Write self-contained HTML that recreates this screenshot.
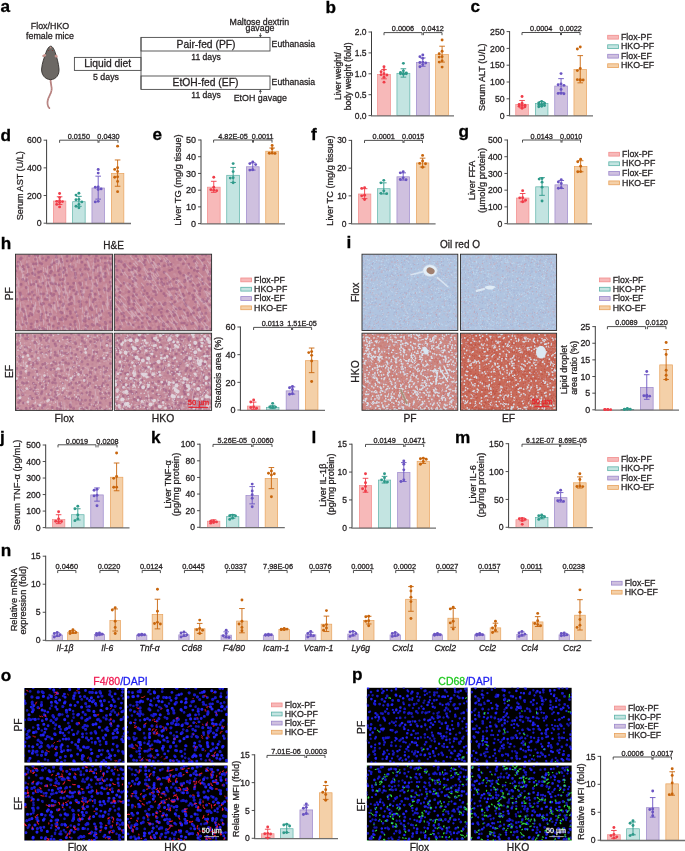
<!DOCTYPE html>
<html><head><meta charset="utf-8"><style>
html,body{margin:0;padding:0;background:#fff;}
svg{display:block;font-family:"Liberation Sans", sans-serif;will-change:transform;}
</style></head><body>
<svg width="685" height="851" viewBox="0 0 685 851" fill="#231f20">
<style>text{stroke:#231f20;stroke-width:0.28px} text.nos{stroke:none}</style>
<defs><filter id="blr" x="-2%" y="-2%" width="104%" height="104%"><feGaussianBlur stdDeviation="0.45"/></filter></defs>
<rect width="685" height="851" fill="#fff"/>
<text x="0.50" y="12.40" font-size="17.2" fill="#000" style="stroke:#000" font-weight="bold">a</text>
<text x="50.00" y="28.60" font-size="8.9" text-anchor="middle">Flox/HKO</text>
<text x="50.00" y="39.30" font-size="8.9" text-anchor="middle">female mice</text>
<g>
<path d="M50.6,79 C50.2,83 52,86 51.6,90 C51.2,94 48.2,97 47.6,101 C47.2,104 47.6,106.5 49.4,108.2" fill="none" stroke="#b27c7a" stroke-width="1.7" stroke-linecap="round"/>
<path d="M50.6,79 C50.2,83 52,86 51.6,90 C51.2,94 48.2,97 47.6,101 C47.2,104 47.6,106.5 49.4,108.2" fill="none" stroke="#d4a6a2" stroke-width="0.6" stroke-dasharray="1 1.2"/>
<path d="M50.6,46.2 C48.8,46.4 47,49.5 46,52.5 C44.5,57 42,63 41.6,69 C41.3,74.5 45,79.6 50.6,79.6 C56.2,79.6 59.4,74.5 59,69 C58.6,63 56.6,57 55.2,52.5 C54.2,49.5 52.4,46 50.6,46.2 Z" fill="#6c6864" stroke="#34302e" stroke-width="0.9"/>
<path d="M50.6,46.4 L49.4,48.2 L51.8,48.2 Z" fill="#c89890"/>
<ellipse cx="44.2" cy="55.6" rx="2.1" ry="1.3" fill="#c8948e" transform="rotate(-20 44.2 55.6)"/>
<ellipse cx="56.2" cy="56.2" rx="1.6" ry="1.3" fill="#c8948e" transform="rotate(20 56.2 56.2)"/>
<circle cx="48.6" cy="50.4" r="0.5" fill="#803030"/><circle cx="52.6" cy="50.4" r="0.5" fill="#803030"/>
</g>
<rect x="74.40" y="57.40" width="66.60" height="13.00" fill="none" stroke="#4a4a4a" stroke-width="0.9"/>
<text x="107.70" y="66.90" font-size="10.3" text-anchor="middle">Liquid diet</text>
<text x="106.00" y="79.80" font-size="8.8" text-anchor="middle">5 days</text>
<rect x="141.00" y="37.40" width="129.00" height="13.60" fill="none" stroke="#4a4a4a" stroke-width="0.9"/>
<rect x="141.00" y="76.00" width="129.00" height="13.40" fill="none" stroke="#4a4a4a" stroke-width="0.9"/>
<line x1="141.00" y1="37.40" x2="141.00" y2="89.40" stroke="#4a4a4a" stroke-width="0.9"/>
<text x="206.00" y="47.60" font-size="10.3" text-anchor="middle">Pair-fed (PF)</text>
<text x="205.50" y="86.40" font-size="10.3" text-anchor="middle">EtOH-fed (EF)</text>
<text x="206.00" y="59.60" font-size="8.6" text-anchor="middle">11 days</text>
<text x="206.00" y="98.20" font-size="8.6" text-anchor="middle">11 days</text>
<text x="271.60" y="46.80" font-size="8.7">Euthanasia</text>
<text x="271.60" y="85.40" font-size="8.7">Euthanasia</text>
<text x="259.40" y="24.60" font-size="8.8" text-anchor="middle">Maltose dextrin</text>
<text x="260.00" y="30.80" font-size="8.8" text-anchor="middle">gavage</text>
<line x1="260.40" y1="33.00" x2="260.40" y2="37.00" stroke="#4a4a4a" stroke-width="0.8"/>
<path d="M258.9,35 L260.4,37.4 L261.9,35 Z" fill="#4a4a4a"/>
<line x1="260.40" y1="89.80" x2="260.40" y2="94.00" stroke="#4a4a4a" stroke-width="0.8"/>
<path d="M258.9,92 L260.4,89.6 L261.9,92 Z" fill="#4a4a4a"/>
<text x="260.30" y="101.20" font-size="8.9" text-anchor="middle">EtOH gavage</text>
<text x="325.50" y="13.00" font-size="17.2" fill="#000" style="stroke:#000" font-weight="bold">b</text>
<rect x="377.55" y="74.57" width="12.90" height="41.03" fill="#f7b9b9" stroke="#f28c8c" stroke-width="0.7"/>
<rect x="396.95" y="73.31" width="12.90" height="42.29" fill="#c3e4e1" stroke="#5cb3a8" stroke-width="0.7"/>
<rect x="416.35" y="62.45" width="12.90" height="53.15" fill="#cfc0df" stroke="#9c88cc" stroke-width="0.7"/>
<rect x="435.65" y="54.50" width="12.90" height="61.10" fill="#f4d0a8" stroke="#e8a25c" stroke-width="0.7"/>
<line x1="371.50" y1="31.50" x2="371.50" y2="115.60" stroke="#3c3c3c" stroke-width="1.0"/>
<line x1="371.00" y1="115.90" x2="454.00" y2="115.90" stroke="#6e6e6e" stroke-width="1.3"/>
<line x1="368.50" y1="115.60" x2="371.50" y2="115.60" stroke="#3c3c3c" stroke-width="0.9"/>
<text x="366.50" y="118.66" font-size="8.5" text-anchor="end">0.0</text>
<line x1="368.50" y1="94.70" x2="371.50" y2="94.70" stroke="#3c3c3c" stroke-width="0.9"/>
<text x="366.50" y="97.76" font-size="8.5" text-anchor="end">0.5</text>
<line x1="368.50" y1="73.80" x2="371.50" y2="73.80" stroke="#3c3c3c" stroke-width="0.9"/>
<text x="366.50" y="76.86" font-size="8.5" text-anchor="end">1.0</text>
<line x1="368.50" y1="52.90" x2="371.50" y2="52.90" stroke="#3c3c3c" stroke-width="0.9"/>
<text x="366.50" y="55.96" font-size="8.5" text-anchor="end">1.5</text>
<line x1="368.50" y1="32.00" x2="371.50" y2="32.00" stroke="#3c3c3c" stroke-width="0.9"/>
<text x="366.50" y="35.06" font-size="8.5" text-anchor="end">2.0</text>
<line x1="384.00" y1="69.62" x2="384.00" y2="78.82" stroke="#f03c48" stroke-width="0.9"/>
<line x1="381.20" y1="69.62" x2="386.80" y2="69.62" stroke="#f03c48" stroke-width="0.9"/>
<line x1="381.20" y1="78.82" x2="386.80" y2="78.82" stroke="#f03c48" stroke-width="0.9"/>
<circle cx="384.00" cy="66.69" r="1.45" fill="#f03c48"/>
<circle cx="384.00" cy="69.62" r="1.45" fill="#f03c48"/>
<circle cx="381.10" cy="71.71" r="1.45" fill="#f03c48"/>
<circle cx="384.00" cy="73.80" r="1.45" fill="#f03c48"/>
<circle cx="381.10" cy="74.64" r="1.45" fill="#f03c48"/>
<circle cx="386.90" cy="75.05" r="1.45" fill="#f03c48"/>
<circle cx="384.00" cy="77.14" r="1.45" fill="#f03c48"/>
<circle cx="384.00" cy="82.16" r="1.45" fill="#f03c48"/>
<line x1="403.40" y1="68.78" x2="403.40" y2="77.14" stroke="#2e9a8a" stroke-width="0.9"/>
<line x1="400.60" y1="68.78" x2="406.20" y2="68.78" stroke="#2e9a8a" stroke-width="0.9"/>
<line x1="400.60" y1="77.14" x2="406.20" y2="77.14" stroke="#2e9a8a" stroke-width="0.9"/>
<circle cx="403.40" cy="63.35" r="1.45" fill="#2e9a8a"/>
<circle cx="403.40" cy="70.87" r="1.45" fill="#2e9a8a"/>
<circle cx="400.50" cy="72.55" r="1.45" fill="#2e9a8a"/>
<circle cx="406.30" cy="72.96" r="1.45" fill="#2e9a8a"/>
<circle cx="403.40" cy="73.38" r="1.45" fill="#2e9a8a"/>
<circle cx="400.50" cy="73.80" r="1.45" fill="#2e9a8a"/>
<circle cx="406.30" cy="73.80" r="1.45" fill="#2e9a8a"/>
<circle cx="403.40" cy="74.22" r="1.45" fill="#2e9a8a"/>
<line x1="422.80" y1="57.92" x2="422.80" y2="66.28" stroke="#6a54c2" stroke-width="0.9"/>
<line x1="420.00" y1="57.92" x2="425.60" y2="57.92" stroke="#6a54c2" stroke-width="0.9"/>
<line x1="420.00" y1="66.28" x2="425.60" y2="66.28" stroke="#6a54c2" stroke-width="0.9"/>
<circle cx="422.80" cy="54.99" r="1.45" fill="#6a54c2"/>
<circle cx="419.90" cy="56.66" r="1.45" fill="#6a54c2"/>
<circle cx="422.80" cy="58.33" r="1.45" fill="#6a54c2"/>
<circle cx="422.80" cy="62.10" r="1.45" fill="#6a54c2"/>
<circle cx="419.90" cy="62.51" r="1.45" fill="#6a54c2"/>
<circle cx="425.70" cy="62.93" r="1.45" fill="#6a54c2"/>
<circle cx="422.80" cy="64.60" r="1.45" fill="#6a54c2"/>
<circle cx="419.90" cy="66.69" r="1.45" fill="#6a54c2"/>
<line x1="442.10" y1="46.21" x2="442.10" y2="62.10" stroke="#c8650c" stroke-width="0.9"/>
<line x1="439.30" y1="46.21" x2="444.90" y2="46.21" stroke="#c8650c" stroke-width="0.9"/>
<line x1="439.30" y1="62.10" x2="444.90" y2="62.10" stroke="#c8650c" stroke-width="0.9"/>
<circle cx="442.10" cy="39.94" r="1.45" fill="#c8650c"/>
<circle cx="442.10" cy="51.23" r="1.45" fill="#c8650c"/>
<circle cx="439.20" cy="53.74" r="1.45" fill="#c8650c"/>
<circle cx="442.10" cy="56.66" r="1.45" fill="#c8650c"/>
<circle cx="439.20" cy="57.08" r="1.45" fill="#c8650c"/>
<circle cx="442.10" cy="60.84" r="1.45" fill="#c8650c"/>
<circle cx="439.20" cy="62.10" r="1.45" fill="#c8650c"/>
<circle cx="442.10" cy="67.11" r="1.45" fill="#c8650c"/>
<path d="M384.00,35.20V32.60H422.00V35.20" fill="none" stroke="#3c3c3c" stroke-width="0.9"/>
<text x="403.00" y="31.30" font-size="7.3" text-anchor="middle">0.0006</text>
<path d="M423.40,35.20V32.60H442.00V35.20" fill="none" stroke="#3c3c3c" stroke-width="0.9"/>
<text x="432.70" y="31.30" font-size="7.3" text-anchor="middle">0.0412</text>
<text transform="translate(341.20,76.10) rotate(-90)" font-size="8.5" text-anchor="middle" fill="#231f20">Liver weight/</text>
<text transform="translate(350.60,76.40) rotate(-90)" font-size="8.6" text-anchor="middle" fill="#231f20">body weight (fold)</text>
<text x="470.50" y="12.40" font-size="17.2" fill="#000" style="stroke:#000" font-weight="bold">c</text>
<rect x="515.75" y="104.53" width="12.60" height="11.07" fill="#f7b9b9" stroke="#f28c8c" stroke-width="0.7"/>
<rect x="535.35" y="103.52" width="12.60" height="12.08" fill="#c3e4e1" stroke="#5cb3a8" stroke-width="0.7"/>
<rect x="554.75" y="86.05" width="12.60" height="29.55" fill="#cfc0df" stroke="#9c88cc" stroke-width="0.7"/>
<rect x="573.95" y="69.58" width="12.60" height="46.02" fill="#f4d0a8" stroke="#e8a25c" stroke-width="0.7"/>
<line x1="509.60" y1="31.10" x2="509.60" y2="115.60" stroke="#3c3c3c" stroke-width="1.0"/>
<line x1="509.10" y1="115.90" x2="593.00" y2="115.90" stroke="#6e6e6e" stroke-width="1.3"/>
<line x1="506.60" y1="115.60" x2="509.60" y2="115.60" stroke="#3c3c3c" stroke-width="0.9"/>
<text x="504.60" y="118.73" font-size="8.7" text-anchor="end">0</text>
<line x1="506.60" y1="98.80" x2="509.60" y2="98.80" stroke="#3c3c3c" stroke-width="0.9"/>
<text x="504.60" y="101.93" font-size="8.7" text-anchor="end">50</text>
<line x1="506.60" y1="82.00" x2="509.60" y2="82.00" stroke="#3c3c3c" stroke-width="0.9"/>
<text x="504.60" y="85.13" font-size="8.7" text-anchor="end">100</text>
<line x1="506.60" y1="65.20" x2="509.60" y2="65.20" stroke="#3c3c3c" stroke-width="0.9"/>
<text x="504.60" y="68.33" font-size="8.7" text-anchor="end">150</text>
<line x1="506.60" y1="48.40" x2="509.60" y2="48.40" stroke="#3c3c3c" stroke-width="0.9"/>
<text x="504.60" y="51.53" font-size="8.7" text-anchor="end">200</text>
<line x1="506.60" y1="31.60" x2="509.60" y2="31.60" stroke="#3c3c3c" stroke-width="0.9"/>
<text x="504.60" y="34.73" font-size="8.7" text-anchor="end">250</text>
<line x1="522.05" y1="100.48" x2="522.05" y2="107.87" stroke="#f03c48" stroke-width="0.9"/>
<line x1="519.25" y1="100.48" x2="524.85" y2="100.48" stroke="#f03c48" stroke-width="0.9"/>
<line x1="519.25" y1="107.87" x2="524.85" y2="107.87" stroke="#f03c48" stroke-width="0.9"/>
<circle cx="522.05" cy="96.45" r="1.45" fill="#f03c48"/>
<circle cx="522.05" cy="103.17" r="1.45" fill="#f03c48"/>
<circle cx="519.15" cy="104.51" r="1.45" fill="#f03c48"/>
<circle cx="524.95" cy="105.18" r="1.45" fill="#f03c48"/>
<circle cx="522.05" cy="105.52" r="1.45" fill="#f03c48"/>
<circle cx="519.15" cy="106.19" r="1.45" fill="#f03c48"/>
<circle cx="524.95" cy="106.86" r="1.45" fill="#f03c48"/>
<circle cx="522.05" cy="108.21" r="1.45" fill="#f03c48"/>
<line x1="541.65" y1="101.49" x2="541.65" y2="104.85" stroke="#2e9a8a" stroke-width="0.9"/>
<line x1="538.85" y1="101.49" x2="544.45" y2="101.49" stroke="#2e9a8a" stroke-width="0.9"/>
<line x1="538.85" y1="104.85" x2="544.45" y2="104.85" stroke="#2e9a8a" stroke-width="0.9"/>
<circle cx="541.65" cy="101.49" r="1.45" fill="#2e9a8a"/>
<circle cx="538.75" cy="102.83" r="1.45" fill="#2e9a8a"/>
<circle cx="544.55" cy="103.17" r="1.45" fill="#2e9a8a"/>
<circle cx="541.65" cy="104.51" r="1.45" fill="#2e9a8a"/>
<circle cx="538.75" cy="104.85" r="1.45" fill="#2e9a8a"/>
<circle cx="544.55" cy="105.52" r="1.45" fill="#2e9a8a"/>
<circle cx="541.65" cy="106.19" r="1.45" fill="#2e9a8a"/>
<circle cx="538.75" cy="106.86" r="1.45" fill="#2e9a8a"/>
<line x1="561.05" y1="78.64" x2="561.05" y2="92.75" stroke="#6a54c2" stroke-width="0.9"/>
<line x1="558.25" y1="78.64" x2="563.85" y2="78.64" stroke="#6a54c2" stroke-width="0.9"/>
<line x1="558.25" y1="92.75" x2="563.85" y2="92.75" stroke="#6a54c2" stroke-width="0.9"/>
<circle cx="561.05" cy="73.60" r="1.45" fill="#6a54c2"/>
<circle cx="561.05" cy="84.02" r="1.45" fill="#6a54c2"/>
<circle cx="558.15" cy="84.69" r="1.45" fill="#6a54c2"/>
<circle cx="563.95" cy="85.36" r="1.45" fill="#6a54c2"/>
<circle cx="561.05" cy="89.39" r="1.45" fill="#6a54c2"/>
<circle cx="561.05" cy="93.42" r="1.45" fill="#6a54c2"/>
<circle cx="558.15" cy="93.42" r="1.45" fill="#6a54c2"/>
<circle cx="563.95" cy="93.76" r="1.45" fill="#6a54c2"/>
<line x1="580.25" y1="55.62" x2="580.25" y2="82.84" stroke="#c8650c" stroke-width="0.9"/>
<line x1="577.45" y1="55.62" x2="583.05" y2="55.62" stroke="#c8650c" stroke-width="0.9"/>
<line x1="577.45" y1="82.84" x2="583.05" y2="82.84" stroke="#c8650c" stroke-width="0.9"/>
<circle cx="580.25" cy="47.06" r="1.45" fill="#c8650c"/>
<circle cx="577.35" cy="49.07" r="1.45" fill="#c8650c"/>
<circle cx="580.25" cy="68.56" r="1.45" fill="#c8650c"/>
<circle cx="577.35" cy="70.58" r="1.45" fill="#c8650c"/>
<circle cx="580.25" cy="79.65" r="1.45" fill="#c8650c"/>
<circle cx="577.35" cy="79.65" r="1.45" fill="#c8650c"/>
<circle cx="583.15" cy="79.98" r="1.45" fill="#c8650c"/>
<circle cx="580.25" cy="80.32" r="1.45" fill="#c8650c"/>
<path d="M522.00,35.10V32.50H560.50V35.10" fill="none" stroke="#3c3c3c" stroke-width="0.9"/>
<text x="541.25" y="31.20" font-size="7.3" text-anchor="middle">0.0004</text>
<path d="M561.50,35.10V32.50H580.00V35.10" fill="none" stroke="#3c3c3c" stroke-width="0.9"/>
<text x="570.75" y="31.20" font-size="7.3" text-anchor="middle">0.0022</text>
<text transform="translate(484.50,77.20) rotate(-90)" font-size="9.1" text-anchor="middle" fill="#231f20">Serum ALT (U/L)</text>
<rect x="607.70" y="35.30" width="10.70" height="3.80" fill="#f7b9b9" stroke="#f28c8c" stroke-width="0.8"/>
<text x="621.00" y="39.90" font-size="8.8">Flox-PF</text>
<rect x="607.70" y="44.80" width="10.70" height="3.80" fill="#c3e4e1" stroke="#5cb3a8" stroke-width="0.8"/>
<text x="621.00" y="49.40" font-size="8.8">HKO-PF</text>
<rect x="607.70" y="54.30" width="10.70" height="3.80" fill="#cfc0df" stroke="#9c88cc" stroke-width="0.8"/>
<text x="621.00" y="58.90" font-size="8.8">Flox-EF</text>
<rect x="607.70" y="63.80" width="10.70" height="3.80" fill="#f4d0a8" stroke="#e8a25c" stroke-width="0.8"/>
<text x="621.00" y="68.40" font-size="8.8">HKO-EF</text>
<text x="0.50" y="141.00" font-size="17.2" fill="#000" style="stroke:#000" font-weight="bold">d</text>
<rect x="53.35" y="201.00" width="12.50" height="22.20" fill="#f7b9b9" stroke="#f28c8c" stroke-width="0.7"/>
<rect x="72.65" y="201.69" width="12.50" height="21.51" fill="#c3e4e1" stroke="#5cb3a8" stroke-width="0.7"/>
<rect x="91.95" y="188.00" width="12.50" height="35.20" fill="#cfc0df" stroke="#9c88cc" stroke-width="0.7"/>
<rect x="111.35" y="173.47" width="12.50" height="49.73" fill="#f4d0a8" stroke="#e8a25c" stroke-width="0.7"/>
<line x1="46.60" y1="139.70" x2="46.60" y2="223.20" stroke="#3c3c3c" stroke-width="1.0"/>
<line x1="46.10" y1="223.50" x2="131.00" y2="223.50" stroke="#6e6e6e" stroke-width="1.3"/>
<line x1="43.60" y1="223.20" x2="46.60" y2="223.20" stroke="#3c3c3c" stroke-width="0.9"/>
<text x="41.60" y="226.35" font-size="8.75" text-anchor="end">0</text>
<line x1="43.60" y1="195.53" x2="46.60" y2="195.53" stroke="#3c3c3c" stroke-width="0.9"/>
<text x="41.60" y="198.68" font-size="8.75" text-anchor="end">200</text>
<line x1="43.60" y1="167.87" x2="46.60" y2="167.87" stroke="#3c3c3c" stroke-width="0.9"/>
<text x="41.60" y="171.02" font-size="8.75" text-anchor="end">400</text>
<line x1="43.60" y1="140.20" x2="46.60" y2="140.20" stroke="#3c3c3c" stroke-width="0.9"/>
<text x="41.60" y="143.35" font-size="8.75" text-anchor="end">600</text>
<line x1="59.60" y1="196.78" x2="59.60" y2="204.52" stroke="#f03c48" stroke-width="0.9"/>
<line x1="56.80" y1="196.78" x2="62.40" y2="196.78" stroke="#f03c48" stroke-width="0.9"/>
<line x1="56.80" y1="204.52" x2="62.40" y2="204.52" stroke="#f03c48" stroke-width="0.9"/>
<circle cx="59.60" cy="193.46" r="1.45" fill="#f03c48"/>
<circle cx="59.60" cy="197.61" r="1.45" fill="#f03c48"/>
<circle cx="59.60" cy="200.65" r="1.45" fill="#f03c48"/>
<circle cx="56.70" cy="201.34" r="1.45" fill="#f03c48"/>
<circle cx="62.50" cy="201.62" r="1.45" fill="#f03c48"/>
<circle cx="59.60" cy="202.59" r="1.45" fill="#f03c48"/>
<circle cx="56.70" cy="204.39" r="1.45" fill="#f03c48"/>
<circle cx="59.60" cy="206.88" r="1.45" fill="#f03c48"/>
<line x1="78.90" y1="196.36" x2="78.90" y2="206.32" stroke="#2e9a8a" stroke-width="0.9"/>
<line x1="76.10" y1="196.36" x2="81.70" y2="196.36" stroke="#2e9a8a" stroke-width="0.9"/>
<line x1="76.10" y1="206.32" x2="81.70" y2="206.32" stroke="#2e9a8a" stroke-width="0.9"/>
<circle cx="78.90" cy="193.18" r="1.45" fill="#2e9a8a"/>
<circle cx="76.00" cy="195.12" r="1.45" fill="#2e9a8a"/>
<circle cx="78.90" cy="199.41" r="1.45" fill="#2e9a8a"/>
<circle cx="76.00" cy="199.68" r="1.45" fill="#2e9a8a"/>
<circle cx="81.80" cy="201.90" r="1.45" fill="#2e9a8a"/>
<circle cx="78.90" cy="204.39" r="1.45" fill="#2e9a8a"/>
<circle cx="76.00" cy="206.32" r="1.45" fill="#2e9a8a"/>
<circle cx="78.90" cy="207.84" r="1.45" fill="#2e9a8a"/>
<line x1="98.20" y1="176.17" x2="98.20" y2="199.13" stroke="#6a54c2" stroke-width="0.9"/>
<line x1="95.40" y1="176.17" x2="101.00" y2="176.17" stroke="#6a54c2" stroke-width="0.9"/>
<line x1="95.40" y1="199.13" x2="101.00" y2="199.13" stroke="#6a54c2" stroke-width="0.9"/>
<circle cx="98.20" cy="169.53" r="1.45" fill="#6a54c2"/>
<circle cx="98.20" cy="173.12" r="1.45" fill="#6a54c2"/>
<circle cx="98.20" cy="186.96" r="1.45" fill="#6a54c2"/>
<circle cx="95.30" cy="187.23" r="1.45" fill="#6a54c2"/>
<circle cx="101.10" cy="188.89" r="1.45" fill="#6a54c2"/>
<circle cx="98.20" cy="189.45" r="1.45" fill="#6a54c2"/>
<circle cx="98.20" cy="201.34" r="1.45" fill="#6a54c2"/>
<circle cx="95.30" cy="201.90" r="1.45" fill="#6a54c2"/>
<line x1="117.60" y1="159.98" x2="117.60" y2="186.26" stroke="#c8650c" stroke-width="0.9"/>
<line x1="114.80" y1="159.98" x2="120.40" y2="159.98" stroke="#c8650c" stroke-width="0.9"/>
<line x1="114.80" y1="186.26" x2="120.40" y2="186.26" stroke="#c8650c" stroke-width="0.9"/>
<circle cx="117.60" cy="146.15" r="1.45" fill="#c8650c"/>
<circle cx="117.60" cy="167.73" r="1.45" fill="#c8650c"/>
<circle cx="114.70" cy="169.39" r="1.45" fill="#c8650c"/>
<circle cx="117.60" cy="171.46" r="1.45" fill="#c8650c"/>
<circle cx="117.60" cy="176.86" r="1.45" fill="#c8650c"/>
<circle cx="114.70" cy="177.27" r="1.45" fill="#c8650c"/>
<circle cx="117.60" cy="181.42" r="1.45" fill="#c8650c"/>
<circle cx="117.60" cy="191.66" r="1.45" fill="#c8650c"/>
<path d="M59.60,142.80V140.20H98.00V142.80" fill="none" stroke="#3c3c3c" stroke-width="0.9"/>
<text x="78.80" y="138.90" font-size="7.3" text-anchor="middle">0.0150</text>
<path d="M99.00,142.80V140.20H118.00V142.80" fill="none" stroke="#3c3c3c" stroke-width="0.9"/>
<text x="108.50" y="138.90" font-size="7.3" text-anchor="middle">0.0430</text>
<text transform="translate(22.70,185.70) rotate(-90)" font-size="9.1" text-anchor="middle" fill="#231f20">Serum AST (U/L)</text>
<text x="152.50" y="140.00" font-size="17.2" fill="#000" style="stroke:#000" font-weight="bold">e</text>
<rect x="207.35" y="187.17" width="12.80" height="36.43" fill="#f7b9b9" stroke="#f28c8c" stroke-width="0.7"/>
<rect x="226.75" y="175.29" width="12.80" height="48.31" fill="#c3e4e1" stroke="#5cb3a8" stroke-width="0.7"/>
<rect x="246.35" y="166.77" width="12.80" height="56.83" fill="#cfc0df" stroke="#9c88cc" stroke-width="0.7"/>
<rect x="265.75" y="151.22" width="12.80" height="72.38" fill="#f4d0a8" stroke="#e8a25c" stroke-width="0.7"/>
<line x1="201.00" y1="139.50" x2="201.00" y2="223.60" stroke="#3c3c3c" stroke-width="1.0"/>
<line x1="200.50" y1="223.90" x2="285.00" y2="223.90" stroke="#6e6e6e" stroke-width="1.3"/>
<line x1="198.00" y1="223.60" x2="201.00" y2="223.60" stroke="#3c3c3c" stroke-width="0.9"/>
<text x="196.00" y="226.84" font-size="9.0" text-anchor="end">0</text>
<line x1="198.00" y1="206.88" x2="201.00" y2="206.88" stroke="#3c3c3c" stroke-width="0.9"/>
<text x="196.00" y="210.12" font-size="9.0" text-anchor="end">10</text>
<line x1="198.00" y1="190.16" x2="201.00" y2="190.16" stroke="#3c3c3c" stroke-width="0.9"/>
<text x="196.00" y="193.40" font-size="9.0" text-anchor="end">20</text>
<line x1="198.00" y1="173.44" x2="201.00" y2="173.44" stroke="#3c3c3c" stroke-width="0.9"/>
<text x="196.00" y="176.68" font-size="9.0" text-anchor="end">30</text>
<line x1="198.00" y1="156.72" x2="201.00" y2="156.72" stroke="#3c3c3c" stroke-width="0.9"/>
<text x="196.00" y="159.96" font-size="9.0" text-anchor="end">40</text>
<line x1="198.00" y1="140.00" x2="201.00" y2="140.00" stroke="#3c3c3c" stroke-width="0.9"/>
<text x="196.00" y="143.24" font-size="9.0" text-anchor="end">50</text>
<line x1="213.75" y1="181.30" x2="213.75" y2="192.33" stroke="#f03c48" stroke-width="0.9"/>
<line x1="210.95" y1="181.30" x2="216.55" y2="181.30" stroke="#f03c48" stroke-width="0.9"/>
<line x1="210.95" y1="192.33" x2="216.55" y2="192.33" stroke="#f03c48" stroke-width="0.9"/>
<circle cx="213.75" cy="177.29" r="1.45" fill="#f03c48"/>
<circle cx="213.75" cy="187.15" r="1.45" fill="#f03c48"/>
<circle cx="210.85" cy="189.66" r="1.45" fill="#f03c48"/>
<circle cx="213.75" cy="190.16" r="1.45" fill="#f03c48"/>
<circle cx="216.65" cy="190.66" r="1.45" fill="#f03c48"/>
<line x1="233.15" y1="167.42" x2="233.15" y2="182.47" stroke="#2e9a8a" stroke-width="0.9"/>
<line x1="230.35" y1="167.42" x2="235.95" y2="167.42" stroke="#2e9a8a" stroke-width="0.9"/>
<line x1="230.35" y1="182.47" x2="235.95" y2="182.47" stroke="#2e9a8a" stroke-width="0.9"/>
<circle cx="233.15" cy="163.58" r="1.45" fill="#2e9a8a"/>
<circle cx="233.15" cy="171.60" r="1.45" fill="#2e9a8a"/>
<circle cx="233.15" cy="177.79" r="1.45" fill="#2e9a8a"/>
<circle cx="230.25" cy="178.12" r="1.45" fill="#2e9a8a"/>
<circle cx="233.15" cy="182.80" r="1.45" fill="#2e9a8a"/>
<line x1="252.75" y1="162.74" x2="252.75" y2="170.10" stroke="#6a54c2" stroke-width="0.9"/>
<line x1="249.95" y1="162.74" x2="255.55" y2="162.74" stroke="#6a54c2" stroke-width="0.9"/>
<line x1="249.95" y1="170.10" x2="255.55" y2="170.10" stroke="#6a54c2" stroke-width="0.9"/>
<circle cx="252.75" cy="162.07" r="1.45" fill="#6a54c2"/>
<circle cx="249.85" cy="163.58" r="1.45" fill="#6a54c2"/>
<circle cx="255.65" cy="164.58" r="1.45" fill="#6a54c2"/>
<circle cx="252.75" cy="169.76" r="1.45" fill="#6a54c2"/>
<circle cx="249.85" cy="170.10" r="1.45" fill="#6a54c2"/>
<line x1="272.15" y1="148.03" x2="272.15" y2="153.71" stroke="#c8650c" stroke-width="0.9"/>
<line x1="269.35" y1="148.03" x2="274.95" y2="148.03" stroke="#c8650c" stroke-width="0.9"/>
<line x1="269.35" y1="153.71" x2="274.95" y2="153.71" stroke="#c8650c" stroke-width="0.9"/>
<circle cx="272.15" cy="145.52" r="1.45" fill="#c8650c"/>
<circle cx="272.15" cy="148.69" r="1.45" fill="#c8650c"/>
<circle cx="272.15" cy="153.04" r="1.45" fill="#c8650c"/>
<circle cx="269.25" cy="153.21" r="1.45" fill="#c8650c"/>
<circle cx="275.05" cy="153.38" r="1.45" fill="#c8650c"/>
<path d="M213.60,142.60V140.00H252.50V142.60" fill="none" stroke="#3c3c3c" stroke-width="0.9"/>
<text x="233.05" y="138.70" font-size="7.3" text-anchor="middle">4.82E-05</text>
<path d="M253.50,142.60V140.00H272.00V142.60" fill="none" stroke="#3c3c3c" stroke-width="0.9"/>
<text x="262.75" y="138.70" font-size="7.3" text-anchor="middle">0.0011</text>
<text transform="translate(180.90,180.00) rotate(-90)" font-size="9.25" text-anchor="middle" fill="#231f20">Liver TG (mg/g tissue)</text>
<text x="311.00" y="140.00" font-size="17.2" fill="#000" style="stroke:#000" font-weight="bold">f</text>
<rect x="358.35" y="194.00" width="12.50" height="29.60" fill="#f7b9b9" stroke="#f28c8c" stroke-width="0.7"/>
<rect x="377.55" y="188.73" width="12.50" height="34.87" fill="#c3e4e1" stroke="#5cb3a8" stroke-width="0.7"/>
<rect x="396.95" y="176.80" width="12.50" height="46.80" fill="#cfc0df" stroke="#9c88cc" stroke-width="0.7"/>
<rect x="416.35" y="162.94" width="12.50" height="60.66" fill="#f4d0a8" stroke="#e8a25c" stroke-width="0.7"/>
<line x1="351.60" y1="139.90" x2="351.60" y2="223.60" stroke="#3c3c3c" stroke-width="1.0"/>
<line x1="351.10" y1="223.90" x2="435.60" y2="223.90" stroke="#6e6e6e" stroke-width="1.3"/>
<line x1="348.60" y1="223.60" x2="351.60" y2="223.60" stroke="#3c3c3c" stroke-width="0.9"/>
<text x="346.60" y="226.66" font-size="8.5" text-anchor="end">0</text>
<line x1="348.60" y1="195.87" x2="351.60" y2="195.87" stroke="#3c3c3c" stroke-width="0.9"/>
<text x="346.60" y="198.93" font-size="8.5" text-anchor="end">10</text>
<line x1="348.60" y1="168.13" x2="351.60" y2="168.13" stroke="#3c3c3c" stroke-width="0.9"/>
<text x="346.60" y="171.19" font-size="8.5" text-anchor="end">20</text>
<line x1="348.60" y1="140.40" x2="351.60" y2="140.40" stroke="#3c3c3c" stroke-width="0.9"/>
<text x="346.60" y="143.46" font-size="8.5" text-anchor="end">30</text>
<line x1="364.60" y1="188.66" x2="364.60" y2="198.64" stroke="#f03c48" stroke-width="0.9"/>
<line x1="361.80" y1="188.66" x2="367.40" y2="188.66" stroke="#f03c48" stroke-width="0.9"/>
<line x1="361.80" y1="198.64" x2="367.40" y2="198.64" stroke="#f03c48" stroke-width="0.9"/>
<circle cx="364.60" cy="187.82" r="1.45" fill="#f03c48"/>
<circle cx="361.70" cy="188.38" r="1.45" fill="#f03c48"/>
<circle cx="364.60" cy="195.31" r="1.45" fill="#f03c48"/>
<circle cx="361.70" cy="195.87" r="1.45" fill="#f03c48"/>
<circle cx="364.60" cy="199.47" r="1.45" fill="#f03c48"/>
<line x1="383.80" y1="182.83" x2="383.80" y2="193.93" stroke="#2e9a8a" stroke-width="0.9"/>
<line x1="381.00" y1="182.83" x2="386.60" y2="182.83" stroke="#2e9a8a" stroke-width="0.9"/>
<line x1="381.00" y1="193.93" x2="386.60" y2="193.93" stroke="#2e9a8a" stroke-width="0.9"/>
<circle cx="383.80" cy="180.34" r="1.45" fill="#2e9a8a"/>
<circle cx="380.90" cy="182.83" r="1.45" fill="#2e9a8a"/>
<circle cx="383.80" cy="190.87" r="1.45" fill="#2e9a8a"/>
<circle cx="380.90" cy="193.37" r="1.45" fill="#2e9a8a"/>
<circle cx="386.70" cy="193.65" r="1.45" fill="#2e9a8a"/>
<line x1="403.20" y1="172.85" x2="403.20" y2="180.06" stroke="#6a54c2" stroke-width="0.9"/>
<line x1="400.40" y1="172.85" x2="406.00" y2="172.85" stroke="#6a54c2" stroke-width="0.9"/>
<line x1="400.40" y1="180.06" x2="406.00" y2="180.06" stroke="#6a54c2" stroke-width="0.9"/>
<circle cx="403.20" cy="171.74" r="1.45" fill="#6a54c2"/>
<circle cx="400.30" cy="172.85" r="1.45" fill="#6a54c2"/>
<circle cx="403.20" cy="177.84" r="1.45" fill="#6a54c2"/>
<circle cx="400.30" cy="179.50" r="1.45" fill="#6a54c2"/>
<circle cx="406.10" cy="179.78" r="1.45" fill="#6a54c2"/>
<line x1="422.60" y1="158.15" x2="422.60" y2="167.02" stroke="#c8650c" stroke-width="0.9"/>
<line x1="419.80" y1="158.15" x2="425.40" y2="158.15" stroke="#c8650c" stroke-width="0.9"/>
<line x1="419.80" y1="167.02" x2="425.40" y2="167.02" stroke="#c8650c" stroke-width="0.9"/>
<circle cx="422.60" cy="155.38" r="1.45" fill="#c8650c"/>
<circle cx="422.60" cy="160.92" r="1.45" fill="#c8650c"/>
<circle cx="419.70" cy="163.42" r="1.45" fill="#c8650c"/>
<circle cx="425.50" cy="163.70" r="1.45" fill="#c8650c"/>
<circle cx="422.60" cy="167.30" r="1.45" fill="#c8650c"/>
<path d="M364.50,143.00V140.40H403.00V143.00" fill="none" stroke="#3c3c3c" stroke-width="0.9"/>
<text x="383.75" y="139.10" font-size="7.3" text-anchor="middle">0.0001</text>
<path d="M404.00,143.00V140.40H422.50V143.00" fill="none" stroke="#3c3c3c" stroke-width="0.9"/>
<text x="413.25" y="139.10" font-size="7.3" text-anchor="middle">0.0015</text>
<text transform="translate(333.30,180.60) rotate(-90)" font-size="9.2" text-anchor="middle" fill="#231f20">Liver TC (mg/g tissue)</text>
<text x="458.50" y="136.60" font-size="17.2" fill="#000" style="stroke:#000" font-weight="bold">g</text>
<rect x="516.35" y="198.03" width="12.60" height="25.57" fill="#f7b9b9" stroke="#f28c8c" stroke-width="0.7"/>
<rect x="535.75" y="186.83" width="12.60" height="36.77" fill="#c3e4e1" stroke="#5cb3a8" stroke-width="0.7"/>
<rect x="554.95" y="184.83" width="12.60" height="38.77" fill="#cfc0df" stroke="#9c88cc" stroke-width="0.7"/>
<rect x="574.35" y="166.60" width="12.60" height="57.00" fill="#f4d0a8" stroke="#e8a25c" stroke-width="0.7"/>
<line x1="507.40" y1="139.50" x2="507.40" y2="223.60" stroke="#3c3c3c" stroke-width="1.0"/>
<line x1="506.90" y1="223.90" x2="592.00" y2="223.90" stroke="#6e6e6e" stroke-width="1.3"/>
<line x1="504.40" y1="223.60" x2="507.40" y2="223.60" stroke="#3c3c3c" stroke-width="0.9"/>
<text x="502.40" y="226.73" font-size="8.7" text-anchor="end">0</text>
<line x1="504.40" y1="206.88" x2="507.40" y2="206.88" stroke="#3c3c3c" stroke-width="0.9"/>
<text x="502.40" y="210.01" font-size="8.7" text-anchor="end">100</text>
<line x1="504.40" y1="190.16" x2="507.40" y2="190.16" stroke="#3c3c3c" stroke-width="0.9"/>
<text x="502.40" y="193.29" font-size="8.7" text-anchor="end">200</text>
<line x1="504.40" y1="173.44" x2="507.40" y2="173.44" stroke="#3c3c3c" stroke-width="0.9"/>
<text x="502.40" y="176.57" font-size="8.7" text-anchor="end">300</text>
<line x1="504.40" y1="156.72" x2="507.40" y2="156.72" stroke="#3c3c3c" stroke-width="0.9"/>
<text x="502.40" y="159.85" font-size="8.7" text-anchor="end">400</text>
<line x1="504.40" y1="140.00" x2="507.40" y2="140.00" stroke="#3c3c3c" stroke-width="0.9"/>
<text x="502.40" y="143.13" font-size="8.7" text-anchor="end">500</text>
<line x1="522.65" y1="193.50" x2="522.65" y2="201.86" stroke="#f03c48" stroke-width="0.9"/>
<line x1="519.85" y1="193.50" x2="525.45" y2="193.50" stroke="#f03c48" stroke-width="0.9"/>
<line x1="519.85" y1="201.86" x2="525.45" y2="201.86" stroke="#f03c48" stroke-width="0.9"/>
<circle cx="522.65" cy="190.66" r="1.45" fill="#f03c48"/>
<circle cx="522.65" cy="197.68" r="1.45" fill="#f03c48"/>
<circle cx="519.75" cy="197.85" r="1.45" fill="#f03c48"/>
<circle cx="525.55" cy="200.19" r="1.45" fill="#f03c48"/>
<circle cx="522.65" cy="201.70" r="1.45" fill="#f03c48"/>
<line x1="542.05" y1="177.62" x2="542.05" y2="195.34" stroke="#2e9a8a" stroke-width="0.9"/>
<line x1="539.25" y1="177.62" x2="544.85" y2="177.62" stroke="#2e9a8a" stroke-width="0.9"/>
<line x1="539.25" y1="195.34" x2="544.85" y2="195.34" stroke="#2e9a8a" stroke-width="0.9"/>
<circle cx="542.05" cy="178.46" r="1.45" fill="#2e9a8a"/>
<circle cx="539.15" cy="179.12" r="1.45" fill="#2e9a8a"/>
<circle cx="542.05" cy="182.13" r="1.45" fill="#2e9a8a"/>
<circle cx="542.05" cy="187.15" r="1.45" fill="#2e9a8a"/>
<circle cx="542.05" cy="201.03" r="1.45" fill="#2e9a8a"/>
<line x1="561.25" y1="180.46" x2="561.25" y2="188.49" stroke="#6a54c2" stroke-width="0.9"/>
<line x1="558.45" y1="180.46" x2="564.05" y2="180.46" stroke="#6a54c2" stroke-width="0.9"/>
<line x1="558.45" y1="188.49" x2="564.05" y2="188.49" stroke="#6a54c2" stroke-width="0.9"/>
<circle cx="561.25" cy="179.63" r="1.45" fill="#6a54c2"/>
<circle cx="558.35" cy="181.97" r="1.45" fill="#6a54c2"/>
<circle cx="561.25" cy="183.47" r="1.45" fill="#6a54c2"/>
<circle cx="561.25" cy="187.82" r="1.45" fill="#6a54c2"/>
<circle cx="558.35" cy="188.32" r="1.45" fill="#6a54c2"/>
<line x1="580.65" y1="160.73" x2="580.65" y2="171.77" stroke="#c8650c" stroke-width="0.9"/>
<line x1="577.85" y1="160.73" x2="583.45" y2="160.73" stroke="#c8650c" stroke-width="0.9"/>
<line x1="577.85" y1="171.77" x2="583.45" y2="171.77" stroke="#c8650c" stroke-width="0.9"/>
<circle cx="580.65" cy="159.23" r="1.45" fill="#c8650c"/>
<circle cx="577.75" cy="161.74" r="1.45" fill="#c8650c"/>
<circle cx="580.65" cy="166.25" r="1.45" fill="#c8650c"/>
<circle cx="580.65" cy="171.60" r="1.45" fill="#c8650c"/>
<circle cx="577.75" cy="171.77" r="1.45" fill="#c8650c"/>
<path d="M522.50,142.60V140.00H561.00V142.60" fill="none" stroke="#3c3c3c" stroke-width="0.9"/>
<text x="541.75" y="138.70" font-size="7.3" text-anchor="middle">0.0143</text>
<path d="M562.00,142.60V140.00H580.50V142.60" fill="none" stroke="#3c3c3c" stroke-width="0.9"/>
<text x="571.25" y="138.70" font-size="7.3" text-anchor="middle">0.0010</text>
<text transform="translate(475.20,180.40) rotate(-90)" font-size="9.2" text-anchor="middle" fill="#231f20">Liver FFA</text>
<text transform="translate(485.40,180.40) rotate(-90)" font-size="9.25" text-anchor="middle" fill="#231f20">(µmol/g protein)</text>
<rect x="608.80" y="152.30" width="10.70" height="3.80" fill="#f7b9b9" stroke="#f28c8c" stroke-width="0.8"/>
<text x="622.10" y="156.90" font-size="8.8">Flox-PF</text>
<rect x="608.80" y="161.85" width="10.70" height="3.80" fill="#c3e4e1" stroke="#5cb3a8" stroke-width="0.8"/>
<text x="622.10" y="166.45" font-size="8.8">HKO-PF</text>
<rect x="608.80" y="171.40" width="10.70" height="3.80" fill="#cfc0df" stroke="#9c88cc" stroke-width="0.8"/>
<text x="622.10" y="176.00" font-size="8.8">Flox-EF</text>
<rect x="608.80" y="180.95" width="10.70" height="3.80" fill="#f4d0a8" stroke="#e8a25c" stroke-width="0.8"/>
<text x="622.10" y="185.55" font-size="8.8">HKO-EF</text>
<text x="0.70" y="249.00" font-size="17.2" fill="#000" style="stroke:#000" font-weight="bold">h</text>
<text x="113.60" y="248.50" font-size="10" text-anchor="middle">H&amp;E</text>
<clipPath id="c11"><rect x="15.50" y="254.20" width="97.00" height="76.50"/></clipPath>
<g clip-path="url(#c11)"><g fill="none" filter="url(#blr)">
<rect x="15.50" y="254.20" width="97.00" height="76.50" fill="#c58696"/>
<path d="M59.4 297.0h0M105.1 289.8h0M64.8 299.1h0M33.4 293.4h0M76.6 314.9h0M24.6 277.4h0M24.3 316.1h0M82.8 257.4h0M110.8 328.0h0M78.9 301.3h0M30.8 255.3h0M66.8 258.8h0M34.0 272.7h0M18.4 289.7h0M58.2 318.6h0M65.9 303.2h0M64.0 304.9h0M59.9 275.5h0M112.3 330.4h0M97.0 308.3h0M46.1 271.8h0M43.5 259.6h0M89.8 284.8h0M97.6 283.8h0M108.4 319.0h0M15.6 270.2h0M103.8 290.2h0M110.6 284.6h0M22.6 302.4h0M91.0 274.8h0M24.0 279.6h0M109.0 312.2h0M26.9 273.0h0M25.3 258.8h0M92.8 267.8h0M69.8 288.4h0M34.0 310.2h0M28.2 303.4h0M26.8 286.4h0M36.1 274.8h0M109.7 315.7h0M45.0 321.9h0M35.9 284.4h0M98.4 303.3h0M25.2 329.9h0M36.2 274.0h0M90.5 279.4h0M44.2 259.8h0M24.2 298.8h0M39.1 300.2h0M51.6 288.9h0M108.5 291.2h0M71.2 320.5h0M33.2 266.0h0M103.6 316.8h0M39.7 268.7h0M87.2 326.1h0M34.6 326.9h0M101.1 300.4h0M56.4 262.1h0M19.3 327.8h0M38.6 308.1h0M40.4 317.2h0M73.4 276.6h0M32.5 309.3h0M22.2 271.7h0M69.8 319.4h0M75.1 275.6h0M104.5 269.8h0M17.1 274.8h0M58.7 258.8h0M32.6 282.4h0M71.0 264.3h0M50.6 322.4h0M110.6 304.5h0M82.5 298.9h0M29.1 256.9h0M17.2 323.8h0M83.5 327.9h0M17.6 302.9h0M62.3 310.1h0M46.4 330.7h0M22.8 296.0h0M87.0 323.1h0M87.0 308.0h0M92.4 324.2h0M49.6 306.6h0M102.9 320.8h0M56.0 314.7h0M99.3 298.0h0M76.1 283.4h0M72.0 300.8h0M23.3 303.1h0M111.9 321.5h0M86.1 283.9h0M86.8 298.6h0M58.2 318.3h0M23.6 311.6h0M18.4 300.2h0M62.2 271.8h0M83.2 292.2h0M75.1 324.6h0M40.3 255.1h0M44.7 306.1h0M35.1 267.2h0M103.4 304.7h0M58.4 322.4h0M47.2 305.1h0M34.8 287.2h0M93.7 324.1h0M100.9 283.6h0M72.1 278.4h0M28.7 292.2h0M96.7 319.1h0M84.5 326.9h0M42.3 267.1h0M59.2 275.2h0M36.3 285.9h0M76.2 292.0h0M46.1 318.4h0M110.8 288.8h0M22.7 256.6h0M100.2 257.4h0M84.2 297.8h0M45.5 314.8h0M17.4 264.6h0M59.6 256.1h0M96.0 272.4h0M29.2 257.8h0M76.5 288.4h0M76.6 304.3h0M93.8 327.5h0M81.9 269.4h0M61.6 267.9h0M16.5 290.3h0M84.8 267.9h0M41.9 280.6h0M83.1 294.0h0M75.1 312.0h0M53.7 314.8h0M103.4 260.9h0M106.0 309.5h0M28.1 288.9h0M76.2 323.8h0M52.0 297.7h0M100.8 315.2h0M107.1 289.7h0M78.7 269.9h0M85.5 316.8h0M77.7 309.1h0M36.2 323.0h0M110.6 329.0h0M67.6 314.7h0M46.6 323.8h0M98.5 280.9h0M23.5 287.9h0M68.9 313.0h0M62.8 256.4h0M94.0 259.1h0M93.1 267.4h0M48.0 314.5h0M29.1 265.6h0M65.6 309.6h0M97.0 306.9h0M107.2 291.9h0M107.6 260.8h0M37.0 294.5h0M43.6 310.0h0M77.5 294.2h0M97.3 297.0h0M45.7 283.4h0M97.5 323.1h0M35.7 319.3h0M109.4 294.3h0M71.1 269.6h0M67.5 292.7h0M74.2 256.3h0M109.5 293.7h0M54.4 315.5h0M70.1 291.8h0M82.5 259.2h0M67.8 285.9h0M108.3 324.8h0M41.6 290.4h0M27.8 287.4h0M94.6 323.1h0M61.7 278.5h0M34.1 301.5h0M105.3 264.1h0M91.1 255.9h0M34.3 271.6h0M82.1 278.8h0M50.0 301.6h0M25.7 310.1h0M27.4 293.3h0M39.8 269.3h0M66.9 287.6h0M51.9 285.8h0M66.8 266.4h0M35.3 302.5h0M77.4 294.7h0M98.1 301.0h0M98.6 272.0h0M87.4 316.2h0M103.1 278.4h0M46.1 324.8h0M36.7 330.6h0M101.6 264.4h0M38.7 309.8h0M40.7 261.6h0M96.2 286.5h0M92.1 263.8h0M54.6 306.6h0M17.2 269.6h0M81.7 323.9h0M109.4 263.0h0M64.6 312.2h0M64.3 306.7h0M33.8 259.6h0M25.8 257.1h0M69.0 293.6h0M70.7 265.4h0M33.4 269.8h0M97.0 330.0h0M105.4 261.5h0M21.5 327.0h0M60.3 312.7h0M47.2 289.9h0M65.5 287.1h0M73.8 255.2h0M83.5 318.8h0M33.1 288.9h0M87.2 285.2h0M34.4 266.8h0M65.2 255.4h0M102.1 315.5h0M83.9 320.0h0M76.6 285.1h0M73.7 292.8h0M110.8 315.8h0M40.6 323.9h0M87.7 313.7h0M94.5 285.2h0M102.5 321.5h0M82.9 312.9h0M89.7 285.2h0M85.6 259.6h0M48.6 290.1h0M16.5 281.4h0M77.5 301.9h0M38.0 326.5h0M80.1 280.0h0M79.5 297.8h0M67.2 284.0h0M112.5 303.3h0M83.5 312.5h0M110.6 255.9h0M75.2 310.7h0M40.4 284.9h0M20.4 269.2h0M51.9 261.7h0M39.8 323.5h0M68.9 293.0h0M109.3 297.7h0M112.0 303.0h0M94.0 260.0h0M73.5 312.3h0M19.9 325.4h0M31.0 290.3h0M31.9 292.1h0M74.8 258.7h0M107.2 286.4h0M66.6 299.9h0M51.0 276.1h0M79.0 297.1h0M43.0 309.0h0M44.2 255.3h0M39.3 257.5h0M30.7 311.9h0M53.3 322.9h0M88.1 258.0h0M111.4 326.5h0M22.6 323.5h0M57.2 290.7h0M109.9 272.8h0M66.3 325.9h0M85.6 290.0h0M110.4 316.7h0M74.1 263.0h0M76.1 289.1h0M35.3 258.2h0M66.7 263.7h0M58.5 305.3h0M59.7 274.3h0M72.0 286.3h0M91.0 294.8h0M112.3 327.1h0M86.7 272.4h0M26.5 322.5h0M91.6 302.0h0M50.3 275.0h0M81.9 297.4h0M72.9 302.6h0M88.6 268.7h0M39.6 329.1h0M104.3 321.4h0M19.3 258.9h0M41.8 286.7h0M76.0 262.0h0M68.0 259.7h0M23.9 305.9h0M68.9 302.5h0M51.7 290.8h0M35.9 280.5h0M87.7 318.3h0M22.7 263.4h0M94.0 301.9h0M90.1 270.5h0M56.7 273.9h0M94.1 282.4h0M78.9 329.9h0M47.1 296.2h0M87.9 324.6h0M57.0 282.4h0M24.9 321.2h0M23.1 260.6h0M70.2 291.3h0M82.0 277.1h0M90.7 260.0h0M36.2 304.9h0M23.4 277.4h0M85.8 307.3h0M42.9 265.1h0M50.2 309.7h0M51.0 263.2h0M84.3 297.7h0M104.6 326.1h0M104.1 287.7h0M93.4 277.5h0M46.3 284.8h0M106.2 322.6h0M39.6 281.9h0M51.0 282.0h0M53.9 283.8h0M34.4 297.3h0M92.8 295.6h0M96.6 297.3h0M32.6 312.3h0M100.9 275.7h0M17.7 293.6h0M68.3 297.6h0M109.2 304.0h0M93.5 259.1h0M68.5 314.5h0M23.7 260.4h0M87.0 323.0h0M23.7 302.7h0M29.5 311.3h0M78.5 273.0h0M36.9 312.7h0M66.1 312.7h0M53.8 280.0h0M109.4 305.6h0M63.4 295.3h0M85.4 308.4h0M104.3 285.6h0M95.6 305.2h0M98.3 315.9h0M96.4 322.2h0M108.4 303.2h0M66.3 308.5h0M93.3 286.5h0M56.3 265.4h0M87.4 330.0h0M51.9 267.0h0M35.3 286.7h0M43.8 328.4h0M21.2 277.8h0M26.6 303.8h0M90.8 267.9h0M21.5 289.3h0M72.2 323.8h0M19.0 262.5h0M33.4 270.8h0M38.3 309.1h0M73.2 271.3h0M33.4 275.7h0M32.2 312.1h0M45.7 296.1h0M94.8 290.9h0M40.8 322.1h0M104.2 280.4h0M68.6 327.4h0M62.3 271.1h0M20.3 326.7h0M93.2 283.7h0M66.7 293.7h0M42.1 330.0h0M79.3 272.4h0M16.6 290.4h0M51.5 315.2h0M84.7 300.6h0M30.8 266.2h0M46.7 274.0h0M99.8 293.7h0M77.3 330.2h0M41.4 295.1h0M30.1 313.1h0M15.6 317.0h0M97.6 317.1h0M23.5 274.8h0M85.0 261.6h0M62.1 290.1h0M108.2 299.1h0M98.7 277.4h0M92.1 286.1h0M104.4 261.2h0M95.7 270.1h0M68.2 294.4h0M30.8 317.8h0M45.7 278.0h0M22.9 277.6h0M60.8 308.9h0M50.4 306.8h0M25.8 284.4h0M60.3 328.2h0M96.0 304.2h0M16.7 283.1h0M84.4 272.4h0M70.2 289.2h0M16.5 330.1h0M93.0 270.0h0M75.3 276.4h0M52.0 295.5h0M44.4 280.0h0M53.5 305.2h0M40.4 269.5h0M86.5 279.4h0M107.2 297.3h0M85.7 279.6h0M95.7 261.3h0M29.2 261.4h0M81.2 308.4h0M32.9 285.0h0M96.7 299.5h0M24.2 271.5h0M30.7 263.7h0M55.0 259.8h0M104.8 286.9h0M65.1 303.7h0M89.9 317.0h0M52.9 279.6h0M55.5 255.4h0M54.4 307.7h0M110.7 314.6h0M79.5 300.8h0M17.3 279.5h0M48.7 304.0h0M25.8 283.1h0M64.9 314.5h0M95.5 301.0h0M30.9 312.8h0M103.1 296.1h0" stroke="#d0a0ae" stroke-width="2.60" stroke-linecap="round" stroke-opacity="0.45"/>
<path d="M49.7 292.5h0M29.3 308.8h0M111.2 293.7h0M84.9 318.1h0M34.6 326.5h0M76.3 269.3h0M23.6 272.9h0M71.4 307.5h0M47.4 325.3h0M50.5 289.6h0M27.5 328.7h0M28.7 323.4h0M68.2 297.1h0M69.9 274.4h0M103.7 330.1h0M94.8 300.2h0M27.4 317.3h0M43.5 322.8h0M38.9 298.1h0M96.1 268.4h0M68.6 260.0h0M18.6 268.0h0M111.2 326.1h0M79.4 277.7h0M80.6 310.6h0M52.5 299.5h0M93.5 255.5h0M34.9 290.0h0M29.4 283.8h0M70.7 267.5h0M65.9 274.4h0M70.6 279.6h0M77.7 257.1h0M80.6 265.3h0M108.6 300.1h0M61.1 285.7h0M76.0 306.9h0M89.0 311.7h0M62.6 330.3h0M96.8 319.6h0M55.2 287.4h0M70.4 323.5h0M66.5 294.4h0M57.4 323.4h0M46.6 258.4h0M85.9 323.1h0M86.5 299.9h0M88.4 277.5h0M73.1 259.5h0M27.6 288.4h0M64.3 284.5h0M20.5 307.4h0M66.5 272.5h0M45.2 284.5h0M38.4 259.4h0M103.9 328.1h0M80.1 320.5h0M56.4 315.8h0M37.0 311.3h0M70.5 323.3h0M25.1 314.8h0M27.5 295.3h0M107.7 254.2h0M39.2 277.1h0M47.0 259.0h0M102.3 316.6h0M54.0 281.5h0M72.3 257.7h0M18.5 322.9h0M45.4 292.3h0M106.1 329.0h0M61.3 270.0h0M44.1 324.8h0M102.5 269.2h0M96.8 281.3h0M61.3 267.3h0M100.8 330.3h0M35.1 302.6h0M34.1 321.5h0M20.4 262.3h0M85.9 278.1h0M102.8 320.7h0M84.7 264.5h0M83.0 325.9h0M58.7 260.2h0M37.2 277.7h0M84.4 269.2h0M33.1 272.2h0M80.0 314.7h0M51.6 304.8h0M101.3 299.3h0M37.7 277.2h0M105.4 305.2h0M42.4 303.2h0M24.2 329.4h0M58.2 294.6h0M67.0 257.7h0M73.7 276.0h0M39.8 315.6h0M24.0 276.0h0M88.8 273.0h0M42.6 296.1h0M33.6 322.8h0M111.3 256.8h0M60.3 311.6h0M52.8 325.3h0M64.0 268.0h0M69.4 303.5h0M50.4 304.6h0M91.5 293.7h0M64.5 318.9h0M81.9 294.0h0M107.8 267.5h0M91.1 266.8h0M74.5 272.2h0M58.2 313.3h0M91.8 314.7h0M38.4 291.6h0M37.0 298.6h0M63.9 256.9h0M73.4 308.9h0M71.0 321.0h0M33.0 265.8h0M17.2 292.2h0M57.7 288.0h0M41.0 315.3h0M22.5 323.6h0M70.7 295.8h0M92.3 272.4h0M29.7 278.0h0M19.6 278.2h0M75.8 294.4h0M41.2 299.2h0M24.1 317.0h0M32.1 273.7h0M31.0 307.0h0M96.1 314.4h0M21.4 285.6h0M50.8 270.8h0M109.6 257.4h0M63.0 312.4h0M111.2 265.3h0M59.7 311.2h0M19.3 272.6h0M101.8 265.0h0M53.6 277.0h0M56.7 260.1h0M18.8 330.4h0M89.5 310.4h0M37.8 273.6h0M69.0 272.7h0M60.3 325.5h0M50.8 280.0h0M110.7 300.9h0M19.3 285.0h0M78.5 258.7h0M48.8 307.3h0M99.3 299.4h0M101.5 289.6h0M53.6 318.7h0M52.5 314.0h0M36.4 280.8h0M33.3 296.2h0M31.4 269.8h0M36.3 290.0h0M45.4 288.4h0M111.9 306.2h0M99.2 269.9h0M52.6 259.8h0M82.6 282.0h0M42.1 255.6h0M33.2 274.3h0M53.6 324.9h0M84.9 274.7h0M50.5 265.9h0M106.4 281.7h0M89.8 309.5h0M103.5 255.8h0M46.7 283.6h0M23.6 321.7h0M47.0 313.2h0M65.9 258.4h0M53.7 272.4h0M19.5 265.7h0M73.3 256.6h0M45.8 286.6h0M68.3 264.6h0M84.0 274.1h0M85.9 305.2h0M29.8 269.9h0M42.7 308.7h0M54.8 283.8h0M99.5 271.5h0M43.8 280.6h0M36.4 257.3h0M17.9 302.4h0M70.4 316.1h0M110.1 277.0h0M80.5 324.5h0M36.5 306.9h0M80.2 327.3h0M99.7 272.1h0M76.9 261.1h0M57.0 284.2h0M21.3 283.5h0M47.3 292.2h0M42.6 266.3h0M54.5 290.6h0M31.7 305.1h0M38.8 261.3h0M48.7 286.5h0M30.1 298.8h0M83.5 296.5h0M83.4 256.0h0M53.5 282.1h0M21.6 285.1h0M20.8 292.1h0M72.3 290.1h0M47.1 273.6h0M17.8 280.8h0M102.0 297.5h0M40.9 305.3h0M33.5 290.1h0M75.2 327.2h0M50.7 298.3h0M106.9 313.2h0M76.4 301.7h0M55.4 286.0h0M42.3 317.7h0M100.8 283.4h0M103.7 257.1h0M28.7 293.0h0M45.4 281.8h0M110.3 265.7h0M34.2 271.7h0M81.5 272.1h0M15.6 295.8h0M53.7 272.5h0M63.4 303.9h0M68.7 302.0h0M69.9 317.8h0M109.5 279.7h0M49.1 322.0h0M45.9 309.0h0M83.0 306.7h0M109.0 317.3h0M31.0 301.8h0M63.1 297.3h0M51.3 276.1h0M88.1 295.0h0M38.5 273.3h0M47.0 267.8h0M65.3 263.8h0M21.6 259.5h0M25.4 308.1h0M26.4 288.7h0M90.4 291.0h0M31.3 320.5h0M99.9 258.3h0M40.1 293.0h0M92.8 284.2h0M84.9 273.5h0M84.9 279.2h0M47.9 312.3h0M97.2 317.6h0M70.5 286.4h0M84.1 301.9h0M96.1 315.5h0M27.6 283.0h0M80.4 271.9h0M33.4 255.2h0M72.3 326.2h0M109.6 264.4h0M82.2 286.3h0M76.8 284.5h0M106.0 329.8h0M20.2 308.8h0M27.0 257.4h0M43.2 310.1h0M111.9 263.4h0M47.5 256.2h0M68.1 291.2h0M51.7 277.9h0M93.1 318.4h0M43.0 284.2h0M75.4 312.8h0M110.7 284.0h0M82.8 296.0h0M93.1 265.4h0M32.5 262.4h0M106.1 273.4h0M62.9 263.4h0M46.9 255.7h0M70.4 265.2h0M76.2 275.2h0M37.6 291.1h0M51.0 274.1h0M20.5 259.1h0M102.1 277.9h0M23.1 268.2h0M62.4 330.5h0M35.1 320.5h0M62.5 285.9h0M93.8 284.5h0M21.1 296.3h0M79.2 301.9h0M42.4 326.0h0M99.4 330.3h0M58.5 318.0h0M85.8 267.7h0M18.1 267.1h0M27.0 259.9h0M50.3 311.8h0M45.6 293.5h0M16.5 270.3h0M108.5 255.0h0M66.6 316.2h0M92.4 310.5h0M54.2 315.6h0M95.8 312.9h0M111.1 261.9h0M107.7 285.0h0M83.9 273.4h0M103.7 256.0h0M71.5 271.6h0M53.2 282.5h0M79.2 316.2h0M50.9 303.0h0M49.8 275.6h0M103.3 278.8h0M24.6 279.8h0M87.4 270.4h0M87.6 296.0h0M81.5 267.8h0M25.8 265.1h0M49.5 287.2h0M16.4 292.6h0M54.6 278.8h0M67.6 327.1h0M35.4 321.6h0M46.6 311.9h0M26.0 329.7h0M57.2 327.8h0M36.8 285.4h0M84.0 267.8h0M42.0 306.0h0M107.4 278.9h0M33.3 281.5h0M111.5 265.5h0M77.1 283.1h0M78.0 270.4h0M75.3 322.1h0M98.6 302.3h0M64.5 297.6h0M26.6 318.3h0M82.4 288.9h0M80.0 286.3h0M52.8 271.8h0M73.8 298.0h0M65.5 256.7h0M76.4 288.4h0M73.1 299.7h0M105.9 265.8h0M61.0 330.2h0M87.1 278.1h0M87.0 329.9h0M54.5 320.6h0M27.8 329.9h0M63.1 272.1h0M97.0 303.9h0M106.5 317.6h0" stroke="#b87890" stroke-width="2.20" stroke-linecap="round" stroke-opacity="0.35"/>
<path d="M92.9 293.3l-0.2 3.3M99.9 308.6l1.7 6.8M59.5 295.2l-0.1 4.0M42.6 303.4l1.8 5.5M91.9 291.7l1.7 6.8M98.4 313.2l0.9 7.5M92.8 265.8l0.7 3.4M19.1 280.7l-0.1 7.2M26.9 268.1l1.3 7.1M75.4 323.2l2.5 7.5M35.6 302.3l-0.1 6.6M34.6 305.3l0.5 3.0M48.4 278.3l0.4 4.4M74.0 307.4l1.0 3.5M82.8 289.9l1.0 3.4M106.8 300.9l0.8 3.9M112.0 307.1l0.2 4.8M45.6 285.4l1.7 5.9M56.7 316.9l0.9 5.2M64.6 326.2l1.3 6.4M38.3 298.5l1.7 7.2M43.3 319.6l0.3 5.3M106.1 283.9l0.2 6.0M59.0 259.1l0.8 4.3M58.3 327.2l1.5 6.3M80.7 272.9l0.6 3.6M102.4 273.5l0.8 4.6M95.1 319.2l0.6 5.7M25.1 322.8l1.5 4.6M51.8 309.5l0.3 4.7M102.6 326.8l2.1 5.8M61.0 281.9l0.7 4.5M80.6 300.5l-0.5 7.9M111.8 284.4l0.0 6.2M83.5 330.5l1.7 5.0M54.4 304.4l2.0 7.7M35.8 282.5l1.4 4.8M87.5 260.6l1.7 6.0M75.9 311.0l1.7 6.8M86.4 313.6l1.6 5.1M17.0 320.0l-0.3 7.5M17.8 281.1l0.7 5.6M26.3 314.6l1.2 5.4M27.6 297.6l1.0 3.3M65.2 276.7l0.1 4.2M55.7 258.4l1.3 5.1M69.6 289.3l-0.0 3.5M98.0 266.0l-0.3 5.6M54.9 301.0l-0.1 7.8M55.6 255.0l2.0 6.8M86.7 308.7l1.6 5.4M18.3 262.6l1.7 7.6M77.9 319.0l1.6 4.8M23.1 274.2l2.3 7.2M47.4 291.6l0.6 7.4M107.3 297.6l1.0 7.4M53.8 277.1l0.2 4.3M51.2 287.0l0.7 4.7M57.3 288.7l2.3 6.8M21.5 294.6l0.6 5.0M37.1 261.8l0.9 4.5M62.4 271.8l0.2 5.4M16.4 285.3l-0.2 3.0M73.1 327.7l1.2 5.9M51.3 277.2l0.6 5.9M46.1 292.3l0.9 6.7M20.6 261.3l1.0 4.2M92.7 286.8l-0.1 5.0M43.2 306.2l2.4 7.5M96.2 279.3l1.5 6.9M92.0 303.3l2.2 6.5M20.2 302.0l0.9 7.6M77.5 255.9l-0.3 6.8M71.7 254.6l0.2 5.1M81.4 329.5l-0.1 3.4M91.3 287.9l0.2 4.9M58.9 287.6l1.4 4.4M86.8 259.7l2.1 6.8M80.1 296.1l1.1 3.4M45.6 327.2l0.9 7.6M36.0 285.9l0.9 7.1M27.5 321.0l0.5 3.1M57.4 283.1l0.5 7.6M63.4 307.0l1.3 6.8M25.7 311.0l1.6 5.7M35.1 280.7l1.3 4.6M72.9 294.0l1.1 5.8M97.2 281.6l0.6 5.4M110.6 279.3l0.2 4.2M40.8 310.1l0.5 4.3M21.7 317.3l1.2 6.5M57.5 301.4l0.9 7.8M103.7 289.1l0.6 4.1M88.6 262.0l1.6 7.1M18.9 307.6l0.6 5.7M47.8 265.8l-0.3 6.8M93.7 261.7l0.1 4.1M34.8 295.1l0.3 3.6M89.7 298.8l-0.2 7.6M82.4 282.0l-0.3 6.6M43.7 319.8l0.2 4.3M39.7 255.8l0.5 4.2M43.9 273.5l1.6 5.2M41.9 276.0l1.3 5.4M100.3 266.4l-0.1 7.3M74.6 295.8l0.2 5.7M79.5 324.5l0.1 4.3M20.8 325.9l1.4 6.8M38.1 288.8l1.3 6.5M107.0 292.9l0.5 4.7M38.0 326.9l2.3 7.4M79.2 259.7l-0.1 3.5M70.3 263.4l-0.3 4.5M100.1 258.9l0.2 3.3M18.4 297.9l-0.4 6.4M98.5 314.2l0.4 3.4M66.6 268.3l0.6 4.7M63.9 269.3l0.3 5.1M62.6 260.2l0.8 5.7M109.8 297.2l1.3 4.3M48.1 307.9l-0.3 7.9M107.6 325.0l-0.1 7.7M17.5 291.7l0.7 6.4M74.9 301.1l-0.1 3.4M65.9 327.6l1.2 3.4M99.8 327.4l1.1 3.0M96.0 306.9l0.8 5.8M89.0 316.0l1.1 3.1M92.5 328.8l-0.0 5.0M48.0 280.7l2.3 6.5M40.9 299.0l0.6 4.6M81.0 289.0l1.8 7.2M32.5 265.7l1.3 5.2M91.5 279.7l1.5 6.1M40.7 294.2l1.8 7.2M33.4 272.0l1.0 4.5M86.0 305.8l0.1 5.7M23.1 312.6l1.0 4.0M55.7 329.9l0.9 4.7M103.9 330.0l0.7 3.6M92.1 314.0l1.4 6.8M52.3 276.2l0.7 6.7M61.7 316.8l1.8 5.2M52.4 259.2l-0.1 3.7M35.4 321.4l-0.4 7.6M48.7 325.4l1.9 6.3M107.2 268.9l1.8 6.1M101.1 309.8l-0.3 5.3M51.6 263.4l1.8 7.5M22.5 268.3l0.7 3.2M45.3 268.2l1.7 5.4M67.9 297.6l0.2 5.6M107.4 260.4l0.9 3.3M45.5 312.4l-0.2 5.5M31.1 279.5l0.5 4.4M92.4 328.6l0.9 5.9M97.6 289.8l2.1 7.4M110.4 256.1l0.1 5.0M20.5 266.7l1.8 6.4M36.0 255.7l1.8 6.8M63.9 304.1l0.6 3.9M17.0 277.5l1.4 4.1M75.5 282.5l0.9 6.0M46.3 281.5l-0.1 5.9M55.9 295.5l0.7 4.6M104.1 272.1l-0.3 7.3M101.1 266.6l1.1 7.8M43.5 267.3l0.2 4.2M72.1 266.3l-0.2 4.4M24.9 306.8l1.2 5.7M63.7 324.8l0.7 4.9M15.7 292.2l1.4 5.7M76.8 289.6l1.7 5.2M62.2 303.3l-0.3 4.4M58.4 260.7l0.1 4.2M95.9 315.2l1.8 7.3M64.4 286.8l0.9 7.7M63.0 291.1l1.6 7.0M64.3 280.4l1.1 3.9M96.4 315.7l-0.5 7.6M82.0 315.2l0.4 7.0M93.2 267.7l0.0 4.5M39.2 324.5l1.9 5.2M48.8 314.8l0.7 7.5M106.0 303.5l2.0 6.0M26.1 329.3l-0.1 4.6M33.5 307.3l0.2 7.9M75.9 263.8l0.1 3.3M99.7 313.0l0.1 7.4M70.7 326.4l0.4 5.4M52.8 281.2l1.3 3.6M92.7 271.7l0.5 6.9M82.9 293.7l0.9 4.3M33.7 303.8l0.5 7.7M47.6 325.1l-0.1 4.5M107.8 301.6l-0.4 6.9M47.8 275.6l0.7 5.4M18.9 320.2l0.7 5.3M87.7 273.3l1.5 5.7M38.9 279.3l1.0 3.1M50.0 294.5l-0.3 6.2M55.7 285.3l1.3 5.2M108.5 263.5l1.1 6.3M89.5 296.7l0.6 7.7M103.0 273.4l1.0 7.9M66.7 268.7l0.1 3.3M30.1 296.4l1.5 6.4M86.0 278.6l0.2 6.2M84.0 289.1l0.6 3.5M61.6 327.2l-0.1 3.3M22.4 274.8l0.3 5.2M27.9 286.8l0.7 6.7M54.6 303.9l0.4 6.1M20.0 308.6l1.0 3.1M61.4 255.5l1.6 4.7M61.0 262.3l-0.4 7.3M62.7 299.2l1.7 7.7M27.1 277.5l1.9 7.1M64.9 285.6l1.3 7.3M40.5 314.7l0.3 5.2M51.0 287.6l0.7 4.5M76.0 285.7l1.5 6.7M59.6 290.4l-0.1 5.3M52.0 322.9l-0.4 6.9M54.4 305.5l0.2 4.5M85.7 326.9l0.5 6.3M57.7 304.2l1.7 6.6M67.8 329.2l1.3 6.4M17.1 286.0l0.1 4.3M75.0 271.1l1.4 7.8M34.6 324.0l1.9 5.6M95.2 318.3l1.1 5.8M84.6 312.5l0.2 5.9M39.9 308.1l0.7 5.7M111.2 264.6l0.1 4.6M86.0 326.9l1.4 5.7M66.7 292.1l1.7 5.9M102.2 304.9l1.6 6.8M56.2 265.3l0.5 5.3M66.9 330.0l0.9 7.7M49.7 312.3l1.4 4.3M82.6 307.0l0.0 4.9M42.0 281.6l0.4 3.1M51.8 304.5l1.3 4.4M100.1 325.6l0.9 3.8M26.9 260.8l0.1 6.7M41.1 291.6l0.2 3.1" stroke="#dcc6d2" stroke-width="1.10" stroke-linecap="round" stroke-opacity="0.5"/>
<path d="M19.9 258.9h0M21.3 257.9h0M29.2 255.7h0M35.3 255.0h0M37.8 255.6h0M42.7 258.6h0M48.4 257.4h0M55.9 255.0h0M56.3 257.4h0M60.9 259.5h0M67.0 256.3h0M72.6 258.7h0M80.5 257.8h0M81.0 255.8h0M89.2 255.0h0M95.3 258.9h0M96.4 255.9h0M101.4 258.0h0M105.3 257.9h0M110.4 258.7h0M18.3 262.2h0M20.6 259.0h0M27.1 264.6h0M33.6 263.9h0M35.4 259.3h0M40.1 262.9h0M46.1 260.3h0M54.0 262.9h0M56.9 261.5h0M61.7 262.1h0M67.1 260.9h0M71.5 260.5h0M76.6 258.8h0M81.9 262.3h0M86.6 259.4h0M95.1 261.5h0M98.1 260.6h0M105.3 263.2h0M108.7 262.7h0M114.2 261.7h0M17.5 266.0h0M23.0 266.5h0M28.2 266.9h0M34.7 269.1h0M36.3 263.8h0M41.8 263.9h0M49.8 267.4h0M51.7 264.8h0M60.2 268.7h0M64.1 267.9h0M69.5 266.4h0M72.4 267.0h0M80.3 269.6h0M85.5 268.7h0M85.4 265.2h0M95.8 267.0h0M98.1 265.6h0M105.2 266.8h0M110.9 264.2h0M116.0 263.8h0M15.9 271.0h0M23.8 269.4h0M28.4 274.3h0M32.6 273.3h0M38.6 272.2h0M41.0 271.5h0M50.4 272.7h0M51.3 271.4h0M58.3 270.7h0M63.5 272.5h0M65.1 270.0h0M73.9 270.0h0M75.4 273.3h0M82.0 274.4h0M88.4 269.3h0M93.8 270.3h0M99.9 273.0h0M104.6 269.0h0M105.2 273.5h0M110.8 269.9h0M15.2 274.7h0M22.8 279.4h0M26.9 275.3h0M35.0 274.8h0M38.8 277.4h0M45.6 274.0h0M48.4 276.0h0M54.9 275.2h0M59.3 274.8h0M63.0 279.5h0M66.4 275.4h0M75.5 277.7h0M75.4 274.8h0M81.4 275.4h0M90.1 277.9h0M95.9 277.7h0M98.8 276.0h0M104.3 276.7h0M105.4 276.7h0M112.3 276.9h0M15.3 278.9h0M25.9 280.9h0M27.0 279.6h0M33.6 284.2h0M36.1 281.7h0M43.0 283.3h0M48.4 280.1h0M51.1 283.0h0M55.5 283.9h0M60.2 279.8h0M67.8 283.8h0M73.7 283.2h0M79.6 283.0h0M80.3 283.7h0M85.9 279.7h0M90.2 278.9h0M100.3 281.0h0M100.5 279.0h0M110.1 282.3h0M115.5 278.9h0M15.7 285.4h0M21.1 284.4h0M26.2 287.5h0M31.0 284.7h0M38.2 286.0h0M40.9 287.1h0M48.0 286.0h0M52.8 283.9h0M58.7 284.9h0M62.0 283.8h0M70.3 287.2h0M72.4 287.0h0M80.6 284.5h0M82.3 287.9h0M87.2 287.9h0M95.4 283.9h0M96.7 285.5h0M104.5 288.4h0M109.2 289.2h0M111.1 286.1h0M20.1 293.3h0M20.7 294.6h0M29.4 293.9h0M32.2 292.3h0M40.8 294.1h0M43.5 294.0h0M51.0 293.7h0M53.9 294.5h0M55.9 291.1h0M63.4 289.5h0M69.7 289.1h0M73.8 290.4h0M76.9 292.3h0M81.1 291.4h0M90.1 294.6h0M91.6 290.9h0M99.2 289.8h0M105.1 289.9h0M108.3 290.7h0M110.0 288.7h0M15.0 295.7h0M21.7 299.6h0M28.8 294.1h0M34.3 295.1h0M37.9 298.0h0M45.1 299.3h0M47.5 295.6h0M52.4 295.6h0M59.4 296.5h0M64.1 294.6h0M69.7 299.5h0M71.2 297.4h0M76.0 293.9h0M82.5 294.8h0M89.4 297.1h0M94.0 299.5h0M95.3 294.3h0M100.2 296.5h0M109.9 297.8h0M113.3 298.8h0M17.2 299.4h0M23.8 298.9h0M26.4 298.9h0M31.0 299.1h0M38.2 299.5h0M43.6 303.6h0M47.1 299.4h0M54.0 303.1h0M60.3 302.0h0M63.5 303.9h0M69.1 304.5h0M71.7 303.3h0M78.8 301.5h0M80.1 301.6h0M86.6 302.3h0M93.1 301.8h0M95.4 299.5h0M103.6 302.8h0M110.9 303.5h0M111.7 301.4h0M18.0 308.5h0M22.4 309.2h0M27.9 306.1h0M32.9 305.8h0M41.0 304.0h0M42.4 304.2h0M49.1 304.6h0M50.9 306.2h0M58.6 308.3h0M62.7 305.5h0M67.2 309.0h0M71.3 303.8h0M80.3 306.6h0M80.8 304.5h0M90.3 308.2h0M90.4 307.8h0M96.3 306.4h0M103.6 304.0h0M110.6 305.7h0M110.9 308.4h0M15.7 308.9h0M23.9 311.5h0M30.4 313.4h0M31.2 309.0h0M38.6 311.5h0M41.8 314.2h0M46.3 312.6h0M50.4 314.2h0M60.7 312.4h0M61.9 313.0h0M70.4 313.5h0M70.2 311.7h0M75.8 312.0h0M85.7 313.9h0M86.5 312.0h0M91.9 309.7h0M99.5 313.3h0M102.0 311.2h0M109.2 313.1h0M112.8 309.4h0M15.6 314.7h0M25.0 316.7h0M28.9 315.9h0M32.2 314.8h0M40.8 317.3h0M40.8 317.9h0M48.6 317.4h0M54.6 317.4h0M60.3 319.5h0M62.4 317.6h0M67.2 316.2h0M72.2 317.6h0M77.1 315.8h0M85.1 318.5h0M89.1 318.8h0M92.3 317.6h0M96.5 315.6h0M100.6 318.5h0M110.5 315.5h0M112.3 314.4h0M15.9 322.5h0M25.4 319.2h0M26.5 323.3h0M31.4 324.0h0M37.1 321.5h0M41.2 320.4h0M47.5 320.4h0M54.4 318.9h0M58.8 323.5h0M62.0 319.8h0M65.7 319.2h0M74.8 322.3h0M75.1 321.4h0M83.6 320.6h0M85.2 321.2h0M92.1 324.5h0M97.2 324.2h0M105.2 322.1h0M105.8 323.5h0M110.5 322.0h0M15.6 324.3h0M22.5 324.6h0M31.0 327.2h0M35.4 329.4h0M39.5 327.6h0M42.8 328.4h0M49.0 324.6h0M53.2 326.2h0M58.1 328.0h0M64.1 327.1h0M69.7 328.7h0M70.6 324.6h0M75.3 324.7h0M85.8 325.6h0M87.6 326.5h0M93.4 325.4h0M99.7 325.7h0M105.1 328.5h0M105.0 327.0h0M110.6 329.0h0M15.4 330.3h0M24.6 332.2h0M29.0 331.2h0M33.1 329.9h0M37.8 330.2h0M44.1 329.3h0M45.8 329.9h0M53.2 332.2h0M55.0 334.6h0M65.0 331.0h0M66.0 333.7h0M75.9 329.8h0M79.5 333.6h0M85.6 330.0h0M85.7 329.7h0M91.4 334.1h0M100.5 331.5h0M100.8 330.8h0M106.4 332.6h0M114.3 333.4h0" stroke="#8e4c7c" stroke-width="2.90" stroke-linecap="round" stroke-opacity="0.45"/>
</g></g>
<rect x="15.50" y="254.20" width="97.00" height="76.50" fill="none" stroke="#2a2a2a" stroke-width="0.9"/>
<clipPath id="c12"><rect x="114.30" y="254.20" width="97.30" height="76.50"/></clipPath>
<g clip-path="url(#c12)"><g fill="none" filter="url(#blr)">
<rect x="114.30" y="254.20" width="97.30" height="76.50" fill="#c58696"/>
<path d="M160.5 304.5h0M179.1 265.1h0M115.4 282.9h0M141.0 316.2h0M181.5 300.2h0M168.6 304.8h0M128.4 287.9h0M130.1 323.5h0M120.0 316.8h0M121.6 306.8h0M147.1 285.2h0M196.3 255.6h0M120.2 324.2h0M163.8 261.2h0M210.3 326.6h0M125.2 286.6h0M127.4 278.1h0M174.8 266.7h0M182.1 258.1h0M131.0 316.6h0M153.3 286.2h0M172.3 290.7h0M151.7 256.5h0M185.0 328.2h0M209.3 305.0h0M149.0 282.0h0M181.4 305.7h0M125.4 272.2h0M149.7 293.3h0M193.1 292.5h0M117.0 317.1h0M156.2 293.9h0M135.9 286.9h0M152.1 313.3h0M124.3 296.3h0M131.6 307.4h0M117.9 275.4h0M147.8 302.9h0M119.4 289.3h0M134.6 275.8h0M160.6 327.5h0M161.1 327.3h0M130.6 324.9h0M149.7 268.7h0M187.1 324.0h0M114.9 274.7h0M189.3 280.3h0M137.8 254.9h0M118.2 301.6h0M210.0 330.6h0M163.3 256.0h0M145.7 314.4h0M195.2 303.1h0M136.6 294.5h0M160.7 302.2h0M139.9 326.6h0M201.3 266.6h0M142.6 321.0h0M141.4 326.4h0M164.4 307.4h0M182.9 270.6h0M142.0 273.7h0M180.8 307.3h0M127.1 322.0h0M155.2 272.7h0M156.7 329.1h0M168.8 302.0h0M203.8 327.8h0M188.3 286.2h0M171.6 323.1h0M191.1 298.6h0M148.1 282.4h0M185.9 297.3h0M116.0 308.5h0M202.2 315.2h0M201.6 323.9h0M166.3 314.6h0M151.2 261.7h0M148.7 278.1h0M205.2 306.9h0M167.0 301.8h0M126.4 295.1h0M182.5 284.4h0M138.2 285.3h0M145.8 306.6h0M128.1 261.1h0M144.7 307.4h0M188.2 304.6h0M205.2 282.2h0M117.2 291.5h0M157.5 267.9h0M179.2 280.3h0M137.5 279.2h0M206.1 254.8h0M149.4 275.6h0M133.9 287.3h0M135.7 324.5h0M163.1 307.6h0M130.1 289.7h0M173.3 318.7h0M138.6 289.4h0M197.5 317.8h0M136.4 295.4h0M188.4 284.4h0M179.8 304.9h0M208.9 296.6h0M180.5 281.0h0M185.5 278.9h0M162.9 281.8h0M144.2 264.6h0M136.3 295.8h0M138.8 257.7h0M192.5 276.1h0M205.4 300.0h0M152.2 321.0h0M201.6 278.8h0M126.5 303.2h0M196.3 300.8h0M190.6 285.8h0M174.4 274.3h0M153.9 283.2h0M151.7 284.8h0M192.8 267.2h0M134.3 273.7h0M208.8 294.2h0M119.4 318.1h0M199.3 317.0h0M149.2 310.4h0M144.0 264.7h0M198.5 317.9h0M134.9 321.5h0M116.7 277.8h0M115.6 267.3h0M130.2 309.0h0M143.2 268.7h0M132.2 278.1h0M198.2 300.6h0M124.3 306.6h0M166.5 288.5h0M165.6 304.0h0M192.2 292.9h0M176.1 289.9h0M176.0 283.9h0M154.7 293.7h0M183.9 275.5h0M204.3 291.8h0M197.5 307.0h0M207.4 306.4h0M155.8 285.2h0M173.4 311.9h0M195.9 264.1h0M120.4 262.5h0M122.5 258.5h0M115.1 273.3h0M125.3 306.6h0M174.2 328.1h0M207.8 311.3h0M206.7 256.3h0M136.5 325.1h0M160.6 270.0h0M187.9 286.6h0M167.1 278.4h0M137.8 260.9h0M173.3 327.1h0M210.3 312.7h0M205.1 281.9h0M143.3 324.8h0M172.7 305.4h0M115.5 271.7h0M161.2 310.1h0M194.7 312.1h0M147.4 283.4h0M198.2 329.9h0M161.5 269.1h0M175.1 295.2h0M149.5 271.8h0M151.8 301.0h0M126.6 295.6h0M207.0 311.2h0M138.8 286.2h0M124.3 310.6h0M175.8 267.4h0M167.6 299.8h0M170.5 283.1h0M144.4 281.3h0M211.4 279.5h0M163.2 289.4h0M131.1 284.8h0M134.2 278.9h0M150.0 281.0h0M205.6 276.9h0M146.6 304.5h0M153.0 293.7h0M177.3 259.8h0M179.6 261.9h0M138.6 316.1h0M210.6 305.7h0M131.0 287.7h0M141.8 318.5h0M137.0 269.2h0M176.4 302.9h0M171.7 290.8h0M207.6 289.3h0M205.5 284.2h0M159.6 281.7h0M183.9 311.7h0M137.6 294.4h0M185.0 292.6h0M178.8 301.3h0M183.8 281.4h0M144.1 256.1h0M200.9 314.6h0M152.3 328.2h0M202.1 265.8h0M195.7 286.4h0M144.9 274.0h0M154.6 258.2h0M119.2 263.1h0M144.2 266.3h0M126.2 317.8h0M151.2 291.7h0M172.8 325.6h0M128.5 271.6h0M198.0 323.8h0M205.0 294.6h0M150.0 268.6h0M202.9 312.7h0M168.0 314.7h0M139.7 295.0h0M202.5 262.5h0M174.4 268.4h0M195.8 318.4h0M177.0 287.6h0M116.4 292.0h0M149.2 284.8h0M121.9 324.6h0M165.1 297.2h0M196.3 322.8h0M167.8 295.8h0M196.7 282.7h0M201.9 256.1h0M191.8 294.6h0M174.9 330.0h0M135.7 285.4h0M192.1 311.3h0M165.3 313.6h0M180.2 320.7h0M177.6 282.0h0M142.2 260.5h0M126.3 257.5h0M209.2 265.0h0M173.0 264.5h0M208.3 295.0h0M131.5 317.4h0M198.0 329.0h0M136.0 285.0h0M178.6 275.8h0M169.7 307.8h0M187.4 317.2h0M187.4 276.0h0M187.8 287.4h0M130.8 255.8h0M174.8 281.6h0M123.4 291.7h0M154.7 279.1h0M169.4 295.4h0M165.8 329.7h0M202.3 277.0h0M199.1 278.3h0M205.5 258.6h0M145.2 325.5h0M178.7 308.2h0M134.2 263.5h0M207.7 259.2h0M131.4 287.2h0M194.0 306.2h0M211.4 313.8h0M156.8 323.9h0M145.1 258.1h0M207.6 321.6h0M178.5 290.9h0M134.1 271.0h0M120.9 261.4h0M160.9 322.8h0M205.0 293.5h0M179.8 290.0h0M189.8 308.2h0M210.1 318.9h0M180.3 299.4h0M130.7 290.3h0M157.9 266.0h0M133.9 285.7h0M131.4 301.9h0M146.2 329.8h0M180.9 293.7h0M156.5 284.2h0M133.8 327.9h0M203.2 303.9h0M177.6 265.2h0M167.0 267.0h0M145.9 299.1h0M130.9 272.0h0M185.4 291.3h0M200.9 266.4h0M122.9 326.0h0M173.5 307.3h0M168.4 265.6h0M209.4 292.1h0M202.8 265.4h0M141.1 296.2h0M138.4 320.0h0M139.7 260.2h0M130.2 275.0h0M206.5 321.4h0M179.5 286.8h0M118.3 317.8h0M126.6 269.5h0M156.6 320.2h0M132.1 259.0h0M202.6 254.8h0M185.7 265.0h0M143.4 270.1h0M157.0 324.7h0M196.0 295.2h0M122.8 267.6h0M143.0 314.9h0M203.4 256.1h0M146.8 327.6h0M129.0 260.3h0M140.2 322.2h0M139.9 309.4h0M125.9 304.5h0M130.8 299.7h0M186.5 321.4h0M156.7 329.5h0M153.8 326.8h0M203.2 330.6h0M124.6 275.1h0M182.0 321.9h0M139.3 313.0h0M160.7 254.5h0M122.6 254.8h0M136.5 325.6h0M180.4 320.2h0M203.5 284.2h0M182.0 304.3h0M181.6 261.3h0M200.7 266.2h0M157.6 306.8h0M186.8 317.4h0M144.7 277.0h0M185.1 257.8h0M199.3 278.3h0M152.5 278.1h0M183.7 267.5h0M127.5 259.3h0M127.0 301.9h0M210.5 254.7h0M159.3 281.4h0M144.5 280.5h0M124.8 286.6h0M140.2 258.8h0M127.4 325.2h0M184.2 329.4h0M193.5 310.7h0M136.4 262.5h0M210.1 306.6h0M184.6 265.2h0M191.3 295.2h0M122.9 270.3h0M208.5 301.8h0M123.1 260.4h0M187.3 281.1h0M160.8 264.7h0M131.6 292.2h0M155.9 268.4h0M129.0 288.2h0M125.3 258.9h0M160.4 258.1h0M185.7 312.9h0M182.9 327.0h0M130.4 286.5h0M154.7 259.7h0M198.0 257.3h0M210.0 305.9h0M210.1 258.8h0M201.2 327.9h0M190.0 298.6h0M177.4 291.1h0M197.3 298.4h0M167.6 285.2h0M175.4 299.1h0M205.8 313.3h0M146.4 309.3h0M137.0 291.0h0M165.5 309.8h0M121.4 265.4h0M132.1 301.6h0M130.9 297.0h0M200.1 286.9h0M136.0 299.9h0M154.3 287.6h0M131.6 306.4h0M147.9 329.6h0M162.6 306.4h0M204.3 329.5h0M116.4 325.2h0M124.4 326.8h0M191.1 273.8h0M183.9 297.3h0M158.3 302.2h0M158.7 304.5h0M181.9 254.6h0M176.5 308.1h0M198.6 295.2h0M167.0 265.3h0M133.4 322.7h0M120.4 323.1h0M126.3 283.6h0M174.9 256.5h0M157.8 315.3h0M151.7 267.7h0M120.1 326.7h0M124.5 305.4h0M176.3 275.6h0M168.6 306.7h0M134.5 272.9h0M204.2 270.1h0M161.8 289.0h0M190.0 319.8h0M188.6 302.1h0M166.9 261.2h0M170.2 287.3h0M187.8 283.0h0M126.2 283.5h0M195.2 292.2h0M179.3 258.5h0M135.9 274.5h0M161.4 263.3h0M206.3 279.5h0M114.4 272.5h0M163.1 301.3h0M193.6 260.8h0M208.7 319.7h0M164.4 303.7h0M144.1 265.6h0M115.3 327.7h0M200.9 288.3h0M172.9 290.7h0M181.3 261.8h0M187.7 267.6h0M171.8 301.8h0M196.8 301.2h0M131.6 316.6h0M150.7 297.3h0M192.2 329.0h0M124.4 289.0h0M144.9 319.0h0M153.0 323.8h0M191.5 286.3h0M188.6 306.2h0M125.7 276.9h0M127.5 317.9h0M152.8 277.2h0M184.1 329.7h0" stroke="#d0a0ae" stroke-width="2.60" stroke-linecap="round" stroke-opacity="0.45"/>
<path d="M128.0 307.1h0M136.5 314.7h0M186.9 313.0h0M171.0 263.6h0M197.2 262.7h0M170.7 327.6h0M140.4 291.0h0M180.1 303.6h0M145.8 286.1h0M201.5 309.0h0M131.2 306.2h0M197.2 300.2h0M201.3 274.5h0M142.5 320.4h0M139.3 263.9h0M128.7 321.7h0M194.4 269.4h0M186.5 269.3h0M174.8 255.0h0M170.4 311.6h0M163.4 302.2h0M125.8 289.2h0M190.5 282.7h0M186.7 300.0h0M192.9 310.7h0M144.0 316.9h0M193.8 286.9h0M184.2 285.9h0M170.4 279.0h0M159.2 277.8h0M201.3 301.1h0M174.0 294.2h0M159.5 267.5h0M177.2 288.3h0M147.8 293.4h0M127.0 303.8h0M190.5 282.2h0M130.0 328.3h0M174.6 278.6h0M123.1 298.1h0M135.6 322.9h0M184.0 275.4h0M153.9 260.8h0M136.1 296.9h0M200.2 286.8h0M208.0 273.8h0M124.4 318.4h0M151.0 275.6h0M157.5 301.0h0M135.7 262.3h0M172.4 304.5h0M168.8 266.4h0M198.0 287.1h0M167.0 321.9h0M127.3 292.1h0M155.5 303.0h0M136.2 272.6h0M136.4 296.9h0M143.5 325.1h0M199.0 309.8h0M153.9 317.3h0M170.2 314.1h0M207.2 263.5h0M188.4 323.3h0M153.7 280.3h0M117.4 322.7h0M134.4 254.9h0M123.0 293.6h0M180.7 323.5h0M178.9 262.0h0M204.8 320.9h0M192.8 323.1h0M195.6 306.5h0M188.9 255.9h0M210.6 254.5h0M155.7 297.8h0M164.0 280.1h0M163.7 278.4h0M178.7 256.5h0M147.8 304.0h0M158.7 255.7h0M159.0 325.2h0M165.1 310.1h0M151.6 329.2h0M165.4 316.2h0M175.2 316.4h0M152.5 325.2h0M210.4 322.9h0M202.6 282.1h0M147.2 322.5h0M194.6 299.4h0M168.8 255.1h0M168.7 258.7h0M165.5 271.3h0M173.4 266.3h0M146.2 313.1h0M170.7 264.4h0M210.1 255.9h0M154.5 308.8h0M170.8 304.1h0M202.2 261.5h0M163.8 273.5h0M172.6 289.7h0M175.5 315.4h0M163.1 286.6h0M168.4 267.1h0M203.1 284.0h0M162.8 318.5h0M195.4 330.5h0M183.2 294.9h0M156.1 313.7h0M174.7 255.0h0M169.1 305.4h0M149.2 317.7h0M186.4 322.0h0M142.7 304.8h0M168.9 280.3h0M143.3 260.9h0M195.7 275.3h0M148.0 273.7h0M168.5 292.0h0M198.6 260.3h0M147.7 318.1h0M191.5 259.1h0M157.7 330.2h0M209.6 278.5h0M186.7 279.5h0M120.6 322.8h0M126.5 330.1h0M158.2 319.4h0M160.7 323.1h0M186.9 267.4h0M116.6 267.2h0M173.3 262.6h0M121.5 283.4h0M119.5 277.7h0M175.6 271.6h0M191.2 274.1h0M149.8 285.1h0M196.9 257.9h0M193.2 261.4h0M208.8 296.7h0M187.3 293.6h0M179.5 306.7h0M128.5 269.0h0M202.8 271.0h0M137.9 258.2h0M183.7 314.5h0M117.9 320.1h0M125.5 292.1h0M164.3 273.5h0M145.8 291.8h0M190.5 273.7h0M136.9 328.9h0M140.1 262.1h0M204.9 325.0h0M135.2 294.7h0M199.3 278.8h0M147.5 254.5h0M126.9 300.6h0M162.6 320.2h0M157.6 275.0h0M152.6 264.9h0M161.0 307.1h0M132.2 298.9h0M211.4 307.5h0M145.2 303.5h0M125.0 262.5h0M193.0 308.3h0M175.1 297.1h0M148.4 318.2h0M164.4 317.3h0M185.8 279.8h0M193.6 281.0h0M174.2 318.7h0M207.0 301.8h0M133.7 266.5h0M195.1 277.7h0M128.5 298.4h0M154.9 310.8h0M131.8 293.3h0M207.3 267.4h0M152.1 284.3h0M127.0 265.2h0M144.9 296.2h0M127.6 302.7h0M150.7 277.2h0M197.1 311.0h0M157.6 274.1h0M163.9 303.8h0M188.3 304.9h0M114.4 266.3h0M211.2 296.0h0M164.3 263.0h0M190.8 317.4h0M144.5 274.9h0M121.4 277.6h0M164.2 288.4h0M115.1 261.7h0M137.2 317.8h0M208.2 320.1h0M162.3 281.9h0M201.4 312.0h0M177.2 307.8h0M205.5 294.4h0M139.2 310.3h0M204.8 271.5h0M151.7 312.5h0M192.2 258.2h0M192.8 272.8h0M126.6 257.9h0M159.2 288.9h0M132.4 308.7h0M132.4 325.2h0M211.5 279.7h0M116.5 259.6h0M166.3 281.3h0M190.1 285.5h0M139.3 266.5h0M210.8 312.7h0M180.5 271.1h0M157.4 312.0h0M177.2 275.5h0M148.4 316.3h0M119.6 303.7h0M183.0 293.7h0M168.1 324.9h0M145.9 311.7h0M184.6 310.7h0M120.8 307.2h0M150.8 264.1h0M202.6 274.5h0M159.6 277.7h0M125.2 276.5h0M173.9 303.1h0M187.0 265.8h0M140.9 317.8h0M165.3 310.7h0M159.2 286.3h0M117.5 318.6h0M202.3 308.9h0M135.3 302.4h0M180.5 275.8h0M150.9 322.2h0M139.9 300.9h0M118.9 255.9h0M118.5 277.5h0M204.7 298.4h0M161.4 265.5h0M168.5 264.1h0M120.8 279.7h0M139.4 314.1h0M169.2 303.2h0M141.4 284.2h0M125.4 276.2h0M210.9 305.4h0M147.1 302.3h0M202.9 316.3h0M165.4 266.1h0M119.4 259.6h0M194.1 313.9h0M182.4 309.5h0M127.9 298.6h0M115.2 256.6h0M174.6 254.8h0M154.5 281.2h0M198.9 281.1h0M134.3 306.2h0M129.3 329.1h0M204.0 330.0h0M174.5 268.0h0M133.9 308.9h0M157.0 308.1h0M134.7 297.7h0M197.5 276.1h0M195.5 265.2h0M179.1 257.4h0M138.0 259.7h0M133.5 294.7h0M193.3 316.4h0M203.2 273.1h0M205.5 286.8h0M179.1 309.5h0M140.8 275.7h0M156.7 280.3h0M185.2 320.5h0M178.6 257.9h0M191.9 313.0h0M210.0 268.6h0M205.1 284.5h0M168.3 269.7h0M138.8 286.5h0M169.1 273.8h0M168.1 286.8h0M135.6 303.7h0M145.4 257.0h0M137.8 286.4h0M174.4 259.4h0M200.8 260.2h0M206.4 256.4h0M144.3 279.9h0M179.9 261.0h0M134.5 317.2h0M203.7 258.5h0M123.9 280.2h0M149.5 306.1h0M206.0 302.8h0M146.6 271.1h0M120.5 259.4h0M198.2 320.4h0M150.3 271.1h0M198.3 271.8h0M153.7 322.1h0M116.7 281.2h0M133.7 288.4h0M205.3 327.5h0M187.6 319.0h0M150.9 310.7h0M185.3 323.4h0M149.8 319.1h0M132.8 298.9h0M206.5 311.1h0M188.0 268.0h0M150.5 297.1h0M192.6 272.4h0M166.8 311.2h0M181.3 273.8h0M123.9 281.7h0M133.1 297.1h0M165.5 257.8h0M205.4 324.2h0M133.2 275.1h0M207.5 256.6h0M129.9 282.2h0M196.4 258.6h0M165.7 312.2h0M175.3 288.0h0M177.6 308.6h0M161.4 274.8h0M175.8 315.8h0M123.8 303.4h0M155.1 266.6h0M146.2 259.5h0M194.4 297.0h0M156.7 320.6h0M194.9 284.5h0M117.5 299.1h0M136.9 300.6h0M124.0 315.3h0M197.2 268.1h0M194.0 261.4h0M128.3 297.3h0M137.5 284.3h0M150.3 312.4h0M189.7 321.9h0M137.5 274.1h0M195.2 285.0h0M125.5 292.8h0M137.5 302.7h0M153.7 266.6h0M187.4 322.4h0M129.1 270.5h0M162.9 266.7h0M207.9 287.6h0M121.5 269.5h0M135.5 273.4h0M173.5 321.5h0M152.8 296.3h0M207.4 292.0h0M151.3 320.9h0M180.3 286.0h0M193.6 273.1h0" stroke="#b87890" stroke-width="2.20" stroke-linecap="round" stroke-opacity="0.35"/>
<path d="M124.1 272.1l4.6 5.7M139.0 259.8l4.9 5.0M163.1 326.9l2.3 2.9M132.0 311.7l4.1 5.9M206.6 291.5l5.1 5.1M200.2 298.1l3.9 5.7M149.1 255.8l2.2 4.9M147.3 321.7l2.2 4.7M186.5 330.7l3.1 4.6M205.7 264.4l2.0 3.5M145.8 314.1l5.4 5.3M184.2 325.1l2.7 5.3M153.4 261.6l2.9 6.2M145.4 276.3l1.9 4.3M131.0 271.8l3.5 6.1M140.4 306.2l3.4 5.3M130.1 313.9l2.5 2.5M172.9 323.3l3.7 6.3M197.5 305.4l3.3 7.1M195.8 265.5l3.4 4.0M167.5 289.8l2.7 5.6M204.1 329.9l3.2 3.1M210.0 262.0l2.4 3.1M179.0 289.2l3.5 7.0M200.3 278.0l4.2 6.8M155.4 287.6l2.3 5.4M115.4 297.0l2.2 2.3M199.7 312.0l4.7 6.1M135.6 258.0l3.9 3.8M139.4 305.0l2.2 4.9M195.4 263.0l2.0 3.5M197.6 295.8l3.1 3.9M136.7 309.6l2.1 3.0M141.4 283.2l2.5 2.9M167.8 308.8l4.7 4.4M133.6 292.4l2.1 4.0M196.1 261.0l1.9 2.3M129.4 307.2l2.9 6.2M135.6 300.5l2.3 3.7M120.6 320.2l2.0 4.3M124.5 315.1l2.2 2.4M210.7 269.6l4.1 4.7M184.4 303.7l5.1 5.5M150.0 269.9l1.9 3.7M155.5 274.3l4.0 5.5M126.5 330.7l4.1 5.9M158.3 282.8l1.8 2.8M133.7 263.4l2.9 3.2M131.0 324.5l3.1 3.0M120.7 299.4l2.5 5.2M152.1 314.0l3.5 5.5M184.8 274.1l3.2 3.2M134.6 311.0l1.5 3.0M170.5 295.4l2.5 3.4M211.1 315.4l3.4 6.3M204.3 322.2l3.0 5.6M117.1 278.8l4.3 5.4M117.4 309.9l2.1 2.8M150.9 275.0l2.2 3.7M138.1 316.3l4.2 5.4M127.6 282.9l2.9 3.1M163.4 320.8l4.2 6.0M147.1 259.1l2.0 4.0M142.8 306.2l2.2 5.2M164.3 272.0l3.4 3.4M135.0 295.6l3.0 3.1M141.0 256.1l2.2 4.2M183.1 310.0l2.8 4.9M133.4 300.8l2.7 3.4M195.3 321.8l3.4 6.7M173.5 318.2l4.0 6.4M133.3 268.3l3.5 3.5M210.0 297.7l4.0 4.7M145.5 300.4l3.2 5.7M171.4 285.5l2.3 2.5M124.1 281.4l3.3 6.6M133.3 310.0l3.0 3.8M201.9 299.0l4.2 6.3M142.4 276.9l3.1 3.2M183.6 259.1l2.2 3.1M163.8 258.1l2.8 4.6M198.4 272.4l4.1 4.3M144.9 326.8l3.8 6.2M173.1 307.4l3.7 4.2M134.9 305.0l4.5 6.1M172.4 309.9l5.5 5.7M189.3 273.6l3.3 5.6M147.5 276.3l2.6 2.6M147.8 275.2l5.0 5.5M134.2 283.9l3.5 3.6M120.7 269.1l2.6 5.3M175.3 294.6l2.0 3.2M118.3 297.2l2.0 2.3M197.5 301.2l2.1 3.9M133.0 313.1l3.0 3.3M206.6 305.1l3.4 6.3M124.8 262.8l5.0 5.7M201.6 262.6l1.8 2.7M160.1 317.0l2.5 3.5M132.6 313.8l1.8 2.6M134.9 261.0l2.2 3.0M153.3 265.3l2.6 6.2M118.3 308.5l4.9 5.0M169.8 312.3l3.9 5.4M150.9 304.8l2.4 2.8M181.2 325.8l2.2 3.5M134.8 270.4l2.9 4.0M144.6 300.0l2.4 3.2M122.6 302.5l4.2 4.5M125.1 284.2l4.6 5.6M129.3 321.9l2.6 3.1M162.1 321.9l2.1 3.3M205.4 269.4l3.1 6.0M206.6 327.3l3.3 5.4M194.2 322.1l4.5 5.5M169.8 301.4l3.7 4.7M156.6 272.1l2.2 3.5M158.0 319.3l1.7 3.0M207.5 261.2l2.1 2.4M197.7 277.4l3.3 3.3M176.5 278.7l3.5 3.3M176.4 313.1l3.2 7.0M166.5 273.0l4.7 5.8M175.7 297.5l2.3 4.4M153.1 298.2l4.8 5.1M188.6 276.6l2.4 4.1M130.2 256.1l3.0 3.6M195.0 298.2l2.8 6.1M141.7 287.2l1.8 3.8M130.8 269.2l4.0 6.8M199.6 320.5l5.0 5.8M148.3 279.8l4.8 5.9M146.2 315.8l4.4 5.1M204.6 290.3l3.6 6.1M137.0 302.6l2.1 2.6M122.0 296.1l3.6 3.7M177.1 283.1l1.9 3.5M189.1 307.2l3.5 3.9M115.1 303.8l5.2 5.8M119.0 300.9l3.0 4.0M193.7 287.0l3.7 6.3M198.1 311.5l3.0 7.0M158.1 264.1l2.6 2.7M179.1 294.5l2.2 3.1M153.2 275.1l3.9 3.8M134.1 279.8l3.0 4.0M135.2 311.4l2.5 5.5M204.1 322.6l4.8 4.5M210.2 274.9l2.9 5.1M209.2 293.1l2.3 4.8M119.7 294.1l2.0 2.6M144.0 268.8l3.2 6.7M166.7 323.5l3.8 5.0M180.7 328.6l2.2 3.8M165.9 315.2l2.0 3.7M206.7 294.9l3.6 6.9M195.1 266.8l2.1 2.8M135.4 262.1l2.3 2.6M184.5 327.8l3.6 6.3M175.9 291.9l1.9 2.5M187.5 264.5l1.9 3.9M159.8 302.0l3.1 4.2M211.3 316.0l4.3 4.6M186.2 276.6l4.0 4.1M151.9 287.2l1.8 2.9M171.1 318.8l3.1 5.8M131.3 278.2l5.0 6.1M197.3 296.9l4.3 4.9M204.5 328.0l1.8 3.8M209.8 308.0l1.7 3.3M205.2 323.1l3.3 5.5M169.4 280.3l3.1 5.9M182.5 299.1l2.4 4.6M189.3 308.3l2.2 4.6M206.9 270.8l3.1 4.5M206.6 305.1l2.4 3.0M161.7 283.0l3.1 3.8M174.8 306.4l2.5 2.5M186.0 288.9l1.8 3.4M198.7 309.6l4.1 6.5M130.6 299.0l1.5 3.4M138.6 310.8l4.4 5.1M114.4 262.6l2.4 3.8M187.1 304.9l1.8 2.7M154.2 262.4l2.7 3.6M134.6 275.4l1.7 3.9M195.1 262.5l2.7 4.3M153.5 267.0l2.3 3.8M153.4 279.5l2.3 3.3M131.5 316.0l3.6 5.9M185.4 276.4l2.4 5.3M114.5 301.3l1.6 2.8M180.8 283.2l3.7 4.0M185.9 316.8l2.2 4.8M125.8 308.8l3.7 4.9M168.8 290.7l3.5 5.5M206.0 297.6l3.7 4.7M209.6 280.1l2.4 2.3M194.3 327.8l2.2 3.0M140.8 291.7l2.9 5.3M195.7 329.7l3.0 3.7M121.0 328.7l2.1 4.5M205.9 315.1l3.2 5.9M181.7 296.5l3.3 3.8M146.1 301.9l4.8 5.5M150.7 262.6l4.6 6.4M176.1 280.1l2.3 2.3M125.2 320.5l3.3 5.1M116.8 285.8l4.5 5.2M152.8 272.5l1.3 2.9M123.6 306.1l2.0 4.2M144.2 267.3l3.7 5.1M156.7 254.9l3.9 4.8M143.3 307.0l2.1 4.7M210.2 256.0l2.2 2.5M192.7 281.8l2.6 3.1M186.3 254.8l1.7 3.0M204.9 301.5l1.9 2.6M115.5 285.7l3.1 5.5M167.5 274.0l2.9 5.4M190.5 320.5l1.7 3.6M181.5 315.1l2.8 4.6M166.8 260.3l3.6 6.0M198.8 281.0l2.2 4.6M194.4 316.7l3.7 5.0M169.0 320.6l2.7 2.5M211.4 318.7l2.5 5.8M211.0 311.5l4.5 4.8M204.4 326.6l4.0 6.4M196.8 256.6l5.2 5.7M209.5 280.3l4.9 4.8M157.8 329.8l1.6 3.2M166.6 292.9l5.5 5.2M155.4 285.1l4.2 5.4M207.4 269.5l2.6 5.2M165.8 257.4l4.9 5.6M195.4 293.1l2.0 3.6M191.9 313.1l2.3 4.9M129.7 309.3l3.0 5.9M183.2 315.1l1.9 3.0M115.2 287.7l2.0 4.0M167.2 281.8l2.6 4.0M144.2 295.1l5.0 5.9M205.7 282.8l4.5 5.1M155.3 316.5l5.0 4.8M175.0 320.6l2.5 2.4M197.1 315.2l4.0 4.5M195.6 289.0l1.8 2.9" stroke="#dcc6d2" stroke-width="1.10" stroke-linecap="round" stroke-opacity="0.5"/>
<path d="M114.4 259.5h0M122.1 254.0h0M124.9 254.2h0M133.0 254.2h0M136.0 256.0h0M144.6 255.5h0M145.4 256.6h0M153.4 259.6h0M157.3 254.1h0M163.8 254.2h0M166.4 255.7h0M173.7 256.1h0M176.5 253.7h0M180.4 259.7h0M184.0 254.0h0M192.6 257.1h0M195.0 254.6h0M202.4 254.9h0M205.8 254.9h0M213.9 258.5h0M118.9 261.3h0M121.2 261.7h0M124.9 264.5h0M130.2 263.6h0M137.8 259.6h0M144.0 262.6h0M145.1 260.3h0M151.6 263.1h0M158.6 264.2h0M161.3 260.9h0M167.7 261.5h0M171.1 264.4h0M179.1 259.2h0M180.5 258.9h0M185.6 259.0h0M194.3 261.3h0M194.9 260.7h0M202.6 260.3h0M204.2 259.6h0M211.9 260.3h0M116.0 266.3h0M123.9 265.0h0M125.0 266.6h0M133.0 267.7h0M135.4 268.6h0M138.8 267.8h0M145.0 264.9h0M149.5 269.5h0M156.2 269.4h0M164.3 265.8h0M168.5 264.8h0M171.9 269.4h0M178.1 268.2h0M183.4 263.9h0M188.8 264.3h0M191.4 267.9h0M197.8 267.9h0M204.6 265.6h0M204.1 268.2h0M211.4 269.6h0M117.1 270.3h0M123.0 270.7h0M129.2 270.3h0M132.1 269.9h0M139.0 270.5h0M139.8 269.0h0M149.5 274.1h0M151.2 269.3h0M155.1 272.0h0M159.2 269.7h0M164.1 272.2h0M169.7 270.4h0M179.2 272.0h0M180.2 273.2h0M188.7 273.4h0M194.4 270.4h0M197.4 271.2h0M203.7 269.5h0M209.6 274.1h0M210.4 271.7h0M117.2 276.8h0M121.4 274.4h0M129.4 277.5h0M134.3 278.4h0M135.1 275.0h0M139.8 275.4h0M145.2 277.1h0M149.9 276.5h0M158.0 278.5h0M161.4 279.3h0M165.9 278.3h0M173.6 279.2h0M177.0 278.6h0M183.6 275.4h0M188.3 278.2h0M191.1 276.3h0M196.6 276.6h0M202.1 279.6h0M208.3 278.5h0M212.3 279.5h0M115.2 279.8h0M124.1 283.2h0M124.1 283.3h0M133.0 281.5h0M135.8 280.4h0M144.6 278.8h0M148.7 278.8h0M150.9 278.8h0M157.9 283.0h0M161.6 282.4h0M163.9 283.9h0M169.9 282.0h0M176.3 282.5h0M184.4 281.8h0M184.9 280.2h0M190.4 281.3h0M199.3 284.6h0M202.9 283.5h0M209.7 279.9h0M209.8 284.3h0M118.7 289.1h0M120.9 285.7h0M129.6 284.4h0M132.3 285.7h0M134.0 288.8h0M142.4 287.7h0M147.5 284.3h0M151.0 284.2h0M155.2 287.6h0M163.1 284.7h0M167.5 283.8h0M173.0 288.3h0M175.7 288.9h0M180.7 287.2h0M185.0 287.5h0M192.8 285.2h0M197.7 285.5h0M200.6 288.4h0M209.6 289.4h0M214.7 283.9h0M114.6 289.5h0M119.9 292.5h0M129.0 291.7h0M133.9 291.6h0M134.0 291.7h0M144.4 290.7h0M147.1 293.5h0M153.6 291.3h0M155.2 291.9h0M161.1 290.7h0M168.6 289.3h0M170.4 289.2h0M177.2 289.8h0M182.8 294.1h0M189.3 293.4h0M194.7 290.7h0M199.7 291.0h0M199.7 294.4h0M205.3 289.2h0M212.1 288.8h0M114.8 295.5h0M119.3 297.3h0M128.6 297.6h0M133.2 296.0h0M136.6 294.8h0M143.4 294.6h0M148.6 297.0h0M152.1 298.6h0M156.0 294.8h0M163.9 293.8h0M165.5 296.0h0M171.5 297.1h0M176.3 294.0h0M179.9 298.1h0M183.9 295.7h0M192.6 295.2h0M193.9 297.5h0M202.5 299.6h0M207.9 298.6h0M210.9 295.9h0M117.8 302.5h0M121.6 303.7h0M128.3 301.7h0M129.3 299.8h0M134.2 300.9h0M140.1 300.3h0M148.2 303.8h0M151.4 299.9h0M159.2 303.7h0M163.6 304.6h0M165.2 303.1h0M171.9 298.7h0M174.9 301.9h0M184.3 300.2h0M185.1 303.8h0M193.3 299.2h0M195.5 302.1h0M204.0 301.7h0M206.7 301.0h0M213.4 304.1h0M115.4 309.3h0M120.9 304.6h0M129.1 303.9h0M132.7 308.2h0M133.9 304.4h0M141.1 304.7h0M148.0 309.2h0M151.7 307.1h0M154.4 304.4h0M161.8 308.9h0M165.2 304.1h0M171.8 304.2h0M179.4 308.1h0M180.4 308.9h0M186.3 305.5h0M194.2 307.7h0M199.5 309.6h0M199.5 308.2h0M205.2 307.8h0M209.7 305.1h0M116.7 309.4h0M123.3 313.1h0M128.8 309.8h0M130.3 309.2h0M134.6 310.3h0M138.9 313.9h0M146.8 314.2h0M150.4 310.0h0M159.2 310.1h0M161.2 312.5h0M167.3 311.3h0M173.3 312.0h0M176.1 308.9h0M184.2 310.1h0M187.6 312.9h0M193.6 312.9h0M197.9 310.0h0M201.7 313.7h0M205.9 313.2h0M212.3 312.1h0M117.7 317.8h0M121.8 313.7h0M124.2 316.2h0M129.3 318.2h0M136.1 317.8h0M142.4 318.1h0M147.3 318.0h0M152.7 316.2h0M158.2 317.2h0M162.0 316.0h0M169.6 316.2h0M174.8 314.8h0M173.9 315.8h0M180.3 317.9h0M188.1 315.8h0M191.2 314.4h0M197.1 317.8h0M201.2 319.3h0M203.9 317.6h0M214.1 319.4h0M117.0 320.2h0M122.0 320.6h0M124.0 320.3h0M134.3 319.9h0M138.1 320.1h0M142.2 323.0h0M149.6 321.6h0M152.6 318.9h0M155.9 321.3h0M163.4 323.7h0M167.7 322.0h0M174.2 322.6h0M176.4 324.1h0M181.9 322.9h0M184.2 323.1h0M192.9 323.4h0M198.8 319.9h0M199.6 321.6h0M205.1 321.0h0M212.7 319.6h0M114.6 327.4h0M120.3 326.7h0M128.5 324.3h0M133.1 325.0h0M138.8 327.2h0M142.2 326.8h0M148.8 327.7h0M150.3 328.2h0M158.6 327.2h0M163.3 325.2h0M163.8 326.1h0M171.1 328.6h0M178.5 328.7h0M178.8 329.2h0M186.9 324.9h0M191.7 323.9h0M198.8 328.7h0M199.1 327.0h0M206.9 327.5h0M211.0 329.3h0M118.8 329.6h0M122.4 331.5h0M125.8 333.9h0M131.9 331.2h0M136.0 331.0h0M140.0 331.2h0M149.5 332.3h0M149.0 331.2h0M158.7 329.3h0M163.6 329.3h0M167.7 329.2h0M174.0 331.3h0M179.1 331.8h0M184.5 334.6h0M189.1 334.5h0M192.4 334.2h0M198.5 331.2h0M202.0 329.0h0M207.0 331.3h0M212.2 334.6h0" stroke="#8e4c7c" stroke-width="2.90" stroke-linecap="round" stroke-opacity="0.45"/>
</g></g>
<rect x="114.30" y="254.20" width="97.30" height="76.50" fill="none" stroke="#2a2a2a" stroke-width="0.9"/>
<clipPath id="c13"><rect x="15.50" y="333.20" width="97.00" height="77.20"/></clipPath>
<g clip-path="url(#c13)"><g fill="none" filter="url(#blr)">
<rect x="15.50" y="333.20" width="97.00" height="77.20" fill="#c8909e"/>
<path d="M40.6 386.1h0M81.9 398.8h0M33.5 351.0h0M29.8 350.6h0M86.7 343.3h0M67.0 349.7h0M44.1 366.5h0M96.8 380.2h0M16.9 354.5h0M29.7 400.5h0M94.0 395.4h0M95.7 390.7h0M107.6 394.5h0M40.4 398.8h0M62.7 391.5h0M70.2 366.4h0M50.8 366.4h0M45.9 342.3h0M95.0 394.8h0M111.1 386.5h0M69.3 391.0h0M28.6 385.5h0M58.5 346.8h0M35.2 373.6h0M40.1 368.7h0M74.2 363.8h0M28.2 371.1h0M38.3 351.4h0M34.4 361.5h0M22.6 383.5h0M108.0 363.3h0M85.2 405.2h0M19.7 344.1h0M93.7 397.9h0M77.5 345.5h0M55.6 400.2h0M101.5 395.2h0M35.2 399.1h0M51.9 388.5h0M28.8 408.2h0M74.0 389.0h0M36.0 380.9h0M71.8 378.8h0M50.4 389.4h0M48.6 356.0h0M31.5 386.0h0M26.4 350.6h0M22.2 382.9h0M69.4 375.1h0M19.3 367.1h0M48.8 340.4h0M15.8 410.2h0M27.3 356.5h0M41.6 379.3h0M23.0 369.5h0M51.1 397.6h0M16.1 359.0h0M63.7 408.1h0M65.6 369.8h0M80.4 356.1h0M18.6 371.9h0M103.8 390.2h0M40.6 386.0h0M97.9 353.2h0M72.5 360.6h0M39.2 355.4h0M35.3 360.3h0M19.2 363.9h0M23.9 391.7h0M73.7 333.5h0M90.6 347.9h0M62.1 376.0h0M47.8 355.5h0M57.7 343.8h0M99.3 341.8h0M95.4 350.1h0M44.9 363.2h0M18.7 343.1h0M50.5 367.3h0M100.5 409.6h0M19.7 374.5h0M28.0 395.2h0M46.8 402.1h0M68.4 342.9h0M16.0 352.4h0M99.7 344.8h0M62.0 361.9h0M49.0 395.1h0M36.2 388.7h0M80.2 405.4h0M65.9 404.3h0M58.2 377.5h0M75.7 398.0h0M102.6 342.1h0M28.8 374.4h0M94.3 374.4h0M44.6 407.5h0M44.4 339.9h0M20.6 335.5h0M86.0 341.5h0M85.0 400.1h0M112.5 395.7h0M56.7 381.2h0M96.3 388.5h0M43.7 392.0h0M26.1 357.0h0M112.1 369.6h0M41.5 393.8h0M59.2 333.5h0M18.3 353.2h0M47.7 405.6h0M39.5 398.8h0M98.3 365.3h0M111.8 392.0h0M62.5 353.4h0M60.2 402.8h0M67.6 348.2h0M51.9 370.0h0M34.0 377.4h0M18.8 396.6h0M32.8 341.1h0M72.6 356.9h0M101.4 371.6h0M66.1 397.6h0M36.3 390.7h0M78.5 366.3h0M108.6 334.9h0M99.1 344.3h0M97.0 345.1h0M20.7 371.9h0M105.3 353.1h0M62.7 380.1h0M39.1 374.1h0M16.4 367.9h0M89.2 359.4h0M36.9 337.1h0M83.5 366.2h0M104.2 390.4h0M25.2 403.8h0M105.9 396.3h0M96.1 385.8h0M85.4 384.7h0M72.8 353.1h0M28.5 389.3h0M73.4 337.6h0M77.7 380.3h0M65.1 393.0h0M100.5 362.6h0M94.5 371.7h0M71.0 365.2h0M106.0 367.5h0M107.9 359.3h0M80.7 403.7h0M81.8 362.2h0M23.0 370.1h0M55.7 396.0h0M91.6 409.3h0M58.9 364.9h0M70.2 391.1h0M23.3 349.8h0M29.6 358.3h0M44.6 407.9h0M35.7 405.3h0M44.1 348.9h0M110.0 340.1h0M26.4 343.1h0M22.0 363.0h0M36.1 345.5h0M17.0 387.1h0M20.3 351.1h0M70.3 401.4h0M79.5 387.9h0M83.5 394.7h0M98.2 345.2h0M20.7 381.1h0M65.8 373.4h0M91.3 346.7h0M84.0 366.1h0M56.4 352.1h0M42.8 377.9h0M69.2 403.2h0M42.7 388.4h0M24.9 383.5h0M31.1 399.4h0M109.1 352.8h0M93.9 350.2h0M45.1 341.2h0M58.3 341.3h0M83.8 377.6h0M56.2 388.0h0M38.1 358.8h0M50.8 333.4h0M101.5 340.0h0M25.3 394.8h0M94.9 367.7h0M56.4 343.9h0M15.6 373.4h0M39.1 344.9h0M103.3 334.7h0M50.6 391.2h0M87.9 341.5h0M87.5 376.7h0M76.6 406.0h0M93.0 379.5h0M90.2 371.2h0M69.0 396.3h0M75.6 362.3h0M17.5 394.2h0M48.5 366.3h0M43.4 376.1h0M54.4 397.6h0M73.1 376.3h0M91.5 367.2h0M67.5 391.1h0M85.6 390.6h0M101.9 376.3h0M69.4 347.7h0M38.9 366.7h0M63.9 402.6h0M19.6 360.2h0M87.3 368.6h0M97.8 345.5h0M90.3 366.5h0M70.6 337.6h0M54.6 395.2h0M86.8 376.7h0M56.5 336.2h0M83.3 367.7h0M85.7 380.4h0M54.5 400.7h0M28.3 407.2h0M23.8 408.0h0M72.4 367.8h0M106.3 372.7h0M64.8 337.8h0M92.9 382.5h0M38.7 342.0h0M56.2 405.4h0M99.9 369.1h0M19.0 397.2h0M35.1 389.6h0M63.9 407.6h0M29.8 394.5h0M85.4 334.5h0M70.3 356.0h0M82.9 407.4h0M80.1 371.3h0M74.1 352.4h0M60.9 342.2h0M85.4 338.3h0M66.6 347.1h0M70.1 337.6h0M18.2 381.4h0M85.3 401.8h0M81.2 410.1h0M29.3 381.7h0M77.2 346.7h0M29.1 351.8h0M66.3 394.0h0M84.5 377.3h0M23.0 388.9h0M65.2 346.3h0M75.5 352.2h0M45.5 368.0h0M88.4 341.4h0M58.4 351.4h0M80.6 396.2h0M41.1 388.8h0M60.5 350.0h0M42.2 374.7h0M93.8 379.7h0M15.6 393.5h0M71.8 365.8h0M38.9 367.2h0M82.6 354.1h0M28.9 401.0h0M58.4 338.7h0M101.9 341.6h0M50.9 381.0h0M79.9 402.6h0M32.6 377.2h0M100.8 369.3h0M84.8 369.2h0M85.0 407.2h0M48.5 390.1h0M49.0 401.7h0M89.6 399.4h0M100.3 379.2h0M107.7 345.2h0M71.2 338.9h0M72.1 386.2h0M43.2 395.9h0M56.0 348.4h0M34.3 377.8h0M52.8 336.8h0M45.2 408.4h0M61.3 385.9h0M56.9 338.7h0M74.9 349.4h0M27.3 380.8h0M81.0 334.0h0M107.3 334.8h0M31.6 358.6h0M92.8 390.5h0M87.6 366.4h0M104.0 343.5h0M108.7 337.1h0M30.4 391.2h0M90.2 385.2h0M39.6 400.1h0M65.5 349.1h0M24.9 409.5h0M20.9 350.2h0M50.1 402.2h0M96.1 398.2h0M76.7 334.1h0M87.1 347.9h0M107.4 408.1h0M21.9 389.7h0M38.9 341.3h0M100.4 367.4h0M44.1 376.4h0M21.8 365.9h0M78.5 399.9h0M27.4 402.2h0M25.7 349.1h0M47.9 346.2h0M24.3 383.8h0M54.2 347.8h0M65.4 342.8h0M81.6 407.6h0M60.8 365.8h0M54.2 361.5h0M55.6 347.0h0M44.2 386.5h0M62.0 338.4h0M29.6 398.1h0M49.8 397.3h0M75.4 381.5h0M50.0 378.0h0M55.7 373.1h0M107.1 341.5h0M36.2 402.9h0M105.4 395.9h0M99.0 341.2h0M85.2 342.8h0M97.7 363.8h0M63.0 373.3h0M35.5 376.9h0M99.1 367.9h0M58.1 361.5h0M34.0 355.2h0M96.8 407.7h0M51.8 355.4h0M48.2 399.9h0M41.0 347.3h0M46.1 339.9h0M29.8 351.1h0M78.7 404.9h0M40.6 355.8h0M72.4 335.5h0M24.1 377.5h0M60.6 360.3h0M55.8 334.7h0M40.7 346.9h0M38.7 338.6h0M94.6 334.5h0M55.7 346.5h0M35.2 391.8h0M108.7 407.7h0M47.6 375.0h0M57.4 339.4h0M56.5 380.4h0M54.2 393.8h0M58.8 355.9h0M102.3 377.2h0M40.3 403.0h0M62.0 379.8h0M60.9 399.5h0M86.5 367.4h0M50.9 392.8h0M96.7 379.7h0M100.2 373.9h0M55.8 357.7h0M41.6 345.0h0M105.0 375.9h0M23.6 349.3h0M56.6 395.4h0M98.5 391.8h0M43.9 366.2h0M107.4 363.1h0M78.5 337.1h0M62.0 372.3h0M103.7 407.4h0M88.5 358.8h0M100.1 403.9h0M22.9 366.0h0M69.0 356.7h0M38.8 393.8h0M35.8 375.9h0M17.4 368.9h0M109.0 333.5h0M25.9 402.7h0M104.2 372.3h0M44.1 356.2h0M86.7 378.0h0M58.8 386.6h0M25.1 363.2h0M100.7 403.6h0M62.6 393.6h0M101.3 373.5h0M29.4 341.2h0M80.6 359.6h0M66.6 336.5h0M107.4 354.6h0M77.0 381.3h0M50.0 349.4h0M70.0 358.4h0M23.0 346.8h0M19.3 402.5h0M35.2 404.2h0M75.5 407.1h0M61.1 352.9h0M23.7 381.2h0M82.9 385.6h0M103.8 340.8h0M78.1 387.5h0M106.8 352.5h0M105.8 335.2h0M72.6 358.5h0M65.8 346.6h0M52.8 360.1h0M60.5 364.5h0M36.7 346.2h0M60.9 409.7h0M97.8 344.8h0M77.0 344.5h0M47.1 410.1h0M48.4 341.1h0M70.0 378.5h0M65.0 406.3h0M65.2 361.3h0M35.7 378.1h0M87.7 372.1h0M53.4 352.6h0M97.5 409.8h0M72.3 388.1h0M47.0 345.4h0M21.0 380.8h0M104.5 386.5h0M80.8 399.5h0M55.5 366.3h0M40.8 397.4h0M82.5 373.6h0M91.1 403.6h0M20.0 350.2h0M60.9 388.3h0M39.0 367.4h0M79.9 355.9h0M80.4 337.9h0M55.5 382.5h0M99.3 372.7h0M80.0 384.4h0M78.3 368.0h0M46.2 343.1h0M101.5 393.1h0M78.7 391.3h0M46.0 346.8h0" stroke="#d0a0ae" stroke-width="2.60" stroke-linecap="round" stroke-opacity="0.45"/>
<path d="M67.1 369.3h0M78.4 400.6h0M53.6 362.0h0M83.9 401.4h0M70.4 379.1h0M102.0 404.3h0M19.9 408.4h0M24.7 375.8h0M64.0 408.8h0M38.2 336.6h0M108.5 368.5h0M60.0 366.2h0M42.4 335.5h0M69.5 349.9h0M63.9 410.1h0M110.9 357.0h0M47.9 342.6h0M74.4 347.0h0M27.8 403.9h0M69.7 401.9h0M36.3 346.8h0M71.6 386.6h0M32.8 372.0h0M70.0 371.8h0M46.0 367.7h0M26.2 340.8h0M21.2 397.6h0M39.7 385.3h0M26.7 401.4h0M18.3 395.4h0M67.1 403.3h0M101.8 334.2h0M20.4 352.4h0M19.8 400.0h0M29.5 385.4h0M107.2 387.4h0M112.0 383.2h0M53.2 408.4h0M36.5 376.0h0M55.7 375.3h0M44.4 407.3h0M111.6 387.1h0M63.7 406.6h0M107.4 336.9h0M101.3 341.6h0M24.6 352.7h0M51.5 370.6h0M108.0 344.7h0M78.2 372.1h0M27.7 410.1h0M104.3 359.9h0M99.9 368.0h0M80.8 404.8h0M77.5 361.1h0M20.6 369.2h0M71.6 354.3h0M71.4 334.4h0M40.0 370.4h0M62.3 387.7h0M38.0 354.9h0M86.6 355.1h0M30.1 381.2h0M49.5 378.7h0M109.5 408.1h0M92.2 408.3h0M92.4 361.0h0M106.0 342.9h0M35.8 372.2h0M27.5 379.8h0M68.4 349.3h0M87.6 339.6h0M62.9 354.4h0M106.5 344.4h0M52.4 388.3h0M44.9 397.1h0M26.5 339.0h0M16.8 376.1h0M62.0 374.5h0M61.3 400.9h0M36.5 344.5h0M39.6 397.5h0M94.2 341.9h0M15.6 409.6h0M109.5 354.5h0M67.1 336.8h0M64.9 346.5h0M81.7 345.2h0M70.3 358.6h0M62.3 406.5h0M66.3 408.4h0M85.4 350.7h0M40.0 396.3h0M90.8 344.3h0M94.0 356.2h0M70.5 402.1h0M104.6 346.7h0M29.3 353.8h0M74.2 407.7h0M78.9 392.1h0M95.2 369.9h0M52.0 394.8h0M75.7 401.5h0M112.2 369.1h0M48.9 343.1h0M72.2 357.5h0M46.1 372.3h0M86.2 385.8h0M60.1 383.5h0M76.4 403.7h0M81.8 398.7h0M38.9 398.9h0M16.1 396.0h0M16.9 380.2h0M42.1 345.8h0M87.6 343.8h0M81.5 339.6h0M35.7 363.8h0M70.9 384.1h0M50.4 400.1h0M18.3 348.1h0M53.6 380.4h0M79.0 401.7h0M49.5 382.7h0M82.5 345.6h0M51.2 367.4h0M73.7 374.0h0M28.9 348.9h0M47.3 339.9h0M90.3 402.4h0M86.7 350.2h0M72.5 335.7h0M36.0 352.8h0M73.5 378.2h0M68.0 345.6h0M64.2 390.9h0M100.2 361.7h0M59.1 400.4h0M19.9 379.8h0M25.4 395.3h0M81.0 338.7h0M19.7 405.8h0M45.3 378.1h0M71.8 362.7h0M25.1 389.1h0M48.0 366.2h0M93.2 405.6h0M43.3 358.9h0M90.7 367.9h0M102.1 362.0h0M20.8 355.2h0M102.7 377.9h0M110.0 396.6h0M81.5 347.0h0M55.8 334.8h0M47.9 350.1h0M106.4 345.2h0M49.0 335.0h0M30.4 386.9h0M54.6 372.2h0M95.1 386.9h0M36.1 390.8h0M81.8 378.6h0M64.1 403.9h0M73.7 337.9h0M96.9 384.1h0M41.4 392.9h0M105.9 389.8h0M61.8 397.1h0M23.4 337.3h0M54.7 373.2h0M77.8 384.0h0M65.8 362.0h0M86.6 376.3h0M35.7 377.7h0M60.0 394.5h0M83.6 409.2h0M89.6 372.7h0M80.5 355.8h0M69.2 409.7h0M27.2 366.0h0M57.3 388.4h0M33.9 386.0h0M26.4 407.6h0M23.3 383.0h0M88.1 375.9h0M41.6 361.1h0M102.1 368.6h0M70.0 406.9h0M62.5 396.0h0M73.6 397.2h0M76.0 343.6h0M37.5 354.5h0M36.9 378.9h0M56.1 361.4h0M17.5 409.4h0M62.6 349.3h0M79.8 340.2h0M29.7 406.0h0M80.2 360.9h0M28.4 389.3h0M38.9 358.5h0M42.7 381.8h0M39.1 337.4h0M97.8 374.1h0M27.8 338.1h0M103.9 372.6h0M68.8 402.7h0M17.8 341.4h0M35.6 387.2h0M26.5 376.6h0M92.5 364.2h0M80.1 336.5h0M62.3 362.1h0M81.0 363.5h0M79.6 402.6h0M105.9 395.9h0M84.0 407.5h0M57.2 334.8h0M93.6 361.0h0M48.0 406.4h0M54.3 343.5h0M103.3 333.4h0M20.5 387.2h0M32.2 388.9h0M15.8 355.7h0M53.9 381.6h0M87.7 385.5h0M34.3 399.1h0M20.7 367.1h0M20.4 392.6h0M61.3 367.1h0M106.3 351.9h0M78.9 387.0h0M22.4 392.7h0M48.6 389.6h0M88.6 359.1h0M53.8 364.9h0M25.2 377.0h0M85.9 407.3h0M58.6 375.5h0M77.6 392.1h0M79.9 407.1h0M97.1 407.7h0M58.4 375.5h0M31.8 372.8h0M65.2 360.7h0M106.0 401.0h0M95.1 356.3h0M71.8 399.3h0M53.4 378.4h0M34.1 405.8h0M71.0 367.9h0M98.8 354.1h0M67.0 364.8h0M102.5 371.8h0M107.2 396.6h0M26.3 378.5h0M63.1 345.0h0M100.5 396.3h0M109.7 370.9h0M29.5 383.7h0M96.8 354.1h0M89.2 370.4h0M53.0 409.1h0M83.3 408.1h0M90.7 397.2h0M36.1 390.7h0M25.1 392.5h0M82.3 364.1h0M72.0 407.5h0M81.8 356.1h0M109.0 393.5h0M44.8 365.4h0M48.9 367.4h0M96.8 362.6h0M107.0 356.9h0M49.9 355.9h0M91.9 341.7h0M30.8 395.7h0M87.7 345.1h0M56.5 337.8h0M97.5 400.9h0M19.3 393.8h0M39.5 409.1h0M30.3 406.2h0M44.1 376.0h0M68.8 394.6h0M49.7 393.6h0M93.1 384.0h0M20.5 368.0h0M36.9 410.0h0M56.3 401.3h0M56.0 353.2h0M34.0 388.5h0M25.3 369.9h0M66.9 406.9h0M96.4 338.6h0M50.2 366.3h0M90.7 341.3h0M82.8 355.7h0M74.3 361.2h0M32.1 399.1h0M96.9 360.9h0M51.6 349.5h0M49.4 365.2h0M27.3 404.1h0M58.7 353.0h0M40.8 345.6h0M61.5 365.2h0M92.5 358.2h0M36.4 346.2h0M84.2 345.5h0M30.3 339.7h0M68.2 358.8h0M87.8 361.2h0M97.4 352.0h0M52.3 392.8h0M99.8 395.6h0M81.5 371.1h0M56.8 404.8h0M47.9 365.0h0M82.1 375.3h0M103.5 358.8h0M95.7 390.8h0M28.8 403.8h0M83.4 405.0h0M66.4 401.1h0M67.5 402.6h0M93.2 348.4h0M101.3 345.8h0M64.9 359.7h0M58.2 355.2h0M45.1 390.3h0M54.2 373.1h0M30.0 345.5h0M82.5 364.6h0M70.5 403.4h0M24.1 353.2h0M97.4 386.2h0M93.5 345.0h0M57.2 399.0h0M109.5 388.2h0M109.5 359.6h0M80.2 405.2h0M31.3 380.4h0M46.0 373.7h0M100.8 367.0h0M27.2 372.7h0M72.4 354.5h0M93.5 356.2h0M61.8 376.3h0M18.1 402.6h0M76.2 354.9h0M104.2 392.4h0M73.3 371.7h0M82.5 350.5h0M59.8 335.0h0M20.8 379.5h0M66.8 398.5h0M77.4 390.4h0M80.5 363.7h0M86.2 346.8h0M109.6 380.8h0M58.0 385.5h0M58.4 356.4h0M76.7 407.8h0M72.6 401.8h0M53.4 407.2h0M105.5 391.8h0M23.8 403.3h0M70.3 368.7h0M94.7 378.0h0M96.1 376.9h0M32.4 405.6h0" stroke="#b87890" stroke-width="2.20" stroke-linecap="round" stroke-opacity="0.35"/>
<path d="M36.8 373.0l0.4 3.3M63.5 364.6l1.2 7.1M70.0 379.6l0.7 4.7M87.3 380.4l0.2 4.7M103.2 370.3l0.8 6.3M77.6 387.9l0.5 5.3M49.1 336.5l0.1 6.2M64.0 403.0l0.5 6.4M95.0 389.3l1.1 7.8M33.3 335.8l-0.2 4.5M48.1 344.9l-0.4 3.2M46.6 409.6l1.0 6.4M76.9 360.8l-0.2 3.8M96.1 398.5l-0.3 3.2M47.2 345.5l-0.6 3.0M90.0 406.2l-0.7 4.1M100.5 342.6l0.2 6.7M58.4 350.8l-0.2 4.9M97.4 396.6l1.2 7.0M36.1 349.7l-1.6 7.6M71.1 401.7l-0.2 4.3M65.2 384.2l0.8 4.6M89.4 383.2l0.7 3.6M110.1 343.0l-1.1 6.6M43.8 354.2l0.2 3.6M33.9 409.6l0.0 7.2M92.8 349.4l-0.7 7.0M23.5 360.6l0.3 5.8M69.8 368.5l-1.3 7.8M61.4 401.8l0.8 7.5M20.0 389.1l-0.2 6.4M44.3 383.5l0.1 4.1M57.7 384.6l-1.5 7.2M83.0 369.5l-0.3 4.2M51.1 396.5l0.2 3.3M20.6 335.7l-0.3 3.3M95.0 367.5l-0.0 4.9M88.1 389.5l-0.4 5.7M41.6 376.1l0.1 5.5M109.6 375.8l-0.7 5.3M57.1 400.5l0.7 6.8M85.8 351.6l1.0 7.3M103.3 368.3l0.5 4.0M70.2 351.1l1.2 6.1M101.6 339.0l-0.6 3.1M35.3 343.6l0.1 4.5M62.5 350.0l-0.0 6.6M51.0 349.4l-0.6 6.5M88.0 410.0l0.4 5.9" stroke="#dcc6d2" stroke-width="1.10" stroke-linecap="round" stroke-opacity="0.5"/>
<path d="M18.5 335.2h0M22.7 335.3h0M27.4 335.3h0M34.7 336.5h0M40.4 338.1h0M41.9 334.2h0M48.2 338.2h0M50.8 334.9h0M58.0 333.3h0M65.2 337.8h0M66.9 337.4h0M71.3 333.4h0M78.8 334.7h0M82.2 337.6h0M89.5 336.5h0M95.2 334.6h0M100.1 337.6h0M103.4 334.2h0M107.7 337.4h0M115.6 334.6h0M18.9 343.1h0M25.6 338.7h0M27.9 338.8h0M34.7 342.3h0M40.6 340.2h0M44.3 337.8h0M46.3 340.5h0M53.2 340.7h0M58.4 341.1h0M64.0 338.0h0M69.8 337.9h0M70.1 341.3h0M75.0 342.2h0M82.3 341.0h0M90.4 341.6h0M94.6 339.0h0M97.5 340.0h0M101.3 340.4h0M107.2 340.0h0M110.1 340.7h0M17.2 344.2h0M25.1 346.8h0M26.4 347.9h0M34.8 343.1h0M35.5 343.2h0M45.5 347.0h0M48.3 346.5h0M55.8 345.8h0M55.2 343.9h0M61.5 346.4h0M66.6 346.5h0M70.3 347.3h0M75.8 343.7h0M84.6 342.8h0M85.6 346.3h0M95.1 342.7h0M95.8 346.4h0M101.8 347.4h0M106.9 344.3h0M113.9 342.9h0M20.4 348.8h0M24.4 352.8h0M30.0 351.3h0M30.6 350.2h0M36.1 352.0h0M40.1 348.7h0M49.1 351.4h0M55.1 352.3h0M60.2 350.9h0M62.4 352.9h0M65.9 348.0h0M71.6 353.1h0M77.3 349.4h0M81.1 352.3h0M86.5 348.8h0M94.2 352.0h0M96.7 352.4h0M104.0 350.4h0M110.6 351.7h0M110.4 347.9h0M19.3 356.4h0M20.6 357.9h0M25.7 353.6h0M31.7 356.4h0M39.1 358.3h0M41.6 352.9h0M46.1 353.7h0M55.1 355.1h0M57.5 355.7h0M65.4 353.3h0M67.3 354.0h0M71.4 358.2h0M75.6 354.8h0M85.3 358.2h0M89.2 355.1h0M93.0 356.8h0M101.0 358.2h0M103.7 358.4h0M107.5 355.5h0M115.1 357.9h0M19.9 361.3h0M20.3 360.8h0M29.6 360.5h0M33.6 362.6h0M36.6 360.9h0M45.2 363.5h0M50.4 357.8h0M53.7 361.9h0M60.0 363.0h0M62.9 360.2h0M65.6 362.7h0M74.5 362.9h0M77.1 359.3h0M82.0 361.7h0M86.4 357.7h0M92.6 359.8h0M98.4 360.7h0M106.0 358.6h0M110.5 363.6h0M114.0 360.8h0M16.9 368.5h0M22.9 368.1h0M28.8 363.4h0M32.9 364.9h0M37.4 363.4h0M42.7 364.5h0M46.5 367.5h0M51.9 365.4h0M55.8 363.6h0M65.8 363.0h0M68.6 363.7h0M73.3 367.3h0M78.5 366.9h0M83.1 368.4h0M87.7 364.4h0M91.8 368.1h0M99.3 367.2h0M104.0 366.7h0M106.7 368.1h0M115.1 366.6h0M20.8 372.3h0M20.9 373.2h0M29.1 373.0h0M32.9 367.9h0M36.9 371.5h0M40.8 367.9h0M50.7 369.5h0M53.9 369.0h0M56.2 372.5h0M61.4 371.0h0M67.7 369.7h0M75.0 373.6h0M78.6 369.7h0M80.4 372.4h0M90.6 373.5h0M90.4 372.1h0M95.9 369.6h0M104.6 372.3h0M106.2 371.4h0M113.3 369.6h0M20.5 377.2h0M20.5 373.0h0M28.6 374.7h0M33.5 377.3h0M38.0 376.6h0M45.6 377.2h0M47.6 377.0h0M55.9 375.7h0M59.7 375.9h0M60.5 377.0h0M65.9 378.2h0M75.0 376.7h0M80.8 372.9h0M84.7 378.3h0M86.7 375.1h0M90.3 377.1h0M95.1 376.6h0M103.2 376.7h0M109.3 378.6h0M114.1 378.0h0M15.5 380.8h0M24.0 383.6h0M26.7 383.0h0M33.4 383.2h0M37.2 379.6h0M45.1 381.3h0M48.9 381.3h0M54.9 379.8h0M55.4 383.0h0M63.7 378.1h0M70.8 383.2h0M73.3 379.6h0M79.5 382.5h0M85.1 381.2h0M89.7 383.5h0M94.2 380.2h0M95.9 379.3h0M103.3 383.4h0M105.7 381.4h0M115.1 380.0h0M17.6 387.3h0M22.3 382.7h0M27.0 383.0h0M35.6 385.2h0M40.2 383.5h0M42.2 386.9h0M45.8 385.2h0M52.6 382.8h0M57.0 388.5h0M62.7 383.1h0M69.1 384.7h0M72.8 387.9h0M76.1 383.3h0M82.2 385.8h0M88.0 385.3h0M95.3 387.4h0M99.7 387.1h0M102.2 385.7h0M107.6 385.1h0M114.6 384.6h0M17.4 388.5h0M21.3 390.1h0M30.3 389.2h0M33.9 390.8h0M35.1 387.9h0M42.0 391.8h0M45.8 388.5h0M51.4 390.3h0M55.4 392.3h0M62.6 392.8h0M69.8 393.5h0M70.6 392.9h0M77.8 390.5h0M84.7 387.8h0M86.9 392.6h0M90.1 392.4h0M98.3 387.7h0M100.4 389.5h0M109.0 393.2h0M114.5 387.9h0M18.7 395.8h0M22.7 394.7h0M30.0 396.6h0M35.8 393.8h0M37.1 393.6h0M41.4 393.7h0M48.9 394.7h0M54.8 396.6h0M55.9 394.9h0M65.0 397.2h0M65.2 398.4h0M72.6 398.4h0M78.6 396.9h0M81.9 393.7h0M89.5 395.1h0M92.7 396.4h0M100.4 393.5h0M104.7 398.1h0M105.7 393.4h0M115.4 398.4h0M18.7 402.5h0M20.2 400.6h0M30.7 398.5h0M32.5 398.5h0M37.3 397.7h0M44.8 398.8h0M50.7 398.9h0M53.1 399.7h0M57.0 398.3h0M60.1 403.6h0M68.7 398.6h0M75.9 399.4h0M78.7 400.0h0M81.3 400.2h0M85.5 400.3h0M90.2 400.2h0M95.7 402.5h0M101.6 398.2h0M110.2 403.1h0M112.7 398.1h0M17.8 408.6h0M23.5 402.9h0M26.1 408.5h0M32.9 405.7h0M38.3 406.1h0M43.7 405.2h0M45.1 405.0h0M52.1 407.5h0M57.2 408.5h0M60.9 406.1h0M70.7 406.7h0M70.1 405.3h0M80.5 403.8h0M81.6 407.9h0M89.7 404.4h0M94.1 405.7h0M100.2 402.9h0M100.3 407.8h0M110.1 405.4h0M113.9 402.8h0M17.2 408.9h0M21.1 410.7h0M30.2 408.1h0M34.3 408.6h0M38.8 411.1h0M42.6 407.9h0M47.4 412.9h0M51.1 412.0h0M60.1 409.8h0M60.5 409.5h0M69.1 411.0h0M73.6 408.6h0M77.1 411.9h0M83.9 409.9h0M86.8 407.9h0M91.1 410.7h0M96.8 408.9h0M105.3 410.2h0M106.3 409.7h0M115.5 409.7h0" stroke="#8e4c7c" stroke-width="2.90" stroke-linecap="round" stroke-opacity="0.45"/>
<path d="M15.8 363.9h0M76.4 367.3h0M35.5 371.7h0M47.2 355.8h0M26.0 348.3h0M29.8 388.6h0M47.7 385.3h0M18.4 397.2h0M47.2 373.8h0M88.7 387.6h0M112.0 359.1h0M59.5 386.6h0M34.5 391.5h0M101.0 369.4h0M34.7 362.8h0M80.3 357.0h0M90.0 345.8h0M44.5 372.6h0M77.0 363.6h0M88.8 376.5h0M94.5 337.5h0M61.1 363.3h0M53.2 398.2h0M80.1 352.9h0M70.7 349.1h0M111.2 345.6h0M28.6 338.6h0M32.1 351.4h0M18.7 373.4h0M35.5 402.3h0M66.0 343.6h0M53.8 403.3h0M108.3 375.3h0M100.0 385.4h0M101.7 408.8h0M66.9 344.3h0M45.2 354.2h0M86.9 389.0h0M89.2 359.8h0M47.7 375.9h0M76.7 338.9h0M95.7 405.4h0M30.8 360.4h0M57.7 390.4h0M97.5 380.5h0M40.9 402.8h0M95.4 337.7h0M105.9 375.4h0M77.9 357.5h0M59.2 407.0h0M88.3 370.4h0M33.8 403.7h0M98.3 407.1h0M29.6 386.2h0M111.4 369.2h0M103.4 379.8h0M81.3 369.5h0M61.6 394.8h0M76.1 396.4h0M37.2 342.4h0M101.4 336.5h0M33.0 368.9h0M93.3 337.1h0M42.1 379.5h0M106.0 361.0h0M32.1 369.0h0M37.3 360.8h0M106.9 355.1h0M19.8 334.9h0M59.4 341.2h0M91.0 387.9h0M68.2 397.5h0M67.1 353.4h0M78.2 385.6h0M90.9 404.1h0M30.3 343.9h0M44.6 336.2h0M60.4 388.7h0M91.0 336.2h0M104.1 361.2h0M102.6 355.5h0M45.4 354.2h0M52.7 333.8h0M26.4 373.1h0M84.0 352.2h0M112.3 354.8h0M37.9 409.4h0M85.1 353.0h0M101.4 336.6h0M15.9 343.1h0M52.8 387.6h0M71.9 367.9h0M93.2 382.9h0M21.1 385.2h0M19.9 383.2h0M58.7 373.9h0M68.8 374.8h0M33.1 361.2h0M43.8 335.1h0M77.8 399.6h0M92.6 350.1h0M74.9 391.8h0M70.1 347.7h0M74.5 336.9h0M71.7 380.4h0M33.8 389.0h0M103.6 384.9h0M20.5 355.2h0M64.3 347.8h0M79.8 407.4h0M36.3 389.5h0M81.2 380.3h0M108.0 389.5h0M48.0 400.0h0M54.5 358.0h0M91.4 404.7h0M107.5 398.6h0M46.9 347.7h0M28.0 389.4h0M66.8 367.9h0M67.9 357.9h0M79.7 377.1h0M103.9 386.4h0M74.6 373.8h0M39.6 360.6h0M42.9 337.6h0M44.5 402.0h0M45.1 357.5h0M29.1 347.6h0M74.9 341.0h0M23.1 391.3h0M69.2 374.8h0M46.5 354.6h0M32.9 340.7h0M77.5 359.3h0M48.0 408.6h0M38.9 344.0h0M91.6 398.2h0M31.9 340.8h0M28.6 335.2h0M40.0 374.3h0M94.2 402.2h0M18.4 357.2h0M50.2 378.5h0M97.4 377.7h0M67.8 359.2h0M90.2 338.6h0M77.5 382.2h0M21.8 337.1h0M33.5 398.4h0M71.0 341.7h0M104.0 352.6h0M20.0 398.9h0M110.0 351.5h0M91.3 397.1h0M111.2 405.3h0M20.9 357.1h0M38.2 344.3h0M112.0 379.6h0M38.1 348.7h0M25.8 395.0h0M90.0 349.1h0M38.9 359.9h0M33.7 383.6h0M59.5 378.7h0M107.6 352.1h0M33.6 367.9h0M80.3 360.8h0M73.3 362.0h0M62.6 337.1h0M67.0 374.6h0M18.4 385.3h0M110.4 346.7h0M39.9 379.8h0M108.2 387.0h0M61.4 361.6h0M66.7 373.7h0M30.2 399.1h0M95.3 352.9h0M85.2 408.9h0M79.8 376.9h0M85.4 351.3h0M41.5 347.8h0M64.1 386.0h0M80.9 343.3h0M68.3 388.0h0M53.1 374.9h0M109.8 380.1h0M20.5 338.0h0M17.3 356.1h0M72.5 384.9h0M103.7 367.7h0M58.6 406.9h0M67.3 358.1h0M46.8 364.3h0M81.8 394.6h0M34.9 385.8h0M108.7 360.0h0M38.5 347.1h0M39.6 340.9h0M78.9 394.7h0M30.4 367.9h0M109.4 375.7h0M19.8 408.0h0M79.2 384.4h0M21.1 346.5h0M30.2 346.8h0M39.4 396.9h0M56.1 396.1h0M69.4 382.0h0M35.2 409.8h0M100.6 371.7h0M38.6 389.4h0M68.9 367.0h0M69.2 396.8h0M35.6 401.0h0M82.8 403.6h0M36.4 338.4h0M67.3 341.8h0M21.0 404.1h0M83.3 407.2h0M99.3 390.7h0M30.6 399.2h0M58.1 365.4h0M78.2 365.7h0M72.3 369.2h0M99.8 363.1h0M56.1 372.1h0M61.4 364.7h0M32.2 349.2h0M37.9 403.9h0M95.5 343.3h0M47.6 335.1h0M107.0 409.7h0M50.8 392.0h0M49.9 376.3h0M108.6 395.2h0M86.6 348.5h0M39.8 343.3h0M24.8 349.3h0M55.2 361.5h0M72.8 343.4h0M28.5 404.2h0M23.0 351.9h0M80.3 399.9h0M97.5 356.0h0M92.4 370.3h0M100.7 374.1h0M27.8 402.1h0M86.0 375.7h0M46.5 362.8h0M28.6 381.5h0M23.5 362.4h0M22.9 394.1h0M37.7 389.1h0M88.3 369.2h0M84.0 374.8h0M62.9 361.6h0M47.4 370.5h0M65.8 408.3h0M109.1 388.7h0M36.4 368.9h0M90.5 344.4h0M93.3 404.8h0M96.3 341.7h0M26.3 350.1h0M98.4 402.2h0M60.8 351.0h0M105.5 388.6h0M109.5 358.3h0M81.5 375.4h0M63.8 375.6h0M60.0 393.6h0M60.3 381.6h0M103.5 394.5h0M38.2 394.6h0M53.2 386.5h0M102.2 409.5h0M15.5 365.2h0M47.0 367.0h0M86.6 409.5h0M79.8 350.0h0M103.5 354.2h0M17.6 334.9h0M96.5 353.6h0M88.0 347.1h0M74.0 349.3h0M38.4 379.6h0M24.9 345.9h0M43.8 366.1h0M28.7 356.3h0M39.3 359.3h0M102.9 341.0h0M26.8 378.6h0M18.3 364.0h0M66.6 390.4h0M90.3 374.3h0M94.5 367.7h0M97.2 387.3h0M68.1 391.0h0M55.9 340.4h0M17.5 375.3h0M22.1 390.3h0M34.9 344.8h0M20.1 338.8h0M106.6 392.0h0M73.3 361.8h0M38.0 353.3h0M16.8 405.0h0M81.0 407.4h0M98.0 397.1h0M21.5 389.4h0M52.6 374.7h0M41.7 384.5h0M66.7 357.4h0M85.2 367.6h0M28.5 346.8h0M106.3 380.9h0M97.4 358.6h0M56.6 368.8h0M59.9 345.1h0M95.6 372.9h0M110.6 358.9h0M32.7 334.8h0M42.1 402.0h0M77.5 394.8h0M64.6 388.2h0M17.6 398.5h0M41.0 348.2h0M107.2 391.8h0M24.5 385.2h0M53.0 369.5h0M103.8 398.6h0M34.7 378.2h0M72.4 377.8h0M28.2 397.9h0M79.9 407.7h0M68.3 352.3h0M75.5 333.7h0M98.6 349.8h0M21.4 352.0h0M24.6 403.0h0M51.4 401.8h0M47.9 363.5h0M111.4 374.0h0M106.8 340.4h0M100.4 387.3h0M51.4 348.9h0M68.9 342.4h0M26.9 369.7h0M106.9 406.4h0M71.1 378.2h0M55.9 387.5h0M38.4 351.6h0M81.0 390.7h0M70.3 398.3h0M64.2 397.7h0M24.8 345.8h0M96.4 409.8h0M26.6 366.1h0M53.8 375.9h0M37.2 393.3h0M106.6 405.9h0M24.3 343.1h0M108.3 339.5h0M38.2 407.9h0M30.0 397.0h0M22.3 352.6h0M70.1 402.1h0M18.2 350.1h0M93.3 350.2h0M20.6 344.2h0M96.0 357.1h0M60.1 374.3h0M79.5 361.9h0M25.1 390.8h0M108.4 368.1h0M37.0 391.8h0M99.1 337.7h0M107.6 370.3h0M51.8 362.4h0M38.3 391.5h0M17.5 347.0h0M70.6 350.1h0M94.3 343.4h0M44.7 380.6h0M87.0 368.1h0M97.4 404.4h0M38.6 382.5h0M43.4 407.9h0M61.4 356.5h0M106.1 390.8h0M58.7 364.2h0M41.9 347.7h0M48.3 350.2h0M36.6 341.4h0M26.6 377.4h0M62.0 350.4h0M18.4 410.2h0M16.8 356.5h0" stroke="#dccad4" stroke-width="1.40" stroke-linecap="round" stroke-opacity="0.6"/>
<path d="M67.9 409.3h0M50.0 404.8h0M66.4 396.0h0M19.9 348.0h0M72.6 376.4h0M17.9 350.3h0M67.3 339.2h0M62.9 339.8h0M42.4 353.7h0M20.4 342.9h0M95.8 354.1h0M57.2 393.0h0M106.4 355.5h0M18.0 388.9h0M50.8 363.4h0M20.7 334.8h0M35.1 402.9h0M79.7 400.0h0M50.0 393.9h0M18.5 375.3h0M55.6 402.1h0M107.5 353.0h0M37.4 374.0h0M57.8 395.1h0M31.1 364.6h0M19.6 340.8h0M51.3 352.8h0M96.1 385.4h0M28.7 398.7h0M21.8 345.8h0M65.7 379.7h0M59.5 341.1h0M58.1 390.3h0M81.0 347.0h0M74.7 375.8h0M63.7 355.5h0M67.2 380.6h0M34.7 377.2h0M80.8 344.4h0M56.5 369.7h0M73.9 366.6h0M104.1 386.3h0M79.2 365.7h0M59.1 394.3h0M31.4 408.9h0M43.8 381.6h0M79.3 409.1h0M112.1 346.3h0M76.7 372.2h0M78.9 346.6h0M68.1 409.3h0M24.6 377.7h0M78.3 398.0h0M97.5 335.9h0M25.5 364.0h0M76.4 396.9h0M59.7 369.1h0M102.4 392.2h0M100.9 333.5h0M46.6 354.2h0M84.6 338.8h0M37.9 375.8h0M16.2 340.0h0M34.8 368.7h0M17.2 362.1h0M109.5 408.7h0M48.4 383.0h0M53.4 335.5h0M60.4 354.6h0M41.9 344.8h0M84.3 375.2h0M74.5 394.9h0M17.9 409.7h0M111.9 408.7h0M76.4 356.4h0M62.5 390.6h0M63.1 364.6h0M43.6 388.5h0M19.2 398.5h0M46.5 394.0h0M20.9 365.3h0M52.7 409.9h0M110.7 397.2h0M106.1 352.7h0M20.8 348.1h0M70.4 368.1h0M62.7 383.4h0M26.1 362.2h0M86.8 339.9h0M25.8 368.2h0" stroke="#e2dce2" stroke-width="1.60" stroke-linecap="round" stroke-opacity="0.7"/>
<path d="M84.2 380.5h0M20.2 397.6h0M106.9 345.4h0M29.5 359.4h0M88.2 336.1h0M85.3 349.2h0M104.1 358.2h0M58.1 368.6h0M48.7 400.1h0M58.2 333.6h0M16.7 378.6h0M85.8 352.6h0M26.9 366.2h0M38.4 358.1h0M44.5 375.6h0M78.5 374.5h0M47.6 401.1h0M63.3 388.4h0M70.9 378.3h0M39.8 405.2h0M25.9 371.3h0M26.7 388.6h0M23.0 356.8h0M27.9 402.0h0M27.8 355.4h0" stroke="#e2dce2" stroke-width="2.80" stroke-linecap="round" stroke-opacity="0.8"/>
</g></g>
<rect x="15.50" y="333.20" width="97.00" height="77.20" fill="none" stroke="#2a2a2a" stroke-width="0.9"/>
<clipPath id="c14"><rect x="114.30" y="333.20" width="97.30" height="77.20"/></clipPath>
<g clip-path="url(#c14)"><g fill="none" filter="url(#blr)">
<rect x="114.30" y="333.20" width="97.30" height="77.20" fill="#c48a9a"/>
<path d="M124.7 387.4h0M177.7 405.8h0M140.7 352.9h0M185.7 384.0h0M143.8 386.0h0M152.9 393.2h0M125.8 350.4h0M202.0 360.8h0M139.6 395.3h0M175.8 344.8h0M167.9 384.5h0M130.3 383.5h0M126.3 359.2h0M122.4 349.0h0M209.5 364.4h0M210.7 367.1h0M173.4 400.6h0M181.1 341.8h0M171.6 382.1h0M131.9 340.5h0M199.4 372.9h0M133.2 368.1h0M135.5 394.8h0M163.0 341.1h0M193.9 340.1h0M141.6 335.4h0M186.3 342.0h0M165.5 340.4h0M161.0 386.1h0M166.3 368.3h0M161.5 366.9h0M172.2 340.5h0M160.5 351.4h0M198.5 405.7h0M120.8 344.3h0M182.7 377.3h0M116.2 387.6h0M206.1 365.9h0M148.1 377.2h0M205.7 353.5h0M143.7 347.8h0M175.4 369.4h0M139.2 363.1h0M117.7 357.3h0M209.9 378.4h0M141.8 405.5h0M149.2 352.6h0M117.7 344.5h0M133.7 351.0h0M199.2 353.6h0M138.5 379.8h0M203.5 355.7h0M188.4 361.7h0M168.9 379.2h0M206.0 391.7h0M163.7 398.2h0M150.0 362.9h0M207.7 375.3h0M189.6 357.5h0M203.4 380.5h0M138.4 405.3h0M159.9 359.4h0M139.9 341.2h0M133.8 386.6h0M128.0 353.2h0M157.8 375.3h0M151.3 393.8h0M139.3 361.7h0M155.7 343.1h0M135.9 344.5h0M184.9 344.5h0M179.3 350.3h0M177.2 383.9h0M148.7 405.2h0M178.2 376.2h0M118.8 364.6h0M140.2 369.5h0M205.1 399.9h0M120.3 385.7h0M205.2 375.1h0M123.7 400.1h0M155.8 408.9h0M199.4 397.2h0M204.9 338.5h0M191.5 356.8h0M127.5 362.5h0M171.6 333.6h0M158.1 393.7h0M162.5 374.0h0M143.1 408.2h0M138.4 385.8h0M177.1 333.2h0M211.3 351.4h0M210.5 404.9h0M202.0 399.2h0M153.0 367.6h0M147.9 405.5h0M117.1 343.8h0M207.4 395.5h0M183.0 407.9h0M165.2 397.7h0M157.4 402.7h0M121.1 367.0h0M170.4 394.5h0M155.4 385.7h0M208.5 365.5h0M133.7 335.5h0M198.2 369.9h0M152.1 373.3h0M126.0 350.3h0M137.2 352.9h0M197.9 352.2h0M123.1 400.1h0M168.6 335.4h0M180.0 386.2h0M177.5 393.0h0M155.5 350.6h0M186.7 381.5h0M182.8 347.4h0M150.6 386.6h0M151.7 379.7h0M160.3 391.5h0M148.2 371.6h0M194.9 357.2h0M131.4 382.3h0M127.3 399.4h0M141.1 403.0h0M166.2 345.1h0M165.0 385.9h0M161.6 382.2h0M150.2 407.2h0M131.3 394.8h0M116.6 372.4h0M120.8 343.4h0M171.6 403.0h0M144.4 364.3h0M160.6 379.9h0M148.4 360.3h0M197.3 376.1h0M148.6 396.4h0M211.5 366.6h0M115.8 356.8h0M201.7 346.5h0M133.6 394.4h0M125.4 398.8h0M136.3 363.1h0M172.1 341.9h0M189.7 367.0h0M189.2 392.2h0M121.8 396.7h0M194.2 351.9h0M171.8 349.1h0M166.7 391.2h0M151.0 374.3h0M127.1 399.8h0M175.2 397.3h0M122.2 390.7h0M123.1 376.2h0M136.8 402.8h0M124.6 369.7h0M160.1 363.0h0M120.6 384.6h0M208.9 361.1h0M201.8 359.4h0M140.9 368.3h0M209.0 393.4h0M175.8 336.3h0M158.2 334.3h0M120.3 362.3h0M138.0 341.2h0M164.1 393.6h0M204.4 403.9h0M155.8 347.0h0M208.1 365.9h0M147.7 396.8h0M168.6 406.7h0M182.5 406.2h0M129.2 406.0h0M167.0 387.0h0M143.6 352.0h0M143.2 346.3h0M207.8 342.4h0M137.9 382.1h0M134.2 349.7h0M138.9 351.3h0M115.3 390.3h0M178.4 357.1h0M201.8 376.4h0M135.7 407.7h0M136.6 395.7h0M193.7 333.4h0M196.7 365.7h0M163.2 406.2h0M158.2 351.9h0M119.1 401.6h0M158.6 388.1h0M176.7 408.9h0M205.4 405.4h0M163.4 403.5h0M144.1 342.8h0M176.5 335.4h0M208.9 358.3h0M155.6 355.7h0M145.7 374.7h0M192.2 334.3h0M147.7 352.2h0M207.6 367.1h0M157.5 405.6h0M152.0 362.9h0M153.1 351.5h0M182.8 355.4h0M163.9 377.3h0M188.9 390.3h0M161.1 406.5h0M206.3 405.6h0M183.8 368.3h0M149.3 399.6h0M160.4 391.0h0M152.0 361.4h0M116.0 389.6h0M142.5 371.3h0M184.9 397.4h0M206.2 384.4h0M137.0 404.9h0M119.6 365.0h0M204.3 398.5h0M172.2 400.2h0M131.5 336.2h0M143.2 405.0h0M118.2 358.3h0M163.7 349.1h0M199.1 341.4h0M122.6 410.2h0M115.5 350.4h0M154.0 401.2h0M147.0 377.2h0M192.6 380.9h0M195.2 334.5h0M167.0 334.8h0M197.3 335.2h0M123.5 366.3h0M174.7 334.3h0M176.6 341.1h0M145.8 336.4h0M185.0 397.4h0M189.2 358.1h0M138.6 407.5h0M193.8 408.0h0M154.7 401.1h0M180.2 393.9h0M164.1 393.7h0M162.8 354.3h0M160.8 336.4h0M179.8 359.0h0M131.9 394.4h0M165.5 357.6h0M204.1 405.6h0M155.7 375.4h0M114.3 360.7h0M210.4 372.6h0M211.0 335.4h0M116.0 338.0h0M121.6 391.5h0M210.4 392.0h0M173.2 362.6h0M151.4 343.3h0M152.9 342.6h0M193.1 374.8h0M151.0 399.0h0M143.5 400.5h0M184.1 381.7h0M172.2 382.1h0M202.1 410.1h0M168.7 407.4h0M138.1 404.7h0M200.2 382.3h0M125.0 401.7h0M151.2 358.9h0M206.9 340.0h0M177.1 350.7h0M198.9 349.9h0M124.6 370.8h0M158.8 391.3h0M141.6 355.7h0M142.9 375.7h0M127.1 376.5h0M194.1 386.3h0M139.2 370.3h0M123.5 369.6h0M188.3 333.3h0M177.3 404.3h0M141.5 357.8h0M180.6 345.2h0M140.5 380.9h0M164.7 346.1h0M133.6 371.1h0M198.7 348.7h0M180.9 374.2h0M141.3 365.1h0M194.2 341.1h0M167.5 370.2h0M125.0 365.2h0M130.9 364.4h0M117.2 377.0h0M192.6 400.7h0M205.1 352.6h0M192.2 360.9h0M183.9 369.6h0M186.6 364.1h0M207.6 369.2h0M192.0 347.1h0M185.1 349.5h0M154.1 362.5h0M179.1 377.8h0M141.1 405.2h0M118.2 370.0h0M127.0 341.6h0M135.6 406.1h0M116.4 388.8h0M170.5 397.7h0M197.0 342.7h0M204.2 344.2h0M126.0 351.5h0M182.3 377.6h0M181.4 349.8h0M160.5 358.4h0M207.9 377.1h0M182.3 367.8h0M125.6 340.7h0M136.2 390.1h0M134.0 370.3h0M147.5 343.4h0M150.3 371.1h0M203.6 393.4h0M156.6 355.8h0M137.5 360.4h0M166.0 408.1h0M121.6 347.9h0M152.9 376.8h0M120.8 334.9h0M168.2 334.5h0M194.4 385.0h0M159.8 410.2h0M161.3 406.2h0M135.6 339.2h0M154.9 374.2h0M179.0 342.9h0M183.3 355.7h0M206.3 394.7h0M189.6 336.7h0M120.0 335.7h0M157.3 335.9h0M128.2 337.7h0M211.0 369.2h0M139.7 344.8h0M141.5 341.5h0M191.8 404.5h0M193.6 339.0h0M173.3 399.1h0M152.7 393.4h0M115.5 373.2h0M186.6 366.3h0M124.1 408.2h0M193.3 355.1h0M185.3 346.1h0M174.2 388.1h0M172.6 367.1h0M194.6 365.0h0M121.2 345.0h0M128.9 393.4h0M120.5 407.7h0M170.4 338.6h0M206.2 409.6h0M137.0 376.6h0M136.9 343.6h0M121.7 401.6h0M135.9 348.9h0M131.4 355.2h0M206.3 349.4h0M132.2 337.6h0M183.1 341.3h0M194.0 405.8h0M141.2 369.3h0M192.4 370.9h0M145.1 403.9h0M211.5 351.5h0M196.4 336.1h0M194.6 359.8h0M210.3 335.2h0M134.6 364.4h0M163.4 393.0h0M127.2 337.7h0M137.8 340.9h0M206.4 373.0h0M134.0 358.1h0M140.0 368.1h0M145.6 381.6h0M135.2 386.2h0M203.2 391.4h0M122.2 370.3h0M194.1 338.6h0M205.7 341.7h0M124.7 333.8h0M197.9 335.3h0M160.1 378.7h0M161.4 410.0h0M172.5 333.5h0M152.8 345.4h0M201.1 350.8h0M178.8 367.4h0M156.8 374.7h0M139.1 383.0h0M172.7 395.8h0M193.7 340.7h0M194.1 358.0h0M209.0 377.4h0M133.4 373.3h0M167.3 372.6h0M151.8 378.4h0M166.9 394.7h0M147.7 368.4h0M115.3 390.8h0M119.9 400.7h0M164.6 377.2h0M152.0 375.8h0M124.0 345.3h0M166.3 356.3h0M163.3 371.4h0M209.5 383.3h0M116.1 384.4h0M145.3 347.3h0M149.8 402.3h0M191.3 368.6h0M198.1 373.0h0M128.8 387.8h0M198.3 385.7h0M142.9 370.0h0M127.0 352.2h0M120.7 407.7h0M184.4 370.6h0M180.8 386.9h0M160.1 352.6h0M162.2 374.9h0M151.3 350.6h0M171.1 383.4h0M136.8 343.1h0M187.8 409.3h0M185.3 396.6h0M184.9 363.2h0M170.8 368.8h0M209.4 341.8h0M211.1 343.2h0M144.0 377.3h0M206.0 401.1h0M188.3 382.8h0M187.6 356.9h0M118.7 378.7h0M135.4 368.3h0M189.0 408.7h0M126.8 404.4h0M136.9 373.1h0M192.2 385.6h0M151.3 402.2h0M130.9 396.8h0M210.3 398.3h0M125.5 363.2h0M123.9 359.9h0M153.2 345.5h0M159.2 397.6h0" stroke="#d0a0ae" stroke-width="2.60" stroke-linecap="round" stroke-opacity="0.45"/>
<path d="M178.8 356.4h0M126.0 341.9h0M193.5 353.2h0M168.5 348.1h0M182.3 339.8h0M160.3 367.1h0M164.1 349.4h0M180.8 407.2h0M134.8 338.8h0M141.4 359.4h0M198.4 335.7h0M118.5 374.4h0M159.8 349.6h0M181.0 363.7h0M208.5 350.0h0M165.4 343.0h0M124.3 406.9h0M200.5 390.8h0M163.2 385.0h0M136.3 347.4h0M135.5 353.9h0M153.0 372.0h0M140.5 360.4h0M192.1 394.9h0M138.8 376.7h0M124.7 381.7h0M174.7 347.1h0M196.3 380.4h0M208.4 353.9h0M129.1 393.2h0M187.3 351.0h0M157.4 346.7h0M159.4 408.9h0M140.0 360.9h0M198.6 409.4h0M164.4 375.8h0M163.5 387.5h0M202.9 404.0h0M169.4 368.8h0M197.3 385.3h0M210.7 341.1h0M186.0 395.0h0M148.5 333.9h0M147.0 408.2h0M188.2 359.3h0M197.0 339.8h0M186.1 375.9h0M210.2 356.0h0M148.1 360.4h0M157.0 368.9h0M133.0 367.7h0M119.5 381.5h0M195.6 358.2h0M158.1 407.9h0M195.7 386.3h0M170.5 407.8h0M160.4 381.0h0M200.3 360.8h0M156.0 384.2h0M183.8 387.3h0M153.9 354.8h0M189.1 388.8h0M164.9 353.0h0M121.2 373.1h0M202.7 400.2h0M186.9 365.9h0M198.8 401.2h0M144.2 374.6h0M149.8 348.1h0M161.9 350.5h0M206.5 408.7h0M139.4 346.1h0M133.5 404.1h0M146.3 396.8h0M211.2 359.8h0M196.4 341.3h0M118.5 385.2h0M144.5 351.1h0M163.6 394.4h0M157.3 375.7h0M188.1 340.3h0M163.8 336.1h0M134.1 342.8h0M131.7 404.3h0M116.1 370.6h0M121.7 334.0h0M204.4 372.0h0M197.8 381.8h0M170.2 392.5h0M114.8 349.3h0M180.4 409.9h0M133.0 363.8h0M180.5 377.4h0M185.6 336.8h0M138.0 385.3h0M186.5 384.4h0M192.6 395.1h0M114.4 356.7h0M121.3 342.7h0M184.9 363.1h0M200.1 335.3h0M158.5 408.5h0M149.9 386.0h0M198.8 395.2h0M145.8 367.7h0M189.4 374.1h0M155.7 406.2h0M139.2 386.9h0M148.8 381.5h0M187.9 401.8h0M192.5 371.9h0M170.7 386.3h0M187.6 404.4h0M115.9 334.9h0M207.7 382.7h0M123.6 356.5h0M128.0 357.3h0M128.0 389.3h0M129.0 368.3h0M119.8 363.7h0M139.6 374.8h0M140.0 349.9h0M148.5 406.1h0M210.7 345.4h0M186.3 337.6h0M144.8 393.4h0M185.1 386.9h0M162.2 367.5h0M119.3 384.1h0M176.6 362.0h0M128.5 353.2h0M192.6 340.1h0M172.5 392.5h0M187.2 361.9h0M181.1 349.5h0M140.7 382.5h0M125.1 372.8h0M181.0 336.2h0M118.7 395.9h0M191.7 407.9h0M125.1 398.2h0M169.4 376.0h0M131.8 361.3h0M132.8 334.7h0M182.7 340.7h0M122.8 393.7h0M194.9 341.0h0M157.4 344.9h0M147.6 368.6h0M141.9 359.5h0M158.9 388.6h0M133.9 346.1h0M159.3 355.9h0M137.2 345.1h0M193.8 395.3h0M125.6 383.7h0M157.3 338.2h0M121.6 410.4h0M124.6 373.2h0M182.6 391.1h0M183.2 339.1h0M151.4 341.7h0M184.3 394.4h0M136.9 378.4h0M138.4 361.6h0M132.6 358.5h0M129.0 334.3h0M152.8 397.1h0M175.5 384.3h0M159.6 346.3h0M139.2 340.7h0M173.2 345.7h0M179.2 335.3h0M185.1 352.3h0M130.1 368.5h0M135.8 393.9h0M178.1 368.5h0M166.3 392.3h0M177.8 366.2h0M168.4 367.0h0M175.9 395.6h0M189.2 406.8h0M116.6 338.6h0M125.4 406.5h0M150.6 371.4h0M158.0 369.2h0M179.6 381.4h0M134.6 370.9h0M196.9 368.4h0M159.1 355.5h0M154.0 363.1h0M132.6 379.7h0M120.9 352.2h0M115.9 395.6h0M156.0 362.6h0M198.6 391.3h0M138.4 382.0h0M141.0 361.2h0M124.0 372.6h0M176.6 353.0h0M149.3 352.4h0M180.8 404.6h0M197.6 392.0h0M192.2 364.3h0M144.4 402.0h0M209.4 388.6h0M138.9 338.0h0M176.4 339.2h0M197.2 347.1h0M141.4 341.7h0M190.0 347.0h0M130.8 360.9h0M126.3 338.6h0M203.5 365.0h0M138.5 346.7h0M186.1 335.6h0M164.1 366.9h0M166.7 360.4h0M203.4 337.4h0M188.0 344.9h0M119.6 341.0h0M140.9 370.4h0M137.4 346.5h0M127.2 395.7h0M201.8 355.4h0M188.4 384.7h0M197.1 404.0h0M170.3 351.5h0M153.4 373.1h0M120.7 356.0h0M124.4 388.9h0M137.3 345.2h0M141.8 380.7h0M182.3 361.6h0M151.2 335.9h0M160.4 382.0h0M168.0 382.1h0M167.7 396.8h0M198.4 371.7h0M197.4 345.9h0M132.0 402.5h0M146.0 362.2h0M125.8 377.7h0M184.5 339.1h0M142.6 337.1h0M155.7 351.0h0M171.5 385.7h0M155.6 371.2h0M209.0 385.2h0M124.2 393.2h0M159.1 401.6h0M128.3 370.0h0M209.3 394.3h0M195.7 403.7h0M198.3 384.8h0M119.9 390.1h0M162.4 339.3h0M127.6 405.1h0M114.7 350.4h0M192.8 407.7h0M137.2 408.2h0M173.7 368.0h0M162.3 368.5h0M169.1 342.8h0M194.3 364.0h0M149.7 347.7h0M133.2 378.6h0M203.6 346.7h0M187.2 400.1h0M167.8 401.2h0M201.8 382.6h0M189.7 368.0h0M126.0 366.1h0M159.2 351.7h0M134.9 365.7h0M207.9 409.8h0M130.5 398.2h0M142.9 364.6h0M200.2 385.4h0M199.0 341.3h0M161.3 350.1h0M186.2 335.8h0M156.3 387.8h0M178.0 377.8h0M211.6 347.0h0M167.4 347.6h0M141.3 382.6h0M171.8 366.1h0M123.1 369.7h0M168.4 383.2h0M175.0 354.5h0M170.8 384.7h0M143.2 398.2h0M129.0 409.8h0M207.6 410.2h0M115.4 364.7h0M123.3 389.0h0M171.2 389.0h0M184.3 334.1h0M197.3 406.6h0M174.0 354.3h0M206.7 374.9h0M202.2 380.7h0M209.9 374.7h0M138.3 334.4h0M125.2 352.5h0M143.7 403.8h0M127.4 354.6h0M169.8 369.7h0M157.8 335.5h0M127.1 355.8h0M197.9 382.3h0M190.4 345.3h0M208.6 397.3h0M156.7 407.4h0M160.7 358.3h0M184.9 345.0h0M182.5 347.0h0M204.4 382.4h0M198.8 401.9h0M179.4 378.2h0M136.2 392.4h0M193.2 367.8h0M116.9 355.2h0M172.0 383.6h0M197.5 334.1h0M178.1 354.3h0M142.6 390.6h0M155.4 368.5h0M178.5 398.6h0M208.4 358.6h0M159.8 343.6h0M142.0 379.3h0M159.8 357.7h0M177.6 398.7h0M144.4 364.3h0M169.6 406.3h0M174.3 348.3h0M155.2 353.6h0M152.3 376.2h0M153.8 356.1h0M132.7 349.9h0M163.2 342.4h0M136.1 399.9h0M131.3 399.4h0M168.5 357.4h0M151.3 344.1h0M190.6 353.9h0M164.4 397.3h0M171.7 362.8h0M180.9 399.5h0M163.8 367.8h0M169.9 344.6h0M190.4 378.8h0M129.5 345.2h0M192.6 405.4h0M152.9 334.1h0M208.7 336.4h0M209.1 372.4h0M200.7 349.1h0M166.3 376.0h0M199.6 409.4h0M127.0 388.9h0M123.2 403.2h0M208.6 368.8h0M162.3 361.4h0M168.2 357.0h0M145.0 343.9h0M186.4 336.8h0M125.1 338.5h0M171.1 339.0h0M129.5 378.7h0M192.7 394.7h0M191.1 394.5h0M198.7 375.5h0" stroke="#b87890" stroke-width="2.20" stroke-linecap="round" stroke-opacity="0.35"/>
<path d="M175.1 344.9l1.4 7.0M160.8 386.2l-0.5 4.4M186.3 346.1l-1.3 6.7M125.3 343.7l-0.3 4.7M192.1 385.3l-0.7 4.0M121.2 401.3l-0.2 4.3M143.2 342.5l-0.2 5.0M141.6 375.3l-0.3 5.3M149.2 400.6l-0.3 6.8M184.1 337.6l-0.6 4.2M165.7 383.5l-1.4 6.6M172.9 348.4l0.5 6.0M174.6 399.6l-1.1 7.6M182.6 404.8l-0.6 4.9M173.2 383.7l-0.6 5.9M132.2 377.3l0.3 3.8M191.8 361.1l-1.3 7.3M183.2 344.8l0.4 3.1M209.1 382.9l0.5 6.0M192.8 393.9l-0.6 6.6M124.4 337.8l0.8 5.3M133.9 378.2l-0.4 4.1M157.8 398.3l0.8 5.0M189.9 336.8l0.0 3.3M169.0 336.9l0.1 3.2M172.0 393.0l0.4 4.4M162.8 365.0l0.5 3.6M150.1 407.3l0.4 5.2M129.8 383.3l-0.8 7.6M132.3 347.7l0.4 3.4M180.5 370.7l-0.7 3.7M146.0 345.9l0.1 3.4M150.1 369.1l0.9 4.8M135.9 339.9l0.3 4.3M200.5 375.8l-0.7 4.1M116.7 371.3l-0.1 4.4M129.9 333.9l-0.5 6.8M119.1 386.7l-0.7 4.5M208.5 405.8l-0.6 4.1M120.7 362.7l1.3 7.5M165.7 365.2l0.1 3.2M192.9 388.9l0.8 4.3M197.7 406.3l-1.1 6.3M154.7 407.9l0.2 5.2M123.5 400.7l0.3 7.4M195.4 357.9l-0.1 5.8M129.4 368.3l0.6 7.0M145.5 346.8l-1.3 7.7M196.5 346.8l0.3 3.4M145.4 401.5l-0.5 4.6" stroke="#dcc6d2" stroke-width="1.10" stroke-linecap="round" stroke-opacity="0.5"/>
<path d="M119.0 338.2h0M119.3 333.1h0M129.5 337.3h0M134.5 333.9h0M138.6 337.4h0M142.0 336.9h0M144.1 334.0h0M152.2 337.9h0M154.8 333.7h0M163.3 334.7h0M168.7 337.7h0M170.2 335.2h0M174.3 333.6h0M180.3 336.8h0M183.8 337.1h0M189.8 337.6h0M197.3 338.1h0M204.7 337.6h0M207.6 337.8h0M211.4 335.0h0M116.9 342.7h0M120.8 341.0h0M126.4 337.8h0M132.8 338.7h0M138.2 338.3h0M143.3 337.8h0M144.5 338.6h0M153.0 340.7h0M155.0 342.4h0M159.9 339.8h0M167.6 340.0h0M172.3 341.5h0M179.0 338.5h0M181.4 340.3h0M189.3 340.0h0M188.8 338.8h0M194.7 343.0h0M203.9 342.6h0M205.8 339.9h0M210.5 342.6h0M116.2 348.4h0M119.4 345.3h0M128.6 345.8h0M131.2 342.8h0M137.0 346.9h0M141.5 344.9h0M146.8 348.5h0M149.5 348.6h0M155.0 348.4h0M160.9 345.3h0M169.5 346.4h0M169.4 347.3h0M174.8 343.0h0M180.7 344.3h0M188.9 347.0h0M194.8 345.4h0M199.4 346.2h0M199.1 343.4h0M208.9 348.1h0M208.8 343.4h0M118.5 350.6h0M120.4 348.0h0M127.3 350.7h0M132.3 349.0h0M139.7 352.0h0M139.0 349.2h0M145.1 347.8h0M152.1 352.2h0M156.2 350.1h0M161.1 353.3h0M165.8 350.9h0M172.9 350.3h0M179.1 350.1h0M183.1 348.7h0M185.6 352.2h0M194.4 352.6h0M194.1 351.5h0M201.0 348.5h0M207.4 352.3h0M211.7 349.7h0M117.3 354.0h0M120.5 357.1h0M128.7 354.7h0M133.3 354.9h0M135.3 354.6h0M141.4 358.2h0M146.8 355.2h0M148.9 353.9h0M154.2 356.8h0M164.4 355.4h0M168.7 356.0h0M171.7 357.0h0M176.2 354.1h0M182.5 353.0h0M186.7 357.7h0M189.0 356.3h0M195.6 354.0h0M204.0 354.5h0M207.6 355.5h0M212.6 356.0h0M114.7 357.8h0M124.1 358.8h0M127.6 360.8h0M134.1 358.9h0M138.5 363.3h0M144.2 360.3h0M147.4 361.8h0M149.5 357.8h0M154.4 363.0h0M162.6 359.2h0M165.6 360.7h0M173.1 363.1h0M174.8 359.0h0M184.6 359.4h0M184.4 360.8h0M191.2 360.9h0M195.7 359.1h0M203.3 363.4h0M206.8 358.7h0M212.8 362.8h0M119.6 365.7h0M123.3 366.6h0M123.9 365.9h0M129.3 365.3h0M136.4 364.3h0M142.9 367.6h0M145.6 368.4h0M151.7 364.8h0M157.9 366.9h0M161.7 364.1h0M165.4 368.0h0M172.8 367.5h0M178.5 366.7h0M180.1 363.5h0M187.0 368.5h0M191.9 365.9h0M198.4 364.7h0M200.6 365.2h0M204.9 364.6h0M212.1 363.7h0M115.9 370.0h0M122.2 370.7h0M127.7 373.1h0M130.8 370.0h0M139.5 370.4h0M138.9 371.6h0M147.0 368.0h0M152.0 367.8h0M158.9 371.9h0M162.5 369.8h0M164.1 369.6h0M171.9 372.0h0M177.6 371.7h0M178.9 372.5h0M185.7 370.8h0M190.8 370.6h0M196.0 369.9h0M202.1 372.6h0M206.2 368.3h0M211.5 370.2h0M114.2 373.1h0M120.6 373.7h0M125.6 373.6h0M131.0 377.1h0M138.3 376.2h0M141.9 374.1h0M149.6 374.8h0M152.4 377.6h0M158.1 373.9h0M160.3 376.6h0M167.9 372.8h0M173.3 374.9h0M174.2 372.8h0M180.4 373.4h0M184.9 378.5h0M188.9 376.6h0M197.2 378.0h0M203.7 375.6h0M209.2 374.2h0M211.4 378.4h0M117.1 379.1h0M121.2 381.3h0M129.2 378.6h0M134.1 381.3h0M133.9 378.6h0M141.7 380.1h0M147.5 383.2h0M152.5 383.1h0M158.6 381.5h0M164.2 382.8h0M165.7 382.4h0M173.5 379.1h0M177.0 381.9h0M184.6 380.9h0M184.9 382.9h0M194.8 381.2h0M199.8 381.1h0M204.3 377.8h0M208.7 379.9h0M208.9 383.0h0M116.8 384.9h0M123.7 384.4h0M128.4 386.4h0M131.1 384.4h0M138.3 383.5h0M141.2 385.3h0M144.7 388.1h0M149.1 388.2h0M155.1 386.9h0M163.2 383.7h0M166.9 384.0h0M174.6 383.8h0M175.6 383.4h0M184.5 385.7h0M185.4 388.2h0M190.9 383.3h0M198.7 386.4h0M203.8 383.4h0M206.8 387.8h0M209.4 387.1h0M114.7 388.4h0M122.8 387.8h0M128.5 391.2h0M131.1 391.5h0M136.1 392.5h0M140.8 388.0h0M147.7 388.8h0M152.7 391.1h0M155.5 388.0h0M164.2 389.4h0M166.0 390.8h0M169.4 391.4h0M175.5 388.0h0M184.5 390.7h0M184.1 391.7h0M192.0 389.8h0M197.8 390.3h0M203.9 393.3h0M205.2 391.6h0M210.6 388.2h0M117.5 397.4h0M123.1 396.2h0M127.9 396.3h0M132.6 393.7h0M138.0 397.1h0M140.5 398.2h0M146.6 398.4h0M151.2 398.2h0M156.8 394.4h0M160.3 396.4h0M168.7 396.0h0M169.6 394.4h0M179.1 397.4h0M179.6 397.5h0M184.9 393.9h0M193.8 397.1h0M195.3 393.6h0M200.6 395.4h0M209.8 398.0h0M211.4 394.9h0M116.1 403.3h0M124.3 403.2h0M126.2 403.0h0M134.3 399.3h0M137.0 400.6h0M140.1 399.4h0M146.9 403.6h0M151.6 399.6h0M158.9 402.1h0M162.9 400.9h0M167.0 399.9h0M174.7 399.8h0M175.5 403.5h0M184.0 402.9h0M186.9 399.1h0M189.9 400.6h0M197.3 400.4h0M200.6 403.5h0M204.2 399.8h0M213.6 401.3h0M118.8 408.3h0M122.7 404.8h0M128.0 407.2h0M133.4 407.7h0M139.1 406.5h0M142.6 405.0h0M146.0 407.8h0M152.2 407.8h0M156.1 405.5h0M160.1 405.3h0M168.1 406.4h0M171.8 407.5h0M178.5 405.4h0M180.7 402.9h0M184.6 403.4h0M191.6 407.4h0M199.2 405.7h0M200.4 408.1h0M208.5 405.0h0M211.8 403.8h0M116.3 412.9h0M124.4 409.5h0M129.0 413.5h0M134.8 411.0h0M138.1 413.6h0M143.7 413.7h0M147.3 409.6h0M151.7 408.5h0M159.6 410.1h0M160.6 413.7h0M168.8 407.9h0M170.6 411.5h0M176.3 408.9h0M179.9 408.6h0M188.1 411.2h0M193.8 413.2h0M194.6 409.7h0M204.6 412.2h0M206.8 411.4h0M211.6 410.3h0" stroke="#8e4c7c" stroke-width="2.90" stroke-linecap="round" stroke-opacity="0.45"/>
<path d="M148.1 343.1h0M187.6 402.3h0M192.9 381.5h0M189.1 343.0h0M163.4 360.7h0M161.4 388.2h0M205.5 354.0h0M181.6 354.3h0M144.1 387.5h0M188.5 335.6h0M195.4 390.2h0M162.7 369.0h0M133.6 365.2h0M176.9 362.3h0M122.3 361.6h0M149.5 362.2h0M127.1 384.6h0M173.5 401.4h0M211.4 339.1h0M131.3 339.1h0M194.6 376.2h0M160.3 354.7h0M197.0 382.3h0M169.0 334.9h0M120.8 353.5h0M181.7 359.7h0M173.9 403.4h0M144.7 384.4h0M180.6 381.9h0M129.3 361.1h0M152.5 381.8h0M119.2 390.4h0M173.5 340.9h0M192.6 364.7h0M177.7 392.5h0M115.1 376.2h0M139.9 371.3h0M126.5 362.6h0M171.0 382.8h0M148.1 367.7h0M206.1 390.5h0M130.0 378.9h0M186.3 390.7h0M122.7 402.4h0M163.3 379.6h0M142.7 367.9h0M175.0 344.0h0M186.2 382.5h0M193.0 388.6h0M147.1 369.0h0M161.4 354.5h0M131.4 344.7h0M145.4 336.4h0M174.5 396.9h0M198.2 366.3h0M170.3 339.3h0M172.9 380.2h0M165.6 367.8h0M210.1 383.7h0M173.0 391.9h0M198.0 349.1h0M198.1 365.2h0M174.7 350.1h0M168.6 370.1h0M115.9 346.9h0M200.6 380.8h0M201.8 356.5h0M139.5 370.0h0M176.5 338.5h0M197.0 346.6h0M140.0 382.2h0M156.2 361.5h0M126.6 374.6h0M133.8 389.6h0M173.6 359.6h0M196.8 357.2h0M131.1 360.7h0M186.6 410.2h0M188.6 402.4h0M157.7 399.8h0M144.1 393.6h0M118.4 367.9h0M132.4 401.8h0M135.0 370.0h0M148.9 408.7h0M165.0 397.4h0M152.2 368.1h0M186.3 405.7h0M123.9 386.5h0M141.5 366.8h0M157.2 385.3h0M204.0 397.0h0M157.8 394.4h0M210.1 408.4h0M116.6 362.0h0M146.1 399.2h0M207.5 389.1h0M145.8 405.9h0M124.4 366.7h0M170.2 360.1h0M157.6 390.3h0M142.2 353.0h0M147.9 371.3h0M170.9 364.8h0M207.3 368.9h0M167.4 337.9h0M179.1 352.6h0M146.3 400.4h0M134.1 360.5h0M145.1 335.5h0M191.6 348.0h0M152.0 386.4h0M140.7 384.3h0M201.7 340.4h0M204.9 343.9h0M121.7 384.8h0M184.1 356.4h0M163.3 387.4h0M210.4 336.4h0M164.2 392.4h0M147.2 401.7h0M117.0 352.4h0M180.5 384.2h0M194.1 352.5h0M160.4 389.4h0M121.0 360.6h0M191.6 390.2h0M199.5 400.6h0M178.4 365.5h0M169.3 373.0h0M150.7 347.8h0M128.1 404.2h0M134.8 404.9h0M162.1 338.8h0M148.3 342.4h0M168.4 348.5h0M139.1 368.9h0M128.9 380.3h0M185.1 338.4h0M116.6 398.0h0M170.3 338.8h0M200.5 336.2h0M128.0 370.1h0M189.5 408.0h0M190.6 375.5h0M119.5 340.1h0M197.9 335.3h0M198.6 394.9h0M121.3 400.3h0M131.6 352.4h0M142.3 375.5h0M136.2 390.3h0M179.8 338.9h0M133.8 351.2h0M135.4 387.8h0M203.7 381.6h0M121.7 357.7h0M143.8 369.0h0M187.5 376.1h0M128.1 366.1h0M184.3 398.8h0M185.6 397.2h0M126.6 399.1h0M148.3 357.5h0M191.7 382.0h0M191.9 356.6h0M160.1 396.4h0M183.8 358.3h0M129.3 351.8h0M179.0 345.2h0M121.4 334.8h0M194.5 400.2h0M151.0 351.1h0M152.5 402.9h0M147.8 392.7h0M164.3 371.2h0M181.6 376.1h0M200.8 384.6h0M195.5 375.8h0M181.6 398.0h0M167.8 356.8h0M170.1 362.4h0M190.7 351.4h0M136.7 407.4h0M181.2 408.4h0M184.0 357.6h0M200.0 391.8h0M148.7 391.8h0M131.1 398.5h0M165.3 394.9h0M204.2 402.4h0M146.8 365.9h0M205.5 337.4h0M139.7 380.3h0M170.4 406.2h0M169.7 361.8h0M167.0 394.2h0M153.2 346.3h0M183.7 402.3h0M189.7 387.0h0M146.2 377.8h0M182.3 383.1h0M140.7 405.7h0M154.6 374.2h0M182.0 343.8h0M185.3 363.7h0M194.6 381.1h0M117.9 377.0h0M124.1 388.0h0M206.8 339.7h0M124.0 392.6h0M195.9 401.8h0M121.6 364.9h0M200.4 394.8h0M173.3 382.5h0M159.2 385.6h0M132.7 389.5h0M163.3 403.6h0M154.5 372.1h0M207.3 393.7h0M210.3 345.4h0M121.2 395.9h0M169.8 404.6h0M206.4 368.2h0M161.9 359.4h0M172.7 336.4h0M204.8 351.4h0M156.6 390.1h0M120.2 333.8h0M199.6 367.1h0M115.9 341.6h0M168.8 365.4h0M208.0 393.5h0M185.8 363.3h0M198.0 394.1h0M136.4 393.7h0M152.0 353.4h0M191.7 351.4h0M169.0 403.8h0M157.1 401.0h0M184.0 402.3h0M172.6 388.8h0M203.5 393.8h0M165.7 397.1h0M186.9 343.7h0M189.5 335.1h0M197.1 381.9h0M144.7 346.0h0M157.9 376.5h0M149.1 357.9h0M154.0 365.7h0M173.6 348.6h0M208.6 358.6h0M197.8 371.6h0M128.4 399.1h0M163.9 360.4h0M199.9 339.6h0M126.9 407.9h0M210.2 343.2h0M199.7 404.7h0M180.0 397.9h0M188.6 374.0h0M177.7 339.6h0M194.6 367.2h0M169.0 406.8h0M170.8 340.1h0M189.5 358.5h0M199.3 362.7h0M159.9 366.3h0M121.3 381.8h0M172.2 342.0h0M150.4 343.6h0M122.9 355.8h0M185.5 365.9h0M195.6 368.1h0M167.6 366.5h0M135.9 404.6h0M183.8 407.4h0M179.4 344.5h0M129.3 398.6h0M198.0 337.0h0M186.8 384.1h0M117.5 339.7h0M181.3 408.3h0M168.5 392.3h0M140.2 371.1h0M177.5 403.5h0M182.1 396.2h0M125.5 358.2h0M189.1 335.1h0M148.5 399.7h0M210.9 405.2h0M174.7 387.6h0M208.6 403.7h0M178.6 385.4h0M172.9 365.5h0M171.7 382.4h0M136.8 385.1h0M115.0 408.0h0M136.6 349.4h0M114.9 359.8h0M203.0 375.8h0M122.2 352.1h0M135.7 341.4h0M149.2 353.7h0M201.0 386.1h0M186.2 397.7h0M149.6 399.8h0M156.9 402.3h0M134.5 383.2h0M187.2 360.1h0M160.7 352.8h0M163.4 408.1h0M163.8 334.1h0M194.6 348.7h0M211.4 342.0h0M203.5 380.0h0M171.1 407.7h0M172.4 399.0h0M162.6 405.5h0M125.8 337.7h0M165.2 346.9h0M159.7 397.3h0M203.2 394.0h0M203.5 368.6h0M168.4 349.7h0M163.6 362.1h0M204.7 371.3h0M186.8 386.1h0M153.2 374.4h0M145.1 352.4h0M141.0 403.7h0M133.0 381.1h0M202.0 337.6h0M156.0 335.7h0M153.5 403.4h0M206.9 336.2h0M205.8 334.6h0M120.7 391.6h0M156.0 384.8h0M163.2 380.0h0M175.5 392.7h0M138.1 345.2h0M189.6 364.1h0M158.6 363.3h0M117.6 347.1h0M189.5 353.8h0M175.3 393.3h0M180.3 388.5h0M187.8 364.8h0M122.5 408.8h0M194.6 403.5h0M149.6 363.5h0M175.4 406.9h0M118.1 346.9h0M161.3 377.2h0M191.5 390.4h0M194.6 399.8h0M203.9 388.0h0M157.4 373.4h0M117.6 340.5h0M191.6 354.6h0M119.9 400.2h0M131.8 344.6h0M123.0 398.3h0M156.3 372.8h0M167.2 344.6h0M184.6 349.5h0M189.8 346.9h0M125.2 406.3h0M178.7 381.0h0M177.1 336.5h0M185.9 347.9h0M150.2 356.3h0M200.9 346.1h0M192.4 396.9h0M147.7 387.7h0M193.5 358.1h0M176.3 361.3h0M203.6 367.1h0M127.8 393.0h0M210.9 390.3h0M194.9 398.6h0M140.3 397.3h0M186.9 355.3h0M164.8 347.8h0M183.3 346.4h0M167.8 348.0h0M131.1 405.2h0M172.5 402.8h0M115.2 389.9h0M158.1 334.2h0M205.6 365.7h0M131.1 370.2h0M185.8 355.6h0M114.9 337.7h0M170.4 348.4h0M182.1 397.1h0M151.7 349.4h0M204.5 351.1h0M164.7 408.6h0M123.3 350.2h0M153.3 374.7h0M124.1 362.4h0M153.9 367.7h0M117.1 406.0h0M143.0 383.7h0M174.8 406.0h0M150.5 371.7h0M121.6 355.8h0M201.0 342.2h0M160.0 342.2h0M138.1 353.5h0M146.3 357.0h0M116.4 348.9h0M165.2 409.8h0M126.9 348.0h0M127.6 349.6h0M208.3 392.8h0M122.3 342.9h0M144.3 334.9h0M162.7 382.6h0M167.0 365.4h0M156.6 337.2h0M137.1 345.4h0M177.4 392.5h0M165.1 348.2h0M148.0 348.4h0M147.6 382.6h0M176.7 392.3h0M154.5 381.9h0M164.9 369.9h0M200.6 358.0h0M201.8 374.3h0M159.0 405.3h0M203.8 373.9h0M122.5 345.5h0M202.3 384.5h0M118.7 341.9h0M120.5 405.6h0M147.2 391.6h0M125.9 388.2h0M180.5 373.4h0M126.0 408.2h0M194.5 368.2h0M125.2 381.2h0M197.6 366.7h0M142.4 369.7h0M195.1 359.6h0M205.2 336.0h0M162.9 354.8h0M147.4 383.3h0M182.1 385.3h0M135.1 391.9h0M133.7 341.7h0M123.1 378.1h0M135.8 379.0h0M180.0 380.1h0M161.8 375.2h0M148.2 394.3h0M127.6 355.5h0M164.8 385.8h0M134.1 356.2h0M140.9 334.6h0M186.8 400.5h0M189.3 363.7h0M184.8 390.3h0M173.1 336.5h0M181.0 407.3h0M179.2 335.0h0M127.4 356.4h0M153.9 362.3h0M209.8 368.0h0M137.0 337.7h0M121.1 376.4h0M118.7 396.0h0M190.0 408.5h0M150.6 342.0h0M167.4 358.0h0M164.8 392.2h0M181.6 382.0h0M183.6 402.1h0M138.5 406.8h0M185.5 345.4h0M136.7 363.6h0M154.3 342.9h0M123.4 402.3h0M145.3 346.5h0M169.2 339.6h0M197.0 394.0h0M192.7 369.5h0M176.5 380.7h0M180.1 363.1h0M185.7 400.4h0M118.3 336.0h0M182.1 370.9h0M135.0 389.5h0M157.1 334.7h0M149.4 351.7h0M170.4 385.6h0" stroke="#d8c8d2" stroke-width="1.40" stroke-linecap="round" stroke-opacity="0.6"/>
<path d="M120.0 362.5h0M181.2 376.5h0M205.0 366.0h0M206.5 394.9h0M137.8 351.8h0M120.1 353.1h0M202.5 409.1h0M121.6 356.6h0M173.2 342.6h0M205.7 346.7h0M181.9 396.8h0M134.3 408.2h0M179.3 344.7h0M133.7 370.8h0M184.0 361.0h0M163.5 405.2h0M211.2 398.9h0M140.4 378.6h0M128.4 402.9h0M140.5 407.3h0M156.3 384.1h0M128.1 351.3h0M145.9 370.2h0M145.3 376.4h0M203.6 385.1h0M169.5 343.2h0M166.6 381.7h0M187.2 353.4h0M124.1 399.2h0M170.7 349.8h0M137.9 408.8h0M195.0 355.4h0M196.7 376.1h0M144.6 345.6h0M154.4 376.2h0M174.2 375.7h0M211.5 354.7h0M135.2 386.7h0M142.1 346.3h0M128.0 393.3h0M158.9 394.5h0M147.5 408.9h0M206.4 396.6h0M140.7 347.6h0M149.4 382.4h0M177.3 373.6h0M138.3 362.8h0M169.4 399.0h0M154.7 374.3h0M178.8 374.1h0M196.9 371.0h0M173.3 358.7h0M161.2 355.3h0M189.0 356.3h0M200.8 367.2h0M125.0 333.5h0M177.6 401.7h0M201.5 340.4h0M168.5 361.5h0M201.5 373.0h0M180.9 354.3h0M132.2 333.7h0M127.6 406.6h0M206.4 395.6h0M190.3 348.5h0M136.8 380.0h0M209.8 355.7h0M139.6 348.6h0M133.4 371.8h0M200.3 340.4h0M208.9 405.3h0M194.0 373.2h0M188.6 345.2h0M204.5 356.5h0M157.1 390.7h0M149.2 345.1h0M135.1 371.3h0M167.1 347.5h0M182.0 339.2h0M209.7 382.9h0M190.4 341.2h0M116.1 397.2h0M155.4 340.0h0M120.7 368.8h0M166.5 336.6h0M186.2 384.5h0M116.6 350.5h0M154.7 399.9h0M182.7 396.3h0M169.5 388.0h0M198.5 358.8h0M197.8 357.9h0M189.6 405.1h0M181.2 354.3h0M122.2 409.4h0M126.1 385.8h0M192.7 349.5h0M195.9 374.2h0M193.8 362.2h0M174.6 365.7h0M197.7 361.3h0M140.8 349.2h0M175.3 371.8h0M201.2 342.7h0M135.0 379.5h0M139.6 385.1h0M140.4 334.6h0M211.3 373.6h0M186.0 374.1h0M120.2 361.8h0M133.0 378.6h0M195.3 344.1h0M128.2 396.8h0M115.4 409.8h0M170.4 351.3h0M126.6 390.4h0M170.2 374.3h0M122.8 392.3h0M144.3 407.5h0M205.5 382.7h0M203.5 374.9h0M192.8 378.7h0M134.4 382.3h0M123.2 409.7h0M148.8 377.1h0M151.5 400.0h0M122.0 344.5h0M119.5 394.8h0M144.5 393.2h0M134.3 385.8h0M138.6 387.3h0M146.2 396.4h0M193.3 368.4h0M119.6 372.2h0M134.7 397.1h0M200.9 396.7h0M144.7 340.8h0M120.3 409.3h0M127.5 335.4h0M148.6 395.2h0M176.9 383.9h0M117.1 380.1h0M143.1 404.1h0M176.2 409.3h0M153.1 404.1h0M211.5 361.3h0M145.2 371.7h0M171.8 372.5h0M154.0 373.3h0M127.8 340.1h0M207.6 391.9h0M179.2 381.2h0M131.7 344.1h0M156.5 383.7h0M151.8 345.2h0M193.2 404.7h0M185.4 374.4h0M119.6 350.4h0M210.0 358.8h0M157.7 389.9h0M177.4 336.6h0M123.9 393.2h0M179.4 371.9h0M127.6 402.8h0M175.3 384.1h0M170.9 335.9h0M132.9 387.5h0M115.1 348.6h0M130.9 367.4h0M130.1 354.0h0M122.6 369.6h0M174.8 347.9h0M168.8 396.5h0M153.7 401.9h0M132.4 355.5h0M150.7 353.7h0M127.0 394.5h0M153.2 387.6h0M176.7 378.3h0M139.6 364.6h0M189.5 347.6h0M117.4 399.4h0M117.4 397.2h0M149.0 361.1h0M137.2 406.6h0M200.6 361.7h0M176.3 394.9h0M118.8 348.2h0M128.0 336.2h0M171.4 408.4h0M121.6 400.0h0M208.3 397.0h0M120.3 380.2h0M148.8 396.8h0M154.2 369.0h0M132.6 355.1h0M211.2 352.9h0M152.9 372.9h0M158.5 385.7h0M166.7 380.2h0M168.5 396.2h0M169.7 353.8h0M153.1 393.3h0M169.4 371.0h0M206.7 364.1h0M200.2 385.3h0M153.9 348.2h0M135.4 372.3h0M132.5 393.8h0M150.5 363.4h0M148.4 366.5h0M149.7 348.4h0M139.5 379.3h0M121.5 349.6h0M126.8 337.7h0M204.3 392.5h0M140.8 362.9h0M173.0 367.3h0M169.6 365.7h0M175.9 335.3h0M170.4 382.6h0M141.0 393.4h0M117.6 398.9h0M206.3 376.4h0M156.4 356.3h0M209.1 382.3h0M144.3 380.7h0M117.5 340.7h0M168.7 366.1h0M202.3 369.9h0M161.0 357.2h0M202.4 395.6h0M147.4 359.5h0M194.0 359.3h0M137.8 333.7h0M128.5 340.3h0M177.0 361.4h0M146.8 389.0h0M174.5 399.3h0M138.7 351.0h0M128.0 387.6h0M209.1 371.5h0M129.1 403.8h0M209.8 335.4h0M200.7 392.1h0M171.2 335.2h0M174.8 333.4h0M165.6 403.8h0M206.2 368.1h0M142.5 340.5h0M191.5 405.4h0M145.7 390.6h0M205.9 390.7h0M207.1 349.3h0M191.7 382.9h0M183.4 351.5h0M143.7 376.1h0M139.5 385.0h0M201.7 387.6h0M159.2 342.5h0M147.9 384.4h0M186.8 362.7h0M165.4 360.6h0M116.9 399.7h0M158.7 400.6h0M201.2 369.0h0M126.2 354.4h0M206.3 362.1h0M180.9 379.4h0M126.5 404.1h0M195.3 374.5h0M131.6 404.3h0M141.4 343.7h0M144.4 400.5h0M120.1 369.9h0M127.8 391.4h0M163.1 358.6h0M157.4 348.1h0M173.1 400.4h0M121.0 372.8h0M120.9 378.0h0M123.4 391.5h0M204.8 340.7h0M194.7 389.1h0M152.8 351.1h0M135.2 342.6h0M161.6 335.6h0M207.2 404.5h0M143.6 402.3h0M147.2 384.6h0M128.4 398.8h0M123.5 406.1h0M189.8 382.5h0M155.1 383.2h0M116.7 405.8h0M125.0 360.3h0M179.3 409.6h0M200.7 350.9h0M189.6 388.6h0M134.9 369.0h0" stroke="#e2dce2" stroke-width="1.60" stroke-linecap="round" stroke-opacity="0.75"/>
<path d="M134.6 366.2h0M155.6 345.4h0M126.1 384.6h0M189.3 388.7h0M165.5 407.9h0M159.4 372.1h0M204.7 356.1h0M141.8 373.8h0M207.4 356.1h0M157.7 340.4h0M147.8 333.4h0M156.1 338.0h0M161.7 382.1h0M178.4 396.9h0M114.9 404.0h0M193.9 408.4h0M177.1 369.3h0M187.5 365.4h0M202.3 399.0h0M154.1 345.7h0M119.4 407.4h0M129.4 406.5h0M167.2 356.4h0M197.9 363.4h0M167.9 348.8h0M187.3 379.6h0M168.9 382.5h0M176.4 346.3h0M183.5 382.6h0M154.7 400.5h0M133.5 373.2h0M152.1 354.0h0M130.8 378.5h0M206.1 383.4h0M119.0 405.5h0M154.3 338.4h0M121.6 344.4h0M115.3 381.2h0M174.4 387.9h0M160.4 347.2h0M132.4 362.6h0M153.3 400.6h0M197.7 360.5h0M161.3 358.2h0M125.4 340.7h0M193.5 336.8h0M126.2 378.3h0M174.9 358.0h0M168.5 340.4h0M169.6 337.9h0M134.3 375.7h0M209.5 346.2h0M208.4 397.1h0M160.2 335.5h0M119.9 361.9h0M177.7 342.2h0M127.5 403.3h0M123.0 342.6h0M202.1 339.5h0M160.0 375.2h0M146.9 377.0h0M179.2 374.5h0M120.5 352.3h0M146.3 374.1h0M211.2 409.6h0M148.3 386.7h0M188.3 394.5h0M209.3 366.0h0M198.6 349.5h0M132.9 347.0h0M133.7 385.4h0M173.9 341.8h0M194.2 384.4h0M139.2 335.1h0M189.8 345.2h0M133.6 348.6h0M127.8 405.1h0M151.1 368.8h0M138.9 359.4h0M210.4 397.5h0M204.6 336.4h0M118.2 373.8h0M173.6 382.7h0M146.4 343.0h0M177.5 335.3h0M202.5 343.1h0M163.2 333.7h0M117.8 396.9h0M117.2 391.5h0M117.4 389.7h0M140.6 382.6h0M148.7 385.1h0M147.1 362.9h0M201.8 346.2h0M177.9 347.2h0M168.9 339.3h0M197.3 399.0h0M127.7 374.3h0M123.4 387.4h0M175.1 345.4h0M152.8 374.6h0M146.3 350.7h0M135.1 374.2h0M195.5 399.0h0M199.1 350.2h0M148.7 367.1h0M198.2 388.8h0M188.0 390.3h0M195.3 374.0h0M168.7 384.4h0M164.8 358.2h0M181.8 396.8h0M204.9 361.7h0M144.8 340.4h0M163.2 402.3h0M201.7 333.5h0M170.6 339.4h0M141.9 401.5h0M168.8 364.6h0M138.1 400.2h0" stroke="#e2dce2" stroke-width="2.80" stroke-linecap="round" stroke-opacity="0.85"/>
<path d="M207.9 405.3h0M126.0 392.0h0M190.0 358.4h0M148.2 358.4h0M150.6 404.4h0M195.2 342.7h0M173.9 396.6h0M130.7 340.2h0M158.6 361.7h0M134.8 348.6h0M125.7 404.1h0M198.2 389.0h0M192.8 334.1h0M195.2 352.3h0M136.9 340.2h0M125.6 352.4h0M122.2 399.6h0M172.5 395.9h0M209.3 342.1h0M207.8 339.1h0M206.6 396.4h0M175.7 390.1h0M159.9 406.5h0M144.0 374.6h0M199.9 364.2h0M206.5 378.0h0M142.9 360.4h0M115.3 384.5h0M177.7 391.5h0M184.5 378.7h0M176.4 385.7h0M136.6 357.4h0M143.1 387.2h0M188.0 385.9h0M200.8 360.9h0" stroke="#e2dce2" stroke-width="4.00" stroke-linecap="round" stroke-opacity="0.9"/>
</g></g>
<rect x="114.30" y="333.20" width="97.30" height="77.20" fill="none" stroke="#2a2a2a" stroke-width="0.9"/>
<text x="198.50" y="405.00" font-size="7.6" text-anchor="middle" fill="#e8202a" style="stroke:#e8202a">50 µm</text>
<line x1="188.40" y1="407.40" x2="208.00" y2="407.40" stroke="#e8202a" stroke-width="1.0"/>
<text transform="translate(12.60,293.70) rotate(-90)" font-size="10.3" text-anchor="middle" fill="#231f20">PF</text>
<text transform="translate(12.60,371.50) rotate(-90)" font-size="10.3" text-anchor="middle" fill="#231f20">EF</text>
<text x="64.30" y="421.60" font-size="10.3" text-anchor="middle">Flox</text>
<text x="163.00" y="421.60" font-size="10.3" text-anchor="middle">HKO</text>
<rect x="240.80" y="278.00" width="10.70" height="3.80" fill="#f7b9b9" stroke="#f28c8c" stroke-width="0.8"/>
<text x="254.10" y="282.60" font-size="8.8">Flox-PF</text>
<rect x="240.80" y="287.30" width="10.70" height="3.80" fill="#c3e4e1" stroke="#5cb3a8" stroke-width="0.8"/>
<text x="254.10" y="291.90" font-size="8.8">HKO-PF</text>
<rect x="240.80" y="296.60" width="10.70" height="3.80" fill="#cfc0df" stroke="#9c88cc" stroke-width="0.8"/>
<text x="254.10" y="301.20" font-size="8.8">Flox-EF</text>
<rect x="240.80" y="305.90" width="10.70" height="3.80" fill="#f4d0a8" stroke="#e8a25c" stroke-width="0.8"/>
<text x="254.10" y="310.50" font-size="8.8">HKO-EF</text>
<rect x="247.35" y="406.06" width="12.60" height="3.94" fill="#f7b9b9" stroke="#f28c8c" stroke-width="0.7"/>
<rect x="266.35" y="407.31" width="12.60" height="2.69" fill="#c3e4e1" stroke="#5cb3a8" stroke-width="0.7"/>
<rect x="286.15" y="390.85" width="12.60" height="19.15" fill="#cfc0df" stroke="#9c88cc" stroke-width="0.7"/>
<rect x="305.35" y="360.69" width="12.60" height="49.31" fill="#f4d0a8" stroke="#e8a25c" stroke-width="0.7"/>
<line x1="240.40" y1="326.50" x2="240.40" y2="410.00" stroke="#3c3c3c" stroke-width="1.0"/>
<line x1="239.90" y1="410.30" x2="325.00" y2="410.30" stroke="#6e6e6e" stroke-width="1.3"/>
<line x1="237.40" y1="410.00" x2="240.40" y2="410.00" stroke="#3c3c3c" stroke-width="0.9"/>
<text x="235.40" y="413.24" font-size="9.0" text-anchor="end">0</text>
<line x1="237.40" y1="382.33" x2="240.40" y2="382.33" stroke="#3c3c3c" stroke-width="0.9"/>
<text x="235.40" y="385.57" font-size="9.0" text-anchor="end">20</text>
<line x1="237.40" y1="354.67" x2="240.40" y2="354.67" stroke="#3c3c3c" stroke-width="0.9"/>
<text x="235.40" y="357.91" font-size="9.0" text-anchor="end">40</text>
<line x1="237.40" y1="327.00" x2="240.40" y2="327.00" stroke="#3c3c3c" stroke-width="0.9"/>
<text x="235.40" y="330.24" font-size="9.0" text-anchor="end">60</text>
<line x1="253.65" y1="402.12" x2="253.65" y2="409.31" stroke="#f03c48" stroke-width="0.9"/>
<line x1="250.85" y1="402.12" x2="256.45" y2="402.12" stroke="#f03c48" stroke-width="0.9"/>
<line x1="250.85" y1="409.31" x2="256.45" y2="409.31" stroke="#f03c48" stroke-width="0.9"/>
<circle cx="253.65" cy="400.04" r="1.45" fill="#f03c48"/>
<circle cx="250.75" cy="401.98" r="1.45" fill="#f03c48"/>
<circle cx="253.65" cy="406.96" r="1.45" fill="#f03c48"/>
<circle cx="250.75" cy="407.51" r="1.45" fill="#f03c48"/>
<circle cx="256.55" cy="408.20" r="1.45" fill="#f03c48"/>
<line x1="272.65" y1="405.30" x2="272.65" y2="408.62" stroke="#2e9a8a" stroke-width="0.9"/>
<line x1="269.85" y1="405.30" x2="275.45" y2="405.30" stroke="#2e9a8a" stroke-width="0.9"/>
<line x1="269.85" y1="408.62" x2="275.45" y2="408.62" stroke="#2e9a8a" stroke-width="0.9"/>
<circle cx="272.65" cy="403.36" r="1.45" fill="#2e9a8a"/>
<circle cx="272.65" cy="406.96" r="1.45" fill="#2e9a8a"/>
<circle cx="269.75" cy="406.96" r="1.45" fill="#2e9a8a"/>
<circle cx="275.55" cy="407.10" r="1.45" fill="#2e9a8a"/>
<circle cx="272.65" cy="407.51" r="1.45" fill="#2e9a8a"/>
<line x1="292.45" y1="386.90" x2="292.45" y2="394.09" stroke="#6a54c2" stroke-width="0.9"/>
<line x1="289.65" y1="386.90" x2="295.25" y2="386.90" stroke="#6a54c2" stroke-width="0.9"/>
<line x1="289.65" y1="394.09" x2="295.25" y2="394.09" stroke="#6a54c2" stroke-width="0.9"/>
<circle cx="292.45" cy="386.48" r="1.45" fill="#6a54c2"/>
<circle cx="289.55" cy="387.73" r="1.45" fill="#6a54c2"/>
<circle cx="292.45" cy="389.53" r="1.45" fill="#6a54c2"/>
<circle cx="292.45" cy="393.81" r="1.45" fill="#6a54c2"/>
<circle cx="289.55" cy="394.23" r="1.45" fill="#6a54c2"/>
<line x1="311.65" y1="348.03" x2="311.65" y2="372.65" stroke="#c8650c" stroke-width="0.9"/>
<line x1="308.85" y1="348.03" x2="314.45" y2="348.03" stroke="#c8650c" stroke-width="0.9"/>
<line x1="308.85" y1="372.65" x2="314.45" y2="372.65" stroke="#c8650c" stroke-width="0.9"/>
<circle cx="311.65" cy="351.62" r="1.45" fill="#c8650c"/>
<circle cx="308.75" cy="352.59" r="1.45" fill="#c8650c"/>
<circle cx="311.65" cy="355.36" r="1.45" fill="#c8650c"/>
<circle cx="311.65" cy="361.03" r="1.45" fill="#c8650c"/>
<circle cx="311.65" cy="381.50" r="1.45" fill="#c8650c"/>
<path d="M253.60,330.00V327.40H291.60V330.00" fill="none" stroke="#3c3c3c" stroke-width="0.9"/>
<text x="272.60" y="326.10" font-size="7.3" text-anchor="middle">0.0113</text>
<path d="M292.60,330.00V327.40H311.60V330.00" fill="none" stroke="#3c3c3c" stroke-width="0.9"/>
<text x="302.10" y="326.10" font-size="7.3" text-anchor="middle">1.51E-05</text>
<text transform="translate(221.10,372.60) rotate(-90)" font-size="8.7" text-anchor="middle" fill="#231f20">Steatosis area (%)</text>
<text x="346.50" y="247.60" font-size="17.2" fill="#000" style="stroke:#000" font-weight="bold">i</text>
<text x="460.00" y="247.90" font-size="10" text-anchor="middle">Oil red O</text>
<clipPath id="c21"><rect x="362.00" y="254.20" width="95.80" height="76.30"/></clipPath>
<g clip-path="url(#c21)"><g fill="none" filter="url(#blr)">
<rect x="362.00" y="254.20" width="95.80" height="76.30" fill="#b0c4e0"/>
<path d="M377.8 306.8h0M422.8 290.8h0M382.7 314.7h0M439.4 293.3h0M410.4 272.2h0M362.3 282.5h0M418.1 259.5h0M438.0 271.9h0M384.3 257.4h0M457.6 310.6h0M445.8 301.2h0M365.3 279.3h0M409.7 263.0h0M453.2 282.3h0M376.8 316.6h0M374.0 325.0h0M405.4 296.3h0M394.9 291.2h0M379.9 257.0h0M445.0 272.1h0M436.7 270.1h0M454.8 322.4h0M434.3 312.4h0M417.6 309.9h0M373.7 290.5h0M441.2 269.5h0M450.4 321.9h0M401.2 282.1h0M405.2 283.6h0M457.3 283.7h0M364.6 261.3h0M430.8 330.0h0M409.5 291.7h0M414.7 311.3h0M383.3 300.7h0M415.3 301.7h0M379.3 267.2h0M395.4 324.9h0M395.2 299.8h0M391.4 262.1h0M368.3 316.3h0M436.4 282.8h0M427.5 305.8h0M448.1 327.3h0M401.0 329.7h0M454.1 299.3h0M446.6 291.7h0M398.0 273.1h0M445.9 266.6h0M368.6 315.6h0M436.1 291.1h0M442.2 258.2h0M386.7 276.3h0M402.2 267.2h0M368.7 280.0h0M448.1 329.2h0M433.5 290.7h0M386.2 327.4h0M412.4 309.8h0M364.7 270.4h0M442.3 314.9h0M446.4 300.1h0M402.8 298.5h0M443.4 277.7h0M413.2 275.3h0M435.6 255.0h0M427.7 327.0h0M364.3 299.5h0M423.7 319.2h0M418.0 273.8h0M400.9 327.3h0M448.8 264.4h0M371.1 261.4h0M364.4 288.3h0M375.5 320.4h0M424.8 263.9h0M413.6 278.9h0M409.3 271.0h0M377.9 268.2h0M398.2 308.4h0M414.7 257.7h0M430.1 320.9h0M436.2 314.5h0M362.7 289.6h0M368.1 312.5h0M378.8 308.5h0M386.2 307.4h0M392.0 257.4h0M399.3 277.8h0M448.3 276.7h0M410.2 296.1h0M452.8 261.7h0M419.6 293.0h0M432.4 328.0h0M391.7 307.6h0M412.4 297.0h0M368.1 316.4h0M455.6 281.3h0M392.5 330.0h0M372.3 260.0h0M369.0 316.3h0M434.8 288.4h0M421.5 255.7h0M423.8 288.0h0M411.6 283.9h0M400.5 271.4h0M366.7 287.3h0M385.7 307.9h0M440.3 309.4h0M405.7 272.2h0M398.9 291.3h0M422.5 327.7h0M370.2 290.8h0M409.1 308.9h0M447.3 313.7h0M422.0 312.1h0M426.0 319.7h0M429.0 306.3h0M385.5 324.1h0M399.0 301.1h0M441.0 327.7h0M456.8 254.7h0M391.9 278.0h0M399.5 265.3h0M415.0 260.3h0M391.0 326.2h0M433.1 289.5h0M372.4 327.1h0M429.4 269.9h0M394.1 303.2h0M427.3 274.1h0M453.1 278.8h0M386.4 318.7h0M376.7 306.2h0M381.1 299.8h0M388.6 283.1h0M452.1 289.8h0M403.9 301.3h0M388.9 267.5h0M398.8 275.0h0M380.1 327.5h0M365.3 316.0h0M451.5 308.0h0M363.8 292.4h0M365.8 300.6h0M429.1 272.5h0M362.7 295.7h0M371.1 277.8h0M405.5 322.4h0M397.5 264.5h0M437.8 316.9h0M412.7 258.0h0M380.0 284.9h0M414.9 271.4h0M438.9 318.6h0M450.6 321.6h0M363.7 298.6h0M369.7 322.8h0M433.6 312.1h0M380.0 258.8h0M440.1 300.5h0M421.4 290.1h0M438.7 280.0h0M387.8 281.1h0M390.5 302.0h0M447.3 259.6h0M368.5 293.2h0M427.0 268.7h0M387.9 258.7h0M365.6 292.0h0M427.2 304.0h0M377.2 262.1h0M451.2 295.3h0M401.1 306.9h0M431.7 294.2h0M369.5 317.3h0M382.5 257.3h0M395.7 294.8h0M422.2 267.5h0M430.0 291.9h0M377.5 319.1h0M439.3 323.4h0M427.1 270.8h0M436.5 323.1h0M413.1 323.5h0M454.9 284.0h0M452.2 325.7h0M438.1 255.1h0M395.7 301.0h0M420.2 311.9h0M424.0 266.5h0M451.2 295.1h0M446.5 270.0h0M457.6 296.5h0M436.3 310.7h0M446.6 281.8h0M369.9 285.1h0M379.1 295.4h0M440.1 281.8h0M374.6 256.3h0M402.5 298.5h0M364.5 305.0h0M382.2 262.4h0M450.9 294.1h0M447.7 293.4h0M373.8 272.5h0M402.6 303.1h0M435.9 311.5h0M424.3 273.5h0M403.2 283.0h0M408.9 274.5h0M413.5 289.2h0M365.4 317.0h0M418.2 315.5h0M432.6 310.0h0M457.2 283.0h0M399.7 254.5h0M425.6 298.6h0M417.2 330.3h0M380.9 271.5h0M432.3 316.2h0M408.3 258.4h0M397.5 317.3h0M409.9 289.4h0M399.3 302.2h0M419.3 307.1h0M444.9 311.5h0M397.9 273.3h0M436.9 314.7h0M450.9 269.4h0M443.2 322.2h0M369.4 277.7h0M422.7 265.4h0M441.6 274.4h0M427.4 276.8h0M382.9 270.0h0M409.7 308.6h0M382.9 306.6h0M394.1 303.7h0M397.3 268.9h0M375.5 258.6h0M428.7 285.8h0M373.8 321.4h0M424.7 255.8h0M431.4 299.6h0M404.5 292.4h0M454.2 282.7h0M422.9 302.7h0M397.0 280.6h0M434.3 302.7h0M405.8 293.4h0M383.4 314.4h0M363.9 303.3h0M405.6 271.1h0M418.2 298.7h0M370.3 291.6h0M377.8 315.2h0M393.3 279.3h0M382.6 257.9h0M379.9 265.8h0M421.8 318.9h0M383.2 262.7h0M413.2 263.0h0M400.8 312.3h0M381.5 307.6h0M413.6 260.7h0M385.2 299.9h0M371.2 269.7h0M417.3 316.6h0M411.9 304.8h0M362.9 277.3h0M392.5 323.9h0M396.3 314.1h0M365.3 292.2h0M447.4 313.1h0M417.5 268.1h0M450.7 260.3h0M454.4 313.4h0M430.9 294.7h0M377.7 280.2h0M425.6 304.3h0M399.3 315.3h0M367.1 276.1h0M370.7 279.0h0M438.0 311.7h0M376.3 277.7h0M372.7 304.7h0M404.4 271.9h0M397.8 320.2h0M402.7 306.9h0M422.1 290.3h0M415.3 282.0h0M381.0 291.9h0M391.2 279.4h0M379.9 323.9h0M402.8 269.5h0M365.0 270.5h0M445.2 279.9h0M425.9 271.8h0M424.3 288.6h0M432.5 294.5h0M398.0 275.6h0M418.9 317.7h0M428.3 290.8h0M393.5 322.2h0M443.1 265.3h0M427.1 313.1h0M426.7 327.8h0M446.2 273.0h0M457.5 279.2h0M398.4 328.7h0M378.0 284.4h0M422.0 275.0h0M387.6 314.8h0M420.7 311.0h0M437.7 320.7h0M447.6 317.0h0M455.7 292.3h0M429.2 293.4h0M454.9 304.2h0M403.2 304.9h0M390.2 264.1h0M399.0 264.6h0M362.4 261.3h0M405.5 312.4h0M366.6 302.8h0M372.7 293.1h0M390.3 288.2h0M430.2 285.7h0M399.5 309.8h0M373.1 280.8h0M429.2 317.9h0M455.8 273.8h0M421.9 278.1h0M429.2 318.8h0M374.9 280.5h0M451.7 281.1h0M422.6 316.7h0M388.7 314.0h0M362.3 280.2h0M378.0 280.6h0M382.4 256.1h0M438.9 267.4h0M416.9 296.5h0M443.4 318.8h0M421.6 267.1h0M434.9 261.6h0M451.0 277.7h0M386.2 270.7h0M399.9 314.6h0M443.9 311.1h0M431.9 272.8h0M392.8 277.4h0M403.5 320.9h0M457.4 260.6h0M454.4 324.3h0M406.2 307.1h0M437.2 268.5h0M421.0 329.1h0M446.3 323.8h0M370.1 308.7h0M408.6 323.6h0M378.0 296.1h0M373.6 315.6h0M431.2 256.6h0M391.7 265.0h0M422.9 302.3h0M368.0 326.8h0M454.5 287.8h0M417.0 281.9h0M420.1 284.6h0M404.2 311.4h0M379.9 277.0h0M435.2 271.4h0M368.6 323.8h0M377.3 285.6h0M392.0 274.2h0M395.8 295.2h0M373.1 294.9h0M366.9 260.2h0M381.4 272.5h0M394.7 276.4h0M442.2 304.4h0M407.3 313.1h0M427.7 278.3h0M421.0 311.1h0M413.2 311.6h0M422.6 325.0h0M387.3 305.4h0M455.6 294.5h0M448.7 261.4h0M431.3 274.4h0M433.9 286.5h0M413.3 273.2h0M386.6 320.2h0M423.6 302.2h0M373.1 276.6h0M454.7 269.7h0M413.5 307.3h0M410.9 296.5h0M454.9 313.8h0M384.7 287.0h0M402.2 306.4h0M426.7 274.1h0M428.3 287.1h0M363.5 276.5h0M398.1 269.2h0M426.3 329.9h0M451.2 302.2h0M444.1 291.7h0M418.2 322.4h0M367.7 281.8h0M397.8 280.2h0M403.0 258.6h0M427.1 327.2h0M384.4 268.4h0M394.1 315.0h0M383.7 313.0h0M378.5 299.6h0M431.1 305.6h0M370.1 327.2h0M443.2 290.9h0M444.3 300.1h0M378.1 284.5h0M440.6 289.6h0M366.0 266.8h0M379.8 298.9h0M423.7 288.4h0M400.7 327.7h0M394.8 305.5h0M381.6 293.4h0M379.2 262.8h0M394.3 263.0h0M398.5 304.0h0M414.6 314.9h0M407.7 260.6h0M431.7 284.9h0M434.0 328.6h0M412.2 273.3h0M396.3 292.2h0M392.6 261.9h0M400.2 304.3h0M440.2 312.3h0M446.7 315.3h0M401.4 303.4h0M367.2 314.8h0M429.8 274.4h0M407.2 274.9h0M438.2 286.8h0M436.8 324.7h0M436.5 283.2h0M394.8 326.4h0M448.7 268.7h0M396.7 314.3h0M434.5 275.8h0M404.8 327.6h0M370.6 275.1h0M425.6 323.4h0M452.7 290.0h0M437.7 328.4h0M393.6 271.6h0M386.9 313.9h0M375.4 295.9h0M451.1 269.5h0M422.2 294.6h0M454.6 293.4h0M409.0 323.1h0M434.1 265.3h0M439.0 284.7h0M454.8 327.7h0M409.3 285.9h0M383.7 275.3h0M381.7 267.0h0M432.0 258.1h0M419.4 299.8h0M432.5 297.5h0M450.8 275.7h0M370.9 298.6h0M387.8 329.6h0M450.3 306.7h0M441.9 272.8h0M408.5 283.4h0M395.1 282.7h0M407.8 304.1h0M364.4 295.3h0M374.3 328.1h0M414.9 299.2h0M392.2 308.0h0M430.0 323.6h0M417.6 274.8h0M422.2 258.0h0M433.3 277.6h0M430.9 264.3h0M419.2 267.1h0M365.5 274.3h0M443.3 283.9h0M412.1 314.5h0M455.7 274.0h0M428.5 313.9h0M438.1 280.7h0M407.4 314.0h0M386.0 291.3h0M422.7 319.2h0M385.4 305.0h0M382.8 266.2h0M407.7 303.6h0M423.3 326.5h0M377.7 294.7h0M408.0 274.0h0M449.9 265.2h0M387.0 257.3h0M423.7 304.4h0M383.4 324.5h0M422.8 269.6h0M452.2 319.3h0M392.1 320.2h0M374.5 280.7h0M402.1 327.1h0M390.6 283.6h0M381.9 316.7h0M379.6 318.9h0M394.7 296.2h0M446.0 274.5h0M412.6 302.7h0M417.3 285.3h0M423.9 278.2h0M376.9 254.9h0M420.0 298.0h0M438.6 266.2h0M426.5 288.8h0M412.3 317.6h0M411.7 287.4h0M423.9 265.5h0M445.6 293.7h0M366.1 290.9h0M452.6 328.9h0M402.8 274.5h0M451.7 275.9h0M363.7 273.1h0M407.1 305.6h0M368.4 279.7h0M431.7 280.5h0M378.8 308.5h0M403.8 307.2h0M408.4 316.2h0M411.1 328.6h0M439.9 309.3h0M409.0 300.7h0M398.1 260.0h0M446.7 315.8h0M435.5 319.8h0M414.8 330.1h0M407.3 329.0h0M369.7 283.1h0M416.7 316.6h0M411.9 314.5h0M397.8 305.9h0M438.3 300.0h0M364.0 304.3h0M362.0 277.3h0M373.0 312.5h0M378.1 309.1h0M368.9 270.0h0M428.6 324.7h0M368.9 301.1h0M400.1 301.7h0M369.4 255.5h0M369.5 322.2h0M409.0 300.9h0M374.8 306.5h0M448.3 269.3h0M436.8 318.9h0M457.1 297.4h0M423.8 280.5h0M436.8 277.9h0M421.7 302.0h0M456.8 314.3h0M371.2 267.7h0M396.2 284.4h0M430.7 274.0h0M415.5 288.7h0M391.2 303.2h0M403.6 328.9h0M374.4 322.8h0M423.0 289.2h0M369.5 303.6h0M439.0 280.9h0M430.3 294.8h0M370.6 319.8h0M391.9 290.8h0M434.9 321.0h0M443.8 282.2h0M443.2 265.9h0M414.9 287.2h0M445.0 309.3h0M425.1 316.1h0M395.3 288.1h0M371.9 281.0h0M381.1 310.0h0M374.4 324.0h0M419.5 288.2h0M373.4 288.3h0M416.0 265.2h0M455.6 281.7h0M403.6 276.0h0M397.7 275.3h0M443.8 259.7h0M396.9 299.8h0M407.9 279.0h0M408.4 259.0h0M391.4 287.4h0M435.4 287.0h0M401.8 304.1h0M388.5 296.2h0M380.7 301.3h0M413.6 304.1h0M445.8 314.9h0M456.7 272.0h0M453.4 288.1h0M397.1 288.9h0M450.3 327.0h0M439.1 277.2h0M373.4 269.7h0M426.4 307.8h0M368.3 254.5h0M457.3 280.0h0M366.0 289.7h0M371.4 316.4h0M412.7 300.9h0M450.8 263.7h0M382.6 314.2h0M420.2 287.7h0M396.1 301.5h0M452.5 326.6h0M449.9 328.9h0M374.6 256.3h0M441.4 273.1h0M412.0 289.9h0M455.3 288.0h0M374.9 269.8h0M448.6 316.5h0M375.4 327.7h0M397.6 309.7h0M416.1 319.7h0M408.9 256.5h0M415.4 319.2h0M401.4 317.3h0M404.8 281.6h0M396.4 271.6h0M410.0 327.4h0M418.6 312.8h0M379.2 282.4h0M417.6 283.5h0M362.8 320.4h0M374.4 304.5h0M455.9 276.3h0M387.8 279.5h0M413.9 329.0h0M375.9 272.9h0M447.9 275.3h0M425.9 309.3h0M362.0 256.3h0M434.7 324.3h0M428.6 289.8h0M371.7 294.4h0M372.5 278.9h0M365.4 293.5h0M406.8 275.9h0M383.2 259.2h0M364.7 263.9h0M456.1 256.7h0M430.6 289.0h0M418.3 277.5h0M456.0 315.8h0M400.8 287.1h0M449.9 266.1h0M445.7 301.4h0M416.3 294.9h0M418.6 261.1h0M385.9 281.2h0M383.2 260.7h0M430.3 286.3h0M433.0 284.1h0M452.2 272.8h0M411.1 286.5h0M437.8 264.2h0M414.3 288.8h0M421.8 272.0h0M414.0 329.4h0M371.9 328.3h0M454.6 288.4h0M369.8 292.1h0M454.3 254.3h0M434.1 313.7h0M373.1 300.2h0M376.2 261.8h0M411.9 276.9h0M425.1 294.4h0M384.0 324.4h0M362.6 315.4h0M389.0 322.8h0M420.2 289.2h0M382.7 319.6h0M444.2 327.5h0M418.5 324.8h0M447.7 305.1h0M394.5 300.3h0M394.9 316.3h0M415.0 320.3h0M447.4 311.8h0M381.5 279.8h0M370.2 279.8h0M377.1 277.1h0M438.1 263.3h0M449.9 324.5h0M435.9 272.4h0M389.8 289.1h0M421.3 324.8h0M363.9 260.8h0M440.8 255.9h0M447.6 268.4h0M455.5 290.1h0M420.1 317.1h0M440.9 285.8h0M406.1 314.4h0M386.6 277.4h0M445.4 321.5h0M441.3 280.4h0M394.8 262.2h0M441.8 257.9h0M379.6 256.0h0M405.8 330.2h0M368.8 273.4h0M387.7 307.7h0M396.2 267.5h0M428.3 322.9h0M377.8 259.0h0M401.0 325.5h0M367.7 264.7h0M423.8 312.3h0M405.3 257.6h0M414.8 261.8h0M369.1 258.5h0M451.8 262.0h0M407.5 316.8h0M381.2 284.0h0M438.0 297.3h0M380.6 295.2h0M457.3 316.7h0M454.2 256.0h0M367.6 292.6h0M363.2 327.6h0M390.0 296.1h0M446.0 286.7h0M435.3 266.0h0M404.6 309.6h0M406.8 268.3h0M444.3 281.5h0M449.4 278.2h0M441.3 263.7h0M426.7 326.8h0M422.1 285.8h0M456.0 327.9h0M440.8 271.2h0M370.5 301.0h0M374.8 258.8h0M415.2 326.3h0M387.9 316.8h0M454.0 326.0h0M369.8 264.4h0M453.5 327.8h0M378.4 268.0h0M430.2 261.6h0M372.0 266.4h0M417.4 282.5h0M442.7 265.9h0M447.9 314.3h0M397.9 300.3h0M426.8 263.5h0M451.3 287.8h0M411.3 319.2h0M364.0 274.6h0M365.0 310.4h0M382.9 309.0h0M430.8 330.2h0M379.3 285.8h0M437.5 288.1h0M378.8 305.7h0M438.1 288.3h0M398.6 264.3h0M400.9 318.3h0M396.0 327.0h0M396.3 290.5h0M436.6 323.8h0M442.9 286.4h0M405.2 264.1h0M413.6 316.7h0M380.3 278.3h0M368.3 288.8h0M408.1 329.7h0M426.2 324.2h0M381.2 287.6h0M429.3 259.9h0M416.7 301.9h0M364.6 269.7h0M437.1 266.6h0M423.1 286.4h0M399.3 321.0h0M400.0 321.3h0M440.6 296.5h0M371.7 279.7h0M453.5 274.3h0" stroke="#c8b0c0" stroke-width="1.20" stroke-linecap="round" stroke-opacity="0.55"/>
<path d="M418.6 269.5h0M432.2 306.7h0M447.3 299.5h0M372.6 314.9h0M417.2 326.2h0M411.8 278.9h0M404.5 297.0h0M428.9 302.4h0M444.6 295.1h0M381.6 319.7h0M430.1 266.3h0M406.1 319.1h0M417.3 263.5h0M444.9 310.0h0M380.9 307.2h0M444.7 298.1h0M452.8 295.2h0M363.2 304.5h0M441.5 324.1h0M434.4 326.1h0M438.9 290.3h0M367.8 267.0h0M366.7 324.8h0M439.4 323.4h0M436.4 288.8h0M416.0 256.1h0M377.3 284.7h0M367.1 278.5h0M411.7 266.5h0M379.0 260.7h0M405.8 318.1h0M404.9 307.9h0M430.6 315.5h0M438.3 292.4h0M366.4 267.1h0M388.7 279.9h0M419.4 292.2h0M389.6 267.0h0M432.7 330.2h0M429.2 264.9h0M428.6 315.2h0M413.5 302.6h0M444.6 290.7h0M429.7 267.1h0M442.1 297.8h0M380.3 301.9h0M441.0 288.2h0M391.9 308.4h0M457.3 327.5h0M391.7 291.3h0M398.1 265.1h0M414.3 276.1h0M407.8 317.4h0M415.2 329.7h0M381.4 268.3h0M368.2 308.1h0M389.4 270.9h0M423.0 329.6h0M434.2 327.2h0M451.3 294.4h0M383.0 312.6h0M382.9 259.5h0M397.8 310.6h0M422.6 285.5h0M374.0 267.3h0M419.5 291.9h0M414.0 310.9h0M416.9 320.4h0M450.1 293.8h0M396.5 292.7h0M385.9 267.6h0M431.0 287.9h0M364.1 284.2h0M392.8 258.8h0M364.2 301.0h0M439.1 318.2h0M419.2 271.4h0M423.1 274.7h0M384.1 279.3h0M374.9 262.7h0M456.5 260.6h0M455.0 307.0h0M433.1 262.7h0M427.2 269.5h0M410.7 288.8h0M448.4 261.9h0M362.7 298.8h0M412.3 303.7h0M370.3 282.5h0M430.3 299.4h0M392.3 254.8h0M366.2 322.3h0M388.2 259.6h0M389.9 270.3h0M414.1 257.9h0M413.7 303.5h0M413.4 299.7h0M385.1 284.1h0M433.7 276.0h0M441.1 268.7h0M407.8 322.7h0M425.6 275.2h0M397.0 275.7h0M434.0 282.0h0M442.2 307.3h0M441.6 294.7h0M389.0 306.7h0M403.7 258.1h0M405.1 268.4h0M369.0 274.5h0M453.5 305.3h0M403.6 298.6h0M399.1 297.2h0M387.0 319.4h0M438.1 288.1h0M415.3 282.6h0M435.8 317.9h0M450.7 262.4h0M449.0 270.9h0M372.6 285.7h0M424.0 263.0h0M423.7 328.0h0M436.6 317.3h0M377.2 279.9h0M385.7 282.4h0M446.7 330.2h0M387.3 297.1h0M420.3 328.3h0M405.1 263.2h0M371.5 265.3h0M407.6 261.2h0M428.3 269.0h0M366.1 309.1h0M406.3 311.9h0M417.3 283.3h0M368.8 319.3h0M427.1 274.1h0M369.9 302.3h0M451.1 310.9h0M450.4 330.0h0M374.1 268.3h0M406.7 262.7h0M408.4 316.5h0M387.0 316.6h0M386.4 316.5h0M369.3 263.3h0M366.4 298.4h0M364.2 307.2h0M402.0 323.2h0M398.9 317.8h0M434.1 282.8h0M436.6 300.0h0M418.8 286.8h0M376.8 294.1h0M411.7 287.2h0M456.2 267.3h0M449.3 296.8h0M371.4 297.1h0M380.0 292.0h0M407.9 313.1h0M449.1 259.7h0M446.0 325.7h0M376.5 260.4h0M406.5 256.6h0M374.0 293.2h0M382.0 300.0h0M381.9 305.0h0M421.8 260.0h0M427.6 324.6h0M457.2 257.4h0M427.9 278.6h0M401.9 289.3h0M366.7 302.2h0M374.5 319.5h0M371.7 301.7h0M415.0 256.7h0M372.9 292.0h0M399.4 266.0h0M371.7 271.9h0M440.0 264.6h0M434.5 262.9h0M440.2 313.0h0M446.5 284.0h0M455.4 285.8h0M422.4 317.4h0M376.5 257.7h0M428.5 271.5h0M383.0 291.9h0M378.5 274.8h0M381.4 261.2h0M440.1 318.6h0M432.1 287.7h0M450.4 295.6h0M415.1 255.8h0M396.1 270.7h0M425.0 327.7h0M422.1 278.6h0M441.7 260.3h0M439.2 257.5h0M454.4 311.8h0M456.4 291.0h0M425.0 284.7h0M433.9 295.2h0M405.7 315.5h0M452.0 275.4h0M386.7 330.0h0M394.3 282.3h0M414.4 276.3h0M405.7 275.2h0M404.3 315.1h0M435.1 325.1h0M451.4 274.6h0M436.6 307.0h0M421.9 291.4h0M450.2 297.2h0M451.9 262.3h0M396.3 264.4h0M431.0 289.2h0M392.7 279.9h0M408.4 277.6h0M409.3 301.7h0M363.9 271.0h0M412.3 304.7h0M418.8 310.1h0M403.5 323.8h0M435.6 292.7h0M416.7 315.6h0M388.9 275.8h0M409.8 292.8h0M367.0 292.6h0M450.0 320.2h0M413.7 307.6h0M397.6 259.7h0M440.8 295.3h0M420.5 301.0h0M455.4 277.2h0M416.6 310.2h0M427.8 323.7h0M365.9 315.0h0M365.6 278.4h0M395.8 315.3h0M447.2 296.5h0M415.2 304.9h0M364.5 282.6h0M405.3 257.9h0M391.6 275.6h0M374.3 268.6h0M397.5 304.7h0M443.6 278.5h0M437.3 308.6h0M371.9 269.5h0M446.1 264.9h0M422.0 298.8h0M439.3 313.4h0M440.3 264.6h0M431.3 322.6h0M425.8 327.3h0M369.9 289.7h0M454.7 277.3h0M395.1 276.7h0M397.9 287.1h0M410.4 273.8h0M409.9 325.1h0M395.4 273.2h0M449.8 308.3h0M437.9 324.1h0M456.2 277.4h0M362.1 310.5h0M425.3 283.8h0M448.7 315.5h0M416.7 301.0h0M402.1 268.2h0M390.2 309.7h0M409.4 294.0h0M424.7 325.7h0M373.4 261.3h0M435.7 270.8h0M416.5 292.9h0M426.2 303.0h0M400.2 300.3h0M451.5 318.3h0M405.7 310.0h0M389.8 324.7h0M362.3 297.5h0M435.4 323.8h0M413.9 293.3h0M420.2 312.0h0M397.7 302.8h0M386.4 260.2h0M369.4 267.8h0M400.9 264.3h0M436.8 306.5h0M398.8 267.9h0M401.8 320.8h0M442.1 306.9h0M398.9 317.9h0M410.7 280.2h0M448.2 305.4h0M367.4 259.4h0M407.4 313.4h0M403.9 294.7h0M375.1 300.3h0M401.2 281.8h0M382.3 299.3h0M441.4 294.8h0M420.1 296.7h0M430.0 307.4h0M363.0 327.9h0M409.1 258.0h0M431.3 312.2h0M397.1 300.0h0M365.8 310.5h0M426.5 315.7h0M407.4 324.4h0M401.7 254.6h0M370.5 278.9h0M383.5 271.8h0M370.7 303.7h0M447.1 325.1h0M395.9 292.3h0M412.4 300.1h0M431.8 287.2h0M363.9 278.3h0M363.1 306.3h0M454.8 297.9h0M428.2 297.6h0M455.2 267.0h0M416.7 279.6h0M405.9 270.8h0M436.9 279.6h0M387.7 319.5h0M363.7 268.4h0M450.9 305.1h0M381.3 264.3h0M426.5 317.7h0M457.6 326.1h0M434.0 260.6h0M437.5 287.6h0M412.9 256.0h0M363.3 293.7h0M423.8 274.9h0M454.6 259.4h0M445.8 325.3h0M370.5 317.4h0M420.9 287.4h0M403.9 296.0h0M450.8 312.0h0M407.3 289.2h0M378.8 295.9h0M444.4 302.6h0M419.3 288.7h0M456.3 319.2h0M411.6 304.7h0M439.2 273.8h0M422.3 276.0h0M435.2 277.5h0M454.2 307.0h0M412.6 297.6h0M417.9 274.6h0M364.3 288.7h0M390.2 290.1h0M382.2 270.0h0M455.8 283.0h0M433.7 264.9h0M370.4 306.9h0M403.8 315.3h0M364.0 292.0h0M419.2 271.1h0M430.6 269.2h0M372.4 266.1h0M366.4 285.0h0M437.1 267.5h0M389.2 279.8h0M383.2 320.6h0M441.9 263.3h0M425.2 323.4h0M363.2 284.9h0M364.6 278.4h0M373.8 289.1h0M381.6 310.2h0M398.6 260.5h0M415.0 289.3h0M432.9 311.0h0M385.7 283.5h0M431.0 328.1h0M414.9 300.8h0M394.0 287.4h0M392.4 292.0h0M389.4 278.8h0M364.7 260.9h0M445.0 280.6h0M454.3 272.9h0M396.9 322.4h0M404.6 305.9h0M436.3 283.8h0M381.3 254.9h0M444.7 298.0h0M436.9 329.1h0M445.5 299.4h0M372.6 298.2h0M408.4 261.9h0M363.8 280.6h0M397.7 321.0h0M457.2 324.5h0M392.8 319.3h0M398.5 282.0h0M417.4 257.4h0M426.6 258.9h0M418.4 311.2h0M367.8 303.6h0M410.8 280.8h0M436.9 278.3h0M380.4 285.7h0M397.0 316.8h0M381.8 284.5h0M436.7 289.5h0M394.4 265.4h0M395.7 294.7h0M436.7 330.3h0M413.1 292.2h0M434.7 289.7h0M386.4 307.4h0M441.7 271.1h0M444.4 258.8h0M380.2 283.0h0M448.7 290.9h0M395.1 272.8h0M406.8 296.9h0M419.3 322.3h0M373.8 308.8h0M454.2 300.5h0M430.0 315.7h0M446.9 278.5h0M405.4 318.4h0M377.3 288.4h0M454.5 284.6h0M403.5 286.6h0M408.0 312.8h0M372.5 289.3h0M402.9 327.5h0M443.9 276.6h0M392.5 329.8h0M363.2 307.5h0M363.6 276.5h0M423.9 305.8h0M423.0 271.3h0M400.5 319.4h0M388.6 295.2h0M415.5 319.6h0M439.1 314.5h0M394.3 310.4h0M447.6 259.9h0M431.5 289.5h0M398.9 303.2h0M439.5 323.2h0M438.4 325.3h0M444.6 293.2h0M428.3 323.9h0M418.5 259.6h0M400.3 306.3h0M364.0 262.7h0M442.8 306.4h0M363.7 313.8h0M420.5 283.3h0M423.9 261.3h0M375.4 306.6h0M427.3 301.3h0M403.8 269.2h0M374.4 325.6h0M389.8 286.0h0M410.9 254.4h0M392.8 269.3h0M372.0 325.1h0M378.7 276.6h0M387.9 314.2h0M445.1 302.8h0M422.5 300.0h0M364.8 304.9h0M453.4 321.4h0M449.4 263.9h0M430.4 329.9h0M385.4 276.3h0M455.7 272.7h0M376.7 306.0h0M393.0 301.7h0M386.3 271.7h0M418.4 287.4h0M426.0 296.6h0M385.2 269.9h0M369.6 260.1h0M430.1 279.4h0M362.3 256.5h0M444.0 302.0h0M382.5 314.4h0M447.6 258.4h0M379.6 305.7h0M436.3 274.5h0M408.1 279.7h0M398.7 318.0h0M417.3 302.5h0M448.9 324.1h0M426.2 256.8h0M397.4 328.2h0M407.5 256.6h0M426.3 296.5h0M431.6 296.6h0M389.1 282.8h0M374.7 286.1h0M410.7 264.3h0M366.9 302.5h0M423.1 313.2h0M406.6 260.8h0M411.9 276.8h0M448.8 270.7h0M439.5 303.3h0M390.3 299.7h0M368.4 274.9h0M429.7 257.3h0M415.5 323.2h0M454.3 313.0h0M441.2 278.3h0M396.4 274.1h0M368.1 260.6h0M367.3 270.9h0M393.8 283.0h0M408.2 317.9h0M397.0 289.9h0M439.0 288.4h0M431.3 328.2h0M447.9 275.4h0M442.5 324.8h0M384.4 265.3h0M431.8 304.8h0M381.7 329.1h0M406.6 329.0h0M409.9 309.2h0M375.1 316.0h0M404.4 271.0h0M402.8 304.5h0M447.0 312.3h0M449.8 312.2h0M397.8 267.4h0M449.0 287.4h0M453.7 305.6h0M437.7 298.9h0M381.2 291.3h0M425.6 262.6h0M397.6 315.1h0M382.7 255.2h0M383.3 287.4h0M389.0 294.1h0M387.9 287.2h0M450.0 317.6h0M434.7 287.8h0M415.0 315.3h0M381.8 281.4h0M375.1 288.9h0M391.7 305.5h0M396.8 303.9h0M417.2 299.2h0M403.2 286.1h0M374.0 303.5h0M392.9 275.9h0M448.0 286.1h0M372.3 301.7h0M400.3 283.6h0M419.9 292.6h0M447.9 277.0h0M439.9 318.6h0M386.6 255.4h0M376.9 294.7h0M445.1 289.8h0M384.9 299.1h0M437.7 324.8h0M415.2 268.9h0M415.2 292.4h0M382.2 261.8h0M445.8 275.7h0M445.5 297.5h0M362.2 323.1h0M456.0 268.1h0M428.4 257.4h0M447.7 264.9h0M421.1 311.3h0M418.4 321.6h0M379.1 328.4h0M424.4 262.7h0M365.7 270.3h0M373.4 283.5h0M373.8 276.7h0M443.8 307.7h0M389.1 263.3h0M370.7 278.0h0M368.2 264.9h0M457.1 279.1h0M441.6 258.5h0M376.9 258.1h0M413.1 320.9h0M443.6 282.1h0M438.3 284.0h0M412.0 276.0h0M393.7 303.1h0M399.1 269.3h0M394.3 257.2h0M398.1 324.3h0M415.6 274.7h0M407.3 294.8h0M375.9 295.7h0M388.0 262.5h0" stroke="#c6def4" stroke-width="1.20" stroke-linecap="round" stroke-opacity="0.7"/>
<path d="M383.7 280.2h0M430.7 257.9h0M408.3 298.4h0M443.2 265.0h0M436.8 280.0h0M374.1 305.5h0M430.3 330.0h0M386.6 307.9h0M452.1 294.7h0M428.4 263.6h0M389.8 284.4h0M379.9 263.2h0M397.2 303.2h0M410.4 293.8h0M411.4 311.4h0M432.6 279.4h0M372.1 264.7h0M396.2 286.2h0M428.9 261.8h0M382.5 310.9h0M443.5 274.4h0M415.2 296.3h0M386.5 292.1h0M367.4 325.8h0M385.4 323.3h0M447.4 285.5h0M378.0 276.2h0M450.9 258.5h0M387.3 274.5h0M396.3 329.2h0M404.1 324.2h0M424.5 254.8h0M396.2 279.6h0M380.0 272.1h0M383.0 321.8h0M415.8 288.2h0M390.2 302.1h0M395.5 256.1h0M377.6 315.9h0M427.9 307.2h0M403.4 301.4h0M364.1 302.5h0M442.1 301.4h0M412.1 307.1h0M437.0 285.6h0M372.8 302.7h0M423.9 325.9h0M364.5 298.2h0M449.0 257.6h0M427.1 303.4h0M441.1 295.5h0M427.2 314.3h0M382.7 255.2h0M430.1 266.7h0M373.3 262.6h0M447.6 321.6h0M407.5 309.9h0M389.7 263.1h0M420.8 275.2h0M366.9 309.4h0M362.3 304.5h0M379.8 276.0h0M396.6 310.9h0M423.5 260.3h0M392.3 295.4h0M453.8 287.5h0M439.7 316.7h0M434.5 273.1h0M375.8 314.6h0M383.3 291.8h0M402.3 300.7h0M452.6 271.1h0M368.9 313.2h0M383.7 297.0h0M387.7 320.0h0M422.6 316.5h0M396.0 269.5h0M426.1 268.4h0M368.2 329.6h0M443.2 261.4h0M401.7 260.4h0M367.9 299.7h0M438.1 327.4h0M448.5 284.2h0M365.1 304.8h0M408.7 263.7h0M384.8 266.7h0M451.3 278.7h0M455.6 297.7h0M431.0 313.4h0M383.6 318.8h0M451.0 261.2h0M392.1 274.3h0M419.7 314.0h0M445.4 290.8h0M457.0 303.4h0M431.3 288.1h0M421.4 299.0h0M438.7 293.4h0M393.4 275.4h0M396.1 274.9h0M415.2 329.5h0M457.1 274.3h0M401.3 297.6h0M394.6 259.6h0M382.1 320.4h0M405.4 258.0h0M419.1 272.7h0M447.8 310.0h0M364.5 278.2h0M370.8 276.7h0M438.7 317.6h0M446.9 289.9h0M417.0 297.9h0M387.8 327.0h0M378.5 325.6h0M382.1 313.7h0M408.3 257.9h0M437.5 297.5h0M372.4 330.5h0M444.3 302.2h0M370.3 321.3h0M366.0 327.1h0M436.1 314.6h0M449.5 303.6h0M398.3 287.1h0M400.4 293.4h0M427.6 303.0h0M408.7 312.2h0M364.2 323.3h0M385.8 277.6h0M431.9 291.8h0M396.1 261.2h0M430.4 290.1h0M391.9 285.1h0M417.0 328.2h0M422.4 278.8h0M373.9 275.9h0M379.5 268.9h0M433.7 283.3h0M392.6 266.6h0M432.4 322.5h0M429.0 273.9h0M405.6 263.0h0M389.5 263.9h0M409.6 305.7h0M412.1 311.9h0M444.1 313.8h0M402.8 302.9h0M419.9 307.2h0M435.8 318.1h0M406.0 314.6h0M405.3 318.8h0M404.7 319.2h0M374.5 326.5h0M367.3 329.7h0M433.8 261.6h0M390.4 274.8h0M403.5 271.8h0M378.3 294.0h0M431.6 280.4h0M367.9 258.0h0M363.4 328.7h0M428.9 272.1h0M447.7 255.2h0M452.9 256.1h0M381.0 259.5h0M435.9 270.9h0M400.0 282.9h0M418.0 316.5h0M418.4 264.4h0M368.0 306.1h0M404.5 292.3h0M373.0 273.1h0M449.6 327.7h0M393.9 286.4h0M447.6 314.7h0M393.2 308.2h0M389.9 264.3h0M449.3 282.8h0M454.2 320.8h0M413.8 324.1h0M401.9 292.5h0M377.1 254.9h0M402.9 264.7h0M397.7 291.3h0M395.4 311.9h0M437.4 290.8h0M413.6 329.4h0M409.9 288.9h0M431.0 256.9h0M387.7 269.4h0M410.9 255.9h0M435.6 312.6h0M406.3 324.0h0M408.4 283.1h0M371.7 285.2h0M395.9 308.9h0M441.4 262.4h0M411.6 294.7h0M399.6 288.5h0M454.6 284.3h0M401.1 297.1h0M448.1 301.1h0M456.0 281.8h0M437.3 317.1h0M449.8 330.1h0M413.2 275.1h0M413.1 303.7h0M371.7 308.0h0M432.0 274.3h0M390.9 307.3h0M362.5 323.5h0M432.2 293.6h0M414.6 278.8h0M439.8 272.4h0M427.9 254.6h0M365.5 324.6h0M362.5 260.4h0M434.0 295.0h0M375.3 320.3h0M372.4 288.6h0M425.7 316.0h0M427.6 292.4h0M373.8 272.5h0M415.3 293.0h0M390.4 329.2h0M434.5 324.9h0M383.2 326.1h0M453.1 294.7h0M451.7 328.3h0M451.0 272.4h0M382.0 258.1h0M447.2 264.8h0M410.5 255.5h0M436.5 320.5h0M449.6 274.4h0M380.5 307.7h0M413.1 263.5h0M420.8 283.9h0M430.1 309.4h0M397.5 269.0h0M365.6 324.7h0M362.3 301.1h0M426.8 326.0h0M424.7 329.4h0M454.7 302.9h0M409.8 260.3h0M394.6 259.5h0M415.5 283.3h0M450.0 321.5h0M413.5 264.8h0M412.5 314.6h0M445.4 273.4h0M363.9 308.4h0M390.9 257.7h0M389.3 290.4h0M379.5 311.1h0M426.9 294.9h0M401.3 282.1h0M409.2 278.2h0M430.7 274.0h0M405.0 293.1h0M404.1 261.5h0M438.8 275.2h0M388.9 315.3h0M444.0 301.7h0M443.5 258.2h0M369.9 323.6h0M430.5 275.6h0M454.9 311.9h0M443.9 283.6h0M439.2 258.4h0M400.2 327.7h0M456.9 262.8h0M387.7 276.1h0M444.7 291.1h0M455.6 316.1h0M376.2 287.7h0M380.4 267.3h0M388.4 297.4h0M456.4 316.8h0M396.3 284.6h0M401.9 275.2h0M428.8 284.9h0M400.5 274.7h0M383.7 328.3h0M364.2 329.1h0M428.3 299.9h0M427.8 309.8h0M385.2 258.9h0M455.0 298.3h0M435.6 322.0h0M384.5 258.4h0M446.2 306.9h0M406.6 261.9h0M437.7 255.6h0M437.3 326.0h0M397.6 279.1h0M439.1 261.5h0M385.6 319.3h0M389.4 302.8h0M418.7 307.0h0M383.0 278.0h0M397.9 326.6h0M375.5 306.0h0M436.9 328.7h0M375.4 263.3h0M416.6 315.6h0M423.3 308.2h0M404.5 321.2h0M409.9 303.3h0M365.7 303.0h0M373.3 268.0h0M451.9 272.6h0M448.3 322.6h0M375.8 302.2h0M365.3 260.7h0M427.0 254.7h0M426.3 323.4h0M385.0 326.9h0M424.6 256.3h0M387.5 275.2h0M383.0 288.0h0M374.2 303.1h0M433.1 284.4h0M370.3 302.1h0M394.5 275.9h0M432.1 308.2h0M370.3 310.7h0M449.7 301.4h0M391.4 273.2h0M399.5 288.6h0M415.5 323.9h0M373.1 298.3h0M422.2 298.8h0M426.1 324.0h0M406.1 255.0h0M412.8 287.0h0M369.3 317.0h0M401.2 254.4h0M419.2 294.1h0M389.7 304.7h0M393.2 323.6h0M384.0 286.9h0M411.3 284.5h0M417.6 301.8h0M439.4 281.5h0M437.1 283.2h0M403.7 256.7h0M402.2 309.9h0M440.1 293.4h0M449.6 299.7h0M408.4 290.2h0M423.9 279.5h0M382.4 315.5h0M376.0 317.6h0M426.2 322.1h0M432.8 273.9h0M422.6 295.7h0M426.1 309.0h0M406.4 294.4h0M388.9 275.9h0M365.8 286.6h0M433.0 317.6h0M425.3 279.9h0M367.7 316.6h0M452.6 304.1h0M440.9 256.5h0M443.5 300.0h0M398.7 308.7h0M364.7 325.9h0M364.5 315.1h0M369.2 327.9h0M452.8 291.9h0M435.0 285.5h0M382.1 307.5h0M408.0 305.4h0M408.5 324.7h0M399.7 272.5h0M438.4 308.0h0M412.3 257.2h0M384.1 270.7h0M454.4 326.0h0M381.8 283.7h0M388.1 264.2h0M446.1 271.1h0M434.9 289.9h0M409.4 318.5h0M402.1 267.9h0M394.2 322.3h0M379.2 269.4h0M383.1 262.9h0M430.1 266.1h0M396.9 273.7h0M397.6 273.5h0M455.2 278.1h0M453.2 286.6h0M437.4 307.8h0M362.9 271.5h0M369.8 323.2h0M410.9 318.0h0M387.1 319.0h0M370.5 292.6h0M428.1 312.4h0M398.0 278.0h0M433.5 326.8h0M393.2 255.7h0M381.0 296.4h0M395.2 284.8h0M378.4 273.9h0M420.1 288.3h0M384.6 255.2h0M402.1 298.9h0M387.8 308.9h0M424.7 264.4h0M401.6 280.3h0M418.1 328.5h0M393.7 257.2h0M414.5 323.7h0M370.1 255.7h0M400.9 320.7h0M427.9 279.6h0M449.6 284.8h0M365.5 280.9h0M368.0 258.0h0M393.4 287.4h0M403.0 326.9h0M411.1 310.1h0M363.6 322.9h0M391.4 308.6h0M373.7 296.2h0M377.0 317.6h0M401.3 327.6h0M441.0 272.9h0M387.4 312.7h0M392.0 272.7h0M364.5 318.8h0M427.3 273.5h0M456.9 270.5h0M386.9 282.3h0M378.6 255.4h0M384.1 321.5h0M380.0 289.2h0M439.5 258.7h0M415.0 314.7h0M371.5 318.3h0M424.7 282.2h0M450.4 302.0h0M448.4 317.7h0M388.8 265.9h0M366.0 263.8h0M370.4 312.9h0M381.7 303.9h0M363.8 265.4h0M371.3 267.1h0M408.3 291.3h0M382.1 326.2h0M441.6 264.6h0M422.1 282.7h0M430.0 269.9h0M390.0 267.0h0M417.2 286.0h0M399.9 318.8h0M447.9 261.7h0M370.6 299.2h0M393.0 265.6h0M421.4 311.6h0M393.9 314.2h0M375.2 319.7h0M420.0 297.6h0M430.5 297.5h0M397.1 270.8h0M418.7 300.4h0M440.6 276.9h0M408.6 268.4h0M412.2 309.1h0M388.0 267.7h0M440.5 279.1h0M395.0 299.5h0M441.0 318.5h0M423.7 320.3h0M370.4 277.6h0M437.9 281.8h0M391.1 329.6h0M396.1 276.5h0M366.8 290.2h0M379.8 328.9h0M446.9 291.4h0M407.2 272.1h0M451.3 254.5h0M363.4 262.4h0M385.7 271.2h0M442.6 270.5h0M426.7 302.5h0M431.4 255.2h0M450.0 290.3h0M370.7 312.4h0M425.8 280.8h0M432.1 288.2h0M412.5 289.0h0M437.5 317.0h0M396.1 323.6h0M440.9 307.4h0M429.0 287.3h0M417.9 314.2h0M432.7 287.8h0M364.1 295.6h0M392.6 279.5h0M396.0 289.4h0M411.3 315.6h0M433.0 284.3h0M447.1 275.3h0M423.0 307.8h0M402.0 309.0h0M450.1 308.9h0M403.0 262.9h0M430.0 300.2h0M413.2 257.4h0M365.1 263.0h0M368.1 329.9h0M403.1 322.1h0M401.5 318.4h0M365.3 268.7h0M432.8 297.0h0M390.4 260.8h0M445.2 296.6h0M414.1 294.3h0M441.4 265.6h0M389.3 279.9h0M411.5 268.9h0M391.9 260.9h0M434.2 254.8h0M372.5 263.7h0M443.5 265.4h0M398.2 298.6h0M427.9 288.2h0M407.4 262.0h0M367.5 329.4h0M411.5 311.3h0M375.2 302.6h0M435.2 295.7h0M452.1 329.1h0M376.4 273.2h0M404.5 264.9h0M410.8 274.4h0M372.5 267.6h0M365.5 275.3h0M401.5 301.6h0M368.0 318.8h0M437.9 309.6h0M404.9 262.0h0M378.8 278.9h0M423.2 330.4h0M383.0 319.8h0M449.0 315.1h0M389.5 305.7h0M436.2 316.3h0M439.3 329.5h0M436.9 287.2h0M387.0 262.9h0M397.9 315.7h0M373.8 324.8h0M438.3 264.0h0M439.5 303.3h0M385.8 290.9h0M417.4 281.6h0M408.9 259.8h0M394.3 312.3h0M428.1 325.0h0M403.8 296.7h0M394.2 324.1h0M434.4 302.5h0M388.8 305.9h0M445.9 290.4h0M368.1 280.9h0M394.0 255.7h0M375.3 277.7h0M428.3 329.5h0M454.8 295.3h0M449.2 299.2h0M385.3 300.9h0M400.8 324.3h0M392.9 255.9h0M372.1 303.2h0M417.5 290.1h0M441.3 310.5h0M430.6 276.0h0M424.8 309.6h0M369.5 257.1h0M405.3 304.0h0M385.4 275.6h0M386.0 298.7h0M449.0 258.1h0M405.0 277.6h0M407.2 259.1h0M434.3 307.4h0M416.6 257.9h0M371.5 275.9h0M367.7 273.6h0M420.4 325.6h0M368.6 265.5h0M403.5 310.9h0M375.9 287.1h0M372.0 329.4h0M405.9 292.4h0M377.0 271.7h0M414.7 268.6h0M378.7 256.5h0" stroke="#a0acd0" stroke-width="1.20" stroke-linecap="round" stroke-opacity="0.6"/>
<path d="M376.0 298.4h0M398.2 275.6h0M397.6 260.4h0M388.6 312.5h0M413.7 316.4h0M380.8 328.5h0M454.7 265.4h0M392.8 321.6h0M383.2 297.0h0M429.5 259.5h0M408.9 321.7h0M419.6 322.1h0M441.6 290.7h0M372.4 315.1h0M449.6 310.9h0M437.5 309.6h0M400.9 275.3h0M376.7 298.9h0M433.6 321.6h0M422.1 313.2h0M397.0 267.3h0M405.4 284.8h0M391.4 300.6h0M411.3 268.6h0M449.1 310.9h0M423.4 258.0h0M419.2 328.5h0M372.7 328.4h0M372.7 292.5h0M378.5 321.8h0M399.3 321.7h0M404.5 260.3h0M414.6 264.5h0M395.0 278.0h0M375.1 279.1h0M437.9 280.1h0M454.8 327.2h0M365.0 305.4h0M434.2 270.7h0M382.0 270.7h0M437.6 261.8h0M418.9 302.4h0M363.8 306.1h0M429.4 287.2h0M401.6 307.6h0M397.4 289.2h0M457.3 315.2h0M406.6 293.2h0M362.6 283.2h0M379.9 267.1h0M404.5 320.5h0M448.3 272.5h0M373.9 255.7h0M408.4 319.2h0M453.8 313.7h0M456.2 306.9h0M400.9 274.5h0M412.9 326.8h0M392.6 267.5h0M455.6 304.0h0M432.5 299.0h0M452.3 254.6h0M406.0 321.7h0M416.2 284.4h0M445.4 275.7h0M439.7 311.2h0M436.3 314.2h0M373.4 273.7h0M394.0 327.2h0M444.6 305.5h0M367.2 283.7h0M388.8 304.9h0M446.8 277.5h0M411.1 275.1h0M364.1 298.7h0M368.2 327.8h0M394.0 308.3h0M420.6 309.1h0M401.5 256.1h0M386.4 297.8h0M424.7 275.2h0M433.0 298.2h0M429.3 323.2h0M406.2 327.6h0M365.9 277.1h0M368.9 305.1h0M367.3 287.5h0M364.0 319.2h0M420.5 311.8h0M402.6 266.9h0M386.0 303.2h0M440.4 297.3h0M394.9 284.6h0M438.5 324.2h0M424.4 261.1h0M397.0 293.4h0M393.4 287.7h0M394.6 257.8h0M395.6 323.8h0M370.2 312.2h0M380.5 304.2h0M372.6 288.3h0M396.2 301.4h0M371.1 304.3h0M427.3 272.9h0M366.1 325.1h0M407.3 279.1h0M436.2 269.7h0M454.5 309.6h0M366.1 254.4h0M401.6 262.6h0M405.3 317.4h0M404.7 297.4h0M362.0 284.7h0M444.3 303.8h0M371.7 280.2h0M395.1 262.2h0M419.1 319.3h0M439.1 325.4h0M365.0 309.0h0M417.7 277.2h0M364.5 256.3h0M381.6 294.0h0M391.9 262.1h0M438.4 305.9h0M386.6 254.4h0M420.5 306.2h0M436.6 315.2h0M400.1 324.9h0M376.1 303.6h0M377.8 322.8h0M376.4 323.5h0M437.0 264.1h0M427.6 313.4h0M432.0 298.9h0M365.1 318.8h0M386.4 269.1h0M430.1 281.7h0M372.6 263.8h0M450.0 266.0h0M381.9 309.3h0M423.9 259.3h0M423.2 291.9h0M402.8 303.2h0M382.0 272.2h0M415.5 292.7h0M423.4 260.4h0M380.0 315.9h0M421.8 290.9h0M448.4 289.8h0M387.4 285.2h0M377.9 289.8h0M436.1 263.3h0M393.9 286.8h0M388.5 270.0h0M423.6 271.3h0M369.4 326.4h0M430.4 322.9h0M366.6 276.6h0M415.6 313.1h0M365.7 315.8h0M415.8 329.1h0M409.6 255.5h0M396.5 312.6h0M403.2 294.7h0M415.2 293.6h0M371.1 269.2h0M444.2 302.0h0M397.9 262.6h0M441.3 261.3h0M379.5 304.4h0M392.8 275.0h0M390.2 276.4h0M455.6 316.2h0M457.6 286.4h0M368.0 287.7h0M399.5 297.6h0M421.1 319.7h0M406.6 258.6h0M419.8 319.4h0M376.2 294.9h0M432.9 266.3h0" stroke="#c99aa6" stroke-width="1.20" stroke-linecap="round" stroke-opacity="0.6"/>
</g></g>
<rect x="362.00" y="254.20" width="95.80" height="76.30" fill="none" stroke="#2a2a2a" stroke-width="0.9"/>
<clipPath id="c22"><rect x="460.50" y="254.20" width="96.10" height="76.30"/></clipPath>
<g clip-path="url(#c22)"><g fill="none" filter="url(#blr)">
<rect x="460.50" y="254.20" width="96.10" height="76.30" fill="#b0c4e0"/>
<path d="M552.6 264.9h0M462.8 330.4h0M478.2 263.4h0M523.1 280.6h0M546.0 271.9h0M552.7 278.6h0M518.3 325.3h0M526.4 324.7h0M528.5 257.9h0M545.2 299.2h0M490.4 268.7h0M542.2 298.7h0M550.6 313.3h0M552.9 297.4h0M527.6 300.9h0M485.3 327.2h0M490.5 313.8h0M552.2 303.9h0M474.2 317.2h0M524.6 268.3h0M465.2 294.8h0M463.6 324.8h0M509.2 293.7h0M499.8 304.6h0M548.6 277.6h0M496.4 298.7h0M489.1 299.6h0M512.7 287.3h0M525.2 294.5h0M469.0 330.2h0M494.7 287.1h0M499.2 325.1h0M552.0 293.3h0M499.0 261.6h0M546.6 267.3h0M513.0 280.8h0M492.0 281.5h0M478.9 257.0h0M512.0 314.9h0M522.7 269.6h0M527.2 258.2h0M500.0 317.4h0M549.0 289.3h0M541.9 292.2h0M510.9 298.8h0M555.8 310.9h0M506.0 309.7h0M522.3 281.2h0M535.9 316.8h0M519.0 326.1h0M462.2 292.4h0M521.5 280.2h0M477.0 307.0h0M502.2 274.7h0M464.5 328.0h0M494.4 263.2h0M481.3 273.7h0M543.7 268.0h0M487.1 261.6h0M505.7 270.0h0M493.6 310.3h0M549.4 317.8h0M464.2 283.0h0M542.1 256.7h0M480.0 291.6h0M497.3 311.4h0M529.5 289.6h0M484.4 271.8h0M486.1 259.2h0M524.5 266.2h0M546.0 303.5h0M466.0 292.3h0M518.5 257.4h0M507.3 256.5h0M534.1 254.5h0M521.2 329.4h0M541.8 272.0h0M511.9 264.9h0M493.4 320.1h0M539.1 254.9h0M497.0 303.0h0M477.4 315.4h0M546.3 296.3h0M495.3 318.9h0M509.8 268.6h0M487.2 266.3h0M541.1 293.1h0M527.4 316.6h0M554.1 268.7h0M499.5 320.9h0M533.7 283.7h0M523.5 269.1h0M476.0 258.1h0M497.0 272.2h0M510.2 328.2h0M475.2 296.8h0M543.6 299.9h0M511.2 312.8h0M462.6 326.6h0M526.5 315.7h0M539.8 261.7h0M466.9 267.8h0M509.0 325.8h0M547.9 285.6h0M520.3 310.6h0M492.4 328.2h0M551.0 309.7h0M547.1 315.3h0M523.2 278.7h0M487.5 272.4h0M466.0 324.8h0M489.2 256.0h0M490.9 262.1h0M503.3 279.5h0M477.4 290.6h0M500.4 281.2h0M538.7 277.6h0M512.5 321.2h0M552.7 282.8h0M464.4 326.7h0M509.9 270.8h0M472.8 272.4h0M490.3 264.8h0M465.2 330.1h0M539.3 262.8h0M506.7 315.3h0M509.0 259.5h0M493.1 283.2h0M548.4 298.7h0M504.6 302.3h0M465.2 306.6h0M538.1 305.4h0M495.2 276.0h0M461.5 260.5h0M475.4 288.8h0M535.3 270.8h0M505.9 302.7h0M521.0 255.8h0M549.0 298.9h0M489.6 272.5h0M526.7 325.4h0M492.9 284.6h0M514.0 267.5h0M499.5 324.2h0M514.0 317.0h0M485.7 320.5h0M535.7 271.4h0M511.4 306.2h0M515.6 300.1h0M483.6 296.5h0M494.6 315.1h0M496.3 328.9h0M516.3 271.6h0M500.5 264.0h0M531.3 257.7h0M518.6 277.7h0M535.2 263.9h0M525.9 308.7h0M482.9 264.1h0M496.3 303.7h0M485.6 254.9h0M502.9 315.9h0M475.7 326.0h0M509.3 266.4h0M470.1 282.5h0M506.3 267.6h0M468.6 292.4h0M484.9 288.1h0M503.8 307.4h0M516.0 271.6h0M477.8 319.7h0M465.4 263.6h0M467.2 317.2h0M512.5 324.7h0M520.7 279.8h0M501.9 310.1h0M482.7 315.5h0M499.7 257.4h0M493.5 297.0h0M474.6 323.3h0M549.5 293.2h0M547.4 306.8h0M512.2 266.3h0M552.1 324.4h0M503.9 283.6h0M467.6 301.4h0M542.7 283.9h0M488.3 301.0h0M536.7 267.1h0M487.6 303.2h0M464.5 316.5h0M490.8 317.7h0M504.2 266.8h0M462.4 262.8h0M485.5 312.0h0M536.8 302.4h0M490.0 304.9h0M530.9 282.2h0M468.3 290.0h0M481.8 268.6h0M498.0 259.9h0M546.8 275.6h0M546.8 310.5h0M461.5 322.8h0M538.3 294.3h0M545.5 290.7h0M462.9 265.6h0M490.3 319.7h0M540.2 263.2h0M494.1 262.7h0M482.5 281.1h0M500.3 265.6h0M523.7 272.7h0M546.0 290.9h0M501.8 312.6h0M493.6 273.8h0M472.3 276.7h0M483.0 310.3h0M494.6 308.1h0M487.0 259.5h0M489.8 284.2h0M548.0 269.4h0M480.8 266.1h0M484.8 327.5h0M550.1 271.6h0M465.3 291.3h0M516.7 262.7h0M500.7 312.8h0M460.6 309.0h0M526.3 314.2h0M507.3 289.6h0M510.3 264.6h0M509.9 272.5h0M491.3 257.6h0M475.7 258.4h0M512.5 272.2h0M513.9 292.6h0M482.9 263.9h0M517.8 305.8h0M526.8 292.9h0M516.2 256.1h0M489.9 315.3h0M496.7 262.1h0M500.9 317.8h0M469.9 262.7h0M508.4 320.8h0M498.0 273.1h0M534.3 261.4h0M488.9 299.9h0M542.1 319.9h0M491.8 274.5h0M495.4 263.5h0M486.7 312.7h0M554.6 274.8h0M467.5 310.6h0M553.3 314.8h0M500.2 311.0h0M533.6 311.0h0M507.9 330.4h0M535.5 272.1h0M501.9 261.0h0M496.5 316.6h0M507.2 294.2h0M535.4 260.9h0M494.5 291.1h0M508.0 306.4h0M550.5 315.4h0M512.9 306.4h0M512.3 329.5h0M517.8 299.5h0M498.5 286.2h0M533.9 282.7h0M547.4 309.7h0M552.3 308.1h0M515.3 282.2h0M462.2 304.7h0M532.7 309.4h0M533.5 256.9h0M526.2 275.5h0M497.8 320.5h0M499.4 289.8h0M465.4 268.0h0M480.7 270.6h0M510.7 257.8h0M469.1 260.8h0M531.0 328.2h0M532.6 293.5h0M473.0 314.0h0M472.9 260.1h0M509.7 320.0h0M490.4 320.1h0M492.4 327.9h0M531.5 320.2h0M555.1 316.5h0M479.4 293.6h0M512.8 309.3h0M482.6 298.2h0M487.8 268.3h0M503.7 315.5h0M513.7 281.3h0M482.2 281.6h0M498.8 274.9h0M490.4 271.5h0M488.8 305.6h0M520.6 302.0h0M549.3 305.0h0M473.0 285.0h0M510.9 311.1h0M511.5 261.3h0M506.2 304.2h0M536.0 288.2h0M481.0 256.8h0M508.8 311.4h0M471.1 294.1h0M517.9 296.9h0M482.8 261.2h0M462.6 277.5h0M546.7 286.2h0M555.3 317.1h0M516.6 287.8h0M514.5 318.3h0M492.6 266.1h0M546.9 302.3h0M496.8 284.7h0M470.2 297.5h0M536.0 292.2h0M527.5 310.5h0M492.3 302.9h0M553.9 308.8h0M478.1 304.8h0M522.5 313.4h0M528.0 323.8h0M554.3 270.2h0M506.6 257.7h0M555.3 262.3h0M501.5 301.2h0M501.7 267.3h0M508.8 271.2h0M507.6 308.8h0M489.2 288.3h0M521.2 294.8h0M537.5 322.2h0M553.4 266.8h0M506.9 263.2h0M527.6 284.4h0M542.1 291.1h0M537.2 256.6h0M519.4 285.7h0M540.5 262.1h0M469.0 306.7h0M491.9 287.4h0M499.3 329.4h0M520.4 317.7h0M541.1 319.6h0M503.5 276.3h0M510.0 322.4h0M545.4 290.7h0M547.6 312.4h0M464.4 302.5h0M536.8 257.5h0M496.8 303.4h0M509.2 294.6h0M469.2 274.2h0M544.0 280.8h0M506.5 299.2h0M487.7 285.8h0M509.1 320.5h0M541.5 267.7h0M508.9 311.6h0M546.7 294.7h0M521.2 303.5h0M524.7 322.4h0M555.2 329.8h0M472.5 308.9h0M497.8 275.5h0M470.1 323.7h0M546.4 294.5h0M508.3 269.9h0M549.6 312.0h0M476.6 298.0h0M556.2 274.3h0M496.4 281.9h0M496.2 263.2h0M520.9 272.9h0M525.9 289.9h0M541.5 311.2h0M543.0 266.0h0M536.9 313.3h0M488.6 254.3h0M470.0 313.1h0M553.5 259.3h0M483.9 284.9h0M467.1 303.1h0M542.9 318.5h0M477.7 323.7h0M536.0 266.1h0M542.5 325.2h0M545.0 311.5h0M539.0 295.0h0M461.3 306.0h0M508.5 265.5h0M473.3 321.7h0M547.4 258.1h0M462.3 307.4h0M488.5 320.6h0M504.9 308.5h0M465.0 313.4h0M479.7 287.0h0M507.2 279.0h0M483.9 288.4h0M465.5 266.2h0M473.0 319.4h0M490.5 329.3h0M547.0 266.8h0M542.8 329.5h0M503.0 291.1h0M525.3 291.6h0M485.8 310.1h0M481.6 283.5h0M462.7 278.9h0M538.0 264.7h0M478.7 284.4h0M489.1 254.7h0M465.7 269.5h0M536.7 313.4h0M538.0 307.2h0M556.4 273.9h0M528.5 288.5h0M552.8 288.0h0M530.1 313.4h0M553.1 312.6h0M492.0 303.7h0M537.1 325.9h0M484.2 309.9h0M529.8 266.3h0M471.9 297.1h0M518.0 279.3h0M519.9 265.5h0M515.5 295.0h0M540.4 309.2h0M468.1 296.7h0M472.7 294.4h0M525.7 307.9h0M461.4 294.8h0M477.3 292.9h0M507.9 291.5h0M533.9 276.9h0M506.3 273.0h0M479.5 302.4h0M475.7 315.2h0M496.5 262.8h0M536.1 255.8h0M488.9 304.2h0M462.0 307.7h0M514.5 328.7h0M490.5 317.5h0M554.7 292.3h0M467.8 280.2h0M538.7 254.2h0M521.4 293.9h0M531.6 282.4h0M550.4 262.9h0M500.5 277.5h0M514.2 270.8h0M497.7 288.5h0M549.2 256.4h0M487.8 265.5h0M529.2 313.1h0M462.1 313.9h0M545.2 289.5h0M517.7 314.7h0M549.6 271.4h0M528.5 260.2h0M495.5 323.7h0M520.8 294.9h0M503.3 289.0h0M463.5 297.0h0M550.9 263.2h0M463.8 301.9h0M539.6 287.0h0M468.6 303.4h0M523.6 271.9h0M538.7 295.6h0M536.1 272.1h0M495.3 304.8h0M524.7 318.9h0M551.1 309.2h0M461.4 289.7h0M524.5 313.7h0M490.7 258.8h0M516.3 268.9h0M510.1 271.7h0M544.9 256.5h0M514.1 321.2h0M522.3 265.3h0M513.1 317.2h0M521.2 323.3h0M538.8 283.4h0M472.4 306.9h0M506.7 316.6h0M503.3 309.1h0M474.3 311.9h0M543.7 316.0h0M535.0 305.4h0M476.9 279.3h0M487.5 276.5h0M516.7 281.9h0M523.8 322.2h0M556.0 254.5h0M519.1 298.4h0M502.0 310.3h0M545.1 272.9h0M521.6 266.3h0M502.8 281.2h0M539.3 323.7h0M544.1 294.0h0M528.7 303.8h0M512.5 264.6h0M486.4 327.2h0M517.7 263.0h0M494.7 264.4h0M472.5 283.2h0M488.5 255.6h0M508.1 325.1h0M505.0 284.7h0M497.2 274.5h0M491.9 269.0h0M501.7 324.0h0M495.6 321.3h0M508.5 302.8h0M506.8 284.1h0M545.6 299.3h0M478.8 277.6h0M498.3 297.4h0M496.7 274.5h0M489.7 330.0h0M531.6 320.1h0M546.5 265.0h0M512.0 309.4h0M507.3 294.6h0M521.3 302.5h0M477.4 258.3h0M486.7 256.9h0M490.2 257.2h0M470.6 304.3h0M479.3 308.7h0M500.8 318.0h0M514.1 320.7h0M501.3 286.1h0M549.7 306.5h0M501.7 320.7h0M530.5 303.4h0M463.1 322.0h0M470.8 255.5h0M493.1 269.0h0M483.7 291.2h0M508.9 306.1h0M543.7 307.2h0M543.7 287.1h0M474.7 308.4h0M556.1 267.1h0M519.5 283.7h0M555.0 256.7h0M506.4 281.6h0M496.0 310.9h0M460.6 275.2h0M553.4 289.3h0M461.8 301.4h0M523.6 325.0h0M545.5 326.6h0M485.9 278.5h0M527.5 280.6h0M496.6 257.2h0M479.6 264.4h0M496.3 307.7h0M479.1 276.1h0M468.4 285.3h0M517.0 300.0h0M522.6 295.1h0M527.4 315.3h0M541.2 254.3h0M549.9 290.8h0M555.9 312.4h0M504.9 257.7h0M469.8 313.4h0M461.1 258.0h0M527.6 300.5h0M525.5 259.4h0M552.6 311.4h0M461.6 297.7h0M491.9 272.0h0M519.5 329.2h0M463.5 315.6h0M550.1 260.8h0M546.7 255.3h0M491.4 256.0h0M477.6 267.3h0M514.5 287.4h0M553.5 311.8h0M467.7 259.6h0M487.3 316.4h0M537.6 318.2h0M543.7 310.0h0M514.2 318.4h0M539.6 316.6h0M545.0 294.8h0M468.8 301.9h0M527.8 326.6h0M532.3 322.5h0M548.2 279.2h0M549.5 297.6h0M502.2 288.1h0M508.2 285.8h0M529.9 273.8h0M502.4 303.8h0M553.8 309.9h0M513.8 282.8h0M523.9 324.7h0M462.2 283.7h0M487.8 313.4h0M524.6 254.4h0M546.7 285.3h0M473.8 261.7h0M467.4 273.1h0M468.4 308.0h0M473.7 287.2h0M523.7 287.9h0M488.5 288.8h0M504.7 298.4h0M517.2 278.3h0M525.9 319.4h0M553.4 301.4h0M488.8 254.2h0M501.8 329.7h0M555.6 308.3h0M479.1 269.7h0M475.4 287.2h0M552.0 270.1h0M539.0 296.1h0M486.2 288.8h0M465.7 302.6h0M547.4 278.9h0M553.7 276.2h0M494.5 307.2h0M481.1 257.0h0M508.5 291.6h0M476.1 267.5h0M471.4 268.7h0M474.9 303.8h0M546.1 299.8h0M482.5 296.3h0M552.3 281.6h0M530.6 254.6h0M534.1 319.8h0M512.7 322.5h0M517.8 313.9h0M507.6 283.4h0M486.6 297.0h0M534.6 256.9h0M525.0 256.8h0M522.4 308.8h0M548.6 304.0h0M523.1 306.3h0M525.2 307.1h0M526.0 318.9h0M494.8 326.9h0M479.0 257.6h0M465.4 296.1h0M542.8 263.6h0M545.6 292.3h0M524.3 266.8h0M555.9 289.6h0M483.6 301.7h0M464.9 303.8h0M541.1 263.7h0M484.8 275.1h0M479.3 301.5h0M538.8 289.1h0M527.3 323.4h0M539.1 283.2h0M546.5 268.5h0M539.6 260.7h0M491.2 262.1h0M514.7 262.7h0M518.9 266.9h0M525.1 292.0h0M490.5 264.9h0M533.3 268.9h0M492.4 324.3h0M545.1 309.3h0M521.8 318.5h0M540.8 317.6h0M532.8 285.9h0M533.3 284.3h0M514.6 256.1h0M475.6 305.6h0M468.7 261.8h0M544.5 322.6h0M554.0 314.4h0M489.4 300.4h0M510.1 260.5h0M475.8 301.0h0M501.2 298.1h0M549.1 259.7h0M475.7 328.8h0M471.7 282.3h0M513.7 274.5h0M497.4 266.8h0M538.3 271.4h0M529.9 289.2h0M509.0 260.3h0M545.7 255.3h0M543.8 255.6h0M497.2 288.1h0M519.2 274.5h0M556.3 280.5h0M481.6 310.3h0M523.7 300.5h0M552.1 321.6h0M489.9 322.6h0M546.2 258.5h0M509.7 320.4h0M499.2 279.8h0M507.2 318.6h0M461.6 304.4h0M528.5 327.2h0M522.6 274.6h0M523.0 309.9h0M472.9 313.8h0M518.2 299.3h0M522.9 301.3h0M474.8 265.5h0M460.8 278.4h0M481.5 299.6h0M469.8 264.1h0M510.3 314.2h0M507.0 258.6h0M549.7 296.9h0M548.4 311.5h0M547.4 316.8h0M532.4 320.3h0M525.2 328.5h0M548.7 266.9h0M506.5 326.3h0M525.6 301.4h0M500.6 260.6h0M501.3 254.8h0M476.5 289.2h0M503.2 302.5h0M517.3 312.4h0M515.1 314.8h0M464.1 289.5h0M550.8 311.0h0M540.5 328.2h0M475.9 291.7h0M545.5 278.7h0M510.2 268.5h0M467.5 323.6h0M531.3 313.6h0M546.5 296.7h0M541.4 313.6h0M504.4 289.9h0M480.1 287.8h0M541.5 256.7h0M551.5 269.7h0M509.0 276.9h0M463.9 301.5h0M477.9 285.2h0M540.6 288.6h0M493.6 264.6h0M462.2 316.0h0M507.1 277.4h0M533.4 294.5h0M482.5 327.6h0M499.9 279.5h0M554.8 286.1h0M505.4 317.7h0M522.8 273.3h0M465.2 259.1h0M474.4 310.9h0M496.5 294.8h0M488.0 257.3h0M555.2 304.9h0M526.7 302.3h0M465.3 317.0h0M544.2 271.9h0M543.0 327.8h0M477.0 323.7h0M464.8 311.4h0M554.3 265.0h0M503.4 255.7h0M511.8 258.3h0M507.8 268.6h0M478.8 305.2h0M483.4 265.9h0M488.1 283.0h0M525.3 298.5h0M516.2 307.2h0M486.6 306.1h0M466.6 261.4h0M514.9 303.8h0M487.1 329.2h0M471.5 316.1h0M512.8 299.6h0M501.5 258.9h0M502.7 306.2h0M531.8 316.7h0M489.5 293.3h0M472.0 287.2h0M500.9 314.7h0M469.5 258.0h0M520.5 314.6h0M467.5 306.5h0M474.9 319.4h0" stroke="#c8b0c0" stroke-width="1.20" stroke-linecap="round" stroke-opacity="0.55"/>
<path d="M521.7 269.8h0M496.8 318.0h0M551.8 256.9h0M502.0 263.0h0M553.2 326.6h0M500.8 319.0h0M484.8 318.5h0M478.0 277.7h0M511.3 310.9h0M505.9 262.4h0M463.7 266.3h0M487.7 303.9h0M478.5 323.7h0M522.8 277.9h0M515.6 318.7h0M485.2 305.0h0M522.0 317.2h0M524.1 258.9h0M543.5 270.5h0M519.2 263.3h0M536.2 317.2h0M538.0 307.6h0M548.2 294.9h0M542.6 275.6h0M473.6 271.9h0M499.0 313.6h0M534.7 277.3h0M534.7 322.7h0M498.3 306.8h0M488.6 284.2h0M480.3 278.6h0M468.2 283.9h0M537.0 268.3h0M481.0 323.2h0M494.0 273.0h0M476.6 256.9h0M544.7 309.6h0M553.2 321.5h0M520.5 326.5h0M484.6 309.6h0M538.5 265.8h0M549.1 328.5h0M481.4 266.9h0M470.8 268.7h0M493.3 315.2h0M481.8 271.6h0M525.9 315.8h0M460.9 314.4h0M525.7 278.0h0M505.5 258.6h0M502.7 254.4h0M532.5 293.7h0M477.2 270.4h0M516.7 276.3h0M533.7 299.0h0M534.4 263.2h0M480.2 326.1h0M529.8 286.7h0M556.5 258.6h0M518.7 264.1h0M490.2 270.0h0M498.1 258.3h0M477.7 306.0h0M476.8 291.7h0M554.1 313.7h0M470.0 310.3h0M516.4 295.4h0M537.2 327.3h0M495.3 317.0h0M480.0 296.4h0M545.5 314.1h0M493.8 321.9h0M516.4 322.2h0M537.6 288.4h0M494.4 264.3h0M545.7 263.9h0M468.4 277.4h0M473.6 272.0h0M527.4 278.9h0M542.7 283.6h0M543.9 317.2h0M485.7 297.4h0M525.6 267.4h0M464.0 320.7h0M461.9 268.7h0M473.1 318.2h0M523.0 293.1h0M508.5 327.7h0M480.6 317.4h0M488.6 274.3h0M526.8 285.8h0M516.2 307.1h0M465.7 283.9h0M499.3 317.0h0M535.5 287.6h0M498.5 313.6h0M531.2 257.6h0M538.4 320.0h0M487.8 305.4h0M506.5 274.1h0M466.6 295.5h0M530.7 285.6h0M522.2 268.0h0M540.3 310.5h0M508.1 262.3h0M460.7 285.1h0M484.3 257.2h0M490.9 325.2h0M510.3 306.3h0M501.8 277.4h0M476.3 297.3h0M526.9 294.0h0M505.1 299.2h0M480.0 325.5h0M543.5 266.6h0M543.1 308.1h0M463.8 313.2h0M538.7 277.0h0M479.5 291.1h0M464.2 265.5h0M528.1 283.1h0M498.8 323.7h0M537.2 276.7h0M465.4 257.2h0M524.3 296.4h0M555.5 295.3h0M519.4 315.0h0M509.6 292.2h0M495.0 291.9h0M528.2 291.4h0M532.4 282.9h0M520.2 286.0h0M514.5 313.0h0M471.1 256.7h0M481.5 271.9h0M474.5 297.3h0M504.1 288.7h0M534.4 263.2h0M549.2 314.0h0M485.0 311.7h0M542.8 254.3h0M493.8 308.5h0M492.6 267.3h0M488.0 276.2h0M529.8 292.6h0M493.9 329.1h0M493.4 296.0h0M547.3 329.3h0M501.1 283.5h0M519.6 294.5h0M512.8 296.2h0M479.0 266.9h0M514.2 271.8h0M505.0 257.1h0M494.9 266.5h0M507.5 323.2h0M476.9 270.2h0M492.7 276.2h0M469.3 260.5h0M525.6 319.3h0M461.4 312.4h0M537.1 310.9h0M533.0 261.5h0M488.9 319.1h0M510.2 313.6h0M485.0 319.0h0M546.5 267.0h0M531.0 330.4h0M465.3 272.2h0M547.6 307.6h0M494.9 267.1h0M547.1 257.6h0M556.2 257.0h0M492.4 292.2h0M516.9 316.7h0M500.3 325.6h0M491.6 281.4h0M555.8 278.9h0M508.1 259.4h0M537.4 293.9h0M543.2 305.6h0M500.4 258.0h0M494.1 291.3h0M497.2 288.6h0M483.4 271.2h0M548.9 314.8h0M496.0 317.1h0M468.3 303.2h0M487.2 276.3h0M508.6 298.1h0M488.9 273.3h0M498.1 317.1h0M548.9 322.0h0M530.7 327.9h0M464.5 321.3h0M495.6 256.8h0M480.5 319.9h0M524.3 260.7h0M490.9 324.7h0M556.1 327.6h0M546.3 325.0h0M545.2 289.8h0M485.0 295.9h0M464.4 296.1h0M487.3 270.2h0M501.8 305.2h0M507.0 262.8h0M554.5 271.0h0M516.2 318.0h0M525.9 287.8h0M545.7 261.4h0M511.9 263.8h0M508.9 276.9h0M540.5 288.8h0M478.2 267.5h0M472.7 292.1h0M543.3 324.0h0M532.8 260.4h0M521.5 273.4h0M472.7 262.5h0M534.8 259.2h0M543.8 279.1h0M496.4 323.2h0M477.6 286.7h0M542.5 302.6h0M483.4 261.8h0M539.1 301.5h0M551.6 268.0h0M487.7 307.6h0M490.9 328.9h0M489.7 263.3h0M507.8 260.9h0M497.4 325.6h0M523.5 287.0h0M524.4 317.2h0M465.9 327.3h0M547.2 285.7h0M480.1 308.5h0M513.3 262.9h0M518.4 293.0h0M517.8 256.1h0M512.9 288.4h0M543.4 308.9h0M529.4 297.7h0M482.8 317.6h0M485.5 327.3h0M511.4 285.6h0M498.5 290.2h0M509.0 266.1h0M500.2 257.4h0M514.5 263.0h0M482.1 256.0h0M509.4 256.7h0M506.6 304.6h0M472.4 280.0h0M489.3 288.2h0M490.5 282.5h0M543.3 255.7h0M549.1 323.3h0M521.8 312.2h0M530.8 286.4h0M476.4 262.8h0M518.5 306.0h0M529.0 329.3h0M488.7 300.0h0M486.9 320.6h0M466.7 300.4h0M544.1 272.2h0M554.2 285.9h0M556.2 277.4h0M547.5 281.6h0M539.6 323.8h0M515.8 311.1h0M532.8 323.4h0M538.7 302.3h0M529.7 298.8h0M485.0 255.7h0M549.4 263.2h0M501.1 268.4h0M482.6 267.5h0M512.7 263.7h0M543.3 300.5h0M472.9 269.6h0M531.7 327.7h0M499.7 255.8h0M484.8 297.6h0M495.9 309.8h0M465.8 329.3h0M468.6 303.5h0M509.0 320.7h0M501.7 281.8h0M494.3 324.3h0M526.3 281.0h0M500.7 282.7h0M470.2 327.3h0M542.9 327.1h0M510.1 258.3h0M469.4 270.9h0M506.3 277.8h0M553.1 322.3h0M503.1 278.4h0M495.5 287.4h0M501.9 261.7h0M540.9 308.6h0M556.5 276.7h0M502.3 314.0h0M500.7 322.1h0M531.9 276.3h0M529.6 288.0h0M550.3 271.0h0M483.8 278.3h0M468.0 263.5h0M542.3 295.6h0M536.8 312.4h0M521.8 284.4h0M544.5 278.2h0M546.4 259.5h0M519.3 328.0h0M511.4 281.8h0M506.4 287.2h0M476.2 286.7h0M479.9 291.4h0M512.5 297.5h0M528.0 255.4h0M468.0 282.4h0M467.9 312.2h0M529.2 270.1h0M512.8 275.6h0M493.7 303.6h0M507.4 260.9h0M465.9 298.6h0M541.9 301.6h0M511.7 294.6h0M508.9 311.8h0M513.0 286.0h0M485.6 283.5h0M506.3 294.8h0M465.7 284.4h0M550.0 286.5h0M533.8 302.9h0M553.5 296.8h0M470.1 297.4h0M552.3 328.2h0M523.3 282.3h0M522.7 261.1h0M536.7 314.3h0M491.0 313.6h0M547.7 321.6h0M541.6 307.2h0M508.4 295.2h0M504.3 277.3h0M505.7 260.8h0M504.5 306.9h0M488.2 321.2h0M546.3 325.7h0M515.9 320.3h0M470.8 266.6h0M471.2 282.2h0M462.0 281.2h0M545.7 293.5h0M469.8 295.6h0M519.3 306.5h0M475.3 274.3h0M497.8 294.2h0M539.9 291.2h0M526.0 295.4h0M497.6 261.8h0M550.6 321.7h0M529.8 299.0h0M538.5 270.6h0M465.9 293.1h0M493.7 265.9h0M488.3 328.4h0M533.4 258.3h0M486.0 313.7h0M524.7 273.4h0M514.9 322.4h0M461.5 325.9h0M489.0 270.3h0M506.2 290.4h0M473.4 273.0h0M528.3 275.5h0M467.6 288.5h0M510.5 319.3h0M523.5 304.0h0M545.5 301.0h0M515.8 300.9h0M501.1 312.4h0M504.0 326.6h0M517.7 324.2h0M474.1 309.7h0M480.9 293.7h0M496.5 256.5h0M537.9 299.0h0M490.4 299.4h0M544.3 262.7h0M488.3 317.9h0M556.1 320.2h0M491.0 274.9h0M476.4 262.2h0M477.6 291.3h0M526.0 254.5h0M481.4 315.1h0M535.1 275.2h0M553.7 269.9h0M479.4 283.8h0M507.1 327.8h0M482.6 320.2h0M518.5 323.4h0M542.4 325.2h0M521.1 303.3h0M506.7 281.8h0M524.6 264.7h0M480.7 328.2h0M501.3 288.6h0M519.8 279.5h0M483.3 309.3h0M497.3 321.9h0M511.2 280.8h0M496.5 303.5h0M469.4 323.6h0M476.5 306.5h0M462.2 298.8h0M478.4 308.8h0M502.7 327.5h0M482.5 326.3h0M533.9 286.8h0M536.7 287.5h0M496.0 310.8h0M538.7 285.7h0M528.5 265.2h0M542.9 326.3h0M553.6 284.7h0M530.0 307.0h0M476.5 261.4h0M523.6 328.9h0M527.4 298.9h0M551.7 269.2h0M553.0 262.3h0M539.1 273.0h0M533.0 284.8h0M550.9 295.0h0M534.2 265.2h0M544.4 275.8h0M534.1 272.8h0M467.8 265.0h0M506.2 254.7h0M483.8 257.9h0M481.4 291.6h0M476.7 305.2h0M486.6 283.7h0M506.9 300.1h0M504.6 259.1h0M524.6 292.9h0M476.7 298.9h0M460.9 300.8h0M489.2 304.5h0M469.3 301.4h0M501.0 254.3h0M510.6 262.5h0M542.9 277.3h0M478.6 285.3h0M522.1 294.6h0M528.7 303.5h0M555.8 301.8h0M493.0 325.7h0M504.8 276.0h0M461.1 308.5h0M518.2 264.4h0M551.6 265.7h0M517.3 298.9h0M502.0 283.2h0M521.5 294.7h0M493.4 280.6h0M508.6 286.6h0M492.3 321.4h0M523.9 330.1h0M478.6 313.9h0M519.3 279.0h0M509.6 314.9h0M512.4 272.4h0M488.1 315.3h0M469.8 263.9h0M526.0 302.1h0M543.0 287.8h0M492.2 328.4h0M489.1 308.0h0M469.0 285.9h0M505.9 293.5h0M464.2 318.5h0M553.0 310.2h0M538.7 324.1h0M553.9 318.8h0M501.4 261.7h0M496.6 258.5h0M509.1 324.3h0M545.6 271.4h0M523.4 275.0h0M537.1 268.6h0M470.8 296.9h0M553.2 287.7h0M508.8 319.0h0M517.3 309.5h0M514.0 282.6h0M504.2 293.9h0M473.9 273.9h0M474.9 304.7h0M504.1 299.7h0M497.9 310.2h0M535.6 260.2h0M465.3 317.8h0M481.7 329.7h0M492.4 275.6h0M464.8 298.1h0M517.3 258.2h0M530.9 258.0h0M506.2 323.8h0M463.9 320.9h0M533.9 278.2h0M519.9 266.5h0M526.8 328.8h0M492.8 255.8h0M462.4 282.1h0M523.5 330.2h0M547.6 317.1h0M519.9 310.3h0M521.3 264.2h0M537.7 283.5h0M475.6 328.1h0M538.4 261.9h0M511.2 256.8h0M538.8 279.5h0M503.5 306.9h0M530.4 257.8h0M518.2 282.5h0M491.2 320.2h0M526.5 310.2h0M485.4 283.5h0M510.2 292.9h0M506.5 319.3h0M479.4 263.6h0M509.9 298.1h0M541.5 276.3h0M555.8 267.9h0M503.1 278.8h0M476.6 272.7h0M497.2 270.6h0M480.4 310.5h0M489.4 323.7h0M493.6 256.8h0M477.2 319.8h0M515.0 324.9h0M501.8 280.0h0M500.2 289.0h0M532.3 327.3h0M528.7 315.4h0M492.1 289.5h0M461.0 322.3h0M547.7 308.8h0M493.2 280.6h0M516.5 280.3h0M506.4 269.3h0M538.7 324.6h0M527.9 322.6h0M550.0 292.1h0M463.9 307.0h0M502.6 281.3h0M485.8 297.7h0M543.4 278.6h0M516.1 288.4h0M540.5 293.0h0M553.0 259.4h0M552.5 279.1h0M535.4 287.3h0M487.8 321.7h0M518.9 266.5h0M519.7 294.1h0M554.6 293.4h0M518.5 305.8h0M461.6 288.8h0M551.4 294.5h0M485.1 273.1h0M491.9 289.9h0M488.0 293.9h0M476.2 261.2h0M466.9 285.2h0M477.4 275.3h0M479.7 283.4h0M526.2 255.5h0M489.3 319.4h0M464.8 326.8h0M471.1 279.5h0M550.2 313.0h0M484.9 288.1h0M493.3 298.3h0M464.1 312.1h0M502.6 319.7h0M472.3 267.2h0M539.9 305.7h0M497.5 304.8h0M465.4 273.1h0M476.1 328.1h0M547.3 323.7h0M520.8 330.4h0M488.8 277.4h0M545.4 317.1h0M536.4 307.6h0M524.7 256.0h0M489.9 281.3h0M542.3 276.2h0M520.3 305.4h0" stroke="#c6def4" stroke-width="1.20" stroke-linecap="round" stroke-opacity="0.7"/>
<path d="M502.4 283.7h0M490.8 286.9h0M509.4 268.5h0M539.6 273.6h0M499.1 256.9h0M489.4 305.3h0M518.1 317.3h0M523.4 279.3h0M554.5 315.5h0M531.0 323.4h0M536.3 288.8h0M554.9 289.7h0M500.0 268.6h0M478.8 291.6h0M532.0 284.4h0M532.2 271.1h0M461.8 330.3h0M478.0 297.6h0M497.0 274.7h0M469.5 303.4h0M509.7 279.2h0M522.1 323.6h0M491.9 304.4h0M532.1 262.6h0M530.9 310.0h0M537.6 256.6h0M551.4 296.4h0M505.7 293.9h0M540.5 271.0h0M473.0 257.8h0M494.6 254.6h0M521.9 271.9h0M522.8 275.5h0M482.7 280.6h0M468.4 291.1h0M477.3 292.5h0M475.3 268.4h0M516.6 314.4h0M517.9 262.9h0M506.2 310.0h0M525.2 319.2h0M531.2 325.3h0M480.3 288.6h0M510.8 255.7h0M464.4 269.1h0M490.0 315.3h0M482.3 300.2h0M506.7 318.4h0M471.6 265.7h0M473.3 275.8h0M491.4 277.0h0M497.2 263.2h0M464.8 267.5h0M537.3 300.7h0M523.0 317.2h0M524.4 264.1h0M510.3 288.9h0M536.1 316.8h0M531.5 294.0h0M509.9 278.1h0M504.6 257.4h0M512.7 278.9h0M547.7 326.2h0M470.3 300.4h0M490.9 308.7h0M549.5 325.8h0M486.7 278.2h0M512.6 310.6h0M466.7 288.0h0M513.2 314.5h0M541.8 303.4h0M521.3 287.5h0M531.9 288.4h0M497.8 307.0h0M539.0 325.3h0M520.0 301.3h0M468.4 325.9h0M465.5 315.3h0M464.2 297.6h0M497.7 315.0h0M465.2 295.3h0M518.7 280.4h0M493.2 320.5h0M546.1 309.8h0M525.4 292.3h0M524.8 316.6h0M467.3 255.9h0M550.7 291.0h0M488.0 269.4h0M479.1 291.3h0M463.7 269.8h0M553.0 321.0h0M546.9 274.0h0M489.6 320.6h0M537.1 276.3h0M539.5 266.6h0M556.0 305.9h0M495.2 318.8h0M524.6 313.3h0M527.7 257.7h0M543.2 329.4h0M471.1 325.7h0M552.1 324.8h0M539.5 310.4h0M473.9 325.3h0M505.3 315.2h0M488.8 320.8h0M461.1 292.4h0M544.1 303.0h0M513.4 318.9h0M536.6 281.2h0M519.4 309.2h0M536.6 263.5h0M501.9 327.0h0M464.0 297.7h0M518.6 290.1h0M479.7 281.2h0M507.2 329.5h0M529.3 258.9h0M514.5 294.9h0M551.8 327.1h0M542.4 321.0h0M530.0 318.9h0M547.6 316.8h0M486.9 299.7h0M465.1 291.4h0M506.2 316.0h0M495.3 266.4h0M483.8 324.9h0M531.6 302.0h0M471.3 306.6h0M491.4 310.2h0M540.0 317.1h0M507.1 255.7h0M546.4 271.1h0M519.8 262.2h0M525.3 273.8h0M482.2 292.4h0M505.0 314.2h0M552.0 284.9h0M483.7 322.1h0M553.8 272.5h0M488.1 287.0h0M512.7 313.7h0M505.0 309.0h0M513.7 290.0h0M512.4 324.8h0M474.5 254.4h0M491.2 313.3h0M519.3 271.0h0M523.3 323.5h0M547.5 278.8h0M549.5 267.6h0M462.8 328.3h0M516.3 314.3h0M493.1 260.3h0M470.6 272.6h0M540.4 281.5h0M464.5 272.3h0M544.6 271.9h0M544.5 299.1h0M551.3 271.2h0M503.9 322.7h0M553.6 266.6h0M472.1 324.7h0M538.8 271.8h0M530.8 285.2h0M513.9 298.2h0M550.9 295.3h0M479.5 270.1h0M492.7 259.3h0M462.1 267.1h0M480.1 302.4h0M473.1 295.9h0M548.1 259.7h0M468.1 305.3h0M553.2 271.9h0M512.7 300.9h0M466.3 263.0h0M538.8 287.0h0M541.2 292.3h0M476.8 275.8h0M464.0 260.7h0M498.0 328.9h0M520.9 290.9h0M555.5 293.7h0M487.7 300.5h0M550.1 282.6h0M501.1 314.0h0M512.6 311.0h0M511.3 265.2h0M529.8 299.3h0M528.1 274.7h0M484.1 269.3h0M511.4 264.5h0M495.7 317.7h0M552.1 256.9h0M530.4 289.0h0M537.7 297.4h0M516.7 325.8h0M482.3 256.1h0M495.4 315.1h0M471.9 300.5h0M508.2 319.0h0M485.0 275.8h0M486.2 283.9h0M532.6 312.2h0M555.6 307.1h0M522.0 305.2h0M477.7 291.4h0M477.1 316.5h0M528.7 294.0h0M531.7 320.3h0M470.3 324.3h0M544.1 325.5h0M468.8 272.6h0M474.5 254.4h0M498.1 269.6h0M517.1 290.3h0M513.2 306.2h0M482.4 303.4h0M500.7 263.7h0M522.4 316.8h0M481.7 285.6h0M505.3 280.0h0M464.1 269.2h0M549.6 262.2h0M465.3 311.1h0M508.1 292.3h0M493.4 262.7h0M486.4 260.9h0M549.1 255.0h0M471.0 279.7h0M553.0 324.6h0M497.3 289.1h0M475.8 279.4h0M468.0 315.6h0M532.6 284.2h0M502.4 270.6h0M547.0 276.0h0M479.6 281.4h0M538.8 323.1h0M521.8 268.9h0M539.1 325.2h0M504.0 308.4h0M509.2 288.3h0M531.9 272.3h0M529.4 278.8h0M503.3 282.0h0M539.6 260.6h0M476.8 311.8h0M480.2 308.9h0M505.7 297.9h0M483.4 254.3h0M553.6 324.8h0M470.2 303.7h0M504.6 325.9h0M495.0 308.2h0M509.7 271.4h0M516.4 285.2h0M525.9 324.0h0M541.8 256.3h0M500.6 255.0h0M531.6 259.8h0M528.5 304.9h0M484.7 317.8h0M554.0 313.5h0M554.8 309.6h0M516.8 323.0h0M522.3 278.9h0M497.5 265.7h0M532.5 268.5h0M556.4 286.6h0M523.2 311.2h0M537.9 280.0h0M473.1 316.3h0M481.6 296.8h0M471.4 271.6h0M497.7 324.7h0M506.6 294.9h0M553.9 294.3h0M461.7 323.9h0M544.1 268.6h0M545.4 313.3h0M513.6 319.3h0M483.0 260.5h0M551.6 305.5h0M480.2 296.0h0M485.1 303.4h0M517.7 255.9h0M513.2 304.8h0M552.0 298.1h0M544.3 255.2h0M478.0 264.9h0M491.0 309.7h0M483.7 270.2h0M464.9 303.0h0M537.9 263.4h0M503.0 312.2h0M500.5 287.9h0M533.6 261.0h0M539.8 264.2h0M534.7 330.1h0M510.9 307.8h0M530.7 326.8h0M517.5 280.1h0M463.6 262.1h0M511.5 325.2h0M475.0 285.5h0M474.7 309.6h0M514.0 292.5h0M552.8 320.4h0M531.5 268.8h0M555.5 288.7h0M496.0 270.6h0M554.0 316.1h0M477.9 255.5h0M492.5 295.7h0M487.7 286.3h0M526.2 263.6h0M482.2 291.7h0M512.7 315.9h0M521.7 315.5h0M519.1 263.3h0M517.5 295.5h0M549.0 279.9h0M499.1 298.8h0M479.3 288.3h0M519.6 320.4h0M495.1 310.1h0M553.4 275.8h0M471.8 273.3h0M468.7 285.4h0M525.2 278.2h0M553.5 309.6h0M477.3 281.9h0M511.5 290.5h0M501.5 260.6h0M509.7 272.5h0M536.7 301.6h0M526.9 319.9h0M539.3 287.5h0M499.5 265.9h0M495.9 275.2h0M516.5 282.1h0M474.5 311.2h0M536.8 259.3h0M480.7 291.7h0M489.0 286.7h0M539.3 276.2h0M518.6 272.2h0M547.1 255.8h0M482.9 267.9h0M534.7 314.9h0M529.0 280.1h0M484.5 279.0h0M524.0 323.3h0M483.4 321.2h0M528.3 274.0h0M531.4 271.0h0M532.0 287.7h0M481.3 308.6h0M471.0 263.2h0M547.9 321.3h0M528.9 306.4h0M474.2 283.8h0M545.6 312.4h0M516.0 315.8h0M497.7 320.1h0M476.3 322.8h0M531.7 288.0h0M510.6 264.8h0M491.6 311.9h0M477.1 297.6h0M515.1 257.1h0M517.9 280.0h0M502.8 327.0h0M530.5 266.1h0M485.9 310.0h0M466.0 265.1h0M502.7 288.1h0M540.7 312.5h0M489.5 257.0h0M471.0 260.6h0M463.0 278.9h0M484.2 262.5h0M502.6 285.7h0M538.4 310.8h0M461.4 272.5h0M461.2 273.4h0M528.8 256.2h0M540.7 294.7h0M530.0 299.0h0M519.9 318.1h0M534.3 323.0h0M465.1 277.7h0M532.5 313.6h0M540.9 292.7h0M510.8 297.4h0M525.8 326.9h0M546.1 278.6h0M532.7 282.6h0M513.2 298.5h0M533.8 291.5h0M537.0 327.5h0M555.6 257.7h0M514.0 291.1h0M511.1 307.7h0M513.3 270.7h0M476.5 322.0h0M551.7 297.0h0M479.0 263.6h0M490.4 262.8h0M478.5 295.6h0M470.8 296.1h0M532.3 302.1h0M480.5 325.4h0M478.5 271.4h0M487.0 327.0h0M507.8 286.1h0M508.8 259.5h0M466.5 303.1h0M503.5 270.6h0M550.9 321.0h0M553.8 307.8h0M486.3 286.5h0M473.1 290.8h0M475.4 313.5h0M537.7 262.9h0M497.5 300.8h0M472.2 296.6h0M532.1 272.1h0M539.0 267.6h0M507.4 311.1h0M506.3 311.2h0M488.7 306.6h0M516.7 293.1h0M461.0 308.5h0M500.7 292.1h0M481.0 308.2h0M498.7 267.0h0M512.3 310.1h0M538.3 328.3h0M550.7 264.2h0M531.3 299.8h0M530.9 284.4h0M484.0 277.0h0M516.9 311.4h0M548.4 298.8h0M494.8 260.8h0M466.5 263.2h0M556.4 305.8h0M523.7 283.8h0M495.1 328.3h0M541.6 275.0h0M462.3 328.2h0M484.9 274.7h0M465.5 273.9h0M487.5 324.4h0M540.8 321.7h0M515.1 272.4h0M487.8 326.3h0M470.7 308.6h0M508.8 280.2h0M482.4 322.3h0M510.3 316.4h0M538.3 273.8h0M488.1 278.1h0M520.6 326.5h0M545.0 295.2h0M496.5 310.8h0M513.5 279.0h0M476.6 312.7h0M551.4 318.4h0M462.9 312.4h0M477.8 297.6h0M555.2 302.2h0M482.3 308.5h0M513.0 268.4h0M528.8 261.6h0M530.4 273.2h0M484.6 295.0h0M500.7 303.8h0M499.5 255.4h0M466.2 314.1h0M539.5 317.4h0M551.1 274.6h0M468.8 270.4h0M482.8 308.4h0M523.7 291.5h0M475.8 268.7h0M482.8 302.2h0M555.3 329.7h0M527.1 266.2h0M519.7 322.8h0M464.0 302.6h0M548.0 256.5h0M525.5 271.8h0M489.1 298.6h0M482.3 329.4h0M506.9 254.5h0M543.8 313.3h0M549.0 258.9h0M490.3 272.0h0M473.3 265.8h0M505.9 280.1h0M495.1 281.5h0M546.3 301.9h0M488.2 300.3h0M542.4 260.8h0M540.9 254.9h0M466.3 279.3h0M470.3 259.0h0M552.9 309.3h0M462.2 269.6h0M497.5 270.5h0M541.8 296.4h0M492.2 328.0h0M471.2 306.9h0M474.5 287.7h0M481.5 311.6h0M489.0 283.9h0M476.7 303.7h0M540.0 270.3h0M542.6 312.6h0M532.9 309.5h0M540.2 296.2h0M546.9 299.0h0M553.0 259.2h0M505.1 301.5h0M508.0 275.5h0M520.8 256.0h0M482.5 323.4h0M487.1 296.5h0M499.8 260.9h0M472.5 275.0h0M469.3 322.2h0M468.4 278.8h0M474.8 271.3h0M485.8 310.1h0M483.2 280.9h0M476.5 322.3h0M482.5 282.2h0M537.9 267.2h0M549.7 314.8h0M479.9 266.7h0M546.2 305.0h0M476.9 325.3h0M491.7 279.4h0M465.7 275.7h0M465.7 303.3h0M525.9 269.8h0M522.5 283.0h0M538.8 314.4h0M472.3 277.1h0M510.5 280.3h0M509.6 306.8h0M556.2 301.5h0M520.2 277.7h0M485.5 284.5h0M555.6 306.7h0M461.6 289.6h0M484.5 323.9h0M489.7 255.0h0M510.5 324.4h0M473.9 307.0h0M480.3 255.0h0M490.6 295.2h0M530.5 263.1h0M553.6 264.9h0M506.2 324.0h0M470.2 259.2h0M519.5 323.9h0M490.0 270.1h0M556.5 289.7h0M540.9 260.7h0M477.7 313.9h0M517.0 288.1h0M516.0 317.6h0M507.7 278.0h0M502.0 258.6h0M533.1 325.4h0M525.9 301.1h0M531.7 327.0h0M516.1 298.5h0M502.7 271.4h0M514.8 296.9h0M468.5 280.8h0M475.4 284.3h0M460.7 330.4h0M538.4 282.5h0M467.5 263.5h0M550.2 284.0h0M482.6 329.5h0M526.0 327.0h0M515.0 290.7h0M484.0 274.5h0M556.0 316.2h0M550.7 275.6h0M505.1 298.1h0M462.0 323.4h0M507.5 313.1h0M540.7 309.3h0M522.9 289.9h0M495.0 324.9h0M467.7 317.1h0M462.4 311.7h0M468.7 322.7h0M513.1 327.8h0M550.1 258.6h0M480.4 278.8h0" stroke="#a0acd0" stroke-width="1.20" stroke-linecap="round" stroke-opacity="0.6"/>
<path d="M489.7 258.1h0M513.3 270.4h0M468.5 327.5h0M506.5 266.4h0M499.5 254.7h0M476.0 255.5h0M548.6 254.5h0M544.4 329.1h0M533.0 325.5h0M519.7 326.4h0M556.1 325.7h0M498.4 287.8h0M516.0 267.8h0M480.9 270.0h0M553.9 311.9h0M483.2 268.6h0M486.5 280.4h0M529.3 271.0h0M544.2 285.3h0M482.5 289.2h0M470.2 258.0h0M551.4 262.7h0M483.9 316.3h0M546.1 276.6h0M469.4 265.0h0M507.4 271.0h0M533.2 317.9h0M477.1 306.2h0M534.5 312.6h0M535.2 322.9h0M548.5 311.8h0M537.1 255.1h0M536.1 272.1h0M477.6 313.8h0M546.5 282.0h0M554.6 282.1h0M510.8 311.8h0M506.7 269.4h0M476.2 295.3h0M532.5 259.7h0M546.8 273.6h0M510.3 263.2h0M551.1 276.7h0M513.4 329.8h0M533.4 317.5h0M517.4 278.5h0M488.2 307.9h0M507.8 289.4h0M518.2 254.2h0M510.5 317.1h0M498.3 300.0h0M523.9 271.0h0M492.1 276.1h0M507.4 296.7h0M547.9 296.1h0M474.6 311.9h0M542.5 276.1h0M543.7 265.3h0M539.9 324.6h0M465.0 308.9h0M555.2 301.4h0M472.2 302.4h0M479.9 273.4h0M495.2 304.7h0M527.2 289.9h0M551.5 262.1h0M497.4 314.6h0M465.6 279.8h0M495.2 308.3h0M519.1 256.2h0M491.3 264.0h0M537.4 264.5h0M498.4 285.2h0M536.0 297.9h0M476.5 317.9h0M470.7 268.3h0M460.5 293.3h0M526.2 257.1h0M538.2 326.1h0M532.3 291.4h0M472.5 272.2h0M555.5 275.5h0M491.1 255.7h0M520.5 284.6h0M532.5 279.3h0M478.3 257.3h0M517.5 320.7h0M482.1 287.2h0M487.1 312.9h0M503.9 326.5h0M546.2 306.5h0M507.8 319.9h0M479.8 268.2h0M474.3 312.4h0M468.4 322.9h0M468.4 297.1h0M473.3 280.2h0M462.9 325.1h0M479.7 309.4h0M470.2 275.2h0M524.1 330.2h0M540.4 283.1h0M526.8 329.6h0M504.9 263.4h0M556.0 268.4h0M532.6 316.2h0M547.3 328.6h0M534.0 304.1h0M472.9 295.2h0M547.8 261.8h0M530.3 275.4h0M491.0 302.6h0M467.8 269.8h0M477.3 320.9h0M521.1 296.7h0M496.3 296.7h0M550.6 296.6h0M477.1 266.2h0M554.2 324.3h0M489.7 283.3h0M466.9 327.6h0M463.4 329.1h0M513.2 311.1h0M476.1 318.2h0M465.6 283.5h0M496.5 268.0h0M536.5 291.6h0M482.4 263.4h0M463.4 322.8h0M505.0 278.7h0M500.3 290.3h0M525.2 322.2h0M510.4 263.1h0M494.5 264.3h0M551.5 259.1h0M554.6 279.9h0M473.4 320.8h0M547.6 303.8h0M548.6 323.4h0M544.5 285.4h0M527.7 293.7h0M544.2 259.0h0M473.1 305.9h0M517.8 299.4h0M525.2 310.2h0M530.6 287.6h0M496.3 316.3h0M543.2 312.6h0M465.6 313.1h0M527.1 315.6h0M482.7 320.5h0M471.5 323.7h0M461.3 301.7h0M506.2 286.5h0M542.4 274.2h0M474.8 261.4h0M540.7 259.7h0M549.7 330.3h0M493.5 311.5h0M516.4 266.1h0M469.5 319.3h0M497.9 278.8h0M482.0 324.4h0M464.5 301.5h0M525.6 263.8h0M508.8 267.7h0M547.6 270.6h0M531.4 262.4h0M502.4 276.4h0M540.0 270.6h0M521.7 271.5h0M461.6 298.2h0M512.3 297.2h0M494.7 273.1h0M507.6 307.3h0M493.8 290.5h0M535.7 286.5h0M478.2 278.0h0M524.5 264.6h0M539.8 326.5h0M549.0 300.9h0M537.3 312.9h0M555.1 305.1h0" stroke="#c99aa6" stroke-width="1.20" stroke-linecap="round" stroke-opacity="0.6"/>
</g></g>
<rect x="460.50" y="254.20" width="96.10" height="76.30" fill="none" stroke="#2a2a2a" stroke-width="0.9"/>
<clipPath id="c23"><rect x="362.00" y="333.20" width="95.80" height="77.10"/></clipPath>
<g clip-path="url(#c23)"><g fill="none" filter="url(#blr)">
<rect x="362.00" y="333.20" width="95.80" height="77.10" fill="#cc8680"/>
<path d="M450.6 406.3h0M447.5 339.6h0M418.7 365.9h0M412.8 343.2h0M380.4 367.5h0M383.2 368.3h0M364.4 339.8h0M430.0 365.7h0M411.1 389.8h0M396.4 337.6h0M437.0 378.6h0M425.0 381.1h0M455.0 361.2h0M434.8 361.6h0M416.8 384.1h0M392.1 339.8h0M407.4 388.6h0M418.6 367.7h0M423.5 347.2h0M379.1 358.1h0M440.2 348.3h0M373.0 340.8h0M365.7 354.4h0M416.9 396.5h0M393.7 361.7h0M389.6 356.7h0M436.5 375.5h0M386.8 341.5h0M437.1 387.7h0M441.4 351.6h0M414.3 404.0h0M418.8 406.1h0M378.0 408.4h0M367.4 365.3h0M364.2 395.6h0M427.8 408.3h0M439.1 406.4h0M413.6 409.4h0M433.8 359.9h0M455.3 362.3h0M380.5 339.1h0M406.6 348.4h0M451.4 406.5h0M382.7 341.2h0M412.7 346.3h0M414.1 395.9h0M386.2 365.7h0M448.3 367.5h0M394.8 402.0h0M440.0 402.2h0M427.9 365.0h0M428.4 397.2h0M423.3 351.6h0M390.3 364.8h0M435.9 376.2h0M414.7 396.9h0M372.4 381.9h0M393.9 376.3h0M442.0 352.3h0M453.2 339.3h0M415.8 375.0h0M384.5 376.4h0M407.1 367.9h0M430.8 333.5h0M398.1 393.8h0M375.6 400.1h0M381.5 385.7h0M378.6 367.8h0M402.5 339.5h0M429.0 370.2h0M428.0 374.8h0M415.3 373.8h0M390.5 402.5h0M370.3 400.8h0M444.7 371.6h0M436.4 385.1h0M420.0 355.7h0M392.6 360.1h0M390.9 407.2h0M394.7 363.1h0M402.2 396.2h0M407.8 375.9h0M386.5 354.6h0M370.5 350.0h0M387.3 398.9h0M410.1 341.7h0M406.3 342.5h0M416.2 367.3h0M444.2 353.2h0M443.5 352.3h0M456.1 382.1h0M366.1 395.4h0M388.4 361.1h0M376.0 397.8h0M370.7 390.1h0M399.9 385.6h0M390.1 339.2h0M449.7 383.7h0M378.3 408.5h0M449.4 347.3h0M363.8 380.3h0M375.3 389.6h0M406.9 387.9h0M416.6 392.6h0M440.7 379.7h0M418.7 358.4h0M374.8 340.3h0M444.1 349.1h0M402.9 357.6h0M421.4 374.3h0M444.3 366.8h0M396.7 383.4h0M433.4 404.6h0M391.9 401.5h0M456.0 408.9h0M374.4 362.5h0M436.1 397.3h0M365.8 363.7h0M431.4 391.7h0M413.3 349.4h0M401.0 337.7h0M392.2 366.2h0M440.8 378.6h0M401.7 352.2h0M392.2 384.9h0M404.7 346.5h0M440.7 377.6h0M454.7 374.6h0M421.7 366.2h0M420.3 404.0h0M456.0 384.2h0M403.2 338.0h0M442.5 363.4h0M398.6 337.6h0M365.3 363.3h0M455.4 390.3h0M429.9 384.7h0M388.1 346.2h0M419.7 338.1h0M418.3 372.9h0M414.0 342.6h0M368.5 369.7h0M375.9 382.7h0M391.7 381.1h0M433.9 380.0h0M412.9 348.4h0M395.3 408.6h0M387.7 355.1h0M409.3 375.3h0M437.8 356.0h0M454.2 334.9h0M437.7 377.1h0M448.3 345.0h0M428.0 406.2h0M425.9 341.9h0M450.2 408.0h0M372.6 397.0h0M369.6 339.5h0M438.2 388.7h0M453.7 381.9h0M411.0 354.2h0M416.9 409.7h0M424.0 400.7h0M380.9 389.9h0M432.1 338.7h0M440.6 346.8h0M382.8 337.9h0M425.5 344.2h0M455.5 333.2h0M439.5 391.7h0M416.5 377.3h0M438.4 382.3h0M375.4 394.6h0M395.9 378.2h0M411.1 402.9h0M401.7 399.0h0M369.8 358.3h0M426.2 380.4h0M441.7 349.2h0M439.0 394.5h0M375.7 344.0h0M417.9 408.4h0M420.8 366.2h0M410.6 395.6h0M412.0 374.6h0M418.8 405.1h0M438.7 397.9h0M387.5 379.5h0M440.9 388.6h0M453.2 403.8h0M374.2 372.4h0M396.3 349.0h0M410.0 409.0h0M435.6 340.8h0M385.7 361.7h0M446.8 368.6h0M377.3 375.6h0M385.7 336.2h0M418.8 409.6h0M436.3 390.0h0M376.6 376.5h0M423.0 391.7h0M404.8 337.3h0M450.9 353.7h0M432.7 369.0h0M436.6 359.2h0M370.9 366.2h0M408.0 394.3h0M400.7 384.6h0M398.1 389.7h0M378.7 401.1h0M452.5 335.0h0M444.2 393.2h0M428.4 341.4h0M432.2 392.7h0M422.0 407.5h0M452.7 382.1h0M450.6 344.3h0M390.6 374.1h0M412.1 406.7h0M422.9 381.1h0M421.5 406.1h0M400.4 390.2h0M419.5 364.2h0M394.5 345.0h0M363.0 359.1h0M390.8 339.5h0M408.5 360.3h0M450.7 393.4h0M425.7 398.5h0M388.3 342.2h0M420.4 350.7h0M456.4 366.0h0M446.9 352.1h0M371.0 381.5h0M428.4 352.9h0M450.8 408.2h0M427.8 408.9h0M456.2 344.6h0M432.0 390.7h0M432.1 359.4h0M414.0 378.5h0M443.4 337.2h0M397.9 357.5h0M437.8 342.2h0M367.9 342.1h0M373.1 366.8h0M444.9 360.6h0M371.7 384.9h0M393.9 377.2h0M433.6 368.3h0M432.2 381.0h0M443.6 392.0h0M448.3 390.7h0M389.0 372.1h0M436.0 393.7h0M432.0 398.2h0M441.0 374.9h0M423.4 336.6h0M407.7 389.2h0M449.5 398.6h0M404.1 350.9h0M446.8 383.9h0M380.4 336.1h0M446.1 377.7h0M372.5 409.5h0M418.3 391.7h0M439.3 352.9h0M412.0 346.5h0M420.7 366.7h0M437.7 342.1h0M381.7 363.0h0M362.2 364.5h0M454.2 399.9h0M379.2 397.3h0M383.6 351.7h0M423.1 355.9h0M381.3 339.8h0M378.9 348.0h0M449.4 336.4h0M413.7 349.6h0M431.0 333.4h0M397.6 390.1h0M364.5 364.9h0M393.2 370.5h0M422.2 339.4h0M445.0 354.0h0M436.0 343.4h0M371.0 348.1h0M370.0 352.3h0M375.4 339.9h0M443.6 373.9h0M409.6 372.4h0M439.6 336.7h0M366.3 384.6h0M362.7 372.2h0M421.9 398.7h0M362.1 364.2h0M392.0 377.9h0M365.2 391.3h0M453.7 375.5h0M425.8 397.6h0M442.8 396.4h0M408.7 340.0h0M438.1 398.2h0M429.1 357.5h0M455.4 381.2h0M391.9 393.8h0M383.5 351.8h0M448.7 337.5h0M445.3 363.8h0M416.8 386.5h0M448.5 350.2h0M370.9 372.7h0M383.5 365.9h0M372.6 340.1h0M416.4 337.2h0M387.5 363.1h0M371.1 395.3h0M448.4 335.7h0M439.3 346.8h0M431.9 337.9h0M433.4 405.1h0M386.8 345.9h0M394.6 399.5h0M436.7 345.3h0M448.4 390.2h0M453.7 408.2h0M377.2 389.3h0M364.3 348.0h0M413.4 351.2h0M382.9 360.8h0M406.0 404.0h0M417.7 376.1h0M430.9 347.7h0M439.0 392.0h0M440.0 367.9h0M413.9 339.0h0M405.9 382.8h0M453.0 402.3h0M394.5 391.5h0M444.0 407.3h0M427.2 358.6h0M445.7 334.5h0M416.4 368.5h0M446.6 381.1h0M381.2 346.0h0M365.5 391.2h0M437.0 362.0h0M383.4 376.2h0M380.7 373.8h0M394.9 357.8h0M428.2 352.4h0M393.8 376.7h0M452.2 344.8h0M391.4 354.2h0M392.2 370.8h0M440.6 347.2h0M430.9 366.5h0M416.8 372.0h0M419.8 347.0h0M421.0 364.2h0M437.1 379.1h0M401.1 409.3h0M379.2 334.3h0M373.8 386.4h0M370.8 389.9h0M370.5 356.1h0M421.6 334.8h0M403.5 410.2h0M431.7 363.2h0M449.0 377.1h0M439.7 359.7h0M398.6 387.2h0M434.9 386.6h0M376.4 365.7h0M392.5 351.0h0M373.1 390.9h0M375.6 360.5h0M363.8 387.5h0M421.9 339.2h0M453.0 409.9h0M433.9 395.3h0M429.4 334.9h0M388.2 351.5h0M364.1 382.4h0M418.6 361.1h0M433.7 351.3h0M388.9 342.1h0M384.5 398.8h0M408.9 390.0h0M445.1 384.6h0M396.6 407.8h0M369.7 365.1h0M446.8 385.8h0M395.9 397.0h0M434.6 389.0h0M387.5 385.6h0M424.8 398.0h0M411.1 404.8h0M431.0 349.4h0M417.4 348.3h0M421.2 358.3h0M457.6 359.6h0M437.7 397.6h0M397.8 378.6h0M384.3 362.1h0M404.1 388.1h0M410.7 345.6h0M424.2 373.0h0M412.3 367.6h0M445.0 383.6h0M425.4 371.9h0M400.5 366.1h0M427.0 367.0h0M368.7 350.2h0M367.1 337.0h0M396.4 362.3h0M405.7 348.7h0M384.3 367.7h0M389.8 353.3h0M409.1 392.1h0M367.8 334.2h0M404.9 402.1h0M422.5 361.3h0M455.2 385.5h0M441.1 398.1h0M365.7 348.2h0M437.8 363.4h0M448.2 338.7h0M451.9 381.0h0M401.4 397.2h0M413.3 368.6h0M379.7 393.6h0M376.0 356.3h0M370.4 334.4h0M390.5 336.6h0M407.0 359.9h0M363.7 369.0h0M389.4 351.1h0M413.8 358.8h0M367.2 405.0h0M455.1 351.5h0M425.2 378.3h0M385.8 374.7h0M387.4 354.4h0M405.4 336.7h0M384.0 409.0h0M435.8 358.8h0M457.5 358.6h0M443.5 358.1h0M447.7 368.1h0M445.5 343.8h0M399.8 359.8h0M436.9 399.9h0M375.0 364.8h0M378.5 338.3h0M374.5 338.9h0M390.9 366.4h0M448.7 383.5h0M434.9 358.7h0M392.8 365.0h0M384.3 334.7h0M388.4 404.8h0M366.9 372.1h0M384.2 392.0h0M365.7 372.5h0M431.5 368.8h0M375.7 401.7h0M363.8 404.6h0M440.4 401.4h0M444.9 361.7h0M422.0 369.4h0M418.0 362.5h0M443.9 356.9h0M415.8 338.5h0M367.6 401.4h0M396.2 362.1h0M456.4 388.9h0M376.9 375.1h0M408.3 379.8h0M388.1 354.5h0M452.5 379.2h0M414.8 386.5h0M434.1 347.0h0M437.0 370.4h0M376.4 357.6h0M456.9 398.4h0M448.5 371.8h0M423.0 363.8h0M432.4 374.5h0M396.3 408.6h0M410.0 336.3h0M440.0 340.6h0M388.8 368.1h0M382.3 367.8h0M404.1 374.1h0M424.5 386.0h0M366.8 351.5h0M373.2 358.9h0M405.8 398.9h0M363.4 395.7h0M376.9 390.3h0M443.3 409.2h0M417.1 337.5h0M389.5 366.8h0M426.6 407.9h0M446.0 338.1h0M374.3 383.4h0M381.8 378.2h0M410.8 375.2h0M395.4 403.4h0M390.1 361.0h0M377.5 355.5h0M374.7 382.5h0M364.0 351.9h0M439.4 398.9h0M394.5 389.8h0M439.6 383.3h0M421.5 391.3h0M392.6 358.7h0M386.6 351.0h0M411.2 374.8h0M380.3 339.8h0M364.4 349.6h0M377.0 381.1h0M439.8 374.4h0M423.7 365.7h0M369.1 390.8h0M435.4 344.6h0M391.7 385.8h0M429.6 345.8h0M399.1 362.9h0M414.3 396.4h0M376.0 362.2h0M450.4 346.9h0M378.9 393.8h0M421.8 369.9h0M405.9 338.0h0M423.4 353.6h0M404.3 404.8h0M409.5 363.6h0M395.8 355.2h0M421.2 388.4h0M373.0 333.5h0M399.8 346.0h0M419.4 345.6h0M410.3 369.8h0M455.2 357.9h0M387.1 359.2h0M425.2 351.7h0M385.2 388.0h0M412.7 338.7h0M443.1 343.0h0M390.4 375.3h0M405.7 392.2h0M376.2 383.7h0M379.2 342.2h0M429.0 393.0h0M372.3 335.8h0M381.2 377.5h0M365.0 406.5h0M363.7 390.4h0M439.1 362.8h0M440.1 346.7h0M436.2 377.5h0M443.6 394.4h0M437.4 399.8h0M386.4 335.6h0M378.4 390.8h0M411.6 371.3h0M407.3 335.1h0M450.7 377.1h0M418.1 371.3h0M446.8 369.6h0M413.6 394.8h0M376.2 396.9h0M421.8 358.8h0M376.2 372.9h0M390.1 333.3h0M441.0 390.9h0M448.2 392.0h0M400.9 403.7h0M385.0 353.1h0M406.9 385.5h0M371.5 337.6h0M451.2 334.3h0M433.1 369.4h0M454.0 399.4h0M406.5 375.4h0M428.8 353.4h0M363.9 409.6h0M414.1 394.9h0M413.6 339.1h0M371.8 351.3h0M454.5 396.1h0M390.0 367.6h0M454.8 372.2h0M392.3 374.0h0M378.2 377.1h0M368.9 373.3h0M372.6 336.2h0M434.3 372.1h0M377.3 363.9h0M447.0 361.0h0M388.2 370.2h0M447.8 380.7h0M407.4 381.6h0M395.8 405.3h0M388.1 350.1h0M408.7 394.9h0M436.0 384.1h0M362.2 394.8h0M449.3 342.9h0M380.8 350.0h0M374.5 344.4h0M410.1 386.8h0M406.5 374.9h0M427.8 396.8h0M455.2 387.6h0M409.6 337.5h0M390.2 348.1h0M453.9 389.3h0M374.3 359.3h0M402.4 381.6h0M455.3 358.9h0M428.9 365.0h0M448.6 371.8h0M435.4 378.2h0M430.9 391.4h0M399.4 367.6h0M421.4 388.3h0M418.8 360.9h0M408.8 372.5h0M398.5 358.0h0M368.2 338.3h0M376.9 339.9h0M397.7 407.9h0M400.4 403.5h0M428.0 405.0h0M424.4 407.0h0M439.1 339.3h0M362.2 407.3h0M394.7 383.6h0M453.3 409.3h0M412.3 358.5h0M418.6 386.9h0M371.0 395.1h0M362.4 363.1h0M442.8 401.6h0M444.6 399.9h0M405.6 366.0h0M407.8 373.1h0M382.8 361.8h0M407.9 334.6h0M416.8 338.2h0M415.6 337.8h0M379.7 368.5h0M434.8 409.4h0M435.4 396.3h0M403.7 373.1h0M414.4 407.9h0M443.3 334.2h0M428.1 388.7h0M447.3 404.9h0M400.0 365.2h0M384.6 348.0h0M446.1 390.4h0M441.5 358.1h0M435.2 334.4h0M409.7 357.3h0M390.8 409.5h0M362.3 406.8h0M426.0 409.8h0M400.9 402.6h0M414.8 377.6h0M422.1 353.4h0M420.0 346.7h0M365.1 388.8h0M364.5 404.2h0M383.7 403.5h0M391.5 388.4h0M394.4 386.8h0M379.3 350.8h0M387.6 408.9h0M448.4 363.0h0M453.8 405.3h0M375.6 380.9h0M382.3 359.8h0M391.2 350.5h0M418.2 350.0h0M393.8 344.1h0M387.6 392.9h0M389.5 407.9h0M372.6 335.3h0M385.9 372.9h0M391.7 364.1h0M433.7 384.3h0M385.1 401.0h0M396.6 377.2h0M396.5 391.6h0M417.4 371.6h0M378.5 339.1h0M387.0 398.7h0M450.7 364.5h0M369.0 348.5h0M451.6 343.1h0M401.9 338.8h0M409.5 359.8h0M456.2 409.0h0M410.2 397.6h0M426.6 368.9h0M435.8 335.8h0M378.1 396.8h0M411.6 385.9h0M420.0 398.1h0M386.1 346.8h0M389.7 400.1h0M410.3 392.1h0M436.0 359.6h0M432.6 393.9h0M410.9 373.7h0M407.1 368.3h0M382.2 377.4h0M444.1 352.8h0M402.0 362.0h0M390.4 404.6h0M431.7 339.9h0M411.5 360.1h0M397.0 341.7h0M419.7 360.9h0M426.9 342.5h0M411.6 367.4h0M423.2 338.0h0M437.5 373.7h0M386.1 346.1h0M440.0 334.2h0M418.2 356.9h0M394.9 407.7h0M375.2 347.4h0M363.1 361.4h0M369.3 336.6h0M427.5 406.0h0M378.1 379.5h0M454.3 346.8h0M376.8 372.2h0M367.0 377.9h0M441.9 401.0h0M372.9 376.1h0M410.3 368.0h0M379.6 379.9h0M376.6 385.8h0M370.5 333.3h0M443.9 359.2h0M401.2 372.8h0M407.9 334.6h0M440.4 408.6h0M391.1 355.3h0M388.6 384.1h0M412.5 376.3h0M420.6 353.2h0M411.8 374.3h0M422.0 382.5h0M456.0 343.4h0M410.9 378.9h0M377.4 361.8h0M385.5 375.1h0M429.3 353.6h0M406.3 349.1h0M401.2 409.6h0M447.0 361.1h0M394.6 347.2h0M446.5 404.6h0M366.4 367.7h0M400.3 351.6h0M425.7 397.0h0M397.3 408.9h0M420.3 351.9h0M427.5 343.5h0M401.6 377.9h0M379.7 341.4h0M398.3 399.3h0M381.5 369.6h0M420.5 347.5h0M397.9 400.0h0M437.8 376.3h0M422.0 333.7h0M384.6 360.6h0M367.5 367.9h0M420.8 384.5h0M420.3 372.6h0M442.3 351.8h0M390.5 351.5h0M390.3 400.2h0M405.8 403.5h0M408.5 363.1h0M421.0 335.9h0M407.9 360.3h0M408.3 364.6h0M425.6 383.3h0M362.1 373.5h0M401.8 361.9h0M379.8 395.6h0M379.1 353.2h0M393.3 403.6h0M407.9 345.2h0M382.4 356.9h0M440.7 333.5h0M385.2 388.9h0M370.2 378.3h0M442.4 368.7h0M428.7 376.5h0M446.5 407.9h0M418.7 389.0h0M429.5 397.0h0M401.0 383.2h0M401.7 399.3h0M440.4 358.8h0M414.0 409.3h0M432.3 350.4h0M408.0 339.4h0M387.8 395.2h0M379.1 380.7h0M434.7 406.8h0M402.8 337.6h0M402.4 383.4h0M434.9 399.2h0M368.3 366.7h0M431.9 354.2h0M439.7 408.9h0M393.5 380.1h0M366.5 384.9h0M453.2 393.1h0M393.2 404.6h0M362.3 376.6h0M367.8 364.9h0M387.9 342.8h0M446.0 395.8h0M413.2 345.8h0M410.9 350.6h0M414.6 385.1h0M452.5 352.2h0M387.5 347.6h0M452.4 395.1h0M395.6 366.4h0M440.7 378.1h0M418.3 364.7h0M418.8 333.2h0M378.7 397.9h0M450.4 376.5h0M425.1 366.7h0M396.5 378.2h0M436.9 403.2h0M386.4 368.3h0M404.2 390.9h0M445.5 408.2h0M426.1 379.7h0M372.8 337.8h0M364.1 381.0h0M417.3 336.2h0M446.6 386.4h0M428.0 352.4h0M391.1 375.9h0M394.0 375.0h0M424.6 379.5h0M393.1 409.8h0M386.4 376.3h0M398.6 336.0h0M395.8 383.6h0M445.3 363.8h0M377.2 382.1h0M366.7 373.0h0M373.1 387.0h0M434.8 393.2h0M394.8 394.0h0M411.3 351.2h0M429.8 349.9h0M453.0 396.3h0M363.1 386.4h0M405.3 337.2h0M407.3 379.2h0M364.4 345.4h0M435.5 353.2h0M444.9 363.6h0M425.2 361.9h0M363.7 385.0h0M389.8 376.2h0M429.2 375.7h0M380.1 345.8h0M441.3 402.5h0M394.2 380.9h0M454.2 344.8h0M410.4 393.8h0M424.6 377.4h0M437.8 361.8h0M383.5 357.3h0M392.2 367.3h0M373.5 398.1h0M423.8 387.4h0M425.1 392.5h0M404.8 353.4h0M383.0 342.0h0M454.6 385.5h0M422.8 379.9h0M403.4 373.4h0M365.9 386.3h0M402.9 339.8h0M452.3 372.9h0M363.5 351.9h0M392.7 371.5h0M362.1 364.6h0M425.3 384.4h0M394.6 388.9h0M376.0 336.5h0M364.0 346.4h0M440.8 357.5h0M448.9 389.5h0M438.8 407.9h0M424.3 385.2h0M439.8 384.4h0M403.0 385.9h0M370.0 393.8h0M368.0 406.1h0" stroke="#c46a64" stroke-width="1.20" stroke-linecap="round" stroke-opacity="0.8"/>
<path d="M426.5 405.8h0M423.2 364.2h0M410.1 367.9h0M371.0 397.5h0M378.2 350.1h0M393.5 386.7h0M401.3 357.0h0M418.0 357.3h0M379.4 394.7h0M405.4 386.4h0M364.7 409.0h0M379.4 375.5h0M378.7 358.3h0M436.6 373.2h0M456.1 342.0h0M445.8 403.2h0M393.0 404.0h0M388.4 387.7h0M393.6 373.7h0M422.3 398.9h0M393.0 339.5h0M388.8 390.3h0M394.5 368.3h0M424.7 364.7h0M446.6 364.4h0M408.3 400.5h0M367.2 362.8h0M426.3 384.1h0M404.2 366.9h0M449.0 402.5h0M387.0 366.9h0M362.9 341.5h0M395.4 361.6h0M429.2 344.0h0M405.3 398.2h0M373.6 349.9h0M395.9 377.9h0M452.2 349.1h0M405.6 379.7h0M440.7 404.1h0M448.2 346.0h0M394.0 336.7h0M365.2 363.9h0M403.8 380.5h0M452.3 342.3h0M454.5 387.8h0M374.9 386.1h0M373.6 338.8h0M425.1 344.0h0M425.6 366.1h0M425.8 357.5h0M420.7 340.6h0M444.5 394.6h0M396.8 383.2h0M371.0 381.5h0M384.9 407.3h0M373.4 335.5h0M447.3 386.0h0M421.4 340.0h0M404.2 389.5h0M368.8 394.6h0M418.7 342.8h0M411.9 365.3h0M438.4 376.7h0M442.0 391.8h0M409.8 348.5h0M456.9 357.7h0M422.3 397.6h0M379.8 337.1h0M437.5 389.6h0M377.5 356.6h0M421.3 376.8h0M443.5 370.3h0M380.1 392.2h0M401.8 353.8h0M375.5 352.5h0M373.9 345.1h0M411.6 341.8h0M379.1 387.1h0M379.2 391.4h0M363.9 356.9h0M376.2 374.8h0M408.5 390.9h0M403.7 398.9h0M367.6 379.2h0M367.7 359.4h0M448.9 351.4h0M367.8 408.9h0M363.2 379.7h0M376.3 380.1h0M441.0 342.5h0M450.1 385.5h0M373.6 347.8h0M399.4 393.8h0M444.9 347.5h0M445.3 380.6h0M365.4 374.4h0M389.0 377.1h0M436.3 342.2h0M369.4 337.7h0M413.5 390.0h0M387.9 388.9h0M445.4 370.7h0M371.2 334.2h0M372.2 390.9h0M440.2 333.8h0M422.9 403.8h0M390.5 407.2h0M437.2 347.9h0M379.9 398.0h0M389.9 335.6h0M363.6 385.6h0M427.2 346.6h0M449.0 360.3h0M385.9 351.8h0M424.4 392.0h0M444.1 338.7h0M422.6 358.2h0M370.2 383.6h0M378.3 339.8h0M455.1 337.2h0M408.5 363.4h0M378.8 409.2h0M368.2 337.9h0M392.8 378.5h0M415.7 387.8h0M417.1 369.3h0M456.0 341.6h0M406.9 358.1h0M455.7 371.3h0M409.9 393.9h0M456.7 384.8h0M365.7 345.2h0M374.3 337.1h0M365.4 406.6h0M401.2 390.8h0M387.0 349.4h0M456.3 339.8h0M445.0 337.8h0M407.8 367.3h0M416.2 380.1h0M374.1 400.1h0M381.5 352.8h0M366.9 350.3h0M418.1 369.7h0M453.4 396.5h0M396.0 357.1h0M410.2 354.5h0M396.4 383.5h0M383.5 406.2h0M446.7 384.9h0M431.0 410.0h0M407.9 365.4h0M424.2 393.1h0M404.2 350.2h0M457.5 388.4h0M426.8 339.9h0M401.2 381.0h0M445.5 356.8h0M370.4 388.8h0M444.3 375.5h0M430.3 358.6h0M392.4 342.3h0M371.9 394.3h0M440.3 377.2h0M414.3 373.0h0M438.6 339.8h0M382.7 344.8h0M456.1 371.2h0M429.7 356.8h0M439.7 393.3h0M399.9 410.1h0M456.4 391.7h0M394.7 406.2h0M454.6 376.9h0M396.6 381.5h0M392.4 342.2h0M391.1 362.9h0M408.2 374.7h0M450.8 383.1h0M405.2 370.6h0M438.0 382.1h0M402.1 362.3h0M433.0 383.5h0M395.2 344.5h0M378.1 335.4h0M430.8 398.1h0M416.7 335.5h0M395.9 350.5h0M371.3 380.4h0M443.9 398.0h0M439.7 352.7h0M432.3 355.7h0M395.2 392.5h0M363.9 380.8h0M392.4 369.6h0M383.9 348.7h0M454.4 369.0h0M382.3 383.2h0M446.4 371.3h0M418.0 396.5h0M446.7 369.2h0M416.1 344.9h0M376.9 407.5h0M385.2 374.9h0M382.9 341.6h0M387.5 365.9h0M385.5 404.1h0M390.3 403.5h0M425.0 403.0h0M406.4 334.7h0M376.4 339.2h0M374.3 337.2h0M385.3 371.1h0M425.8 348.3h0M401.4 390.1h0M372.1 387.1h0M370.2 334.2h0M436.3 374.5h0M419.7 355.7h0M376.5 377.0h0M391.4 409.4h0M438.2 402.2h0M379.1 362.0h0M398.3 342.5h0M408.0 379.7h0M390.4 346.8h0M364.6 351.0h0M408.8 409.5h0M430.3 352.5h0M387.5 348.9h0M445.9 333.7h0M449.3 392.7h0M390.6 376.3h0M372.7 387.4h0M372.0 407.9h0M401.6 382.1h0M454.4 402.6h0M440.7 380.7h0M397.8 374.1h0M434.3 357.6h0M452.1 380.7h0M450.8 344.7h0M409.5 372.5h0M390.5 376.2h0M409.8 361.2h0M387.0 373.0h0M399.4 352.5h0M366.8 368.2h0M426.7 343.4h0M448.0 343.8h0M372.1 336.9h0M439.7 347.7h0M367.9 386.6h0M385.0 360.4h0M416.9 355.2h0M446.7 365.7h0M422.6 384.4h0M414.6 390.9h0M390.6 346.2h0M405.5 397.3h0M407.6 369.8h0M447.8 398.2h0M453.0 388.3h0M426.8 365.1h0M384.5 399.5h0M424.9 408.2h0M385.0 404.4h0M381.9 390.6h0M403.8 397.4h0M420.8 355.9h0M439.1 347.9h0M432.2 381.9h0M433.3 399.9h0M375.2 400.6h0M434.3 394.9h0M454.5 378.8h0M436.7 371.2h0M452.4 371.5h0M413.2 334.5h0M401.3 342.6h0M362.8 373.5h0M368.9 341.0h0M454.5 349.7h0M394.2 389.4h0M365.4 399.6h0M407.5 338.7h0M371.3 357.7h0M425.3 372.9h0M391.4 338.5h0M431.1 352.4h0M405.4 365.5h0M416.7 405.7h0M438.5 401.6h0M388.1 382.5h0M426.7 391.6h0M401.9 404.3h0M408.1 401.0h0M407.4 388.5h0M383.2 350.9h0M413.6 381.7h0M410.4 398.3h0M444.4 366.4h0M369.1 361.8h0M377.3 396.8h0M387.8 385.1h0M431.5 368.7h0M446.4 361.8h0M406.6 406.0h0M380.5 386.4h0M365.1 351.9h0M408.9 404.6h0M445.4 393.9h0M375.1 377.8h0M389.1 340.4h0M432.8 396.3h0M404.0 378.0h0M395.2 359.4h0M369.7 390.6h0M431.2 355.8h0M390.1 409.4h0M382.8 372.5h0M368.9 404.5h0M434.6 374.2h0M397.8 345.2h0M377.8 383.5h0M406.3 360.9h0M413.7 349.6h0M441.3 380.4h0M374.5 360.8h0M373.2 371.5h0M405.0 349.2h0M456.2 387.5h0M397.9 380.8h0M423.5 340.1h0M411.4 379.0h0M390.7 362.5h0M424.3 382.8h0M448.0 348.3h0M396.7 400.6h0M370.3 339.6h0M368.2 354.4h0M377.2 361.8h0M409.0 352.2h0M417.5 387.2h0M392.6 344.2h0M456.3 366.5h0M369.6 341.8h0M431.5 366.8h0M451.8 390.8h0M369.9 391.5h0M454.4 410.2h0M443.4 381.5h0M450.3 394.5h0M402.1 355.3h0M363.3 339.9h0M400.3 339.7h0M374.6 368.1h0M386.6 407.6h0M379.8 376.1h0M411.8 364.5h0M437.7 406.7h0M441.9 338.2h0M395.9 365.4h0M449.4 386.4h0M397.7 388.4h0M455.3 339.8h0M455.2 341.0h0M362.9 336.9h0M444.6 357.1h0M445.3 380.7h0M366.9 407.7h0M377.5 406.2h0M447.3 375.2h0M369.6 339.8h0M384.3 348.5h0M433.8 349.3h0M403.9 340.3h0M442.8 359.4h0M364.4 389.5h0M427.9 371.7h0M434.5 358.4h0M439.4 395.4h0M407.2 391.6h0M390.4 375.4h0M421.7 337.6h0M419.4 395.6h0M456.0 410.3h0M401.5 379.0h0M371.7 408.7h0M366.6 382.7h0M405.2 395.6h0M450.9 404.9h0M455.3 403.4h0M363.9 341.4h0M408.1 384.6h0M443.8 396.5h0M433.9 369.7h0M381.4 350.2h0M434.0 358.1h0M368.9 385.1h0M417.6 385.8h0M407.6 351.6h0M455.1 372.0h0M416.7 383.9h0M363.0 346.8h0M394.7 406.2h0M366.1 406.2h0M419.9 366.0h0M432.9 400.8h0M436.8 334.4h0M444.6 360.8h0M442.6 371.5h0M444.5 338.5h0M410.0 397.4h0M392.3 397.2h0M376.1 376.1h0M364.0 390.4h0M387.7 386.0h0M370.4 366.2h0M415.6 345.1h0M390.7 386.0h0M415.1 378.9h0M366.3 391.1h0M408.1 380.5h0M364.6 403.4h0M365.9 374.2h0M401.9 353.9h0M371.7 352.2h0M439.7 345.8h0M401.3 401.6h0M390.1 398.6h0M373.2 358.7h0M398.1 337.7h0M377.1 377.8h0M399.7 333.3h0M386.0 353.3h0M401.6 376.0h0M403.9 398.5h0M442.7 387.6h0M405.7 404.2h0M389.8 365.4h0M370.7 366.3h0M457.4 408.9h0M391.2 368.5h0M385.3 369.6h0M436.7 354.8h0M457.1 409.8h0M433.6 344.1h0M368.6 408.0h0M454.9 381.2h0M387.1 352.7h0M443.8 345.8h0M410.3 346.1h0M380.2 401.3h0M447.7 379.9h0M397.6 349.0h0M370.1 342.7h0M389.8 337.8h0M390.2 344.7h0M426.0 388.3h0M454.1 345.7h0M441.4 397.0h0M447.5 384.5h0M439.1 398.3h0M366.9 391.1h0M443.7 405.5h0M422.7 368.1h0M398.0 375.4h0M399.5 365.1h0M441.8 388.1h0M404.2 387.6h0M366.3 391.5h0M408.7 361.6h0M457.1 352.0h0M384.1 408.8h0M434.2 353.2h0M431.8 402.1h0M420.6 353.9h0M388.1 373.0h0M402.7 410.3h0M398.1 388.6h0M393.4 336.1h0M368.4 406.5h0M401.8 387.1h0M398.1 347.4h0M396.1 382.1h0M413.2 368.0h0M409.7 366.3h0M444.1 343.8h0M390.8 337.6h0M445.7 357.7h0M435.0 335.3h0M433.8 341.8h0M394.0 361.8h0M414.2 396.1h0M450.4 390.2h0M424.4 403.7h0M398.4 360.5h0M368.4 372.3h0M438.5 338.7h0M412.5 384.8h0M404.9 352.9h0M451.1 392.8h0M366.4 354.4h0M409.1 364.6h0M425.7 358.5h0M385.7 349.9h0M401.5 399.3h0M412.4 350.0h0M407.0 345.6h0M381.6 375.9h0M446.9 397.3h0M451.8 403.5h0M389.1 335.5h0M447.7 402.5h0M371.3 348.9h0M388.3 394.7h0M387.0 344.0h0M453.8 345.3h0M439.5 406.1h0M401.2 361.2h0M371.6 362.9h0M434.7 351.6h0M373.7 386.6h0M437.1 349.9h0M429.4 365.7h0M401.5 361.3h0M383.9 408.9h0M420.7 383.3h0M449.1 384.6h0M367.8 350.7h0M371.0 336.1h0M372.1 385.4h0M423.3 359.7h0M451.7 336.8h0M409.9 407.7h0M449.1 398.6h0M426.5 385.8h0M443.3 340.5h0M405.6 365.0h0M449.0 407.5h0M450.6 391.6h0M382.5 350.1h0M415.0 335.3h0M365.0 406.8h0M389.3 372.4h0M453.0 347.3h0M431.2 376.3h0M429.6 392.6h0M439.7 388.6h0M385.5 410.1h0M378.0 367.0h0M451.0 400.4h0M394.5 346.6h0M377.6 399.4h0M444.3 405.7h0M396.5 392.0h0M407.8 374.6h0M373.1 384.0h0M384.6 403.2h0M388.2 392.0h0M363.7 393.7h0M450.4 381.5h0M448.1 369.3h0M408.6 406.1h0M379.4 341.0h0M438.4 347.6h0M446.2 382.7h0M443.4 391.5h0M415.4 382.6h0M430.5 385.5h0M371.0 348.7h0M399.9 389.9h0M396.2 359.5h0M412.5 351.4h0M363.3 334.1h0M388.2 376.7h0M410.8 356.5h0M368.6 377.5h0M432.5 379.6h0M436.8 337.3h0M365.1 348.0h0M427.0 376.4h0M416.2 334.6h0M369.8 350.9h0M392.4 339.1h0M450.8 400.0h0M367.0 400.1h0M425.4 381.5h0M402.1 342.4h0M438.9 352.3h0M389.6 343.3h0M381.6 340.8h0M418.4 336.8h0M444.3 407.7h0M402.6 342.3h0M422.1 406.5h0M423.6 362.5h0M422.3 367.6h0M452.2 334.8h0M449.4 358.1h0M443.0 352.7h0M424.2 342.2h0M402.0 368.8h0M395.1 365.9h0M366.5 398.4h0M435.9 378.5h0M429.9 365.1h0M418.1 402.0h0M417.3 335.1h0M376.8 342.3h0M438.7 363.3h0M405.3 361.3h0M371.8 360.6h0M423.3 402.7h0M401.4 402.5h0M401.6 353.4h0M457.0 349.9h0M441.6 340.4h0M429.5 370.8h0M448.3 338.0h0M364.1 378.9h0M368.0 341.2h0M380.3 397.1h0M372.9 386.4h0M425.3 387.5h0M410.2 358.4h0M421.0 356.2h0M454.8 338.5h0M448.6 360.5h0M439.2 397.1h0M455.6 333.5h0M372.3 390.9h0M393.4 394.1h0M429.1 391.0h0M453.1 334.4h0M369.4 407.4h0M432.6 387.5h0M366.0 395.5h0M429.5 368.8h0M451.6 335.1h0M395.7 391.8h0M403.1 406.7h0M383.8 401.1h0M423.5 383.4h0M456.4 403.9h0M379.2 403.7h0M370.1 381.3h0M369.6 361.2h0M448.6 387.8h0M430.1 345.2h0M450.1 390.3h0M430.4 370.1h0M386.4 384.7h0M414.3 368.1h0M442.1 364.0h0M419.4 409.5h0M377.9 363.4h0M364.6 404.2h0M367.9 396.6h0M369.6 334.3h0M432.4 384.7h0M413.8 370.0h0M377.8 338.5h0M414.5 385.8h0M399.5 361.7h0M394.6 346.0h0M420.7 372.4h0M452.6 383.0h0M421.9 348.5h0M376.4 369.4h0M372.6 334.2h0M401.2 335.0h0M437.9 393.4h0M420.6 347.8h0M431.8 371.0h0M399.1 370.3h0M427.3 381.8h0M374.8 357.2h0M450.4 384.4h0M398.6 403.1h0M450.9 344.6h0M411.8 402.4h0M426.9 341.9h0M446.8 353.1h0M446.9 362.3h0M430.2 351.2h0M392.2 380.3h0M403.4 381.3h0M445.7 343.3h0M398.8 353.5h0M412.3 352.4h0M443.4 343.0h0M412.8 392.7h0M421.7 362.2h0M430.1 408.3h0M397.3 366.5h0M415.2 393.5h0M422.1 397.3h0M442.0 373.0h0M408.3 348.4h0M450.7 360.3h0M367.2 361.7h0M395.9 406.6h0M437.7 358.7h0M452.5 378.6h0M401.7 403.8h0M424.2 347.0h0M364.3 340.9h0M387.1 401.0h0M454.0 405.6h0M415.7 399.7h0M447.0 408.3h0M380.4 366.3h0M383.1 393.1h0M364.4 393.6h0M366.2 372.0h0M371.6 386.5h0M408.2 373.3h0M367.7 338.0h0M375.4 355.2h0M388.2 357.0h0M414.8 409.0h0M414.3 373.3h0M406.1 391.8h0M429.7 396.7h0M399.2 394.8h0M364.3 352.4h0M421.9 359.8h0M367.8 392.0h0M448.6 367.5h0M437.1 383.7h0M399.9 401.2h0M394.0 387.2h0M456.0 401.8h0M437.9 354.1h0M394.2 397.6h0" stroke="#d8a09a" stroke-width="1.20" stroke-linecap="round" stroke-opacity="0.7"/>
<path d="M405.4 340.9h0M400.4 381.3h0M376.9 353.0h0M422.2 380.5h0M436.4 344.8h0M413.3 347.3h0M367.9 406.2h0M454.1 395.3h0M408.1 335.6h0M364.3 400.0h0M422.0 385.4h0M425.6 380.5h0M427.0 381.4h0M384.3 340.8h0M405.5 370.7h0M365.0 398.5h0M446.0 355.4h0M371.5 376.7h0M365.0 387.8h0M413.4 370.5h0M367.3 356.5h0M388.0 391.8h0M376.6 338.4h0M427.2 389.0h0M369.3 393.9h0M455.4 358.2h0M402.2 385.3h0M368.8 359.2h0M393.5 372.4h0M426.5 403.9h0M439.9 375.6h0M371.4 364.4h0M405.8 339.9h0M372.3 369.2h0M425.7 352.0h0M457.7 368.2h0M456.1 395.7h0M369.6 393.4h0M408.3 339.2h0M401.7 387.8h0M400.3 401.3h0M432.0 356.5h0M403.7 406.6h0M420.6 344.3h0M400.9 347.3h0M386.1 376.4h0M388.7 408.4h0M415.0 374.2h0M423.1 343.3h0M427.7 375.0h0M418.8 339.8h0M410.9 390.5h0M392.7 364.8h0M447.5 339.0h0M404.1 380.8h0M373.3 367.3h0M454.1 374.6h0M395.8 353.6h0M394.3 367.7h0M395.2 372.5h0M421.5 389.2h0M440.1 350.4h0M364.9 370.9h0M403.9 345.5h0M409.1 366.5h0M419.3 359.0h0M398.8 336.7h0M375.1 372.1h0M376.2 407.3h0M374.9 409.5h0M439.5 368.6h0M405.5 369.5h0M394.8 352.6h0M396.9 360.9h0M439.0 383.3h0M447.9 409.1h0M389.1 374.8h0M397.3 343.2h0M440.1 337.6h0M389.8 400.0h0M454.9 365.7h0M451.1 384.2h0M447.0 372.7h0M435.8 391.8h0M420.4 409.6h0M382.4 368.8h0M375.1 334.5h0M408.0 390.4h0M449.4 379.4h0M419.9 394.8h0M436.5 341.5h0M369.8 404.9h0M377.6 358.6h0M431.5 364.3h0M425.2 341.0h0M402.9 347.8h0M429.3 349.4h0M456.0 378.5h0M444.6 358.0h0M454.1 400.4h0M452.6 385.7h0M441.0 364.0h0M424.9 347.6h0M381.1 350.2h0M451.6 399.3h0M374.2 399.1h0M413.9 363.1h0M397.6 340.4h0M434.7 401.0h0M369.3 407.1h0M405.6 354.6h0M380.3 341.0h0M435.9 392.4h0M427.2 337.9h0M443.4 378.4h0M439.3 391.9h0M382.0 376.9h0M411.5 392.4h0M422.0 360.7h0M452.7 345.7h0M457.3 383.6h0M375.0 345.6h0M434.0 345.5h0M388.2 350.8h0M444.5 391.4h0M388.9 352.0h0M451.3 394.8h0M375.2 334.6h0M430.9 343.4h0M425.0 372.8h0M455.0 370.8h0M444.3 400.2h0M377.2 347.9h0M418.8 407.8h0M450.0 375.5h0M420.0 346.5h0M384.7 362.4h0M432.8 339.7h0M417.4 383.1h0M387.1 363.2h0M366.9 407.6h0M452.3 401.5h0M383.1 359.5h0M404.5 382.6h0M442.0 344.9h0M426.5 364.6h0M381.4 383.1h0M365.0 344.5h0M377.5 371.4h0M454.2 367.2h0M390.0 349.0h0M455.2 352.6h0M418.1 368.7h0M406.4 386.5h0M436.3 349.9h0M402.0 403.1h0M450.7 397.7h0M414.7 357.2h0M375.9 375.6h0M432.4 404.9h0M381.6 378.5h0M377.3 359.8h0M390.7 387.3h0M377.1 403.2h0M403.7 363.1h0M407.7 373.5h0M389.9 344.1h0M413.9 397.1h0M368.6 384.4h0M442.0 363.1h0M398.5 372.4h0M389.3 363.7h0M366.5 354.1h0M391.0 396.5h0M384.3 390.9h0M397.8 344.0h0M389.1 350.8h0M447.0 369.3h0M378.1 351.9h0M444.5 345.4h0M445.8 362.2h0M457.4 333.2h0M418.6 345.3h0M453.9 346.8h0M431.2 361.9h0M425.6 389.7h0M404.7 335.7h0M437.3 403.0h0M449.8 361.3h0M452.9 362.3h0M393.7 397.6h0M411.3 407.2h0M406.3 381.0h0M414.5 362.0h0M390.4 345.3h0M401.8 409.1h0M443.1 361.0h0M366.0 338.7h0M435.1 335.5h0M394.8 404.7h0M385.9 405.4h0M427.5 346.7h0M382.5 397.9h0M448.0 351.9h0M383.2 409.1h0M398.6 368.8h0M370.6 342.8h0M370.9 375.1h0M446.9 340.6h0M451.9 372.3h0M402.1 401.8h0M444.1 395.5h0M413.3 404.8h0M419.0 339.7h0M394.7 355.2h0M422.0 378.0h0M405.5 373.4h0M404.4 366.9h0M402.5 351.6h0M449.5 383.4h0M450.0 336.7h0M404.4 370.9h0M421.8 404.1h0M421.4 363.3h0M370.3 370.3h0M418.3 347.0h0M381.4 336.9h0M389.4 363.0h0M388.6 359.0h0M437.6 377.5h0M398.2 396.9h0M428.8 383.9h0M446.5 386.9h0M455.2 383.0h0M448.9 344.5h0M422.2 406.5h0M394.4 408.8h0M434.5 387.3h0M450.0 385.6h0M402.9 410.0h0M452.6 366.0h0M365.4 380.4h0M427.9 364.8h0M365.0 339.5h0M431.5 358.4h0M399.1 396.4h0M400.1 406.4h0M395.2 344.3h0M401.5 405.9h0M363.2 340.2h0M373.5 359.7h0M391.0 396.7h0M412.6 405.2h0M402.4 390.9h0M430.8 383.0h0M407.4 362.1h0M377.3 393.3h0M447.7 346.2h0M434.3 397.0h0M426.4 368.5h0M452.8 358.0h0M399.6 364.1h0M394.8 357.4h0M371.1 385.2h0M426.7 391.8h0M420.9 393.0h0M446.6 352.1h0M386.3 382.2h0M394.6 384.2h0M434.1 356.0h0M423.7 373.8h0M434.1 343.3h0M384.3 349.4h0M368.6 385.9h0M400.8 396.0h0M451.8 339.3h0M410.0 366.9h0M415.5 366.9h0M388.0 389.8h0M366.3 410.2h0M449.1 372.7h0M442.1 388.5h0M386.9 345.7h0M424.1 387.4h0M441.6 378.2h0M416.5 394.4h0M427.1 373.3h0M402.9 370.2h0M413.3 364.9h0M450.7 355.1h0M395.1 339.7h0M365.4 350.7h0M432.1 401.8h0M424.5 396.8h0M383.1 338.1h0M454.7 347.6h0M396.5 384.4h0M382.8 334.8h0M433.7 408.8h0M451.3 350.2h0M385.9 346.4h0M424.0 404.4h0M422.7 360.8h0M443.9 397.3h0M408.9 338.2h0M438.1 358.5h0M369.1 358.2h0M416.3 339.6h0M368.8 391.3h0M392.4 362.6h0M431.0 403.4h0M440.7 333.2h0M449.0 374.9h0M417.2 343.8h0M440.9 356.5h0M383.1 365.4h0M454.7 353.6h0M412.5 385.7h0M452.5 340.9h0M418.5 401.6h0M367.0 373.1h0M387.1 368.2h0M443.3 362.1h0M450.6 392.2h0M381.9 390.7h0M399.9 359.6h0M405.0 410.1h0M437.5 376.2h0M368.6 360.9h0M363.6 360.5h0M424.9 347.0h0M411.0 337.3h0M422.7 347.4h0M384.0 381.9h0M400.8 369.0h0M414.7 335.8h0M369.0 364.1h0M407.2 344.4h0M417.7 373.0h0M388.5 339.3h0M445.3 393.9h0M382.7 353.2h0M448.3 345.4h0M429.4 347.8h0M420.1 394.9h0M435.7 387.1h0M409.4 379.4h0M412.4 397.3h0M417.7 391.8h0M389.8 409.7h0M403.7 357.1h0M397.0 380.9h0M374.3 374.1h0M441.9 356.8h0M375.0 400.0h0M427.0 344.3h0M373.0 402.4h0M399.2 352.1h0M409.8 351.6h0M454.7 338.8h0M398.2 405.4h0M379.3 382.3h0M445.0 349.0h0M411.7 397.3h0M387.7 358.1h0M418.1 367.3h0M425.2 406.7h0M422.3 404.2h0M395.0 342.9h0" stroke="#bcaccc" stroke-width="1.20" stroke-linecap="round" stroke-opacity="0.7"/>
<path d="M437.5 346.8h0M445.4 398.9h0M457.0 384.9h0M406.1 401.8h0M403.8 395.9h0M379.6 383.0h0M431.3 341.5h0M402.7 364.0h0M363.3 358.6h0M455.7 406.7h0M388.7 353.5h0M414.3 383.0h0M413.1 373.4h0M432.7 405.3h0M430.0 395.8h0M424.9 366.5h0M447.2 405.0h0M446.7 373.5h0M419.3 370.7h0M375.0 367.9h0M441.4 348.1h0M405.5 345.5h0M443.3 377.1h0M388.4 375.8h0M367.9 356.8h0M399.8 348.6h0M400.5 337.1h0M379.4 382.4h0M423.4 353.3h0M428.1 354.9h0M410.0 350.0h0M383.7 384.4h0M427.9 336.6h0M439.2 348.5h0M369.6 345.9h0M426.2 365.4h0M396.1 337.7h0M431.9 399.2h0M422.1 409.6h0M368.0 382.1h0M376.5 380.3h0M446.6 388.0h0M401.8 388.7h0M367.9 381.1h0M386.2 357.4h0M431.6 408.2h0M374.5 357.3h0M401.6 333.7h0M426.3 339.2h0M436.6 373.4h0M414.6 352.2h0M409.7 384.6h0M451.7 346.9h0M380.4 356.4h0M456.8 369.2h0M418.9 364.4h0M407.3 400.5h0M396.5 362.3h0M403.2 368.9h0M388.7 367.9h0M413.9 334.2h0M416.7 334.4h0M408.2 360.6h0M390.3 381.2h0M412.2 381.5h0M368.8 348.8h0M387.5 374.6h0M411.4 375.0h0M452.9 362.0h0M387.0 409.1h0M372.7 402.1h0M416.5 394.7h0M394.6 379.1h0M394.7 386.8h0M419.8 356.0h0M440.5 343.3h0M419.9 344.2h0M384.2 378.4h0M377.7 386.5h0M445.5 400.5h0M377.6 372.8h0M451.8 371.3h0M404.1 373.1h0M400.9 350.6h0M387.6 396.5h0M446.2 359.0h0M411.3 336.7h0M380.6 371.7h0M437.9 370.7h0M415.4 333.3h0M445.5 361.7h0M400.6 372.6h0M401.0 346.8h0M415.5 347.8h0M398.9 395.7h0M438.4 404.9h0M417.0 369.9h0M365.4 401.5h0M437.0 407.7h0M402.2 366.0h0M448.5 357.6h0M372.5 356.9h0M386.2 389.3h0M451.6 340.1h0M446.3 334.8h0M451.6 401.4h0M387.5 362.6h0M417.2 395.4h0M443.8 359.7h0M399.8 392.6h0M410.9 334.8h0M425.6 341.8h0M411.5 360.8h0M401.5 340.5h0M365.9 337.7h0M453.3 378.3h0M429.6 360.4h0M440.0 402.8h0M375.2 403.0h0M381.8 366.6h0M449.9 398.2h0M380.3 371.4h0M372.6 369.0h0M392.4 388.6h0M450.9 377.3h0M437.5 409.2h0M377.0 340.8h0M391.6 359.7h0M450.1 401.9h0M363.4 400.3h0M406.8 400.7h0M435.3 369.9h0M381.9 356.7h0M405.0 391.4h0M424.9 380.8h0M402.4 343.9h0M396.5 366.7h0M384.0 379.6h0M422.6 380.2h0M369.4 338.1h0M442.8 370.7h0M455.8 382.3h0M432.7 338.2h0M375.5 385.5h0M381.4 388.7h0M378.1 336.5h0M387.7 363.9h0M396.6 342.1h0M368.3 394.3h0M380.9 394.9h0M407.1 403.3h0M435.7 379.1h0M379.5 365.8h0M418.3 340.6h0M365.3 345.2h0M413.5 354.9h0M369.8 383.0h0M438.6 383.6h0M421.2 385.2h0M433.8 395.0h0M374.3 351.8h0M373.0 374.7h0M409.0 386.2h0M391.9 384.6h0M449.1 361.2h0M395.0 337.0h0M366.7 341.0h0M435.0 335.9h0M371.1 357.4h0M425.8 361.2h0M378.6 348.0h0M386.0 389.8h0M422.0 353.8h0M422.1 382.8h0M426.5 377.9h0M376.7 402.9h0M408.4 392.6h0M407.4 363.5h0M372.6 396.0h0M414.6 360.8h0M377.2 365.4h0M427.0 343.6h0M362.1 394.8h0M451.5 402.7h0M365.6 380.6h0M367.6 346.3h0M439.5 376.5h0M415.3 368.6h0M401.0 341.7h0M376.5 395.8h0M432.1 347.3h0M430.6 360.6h0M435.0 366.1h0M387.1 408.6h0M416.9 375.7h0M450.1 341.9h0M436.1 389.7h0M406.0 401.0h0M451.7 405.7h0M417.9 364.4h0M378.3 357.2h0M394.1 393.9h0M410.8 379.2h0M450.9 359.7h0M378.9 402.3h0M411.6 386.7h0M389.4 371.9h0M439.9 367.2h0M421.7 357.4h0M430.4 376.3h0M392.7 350.2h0M369.8 343.7h0M413.5 404.0h0M415.8 410.1h0M431.7 348.6h0M448.0 362.2h0M370.6 406.6h0M406.3 404.7h0M378.9 399.0h0M386.9 361.4h0M400.7 384.6h0M457.3 359.1h0M429.1 385.5h0M403.5 407.0h0M396.0 337.4h0M412.7 362.2h0M440.1 362.7h0M398.1 357.3h0M377.0 401.7h0M437.4 372.7h0M371.9 386.4h0M384.5 351.7h0M387.9 372.9h0M396.4 358.3h0M429.3 409.6h0M395.2 342.0h0M381.1 337.4h0M362.6 369.0h0M426.9 406.2h0M389.5 379.0h0M449.9 389.5h0M421.2 404.7h0M412.6 347.8h0M421.3 397.2h0M424.5 393.2h0M423.2 365.7h0M373.3 377.7h0M426.8 385.3h0M436.4 392.3h0M418.5 397.1h0M413.2 375.0h0M435.3 393.0h0M455.8 388.3h0M421.2 404.8h0M375.2 383.3h0M380.8 357.1h0M408.5 382.6h0M399.4 381.0h0M404.7 350.1h0M372.5 348.6h0M397.7 378.7h0M391.9 365.5h0M439.8 361.2h0M377.8 367.1h0M439.6 339.4h0M382.8 405.2h0M406.1 386.2h0M377.3 367.7h0M390.4 400.6h0M440.2 378.5h0M391.7 398.5h0M402.9 395.7h0M410.8 345.4h0M440.6 355.1h0M375.4 341.2h0M406.5 354.7h0M366.6 347.5h0M364.9 374.0h0M391.9 402.3h0M445.8 358.1h0M365.4 398.9h0M364.7 362.4h0M369.4 372.7h0M403.4 371.9h0M438.7 396.3h0M400.7 359.6h0M409.5 405.2h0M386.4 361.8h0M390.7 337.0h0M410.6 380.8h0M450.9 401.9h0M422.2 404.4h0M405.2 343.3h0M439.6 354.5h0M403.6 352.0h0M434.7 353.9h0M445.6 409.4h0M367.3 367.3h0M451.3 337.3h0M453.6 371.2h0M362.4 337.3h0M416.9 409.9h0M410.8 395.9h0M430.2 341.2h0M426.5 383.5h0M403.1 371.8h0M449.6 404.2h0M382.7 391.2h0M397.4 398.8h0M376.8 392.1h0M425.6 347.9h0M367.1 344.8h0M392.6 341.6h0M417.0 409.6h0M421.1 385.5h0M401.0 354.6h0M422.4 401.6h0M433.5 381.7h0M368.2 403.6h0M381.6 378.6h0M422.2 333.8h0M426.2 394.9h0M393.4 350.2h0M401.7 369.0h0M444.3 356.3h0M435.8 409.2h0M441.5 342.6h0M443.8 407.0h0M370.4 353.7h0M376.0 363.5h0M410.3 371.7h0M409.5 359.6h0M419.8 399.7h0M376.6 378.2h0M367.8 402.9h0M408.6 359.9h0M379.8 366.5h0M378.8 351.6h0M375.2 353.1h0M390.7 368.4h0M423.4 349.0h0M449.2 352.1h0M406.1 342.7h0M396.6 374.1h0M395.8 388.1h0M416.3 391.8h0M365.1 376.2h0M380.7 387.4h0M396.0 400.6h0M393.8 403.2h0M385.0 392.1h0M365.2 378.7h0M398.7 408.1h0M433.8 348.9h0M427.9 392.4h0M407.4 333.4h0M398.6 401.9h0M385.6 367.9h0M374.9 372.8h0M419.7 389.3h0M452.0 352.5h0M367.8 337.2h0M392.5 375.5h0M428.5 396.0h0M397.5 410.0h0M422.5 388.1h0M443.5 350.7h0M365.2 400.6h0M429.4 386.0h0M382.0 358.7h0M387.7 406.0h0M369.7 341.9h0M448.8 351.6h0M381.9 402.9h0M372.9 334.1h0M366.9 370.2h0M433.6 345.8h0M366.0 360.6h0M450.8 397.5h0M369.6 366.3h0M456.8 381.5h0M448.7 333.9h0M403.0 348.5h0M454.9 339.3h0M372.3 359.1h0M437.3 392.5h0M374.6 378.2h0M444.8 345.7h0M403.3 397.9h0M384.2 407.8h0M428.0 369.7h0M417.8 351.2h0M423.1 403.1h0M454.7 348.3h0M379.2 408.5h0M423.4 392.5h0M365.0 364.0h0M401.4 363.7h0M362.5 333.6h0M403.3 408.2h0M454.6 409.1h0M425.4 338.6h0M414.0 375.8h0M423.2 375.5h0M455.1 390.7h0M417.8 371.5h0M409.7 403.5h0M396.3 401.2h0M394.7 409.9h0M435.0 392.4h0M421.1 374.3h0M418.1 368.6h0M382.7 406.5h0M372.0 350.3h0M420.0 392.5h0M393.6 406.5h0M404.3 374.7h0M385.2 395.8h0M389.1 346.3h0M432.0 340.6h0M387.0 338.0h0M447.9 393.6h0M400.2 390.6h0M423.0 347.8h0M364.2 354.2h0M374.1 392.0h0M369.1 354.0h0M371.9 342.5h0M430.6 382.8h0M424.4 386.8h0M420.9 352.2h0M405.6 403.8h0M402.8 384.0h0M376.8 341.6h0M401.3 347.4h0M414.2 402.5h0M380.9 387.8h0M402.4 366.4h0M457.5 373.9h0M420.0 357.1h0M408.0 363.6h0M402.0 400.5h0M385.5 396.3h0M435.9 380.9h0M365.4 360.6h0M427.5 392.3h0M417.2 335.3h0M389.4 388.3h0M416.6 365.6h0M453.0 396.2h0M375.4 351.4h0M377.5 405.8h0M411.3 361.1h0M381.4 394.6h0M406.9 343.1h0M375.4 356.8h0M433.9 339.9h0M452.6 395.5h0M392.3 392.0h0M390.8 410.3h0M401.3 361.4h0M378.2 369.5h0M411.1 367.3h0M427.3 379.8h0M404.0 351.0h0M385.0 340.3h0M408.6 361.4h0M424.9 370.3h0M374.4 345.1h0M409.1 349.5h0M453.2 361.1h0M447.8 377.7h0M395.3 382.9h0M427.5 364.6h0M363.0 336.8h0M375.9 392.6h0M400.8 344.5h0M391.5 382.0h0M438.9 393.1h0M422.9 364.4h0M371.6 358.5h0M391.8 352.3h0M373.6 356.1h0M454.5 356.8h0M384.6 401.0h0M405.3 367.7h0M396.6 358.8h0M367.2 377.8h0M399.8 349.0h0M419.5 347.1h0M362.3 385.3h0M424.2 382.4h0M424.5 401.2h0M432.1 409.6h0M442.3 356.0h0M413.6 402.5h0M438.7 345.8h0M432.8 370.9h0M388.9 404.5h0M443.6 382.4h0M442.3 378.3h0M445.7 360.2h0M395.4 387.2h0M364.2 340.6h0M452.0 381.6h0M371.9 391.7h0M395.2 334.5h0M381.9 351.8h0M396.4 409.5h0M375.0 398.9h0M403.0 343.8h0M444.5 404.3h0M409.5 381.1h0M446.6 334.1h0M436.3 347.4h0M392.0 339.9h0M403.8 349.9h0M371.2 340.5h0M413.7 384.3h0M448.3 375.7h0M390.3 339.4h0M366.4 351.3h0M417.7 399.0h0M450.7 337.5h0M427.6 388.6h0M431.7 375.9h0M443.2 352.4h0M453.0 390.7h0M380.8 388.4h0M441.7 409.6h0M380.3 409.1h0M380.3 387.2h0M388.2 369.8h0M391.1 396.1h0M418.0 378.8h0M366.2 337.2h0M402.1 406.9h0M455.5 390.2h0M380.3 392.4h0M433.8 372.0h0M450.0 407.2h0M446.1 391.2h0M431.9 345.8h0M388.7 404.5h0M455.7 388.1h0M373.2 377.1h0M412.3 346.7h0M456.7 358.6h0M425.4 352.9h0M408.0 344.1h0M444.2 346.8h0M434.5 369.0h0M404.4 352.7h0M368.7 410.1h0M398.0 334.4h0M408.9 335.9h0M379.6 357.7h0M391.4 393.9h0M375.7 384.7h0M392.6 396.6h0M379.8 360.7h0M433.6 370.5h0M418.2 394.0h0M384.8 377.8h0M421.0 373.2h0M428.0 376.9h0M378.3 395.4h0M430.2 351.6h0M368.4 355.4h0M431.3 356.7h0M400.0 408.3h0M447.7 395.1h0M440.5 371.7h0M406.4 360.8h0M383.8 337.3h0M413.6 383.8h0M424.1 409.0h0M437.3 403.1h0M433.5 404.2h0M391.1 367.8h0M425.1 408.1h0M426.2 390.3h0M385.4 410.2h0M394.4 398.1h0M388.0 373.4h0M418.0 353.2h0M385.8 398.7h0M446.0 408.5h0M367.1 402.8h0M416.5 353.3h0M448.6 394.8h0M364.3 363.6h0M432.2 358.2h0M425.1 353.7h0M421.3 389.2h0M449.2 364.6h0M444.4 349.5h0M403.0 389.2h0M363.6 386.3h0M390.0 400.0h0M427.3 338.1h0M405.7 388.1h0M372.5 359.4h0M406.6 399.7h0M415.0 344.0h0M455.2 363.1h0M381.1 390.6h0M436.2 342.3h0M440.5 341.7h0M374.3 391.6h0M373.4 403.3h0M425.1 382.7h0M391.9 333.3h0M377.4 379.1h0M423.1 385.6h0M388.7 348.4h0M418.8 344.3h0M452.4 344.9h0M449.0 389.3h0M401.2 385.6h0M442.8 395.5h0M451.4 400.8h0M415.2 392.3h0M410.6 342.2h0M376.5 342.4h0M453.0 399.8h0M455.9 354.3h0M383.6 374.7h0M395.4 385.6h0M445.5 356.4h0M377.4 370.3h0M419.0 333.3h0M367.3 403.2h0M409.5 366.1h0M455.4 345.2h0M409.4 387.2h0M368.1 349.8h0M419.6 335.0h0M445.1 373.3h0M400.5 371.9h0M431.7 357.9h0M415.7 386.9h0M433.4 342.0h0M396.0 360.8h0M436.9 380.4h0M383.1 406.9h0M444.9 350.6h0M422.9 387.9h0M409.0 335.2h0M378.7 358.9h0M379.4 366.5h0M379.5 365.8h0M453.2 407.2h0M379.1 397.8h0M362.3 371.9h0M454.7 337.7h0M366.8 410.0h0M430.9 370.5h0M457.0 360.9h0M371.2 355.3h0M449.3 370.3h0M445.9 405.1h0M372.6 369.5h0M416.1 376.7h0M447.8 345.6h0M378.8 406.2h0M386.3 406.3h0M418.8 335.7h0M374.3 391.8h0M416.3 377.6h0M450.7 389.3h0M379.5 357.3h0M386.8 366.4h0M411.3 334.4h0M442.4 337.7h0M387.6 341.8h0M449.7 370.6h0M368.5 374.5h0M420.4 359.0h0M424.2 347.4h0M416.1 394.1h0M413.7 408.9h0M448.6 395.8h0M450.7 350.3h0M369.0 356.8h0M445.4 400.4h0M457.2 353.2h0M385.8 384.5h0M418.2 346.1h0M403.6 393.9h0M436.7 354.8h0M400.7 386.3h0M441.9 397.1h0M385.6 401.3h0M442.5 335.1h0M375.7 390.5h0M421.6 350.4h0M391.1 361.4h0M437.7 395.3h0M434.9 376.4h0M393.3 356.1h0M432.8 353.6h0M421.9 371.3h0M449.4 392.8h0M373.8 387.8h0M375.6 408.1h0M425.1 376.5h0M378.7 375.1h0M378.9 396.0h0M454.0 382.0h0M412.9 349.2h0M367.2 394.4h0M398.4 404.6h0M434.0 395.7h0M422.8 369.9h0M362.8 358.3h0M371.3 399.0h0M383.6 386.8h0M455.5 333.5h0M366.6 398.4h0M447.6 387.1h0M434.1 403.1h0M447.9 366.3h0M435.5 388.5h0M362.7 402.4h0M411.4 357.4h0M430.5 404.0h0M409.2 406.0h0M451.6 364.3h0M390.9 368.0h0M454.2 333.8h0M366.4 391.7h0M436.0 336.2h0M413.5 333.2h0M434.8 370.8h0M444.4 408.2h0M367.9 404.6h0M414.8 356.1h0M400.5 352.5h0M428.1 398.3h0M449.7 398.6h0M379.3 349.4h0M448.0 347.3h0M441.4 398.6h0M413.3 393.9h0M406.9 378.8h0M395.5 358.8h0M445.5 405.6h0M402.1 391.4h0M365.9 399.6h0M429.5 379.8h0M431.8 399.6h0M414.9 337.8h0M426.5 365.0h0M443.0 338.9h0M415.1 343.7h0M418.3 336.1h0M453.9 365.2h0M377.1 397.8h0M449.1 393.5h0M431.6 384.0h0M436.4 370.9h0M367.7 354.0h0M394.0 344.9h0M387.2 388.6h0M446.2 390.6h0M374.0 337.9h0M439.5 400.4h0M388.3 399.6h0M388.0 386.3h0M444.3 336.3h0M456.6 404.1h0M456.9 382.1h0M378.2 359.8h0M435.1 376.5h0M390.1 409.8h0M415.1 360.1h0M415.5 358.2h0M411.0 355.6h0M451.9 348.2h0M407.6 404.8h0M440.6 409.0h0M391.0 366.7h0M367.2 341.8h0M438.2 347.9h0M365.7 394.4h0M382.5 337.5h0M416.1 338.3h0M393.1 369.9h0M366.6 339.5h0M374.9 373.7h0M389.3 357.8h0M457.4 373.5h0M407.0 375.8h0M448.4 385.9h0M430.2 339.2h0M445.6 384.9h0M433.7 337.0h0M366.0 334.3h0M379.2 360.2h0M410.6 377.0h0M378.1 382.1h0M418.1 381.6h0M414.0 401.2h0M445.5 399.0h0M401.6 336.8h0M362.4 390.1h0M450.1 370.0h0M447.3 364.5h0M429.1 401.3h0M422.9 385.8h0M428.5 407.8h0M422.5 355.2h0M389.0 333.2h0M445.0 356.8h0M415.0 390.8h0M413.6 343.4h0M364.8 386.9h0M427.7 334.7h0M436.0 372.3h0" stroke="#d8e6f2" stroke-width="1.70" stroke-linecap="round" stroke-opacity="0.9"/>
<path d="M415.9 361.9l-1.5 1.7M365.9 353.4l-1.7 0.2M456.0 390.6l-0.3 2.0M386.9 339.9l0.7 1.1M440.5 409.2l-1.9 1.3M453.0 335.0l-1.6 0.0M412.1 355.2l-0.8 2.2M414.2 390.2l-1.3 0.1M423.1 349.1l-0.9 1.7M369.5 341.1l-1.0 2.6M380.2 353.2l-0.9 2.2M439.6 383.6l1.5 0.4M381.1 371.3l-0.6 1.4M395.2 361.6l0.6 1.6M422.5 359.1l-1.0 2.8M367.9 380.8l-2.3 1.6M420.6 348.5l-2.4 0.2M400.2 344.2l0.9 1.6M418.2 339.8l0.8 1.1M383.9 365.3l-0.5 1.5M393.2 378.5l1.2 2.3M416.5 386.0l0.8 2.3M452.9 355.0l-1.8 0.1M439.5 405.7l0.2 1.3M391.6 333.6l2.3 0.9M439.9 343.7l-1.3 0.7M450.0 376.4l1.6 1.5M427.5 350.6l-0.2 2.7M374.1 410.2l1.3 0.4M403.4 359.0l2.4 1.8M379.5 348.6l-0.9 1.9M421.9 344.2l0.9 1.1M440.9 351.6l1.9 1.3M403.7 336.8l0.4 1.7M422.7 353.8l-0.9 1.4M397.5 340.4l2.7 0.1M412.3 358.5l1.3 1.3M457.2 367.7l-0.7 1.4M388.6 393.6l-0.7 2.5M379.8 341.6l-1.3 1.2M390.9 383.5l1.1 0.4M367.6 350.2l-1.9 0.3M442.9 398.2l-0.7 2.6M442.6 381.9l-0.9 1.9M370.8 360.7l1.1 1.6M457.8 366.0l-0.6 2.1M397.2 353.4l-1.2 0.2M403.1 401.6l-1.3 0.3M376.7 356.3l2.0 0.8M399.8 393.5l-1.2 1.1M399.6 402.2l0.3 1.8M432.6 383.6l-1.9 0.1M411.9 365.0l-1.7 0.1M403.7 354.9l-0.3 2.1M393.0 357.1l2.2 1.4M400.5 359.4l-1.5 1.4M363.1 363.3l-1.8 1.4M421.0 359.4l-1.7 0.1M399.1 388.4l1.6 0.5M435.8 369.0l-0.0 1.5M439.3 383.0l1.6 1.1M433.0 337.9l3.0 0.2M407.8 373.5l-2.4 0.8M423.6 339.3l-2.8 0.7M432.5 338.5l0.1 2.0M372.8 396.3l-1.0 0.7M391.8 397.1l-1.2 2.3M429.0 350.6l-1.2 0.0M420.2 405.6l-2.1 1.6M379.5 361.3l-0.4 0.9M449.6 369.2l-2.5 0.9M374.3 348.1l-2.3 1.2M454.9 371.2l-1.7 1.3M395.9 369.7l-1.0 1.9M366.3 405.5l1.5 0.0M367.9 348.5l-1.9 0.2M377.6 379.9l0.1 1.9M385.5 364.8l1.1 0.5M438.3 368.4l2.5 0.5M415.8 367.1l-2.7 0.1M388.8 370.6l0.3 1.6M402.6 409.3l2.4 0.6M425.4 384.3l0.6 2.2M418.1 391.2l-0.7 2.2M381.2 374.4l0.5 1.3M404.3 336.5l-0.3 2.9M426.2 342.9l-1.5 1.0M374.6 375.6l0.6 1.7M420.9 337.1l-2.4 0.8M447.6 378.2l-1.8 0.5M442.5 389.6l-0.7 1.4M453.4 356.7l1.7 1.6M369.1 351.5l0.2 2.1M444.8 397.3l-2.2 0.4M411.6 353.2l0.0 2.4M457.6 395.1l0.2 1.3M429.0 393.9l-0.4 2.1M372.5 368.5l0.3 1.0M367.6 388.9l2.5 1.5M365.6 393.8l0.9 0.9M425.4 376.5l1.4 1.8M415.1 391.2l-0.7 1.9M395.4 408.4l-1.9 0.8M430.0 391.5l-0.2 1.1M434.2 389.5l0.5 1.8M400.6 394.4l-1.0 2.8M426.6 362.8l1.8 2.3M449.0 343.7l1.7 0.5M371.2 402.9l1.9 2.0M390.8 334.5l-1.7 0.7M362.7 347.4l-2.7 1.1M454.3 380.6l-2.2 2.0M373.3 401.3l1.1 1.2M420.0 389.9l2.1 0.1M404.8 396.2l0.3 2.5M400.6 367.0l2.1 0.2M420.5 407.3l0.7 2.8M433.3 389.4l0.6 2.3M413.0 357.3l-1.4 2.5M416.8 388.3l1.0 1.6M427.8 344.0l-1.0 1.9M443.1 350.2l-1.5 0.0M402.5 402.4l1.6 1.7" stroke="#d8e6f2" stroke-width="1.00" stroke-linecap="round" stroke-opacity="0.9"/>
</g></g>
<rect x="362.00" y="333.20" width="95.80" height="77.10" fill="none" stroke="#2a2a2a" stroke-width="0.9"/>
<clipPath id="c24"><rect x="460.50" y="333.20" width="96.10" height="77.10"/></clipPath>
<g clip-path="url(#c24)"><g fill="none" filter="url(#blr)">
<rect x="460.50" y="333.20" width="96.10" height="77.10" fill="#c86a5a"/>
<path d="M529.0 397.9h0M478.0 410.2h0M479.2 384.9h0M469.3 391.6h0M475.0 387.7h0M530.1 392.3h0M502.9 400.0h0M555.4 342.1h0M510.2 407.1h0M531.5 367.4h0M489.8 406.7h0M468.7 391.8h0M541.5 345.4h0M491.9 356.7h0M512.6 361.5h0M546.4 404.5h0M490.9 402.2h0M467.2 340.7h0M524.4 394.8h0M539.2 409.7h0M543.1 353.7h0M531.9 404.5h0M469.5 371.3h0M475.3 344.2h0M506.6 384.9h0M554.1 343.3h0M509.1 410.1h0M534.0 374.2h0M483.8 381.8h0M485.6 382.8h0M522.8 363.4h0M536.9 364.3h0M505.6 397.3h0M484.6 347.5h0M515.7 366.7h0M544.5 352.4h0M496.2 337.7h0M503.8 357.3h0M503.6 392.1h0M464.1 409.5h0M528.9 395.8h0M512.3 377.6h0M499.9 363.7h0M481.7 356.6h0M488.7 359.1h0M547.7 394.8h0M522.1 334.5h0M485.7 375.1h0M527.0 365.5h0M521.3 403.0h0M486.2 362.7h0M533.6 357.8h0M529.8 363.8h0M462.4 368.9h0M467.0 393.7h0M541.7 374.0h0M546.9 349.6h0M503.3 346.7h0M465.2 396.8h0M465.5 405.2h0M514.0 387.2h0M465.3 403.2h0M536.8 341.2h0M478.1 344.1h0M508.9 339.3h0M537.2 371.5h0M528.2 352.8h0M523.4 368.2h0M522.8 364.9h0M555.6 398.4h0M540.5 359.5h0M478.9 345.0h0M473.1 407.8h0M487.6 400.3h0M482.8 381.0h0M484.4 356.9h0M532.3 380.1h0M551.4 351.5h0M486.5 338.0h0M481.1 408.8h0M514.7 369.9h0M493.3 391.8h0M526.7 345.2h0M465.0 346.6h0M539.0 389.7h0M482.3 351.3h0M490.0 385.6h0M532.4 351.6h0M492.1 351.5h0M551.4 375.7h0M550.8 351.9h0M521.3 377.1h0M550.1 361.3h0M482.5 396.2h0M552.1 372.4h0M492.5 339.8h0M503.2 404.5h0M494.8 367.8h0M514.7 351.5h0M470.9 373.2h0M553.5 400.4h0M489.5 393.7h0M540.4 378.2h0M495.0 348.3h0M528.1 386.1h0M481.0 344.1h0M471.5 397.1h0M545.6 373.0h0M519.2 387.7h0M475.6 373.3h0M503.6 400.2h0M476.3 398.5h0M474.2 380.3h0M546.2 339.1h0M507.0 333.5h0M509.4 370.6h0M552.7 370.7h0M547.9 389.4h0M541.4 360.2h0M469.7 382.3h0M471.3 381.5h0M477.7 379.8h0M534.1 407.3h0M479.8 346.7h0M501.0 408.3h0M485.0 369.8h0M497.1 338.0h0M512.3 356.9h0M505.7 390.2h0M524.6 352.1h0M522.7 374.6h0M534.0 333.5h0M487.5 385.1h0M514.1 372.1h0M511.4 380.8h0M531.2 397.6h0M535.3 403.1h0M515.8 346.4h0M496.0 399.7h0M534.7 381.0h0M472.8 345.6h0M523.5 365.8h0M478.5 408.0h0M482.7 404.6h0M520.2 406.8h0M535.0 348.7h0M482.4 399.7h0M502.2 372.0h0M532.3 379.7h0M529.6 373.4h0M487.0 388.8h0M472.6 389.0h0M537.0 344.2h0M460.7 403.7h0M478.4 374.3h0M488.4 343.8h0M485.3 338.9h0M541.8 392.5h0M535.8 344.5h0M491.6 340.7h0M542.1 408.4h0M551.6 398.2h0M519.4 371.6h0M471.5 335.7h0M520.0 407.4h0M554.8 365.4h0M510.6 401.1h0M487.7 389.8h0M518.2 366.7h0M497.9 345.4h0M474.6 356.1h0M555.5 396.3h0M461.3 391.5h0M474.1 377.6h0M549.0 403.0h0M545.7 409.7h0M521.2 335.6h0M484.9 384.8h0M517.8 403.5h0M476.9 401.5h0M516.0 378.9h0M472.1 360.6h0M509.9 391.4h0M525.9 382.6h0M528.8 360.4h0M492.7 408.6h0M524.9 376.4h0M553.3 399.9h0M529.8 408.6h0M497.4 404.6h0M515.9 366.0h0M499.1 337.0h0M545.7 408.3h0M496.8 406.2h0M473.0 368.8h0M555.9 382.0h0M475.6 382.1h0M463.0 388.8h0M517.0 382.9h0M525.4 340.7h0M545.3 392.1h0M546.3 351.0h0M482.4 388.9h0M549.1 377.1h0M483.9 367.2h0M483.6 370.4h0M552.7 385.5h0M480.0 403.8h0M544.8 364.3h0M460.6 384.6h0M491.7 343.0h0M547.8 364.1h0M476.3 355.1h0M556.2 360.3h0M505.8 352.6h0M468.3 343.4h0M466.2 368.3h0M501.9 387.5h0M540.6 400.6h0M474.0 376.2h0M474.2 356.0h0M497.7 363.5h0M541.6 366.0h0M475.9 379.5h0M485.5 403.0h0M470.9 345.2h0M466.8 356.1h0M535.7 339.4h0M519.0 402.4h0M482.7 390.6h0M530.0 407.5h0M542.4 381.7h0M501.4 361.6h0M472.2 337.3h0M522.4 355.0h0M475.6 370.1h0M474.5 382.2h0M552.0 361.9h0M463.7 346.1h0M490.5 401.7h0M551.3 379.9h0M498.6 340.6h0M541.1 335.1h0M485.5 389.7h0M527.1 347.5h0M555.6 383.6h0M526.7 351.2h0M537.0 335.2h0M518.3 334.8h0M536.1 378.7h0M515.1 361.8h0M535.7 335.8h0M475.2 334.1h0M520.8 338.2h0M461.2 399.0h0M490.7 361.3h0M540.3 361.7h0M541.3 409.5h0M470.8 351.4h0M461.6 353.5h0M517.5 408.8h0M536.9 388.7h0M474.6 404.7h0M502.1 393.1h0M479.2 408.4h0M497.6 355.8h0M543.4 384.6h0M499.0 367.9h0M531.5 362.5h0M511.2 371.5h0M498.8 360.2h0M485.3 394.3h0M523.7 346.6h0M476.5 363.5h0M517.6 372.1h0M522.7 387.3h0M488.8 338.3h0M523.8 374.8h0M492.8 401.5h0M474.4 342.2h0M520.9 362.8h0M523.2 340.2h0M507.1 380.6h0M502.2 344.3h0M468.1 357.3h0M488.5 401.2h0M467.0 390.9h0M552.2 373.2h0M476.6 380.4h0M549.6 364.9h0M530.4 349.3h0M485.4 360.4h0M519.0 405.6h0M476.0 336.5h0M485.0 383.0h0M526.1 374.6h0M529.9 370.3h0M475.6 407.1h0M493.0 333.8h0M476.9 353.1h0M529.4 356.3h0M477.2 386.2h0M523.8 383.9h0M486.2 403.1h0M522.3 369.4h0M548.5 351.5h0M489.2 377.8h0M516.1 376.1h0M469.6 391.4h0M554.4 361.0h0M540.2 342.9h0M471.1 378.8h0M550.3 376.8h0M482.8 344.7h0M548.5 387.5h0M555.7 353.6h0M533.5 346.3h0M472.6 363.9h0M494.0 392.1h0M501.5 357.8h0M545.5 399.7h0M503.6 393.0h0M468.1 357.2h0M544.8 371.7h0M471.3 350.2h0M546.0 363.0h0M556.0 408.5h0M516.6 399.3h0M494.6 394.2h0M466.0 370.8h0M462.2 353.9h0M550.5 381.7h0M465.0 397.8h0M544.6 406.8h0M503.0 344.3h0M534.6 378.6h0M465.1 371.3h0M519.7 392.8h0M520.3 357.4h0M468.9 336.9h0M471.7 364.7h0M497.9 403.9h0M508.8 396.9h0M525.7 387.4h0M541.5 399.4h0M527.2 371.3h0M542.2 352.5h0M485.4 342.8h0M478.9 342.0h0M478.3 357.6h0M528.1 409.2h0M522.1 387.9h0M512.1 344.6h0M530.3 378.4h0M504.5 398.2h0M551.7 346.2h0M462.2 362.1h0M515.8 371.8h0M488.8 353.0h0M503.1 340.1h0M507.7 402.2h0M545.0 393.1h0M478.0 363.5h0M471.9 348.5h0M464.1 338.2h0M530.0 354.0h0M525.2 371.1h0M485.2 384.2h0M507.6 348.1h0M486.6 371.8h0M483.4 370.4h0M495.8 405.9h0M475.1 394.0h0M476.5 336.5h0M540.7 391.9h0M499.1 402.4h0M488.6 362.3h0M542.4 395.2h0M551.7 359.2h0M531.0 404.0h0M528.8 359.6h0M549.9 395.6h0M464.8 370.6h0M553.7 395.0h0M527.6 338.9h0M541.9 353.6h0M481.4 390.1h0M506.3 410.1h0M541.0 339.6h0M464.7 347.0h0M467.4 354.5h0M496.1 334.6h0M530.1 395.6h0M496.8 371.4h0M517.0 409.3h0M533.7 348.2h0M513.8 356.6h0M547.3 400.4h0M505.1 406.4h0M536.0 396.6h0M494.8 397.0h0M476.1 397.4h0M497.1 403.4h0M505.2 354.4h0M486.1 359.8h0M544.8 369.3h0M492.3 407.7h0M536.1 337.4h0M509.0 405.7h0M498.6 333.5h0M515.1 390.2h0M533.2 383.2h0M500.2 366.5h0M471.4 404.9h0M555.6 342.3h0M473.6 335.3h0M495.8 391.3h0M496.2 353.0h0M504.4 381.3h0M515.2 372.0h0M500.3 367.7h0M522.7 356.9h0M555.2 383.9h0M541.5 383.3h0M556.4 334.1h0M488.6 375.7h0M550.2 367.2h0M479.8 379.8h0M555.6 334.1h0M468.1 381.1h0M476.7 404.7h0M463.2 388.3h0M489.6 379.2h0M524.5 371.8h0M494.1 407.1h0M503.2 349.3h0M461.3 381.3h0M481.5 374.8h0M484.0 341.8h0M506.8 382.9h0M500.0 407.6h0M545.3 383.9h0M527.3 401.6h0M501.9 405.3h0M484.2 405.8h0M544.2 341.0h0M461.0 379.8h0M497.3 367.4h0M465.7 367.0h0M519.5 391.7h0M516.3 387.2h0M502.4 405.8h0M482.9 371.2h0M495.3 399.3h0M497.1 342.2h0M530.7 384.6h0M488.5 404.5h0M461.0 353.6h0M545.4 398.6h0M512.8 356.1h0M465.6 389.8h0M472.0 407.8h0M477.7 350.8h0M465.0 362.5h0M505.4 394.0h0M476.9 339.9h0M490.3 404.9h0M488.5 361.5h0M552.4 397.6h0M502.0 390.6h0M498.2 379.7h0M529.0 354.5h0M465.8 388.2h0M528.5 400.6h0M468.4 372.8h0M510.0 351.6h0M501.7 379.0h0M549.0 341.4h0M476.6 407.6h0M509.3 366.9h0M540.7 407.3h0M494.8 408.9h0M515.5 366.5h0M527.6 374.5h0M527.0 340.2h0M537.8 350.9h0M488.8 380.4h0M518.8 376.1h0M479.2 356.3h0M521.1 366.4h0M469.1 355.0h0M508.9 377.4h0M554.7 378.7h0M545.3 400.7h0M473.5 335.6h0M545.5 365.7h0M522.3 409.4h0M461.7 367.5h0M531.5 361.5h0M529.6 353.9h0M542.5 382.6h0M469.6 379.9h0M490.4 348.3h0M549.8 344.4h0M514.4 361.7h0M514.4 368.7h0M499.1 386.5h0M478.1 377.5h0M517.0 357.2h0M468.7 390.7h0M517.7 403.4h0M543.8 345.6h0M554.2 360.0h0M508.5 357.2h0M517.5 387.4h0M487.5 352.5h0M518.6 372.2h0M515.5 342.0h0M550.4 402.0h0M472.6 355.5h0M464.4 338.6h0M462.5 347.9h0M517.6 405.3h0M509.9 344.5h0M541.6 343.6h0M520.9 365.7h0M503.7 343.1h0M471.8 383.5h0M525.5 368.2h0M493.6 390.7h0M502.6 399.7h0M521.2 336.9h0M473.7 358.8h0M461.5 385.0h0M544.5 397.2h0M513.3 377.6h0M547.5 359.9h0M549.6 340.1h0M465.0 389.9h0M539.1 345.4h0M494.1 398.4h0M550.7 403.7h0M510.9 379.4h0M549.5 406.4h0M478.7 401.2h0M550.0 378.0h0M484.2 366.3h0M532.4 394.6h0M503.2 337.8h0M472.5 350.6h0M490.1 360.6h0M501.7 364.8h0M490.8 370.8h0M461.6 358.9h0M534.5 397.6h0M466.1 373.6h0M523.4 340.0h0M500.7 378.4h0M482.7 352.5h0M462.9 370.9h0M512.0 350.8h0M515.3 365.1h0M468.7 379.7h0M544.9 383.7h0M549.3 382.9h0M473.8 404.7h0M484.5 351.2h0M479.7 376.9h0M500.1 353.5h0M471.2 343.7h0M494.2 347.2h0M464.0 366.0h0M515.2 378.6h0M546.8 346.7h0M525.9 367.9h0M494.1 342.0h0M467.5 337.9h0M480.2 400.0h0M520.9 344.7h0M523.2 389.5h0M515.3 357.3h0M546.2 376.9h0M497.0 407.0h0M535.7 390.4h0M509.0 409.2h0M497.2 354.5h0M467.2 394.7h0M540.4 363.0h0M550.3 366.8h0M462.0 402.0h0M468.1 406.8h0M513.5 376.4h0M506.4 373.1h0M556.4 390.6h0M526.5 353.3h0M485.5 402.0h0M503.0 340.0h0M503.0 406.3h0M462.8 403.5h0M485.4 368.2h0M516.1 372.4h0M510.9 375.4h0M479.3 344.5h0M554.1 340.0h0M544.9 351.4h0M488.3 386.7h0M515.2 401.5h0M492.6 384.0h0M465.0 371.7h0M500.1 384.3h0M541.6 394.4h0M465.0 357.9h0M529.3 355.0h0M484.1 402.4h0M542.4 374.3h0M509.3 396.8h0M507.6 372.5h0M494.8 348.3h0M542.0 378.4h0M528.4 388.2h0M477.4 375.6h0M461.4 350.6h0M517.9 400.5h0M537.4 395.9h0M468.5 369.8h0M515.8 363.3h0M547.6 361.0h0M540.4 391.3h0M517.4 370.2h0M508.1 406.8h0M489.8 338.0h0M492.0 360.5h0M494.7 352.5h0M518.8 348.2h0M525.0 351.1h0M473.8 395.9h0M547.7 399.4h0M528.7 370.4h0M512.5 398.2h0M479.0 357.3h0M556.3 358.3h0M501.7 349.1h0M503.4 370.0h0M503.5 358.8h0M543.6 407.8h0M525.9 346.4h0M553.1 389.6h0M527.9 364.0h0M484.7 405.5h0M492.9 362.0h0M475.4 403.6h0M539.7 339.0h0M482.0 359.4h0M475.8 345.3h0M465.5 369.7h0M521.6 372.5h0M494.6 368.7h0M515.3 374.2h0M531.7 378.4h0M535.9 363.6h0M509.9 377.2h0M554.1 410.1h0M470.9 371.3h0M499.7 394.0h0M543.1 384.3h0M472.6 407.4h0M503.4 342.8h0M497.0 391.4h0M552.0 379.6h0M536.8 334.3h0M490.3 390.2h0M476.1 337.5h0M504.8 336.5h0M463.9 338.8h0M513.7 382.8h0M534.2 355.5h0M519.6 408.6h0M554.2 380.9h0M523.2 353.6h0M480.7 394.9h0M504.8 402.4h0M548.0 406.2h0M485.1 390.3h0M545.8 408.6h0M519.6 351.0h0M496.2 365.9h0M516.6 389.3h0M497.7 345.9h0M505.2 396.5h0M551.8 363.5h0M488.0 387.2h0M542.6 357.5h0M488.8 409.3h0M470.5 387.0h0M516.9 392.3h0M515.7 388.5h0M469.8 333.8h0M528.6 376.0h0M461.7 380.2h0M462.6 397.7h0M533.5 373.8h0M495.5 393.1h0M467.2 363.8h0M542.2 406.9h0M521.9 335.5h0M502.2 340.7h0M501.8 393.2h0M512.6 343.8h0M508.4 367.1h0M487.4 368.7h0M510.5 383.9h0M503.4 344.9h0M544.0 355.3h0M552.7 337.2h0M542.4 408.2h0M470.8 364.1h0M497.5 361.8h0M499.7 369.6h0M493.3 387.6h0M512.9 362.3h0M537.0 350.6h0M528.9 346.3h0M512.7 394.4h0M494.2 410.0h0M462.8 410.0h0M546.8 350.0h0M540.7 386.4h0M501.1 402.6h0M545.0 354.6h0M536.9 395.3h0M526.9 400.5h0M490.8 335.5h0M511.6 368.6h0M499.2 371.3h0M548.2 398.1h0M517.2 381.5h0M500.9 401.0h0M494.5 345.7h0M517.3 334.7h0M507.4 351.6h0M529.8 377.6h0M494.5 350.8h0M496.3 342.7h0M516.8 386.0h0M524.5 375.0h0M529.3 409.3h0M480.0 360.5h0M522.2 358.5h0M469.3 400.7h0M540.2 365.0h0M463.4 352.9h0M523.8 371.1h0M511.8 404.7h0M552.0 363.8h0M516.6 394.5h0M547.1 335.8h0M525.1 376.6h0M507.0 402.5h0M499.0 374.6h0M552.7 369.5h0M516.3 336.6h0M494.6 396.0h0M495.4 358.7h0M462.0 364.1h0M508.0 392.2h0M484.9 377.0h0M512.3 380.2h0M471.5 345.2h0M466.6 338.9h0M544.1 355.1h0M478.8 337.7h0M499.3 407.1h0M541.5 370.3h0M527.5 340.5h0M469.4 391.9h0M508.6 364.6h0M551.0 353.1h0M468.9 377.7h0M465.1 391.5h0M484.0 352.6h0M473.7 378.2h0M510.3 379.1h0M543.6 403.5h0M471.5 409.9h0M470.8 341.1h0M535.1 394.5h0M468.2 358.9h0M535.5 396.8h0M536.0 389.9h0M483.2 337.0h0M552.8 359.0h0M493.3 382.7h0M477.3 346.5h0M494.6 359.6h0M484.1 406.6h0M513.9 375.9h0M499.8 340.9h0M529.6 400.5h0M464.1 402.9h0M535.1 377.7h0M481.7 352.6h0M530.2 374.4h0M489.5 350.7h0M534.0 405.0h0M525.9 409.6h0M514.3 376.3h0M529.7 370.6h0M502.5 399.0h0M515.5 374.1h0M516.7 361.0h0M511.2 383.7h0M528.9 374.2h0M497.7 336.0h0M550.1 388.9h0M539.2 339.9h0M544.8 390.7h0M501.4 388.7h0M513.1 379.6h0M508.3 368.5h0M543.6 359.7h0M465.3 336.4h0M472.6 392.5h0M471.6 344.8h0M535.6 393.1h0M522.1 391.4h0M512.8 403.8h0M502.9 347.0h0M511.9 366.4h0M491.7 395.9h0M507.0 400.2h0M479.5 357.8h0M530.4 408.7h0M510.1 403.3h0M532.1 378.9h0M485.4 370.8h0M464.7 385.2h0M466.6 339.2h0M541.3 395.0h0M526.2 408.5h0M486.1 384.6h0M500.7 408.6h0M491.7 355.8h0M476.7 403.5h0M489.3 398.0h0M492.6 392.0h0M487.8 387.4h0M506.4 381.9h0M507.1 404.5h0M464.9 355.3h0M522.7 370.8h0M474.0 374.4h0M505.0 337.0h0M501.3 397.1h0M477.0 397.4h0M468.4 369.1h0M513.8 351.1h0M517.4 384.0h0M483.8 338.3h0M544.5 369.2h0M463.2 408.2h0M463.1 359.1h0M475.4 345.2h0M546.7 368.4h0M463.3 393.7h0M515.5 343.7h0M551.0 401.2h0M483.6 382.9h0M533.4 372.1h0M502.8 358.1h0M549.5 346.4h0M550.4 355.9h0M497.2 408.6h0M490.4 382.7h0M499.9 383.1h0M532.3 339.8h0M483.3 359.2h0M496.5 406.6h0M491.6 354.6h0M523.5 383.8h0M499.7 341.1h0M553.5 369.1h0M529.4 346.4h0M460.8 390.0h0M517.5 336.9h0M545.1 407.1h0M508.7 396.3h0M518.6 387.8h0M478.7 410.0h0M524.4 405.1h0M463.4 354.2h0M476.5 394.4h0M535.7 337.9h0M463.6 408.6h0M547.9 408.4h0M491.5 408.2h0M496.9 342.9h0M501.5 404.4h0M477.3 383.7h0M502.9 398.7h0M461.4 361.6h0M505.8 335.4h0M538.1 402.2h0M516.6 352.5h0M506.6 388.4h0M517.2 376.1h0M510.3 381.8h0M474.3 406.5h0M519.6 358.9h0M500.0 358.9h0M517.7 356.4h0M518.7 375.1h0M532.2 399.1h0M528.6 380.8h0M528.7 398.8h0M486.8 363.4h0M486.2 338.9h0M499.4 339.0h0M554.8 357.5h0M488.4 374.5h0M501.8 374.6h0M460.9 339.4h0M520.8 365.4h0M512.5 352.1h0M549.2 401.0h0M550.9 388.9h0M464.4 364.8h0M499.2 393.8h0M490.1 372.9h0M467.0 338.1h0M518.1 382.5h0M485.4 375.5h0M519.0 348.5h0M513.6 386.5h0M508.8 386.1h0M460.7 363.4h0M481.5 370.7h0M484.0 373.1h0M464.8 359.8h0M471.5 401.1h0M512.9 402.9h0M551.9 380.6h0M475.2 366.1h0M479.4 339.4h0M490.1 391.7h0M482.9 338.9h0M478.6 366.2h0M482.7 337.3h0M547.0 375.7h0M487.0 398.3h0M550.5 381.7h0M507.5 410.1h0M512.4 343.9h0M515.4 378.0h0M512.0 342.5h0M549.4 393.2h0M486.8 356.4h0M467.0 366.3h0M514.1 352.7h0M468.5 372.2h0M524.3 337.6h0M538.7 378.9h0M513.9 344.0h0M555.0 375.5h0M507.9 362.7h0M504.3 389.7h0M534.4 364.5h0M494.4 379.5h0M524.0 386.2h0M496.9 389.9h0M465.0 372.4h0M469.2 342.6h0M485.6 384.2h0M554.9 338.4h0M541.4 367.6h0M551.4 339.7h0M501.6 397.4h0M508.7 380.2h0M554.4 401.3h0M485.3 383.4h0M537.0 392.4h0M524.1 346.8h0M479.9 352.4h0M540.0 390.4h0M519.7 409.5h0M466.5 400.3h0M534.6 395.4h0M535.2 360.0h0M484.3 395.3h0M474.6 387.4h0M462.9 360.5h0M548.2 366.0h0M507.9 377.2h0M554.1 378.8h0M551.4 348.2h0M521.3 403.9h0M512.9 387.7h0M551.2 395.4h0M552.6 348.4h0M531.8 373.8h0M475.1 377.9h0M516.0 383.3h0M539.1 402.3h0M543.6 342.2h0M499.1 384.2h0M546.9 354.1h0M504.2 359.1h0M543.9 384.0h0M529.5 374.5h0M470.7 397.1h0M511.1 404.6h0M462.8 391.1h0M469.6 344.3h0M498.2 384.7h0M551.4 404.1h0M486.3 356.5h0M551.5 407.4h0M548.6 363.1h0M506.8 355.6h0M528.9 351.8h0M492.9 370.8h0M506.8 347.8h0M512.5 373.2h0M484.1 341.1h0M486.0 364.6h0M495.1 375.3h0M468.4 384.2h0M461.6 392.2h0M533.2 340.7h0M527.7 379.7h0M522.8 369.0h0M523.5 401.7h0M484.1 393.2h0M539.8 358.5h0M534.7 387.4h0M494.6 393.5h0M507.1 355.4h0M475.1 333.8h0M474.5 358.3h0M512.4 410.2h0M533.9 343.8h0M460.8 397.8h0M473.9 347.6h0M538.8 364.3h0M503.7 349.3h0M544.3 339.3h0M553.3 367.4h0M463.9 382.0h0M524.6 366.1h0M525.7 369.8h0M491.5 410.1h0M484.2 339.8h0M526.1 379.4h0M553.6 357.8h0M489.3 348.4h0M462.7 368.3h0M515.4 340.8h0M483.1 389.0h0M534.5 371.3h0" stroke="#bc4e3e" stroke-width="1.20" stroke-linecap="round" stroke-opacity="0.8"/>
<path d="M512.3 337.7h0M514.9 354.3h0M519.7 366.6h0M507.7 386.3h0M481.3 352.5h0M524.9 347.0h0M490.0 407.7h0M549.0 339.8h0M544.9 344.4h0M469.9 381.6h0M555.5 357.2h0M542.1 410.2h0M503.9 377.4h0M482.1 347.3h0M483.8 386.3h0M504.4 378.5h0M498.5 358.9h0M512.0 360.1h0M467.9 336.4h0M545.1 361.6h0M486.6 381.0h0M463.1 378.7h0M516.7 375.7h0M525.2 409.7h0M555.3 399.5h0M500.4 371.7h0M484.7 403.8h0M538.6 361.6h0M539.4 346.8h0M505.3 384.0h0M555.0 374.1h0M542.0 364.7h0M489.3 349.5h0M462.3 362.0h0M474.7 365.2h0M538.7 396.0h0M546.2 345.9h0M498.3 392.4h0M502.1 391.7h0M532.4 409.9h0M539.1 374.7h0M494.4 360.9h0M508.3 388.7h0M512.3 401.4h0M543.5 352.8h0M541.8 372.5h0M466.4 379.5h0M479.7 406.8h0M532.1 399.1h0M540.1 383.2h0M542.8 402.2h0M507.5 395.8h0M533.0 395.9h0M509.7 385.2h0M522.8 376.6h0M461.7 401.2h0M503.3 380.5h0M496.4 406.7h0M532.8 396.6h0M503.1 379.7h0M468.6 405.0h0M461.4 370.1h0M486.8 372.0h0M488.2 362.0h0M541.4 367.6h0M525.0 341.6h0M470.4 352.3h0M499.7 372.4h0M479.2 354.4h0M467.5 349.6h0M550.9 409.0h0M548.2 382.5h0M483.1 355.2h0M543.0 391.3h0M489.7 355.0h0M551.4 375.6h0M538.8 377.5h0M471.1 351.4h0M512.7 360.9h0M551.4 344.9h0M488.3 405.5h0M490.5 354.6h0M522.1 397.2h0M471.5 367.9h0M536.5 386.2h0M500.0 377.2h0M466.1 406.1h0M527.1 401.0h0M501.3 409.4h0M512.5 406.9h0M493.3 401.4h0M463.3 384.7h0M551.9 383.6h0M548.8 350.0h0M480.2 399.9h0M550.9 409.9h0M474.8 398.9h0M499.0 363.5h0M541.2 333.8h0M489.2 361.4h0M517.2 336.2h0M511.9 383.1h0M525.0 365.8h0M526.9 383.3h0M516.9 404.8h0M516.6 354.1h0M504.5 353.6h0M478.7 356.0h0M531.9 340.7h0M551.1 369.2h0M506.1 376.6h0M517.9 392.9h0M502.8 356.2h0M541.2 382.8h0M507.6 408.4h0M536.2 335.5h0M477.8 378.9h0M522.5 339.7h0M478.8 346.2h0M482.2 339.8h0M490.9 377.5h0M530.2 396.3h0M548.6 403.0h0M518.5 358.2h0M462.3 344.8h0M513.3 406.4h0M550.7 360.3h0M519.9 365.7h0M528.4 361.7h0M482.7 340.4h0M506.0 364.9h0M466.1 386.4h0M529.2 360.5h0M502.2 336.7h0M491.9 377.8h0M502.0 350.0h0M496.6 370.5h0M536.5 363.1h0M470.9 380.9h0M498.5 385.6h0M509.3 375.7h0M498.6 395.5h0M474.9 368.1h0M509.9 340.4h0M500.1 392.8h0M517.0 383.8h0M489.7 406.9h0M549.0 384.2h0M509.6 369.8h0M513.3 376.0h0M555.0 387.3h0M509.8 383.2h0M470.2 388.6h0M488.8 347.5h0M549.8 340.3h0M516.1 365.7h0M487.9 381.1h0M503.9 337.6h0M522.0 349.9h0M489.6 361.4h0M535.1 395.7h0M514.9 367.6h0M514.3 381.6h0M492.0 362.1h0M534.3 386.4h0M555.1 347.4h0M525.0 370.3h0M533.6 333.5h0M539.9 370.7h0M512.2 367.9h0M541.8 409.8h0M504.0 354.8h0M552.4 355.3h0M532.6 407.8h0M490.3 397.3h0M534.4 405.3h0M476.0 396.9h0M550.6 341.6h0M548.4 343.8h0M495.0 377.0h0M480.8 357.4h0M506.1 337.6h0M482.7 353.4h0M513.6 351.2h0M544.1 341.8h0M500.0 396.9h0M547.1 409.6h0M485.5 340.3h0M476.3 401.5h0M473.1 363.5h0M498.5 365.1h0M526.1 369.8h0M510.3 399.8h0M460.5 409.6h0M475.8 334.8h0M550.1 386.2h0M488.9 380.7h0M480.2 356.6h0M486.6 388.4h0M532.3 368.3h0M549.3 334.7h0M518.1 391.2h0M527.7 375.8h0M538.0 409.3h0M460.8 400.4h0M469.6 335.4h0M472.7 385.8h0M536.2 390.5h0M508.2 387.4h0M524.3 389.5h0M481.5 372.9h0M537.2 399.7h0M472.5 397.2h0M544.0 357.5h0M515.5 351.5h0M478.9 401.6h0M492.7 366.3h0M551.3 384.1h0M469.3 337.6h0M509.3 372.2h0M550.6 353.5h0M514.9 377.8h0M524.9 384.0h0M521.6 349.1h0M506.2 383.9h0M555.8 379.2h0M529.2 378.5h0M525.1 341.8h0M532.2 364.9h0M489.3 376.9h0M506.0 362.6h0M484.0 374.9h0M537.0 346.6h0M530.6 357.3h0M509.8 347.3h0M538.4 356.0h0M477.1 354.7h0M531.7 380.9h0M472.1 403.1h0M464.4 406.9h0M486.5 371.8h0M475.3 364.6h0M470.9 368.5h0M531.6 371.2h0M518.7 400.9h0M520.9 398.4h0M495.7 345.5h0M472.7 395.6h0M460.5 335.2h0M489.2 371.7h0M538.3 362.4h0M489.8 345.3h0M540.8 343.4h0M462.1 358.4h0M472.4 389.8h0M478.0 350.6h0M492.8 344.0h0M514.2 333.4h0M538.4 395.0h0M511.9 368.3h0M552.3 403.9h0M482.0 382.3h0M538.1 354.0h0M500.0 370.7h0M464.5 383.8h0M473.2 409.3h0M497.0 347.3h0M545.5 380.0h0M536.4 364.8h0M526.9 386.1h0M508.7 400.0h0M523.7 343.8h0M466.0 390.8h0M527.9 339.4h0M461.9 408.5h0M528.5 392.9h0M521.7 336.4h0M528.3 390.1h0M530.5 388.1h0M465.4 370.9h0M551.0 362.0h0M478.6 400.0h0M489.5 403.3h0M525.3 388.1h0M554.3 382.8h0M516.5 354.3h0M518.5 365.3h0M470.5 336.6h0M510.4 342.7h0M499.8 348.8h0M487.4 350.7h0M534.3 346.4h0M545.2 385.4h0M524.8 365.9h0M501.5 408.0h0M528.0 382.9h0M461.8 353.2h0M533.0 383.0h0M514.6 379.9h0M541.3 388.9h0M545.4 374.1h0M550.9 347.4h0M504.7 351.3h0M468.1 350.6h0M504.1 397.9h0M477.4 354.1h0M476.8 405.6h0M541.8 385.4h0M547.8 406.9h0M520.2 362.9h0M515.3 396.9h0M550.5 367.5h0M463.2 395.5h0M492.3 347.5h0M547.1 407.5h0M487.9 393.8h0M466.2 364.5h0M473.5 407.1h0M510.8 377.7h0M528.3 404.5h0M515.9 346.1h0M494.5 368.0h0M523.8 347.6h0M473.9 363.7h0M532.1 389.3h0M515.1 406.1h0M517.8 365.4h0M489.3 403.6h0M461.9 355.4h0M504.0 381.3h0M482.8 401.0h0M475.8 346.6h0M477.8 342.4h0M467.0 384.6h0M553.4 345.0h0M508.2 397.7h0M545.4 376.9h0M539.5 353.8h0M505.0 372.7h0M527.4 395.8h0M467.1 398.7h0M485.4 370.8h0M550.7 405.3h0M556.5 401.6h0M466.8 379.1h0M491.6 400.8h0M550.2 371.8h0M520.2 378.7h0M535.0 335.5h0M461.4 378.6h0M485.1 367.7h0M521.7 355.8h0M554.0 408.8h0M507.1 392.9h0M548.0 395.2h0M483.8 359.7h0M527.1 387.3h0M470.7 346.6h0M502.0 335.5h0M533.1 366.4h0M500.0 342.3h0M476.2 376.5h0M543.3 378.5h0M483.8 365.7h0M505.8 403.6h0M471.2 386.8h0M550.6 345.0h0M477.2 389.4h0M554.4 387.8h0M467.9 347.7h0M495.6 385.5h0M520.0 363.7h0M498.5 348.1h0M531.7 343.7h0M546.9 385.8h0M547.5 349.2h0M546.7 396.7h0M533.9 393.8h0M492.1 346.7h0M515.6 368.8h0M543.3 399.5h0M474.3 387.3h0M517.6 381.1h0M539.4 346.9h0M531.8 341.7h0M513.7 342.3h0M541.9 390.7h0M531.9 387.4h0M542.5 355.3h0M548.9 359.3h0M499.0 346.1h0M521.3 401.1h0M516.3 336.2h0M512.8 400.9h0M485.6 405.9h0M488.3 393.5h0M468.5 357.0h0M473.5 358.2h0M556.1 334.4h0M518.9 408.5h0M469.5 359.3h0M489.6 358.4h0M515.0 404.9h0M555.6 357.6h0M472.7 398.0h0M463.0 408.6h0M554.5 350.7h0M461.9 391.5h0M546.3 394.3h0M544.2 351.9h0M502.7 367.6h0M509.6 346.1h0M506.1 386.4h0M539.9 395.2h0M543.7 400.5h0M511.0 348.2h0M463.9 352.1h0M510.9 407.5h0M543.6 362.3h0M523.5 380.8h0M527.5 379.5h0M518.2 400.4h0M553.1 407.1h0M475.2 384.2h0M539.7 361.0h0M519.7 384.0h0M532.7 395.8h0M511.9 372.3h0M513.3 397.9h0M529.7 409.2h0M484.8 343.2h0M527.5 349.4h0M486.4 377.4h0M554.2 392.4h0M493.6 366.2h0M467.3 409.7h0M550.6 398.0h0M476.4 405.4h0M554.0 397.1h0M475.5 387.8h0M512.6 390.2h0M553.7 402.4h0M479.2 362.8h0M491.6 353.6h0M524.7 402.3h0M479.9 390.3h0M544.6 359.3h0M516.3 370.3h0M480.3 350.6h0M476.0 368.1h0M537.8 407.5h0M469.8 395.3h0M539.9 380.6h0M546.7 374.1h0M507.4 390.3h0M517.1 372.4h0M492.0 378.5h0M532.8 383.2h0M525.7 355.8h0M493.6 366.3h0M461.8 358.2h0M517.0 405.3h0M462.0 336.3h0M508.4 350.5h0M470.3 384.3h0M524.1 398.4h0M543.4 372.8h0M484.7 346.1h0M535.4 362.1h0M504.8 349.1h0M489.9 380.4h0M543.2 395.8h0M517.3 382.0h0M513.9 408.2h0M461.9 366.8h0M462.8 378.6h0M554.0 381.0h0M498.4 391.5h0M478.0 346.2h0M497.5 390.3h0M469.8 385.6h0M521.4 350.4h0M479.5 347.7h0M495.4 339.0h0M504.6 405.8h0M529.3 367.8h0M551.8 348.6h0M529.1 379.0h0M512.3 401.4h0M519.6 391.9h0M515.4 377.7h0M522.4 393.6h0M523.7 368.9h0M499.2 376.6h0M466.4 406.1h0M484.6 408.1h0M512.2 381.9h0M463.1 370.1h0M541.8 408.5h0M495.1 337.3h0M513.0 375.6h0M475.5 335.4h0M505.8 389.1h0M484.2 408.0h0M529.0 335.9h0M493.7 385.9h0M526.7 377.2h0M523.5 379.0h0M466.3 337.1h0M460.8 340.1h0M493.6 348.5h0M529.4 397.5h0M539.3 383.9h0M481.1 348.8h0M461.1 351.6h0M522.1 348.3h0M464.3 405.1h0M510.0 389.5h0M504.7 400.2h0M497.4 336.0h0M546.9 384.4h0M493.3 396.1h0M475.0 359.4h0M530.3 373.9h0M508.8 390.8h0M461.6 391.6h0M465.6 408.4h0M493.3 388.6h0M533.8 397.2h0M466.6 369.8h0M517.1 403.0h0M520.3 345.9h0M490.0 354.7h0M476.2 353.3h0M492.6 370.9h0M486.0 339.7h0M474.7 376.9h0M523.3 341.9h0M540.2 340.7h0M552.6 373.0h0M487.7 340.5h0M528.1 393.2h0M550.1 404.5h0M525.5 345.1h0M504.2 368.4h0M521.1 341.2h0M496.9 388.3h0M484.0 358.8h0M528.3 388.3h0M488.8 387.0h0M499.1 369.1h0M516.6 396.3h0M483.4 375.8h0M480.0 384.5h0M473.0 363.0h0M537.4 341.1h0M469.0 350.0h0M472.0 395.7h0M470.7 398.6h0M530.9 379.3h0M481.7 341.0h0M555.0 398.7h0M533.5 393.6h0M467.9 394.1h0M553.7 350.9h0M514.5 365.7h0M481.2 370.4h0M483.6 373.3h0M486.5 373.6h0M479.3 356.8h0M529.2 336.1h0M479.6 383.4h0M552.4 399.9h0M505.1 391.4h0M545.8 397.4h0M494.9 364.4h0M473.2 388.8h0M553.6 338.7h0M537.5 354.3h0M545.2 392.4h0M483.6 403.2h0M532.4 375.9h0M507.9 368.1h0M477.9 365.9h0M497.3 363.4h0M549.8 397.8h0M531.8 402.3h0M484.8 397.0h0M529.3 384.0h0M545.7 349.6h0M555.9 378.8h0M481.2 380.4h0M461.8 378.2h0M527.5 391.8h0M467.0 390.7h0M554.5 398.6h0M544.1 383.3h0M520.4 377.7h0M521.5 340.7h0M500.1 391.6h0M509.2 377.7h0M513.3 345.8h0M541.0 391.5h0M548.8 407.9h0M465.7 373.0h0M532.2 404.2h0M480.0 347.9h0M545.0 365.6h0M501.6 360.0h0M519.1 376.1h0M471.6 334.8h0M469.9 380.7h0M506.1 408.2h0M483.2 366.1h0M550.2 373.4h0M496.6 360.1h0M508.9 391.8h0M469.2 348.8h0M480.3 371.9h0M465.4 356.4h0M500.5 353.7h0M522.0 358.5h0M465.2 398.3h0M550.6 391.5h0M496.4 361.1h0M507.7 350.5h0M492.8 343.9h0M480.5 398.6h0M493.3 382.6h0M551.3 403.0h0M463.5 383.8h0M546.6 358.6h0M531.9 406.6h0M486.9 376.9h0M536.2 401.8h0M469.0 335.2h0M493.7 396.0h0M471.0 346.2h0M492.0 358.9h0M479.5 341.8h0M539.5 405.8h0M537.6 342.2h0M503.8 368.4h0M495.1 405.9h0M507.3 406.6h0M540.9 335.9h0M522.2 367.8h0M479.3 403.1h0M554.0 376.8h0M479.5 373.2h0M465.6 403.4h0M510.7 347.0h0M541.8 397.9h0M485.9 381.4h0M462.9 364.7h0M514.1 387.4h0M475.4 392.7h0M500.5 390.0h0M495.5 374.4h0M491.8 347.5h0M509.2 361.2h0M518.6 376.3h0M481.8 337.0h0M550.2 385.3h0M547.9 400.2h0M476.7 380.7h0M551.7 383.0h0M502.4 394.7h0M503.3 339.8h0M538.0 372.0h0M528.7 373.8h0M548.8 390.8h0M530.0 403.0h0M488.7 386.2h0M471.2 394.5h0M490.7 351.2h0M549.2 406.3h0M504.4 369.0h0M530.3 373.5h0M518.1 367.2h0M528.3 360.8h0M556.1 342.3h0M533.5 404.3h0M507.5 381.3h0M490.3 338.5h0M524.1 386.9h0M466.7 353.8h0M540.0 368.1h0M478.5 391.1h0M507.3 354.4h0M544.1 381.6h0M486.3 398.8h0M540.1 376.8h0M463.5 384.7h0M503.9 395.8h0M525.8 364.2h0M503.6 363.0h0M489.1 355.3h0M520.8 381.5h0M546.7 385.3h0M498.7 410.2h0M497.6 409.0h0M489.5 366.3h0M550.9 370.4h0M551.8 400.1h0M484.5 354.3h0M498.6 389.9h0M542.3 358.1h0M499.4 386.9h0M501.1 373.6h0M472.0 379.8h0M501.2 375.1h0M531.8 371.5h0M484.5 359.2h0M515.4 369.2h0M509.5 362.3h0M492.3 405.2h0M552.0 364.8h0M543.9 401.6h0M526.3 382.0h0M470.5 335.7h0M519.6 375.1h0M505.3 339.2h0M547.4 348.3h0M493.0 379.3h0M499.1 358.6h0M514.6 385.9h0M476.7 366.7h0M489.3 376.3h0M499.4 344.2h0M554.9 386.6h0M502.3 366.2h0M507.3 365.2h0M464.6 358.6h0M532.0 395.1h0M538.7 380.7h0M543.3 345.6h0M512.1 404.8h0M491.9 383.1h0M501.7 336.3h0" stroke="#d48a7a" stroke-width="1.20" stroke-linecap="round" stroke-opacity="0.7"/>
<path d="M551.7 402.6h0M504.8 403.6h0M491.6 360.9h0M546.1 347.5h0M514.8 365.2h0M524.4 346.1h0M530.4 359.0h0M462.0 364.0h0M547.6 339.5h0M507.1 382.7h0M498.1 334.6h0M515.3 399.0h0M472.2 397.0h0M548.1 408.9h0M473.1 385.3h0M510.1 334.1h0M512.0 349.8h0M517.5 374.4h0M506.3 349.2h0M553.6 361.4h0M534.6 346.2h0M550.5 336.8h0M539.5 345.0h0M508.5 343.1h0M473.2 386.9h0M474.6 392.2h0M463.2 399.3h0M545.1 395.7h0M511.2 358.1h0M542.8 342.3h0M481.9 371.8h0M523.0 345.4h0M527.6 359.6h0M508.5 343.5h0M487.6 371.4h0M502.7 378.5h0M524.8 339.5h0M529.2 377.5h0M554.3 371.8h0M465.4 346.7h0M523.9 337.4h0M503.1 393.9h0M472.9 379.5h0M554.0 402.8h0M474.1 369.8h0M506.4 376.6h0M495.4 378.1h0M531.6 373.5h0M522.4 353.2h0M517.9 408.9h0M538.9 393.1h0M529.5 401.2h0M466.1 344.5h0M482.9 388.6h0M487.5 376.5h0M465.8 342.7h0M528.2 390.4h0M475.4 392.6h0M522.3 363.8h0M485.4 400.0h0M510.9 339.5h0M528.4 390.7h0M488.6 355.6h0M506.2 378.5h0M550.3 378.4h0M540.4 378.1h0M484.4 365.1h0M472.7 398.3h0M525.9 380.5h0M503.7 367.9h0M482.2 384.6h0M534.4 373.5h0M494.6 396.2h0M478.7 381.6h0M471.5 363.5h0M518.6 384.0h0M547.0 381.7h0M485.3 341.1h0M524.2 407.9h0M513.1 370.5h0M486.1 348.1h0M467.6 355.1h0M507.8 389.4h0M537.7 362.7h0M471.6 334.1h0M540.1 360.6h0M532.6 385.0h0M472.8 337.1h0M472.3 391.4h0M463.9 402.3h0M512.2 345.9h0M469.9 350.4h0M489.2 407.8h0M545.2 379.5h0M549.3 387.1h0M532.0 409.9h0M462.2 354.1h0M480.9 348.6h0M473.0 384.3h0M531.9 370.2h0M530.8 368.3h0M536.5 402.9h0M539.0 375.5h0M551.4 401.3h0M501.6 408.5h0M485.7 408.6h0M538.2 377.6h0M491.8 371.3h0M522.3 339.0h0M536.2 371.4h0M499.3 333.4h0M534.5 360.4h0M541.8 408.0h0M541.5 382.5h0M484.1 355.5h0M501.2 399.9h0M469.1 368.1h0M508.3 344.6h0M518.8 348.5h0M472.5 334.2h0M553.1 347.4h0M525.2 372.5h0M546.1 395.7h0M535.6 381.5h0M547.9 376.6h0M510.0 389.0h0M504.9 386.1h0M546.1 353.5h0M546.7 366.4h0M528.3 357.2h0M515.5 346.8h0M539.9 337.6h0M470.1 337.6h0M524.8 339.3h0M476.7 349.2h0M519.1 357.6h0M532.7 398.6h0M484.8 384.1h0M537.6 339.0h0M507.9 396.5h0M493.9 336.6h0M529.7 347.2h0M554.2 338.7h0M501.5 359.2h0M499.6 359.6h0M509.4 359.1h0M522.2 372.3h0M465.6 333.8h0M537.6 373.2h0M491.9 401.1h0M466.4 351.1h0M475.7 348.9h0M468.9 358.8h0M476.1 341.3h0M504.6 371.7h0M544.6 363.6h0M490.1 405.1h0M531.1 359.6h0M500.5 354.6h0M502.3 397.5h0M541.8 397.9h0M481.1 373.7h0M474.8 390.8h0M518.9 391.7h0M552.8 403.9h0M524.1 400.7h0M536.7 354.2h0M556.2 405.9h0M494.4 344.5h0M492.7 404.8h0M476.0 396.2h0M548.9 362.5h0M507.8 360.6h0M491.8 380.6h0M545.2 378.3h0M473.4 345.6h0M460.6 389.4h0M545.1 353.7h0M492.6 341.9h0M541.0 405.4h0M473.9 398.5h0M551.7 406.5h0M488.8 397.2h0M544.6 399.4h0M462.8 338.2h0M478.6 377.8h0M518.6 366.1h0M493.5 355.1h0M484.5 397.2h0M514.1 340.1h0M540.6 388.9h0M554.9 387.1h0M543.2 380.8h0M468.7 346.2h0M471.4 363.2h0M553.9 339.8h0M467.3 345.5h0M494.7 402.0h0M473.9 394.4h0M490.3 368.7h0M472.6 340.3h0M514.3 379.0h0M541.5 352.6h0M549.7 395.3h0M474.3 359.7h0M494.8 406.1h0M473.6 340.8h0M539.0 348.1h0M507.3 333.5h0M524.1 384.8h0M477.7 392.4h0M537.6 360.8h0M530.6 373.8h0M535.3 354.8h0M467.0 342.2h0M524.8 349.7h0M546.3 367.9h0M470.2 394.1h0M516.8 356.9h0M493.8 351.5h0M553.3 386.8h0M463.8 368.7h0M464.8 391.4h0M526.7 405.5h0M498.0 341.2h0M537.9 401.6h0M533.5 362.1h0M496.3 342.3h0M538.2 395.4h0M501.6 368.1h0M499.9 388.8h0M523.5 400.0h0M529.4 382.5h0M477.0 409.4h0M554.2 371.3h0M551.0 350.8h0M524.1 358.9h0M507.7 343.5h0M532.8 396.9h0M550.2 409.3h0M469.9 351.9h0M523.7 378.9h0M474.5 405.0h0M548.0 357.9h0M535.4 343.2h0M533.7 352.3h0" stroke="#c8b0c4" stroke-width="1.20" stroke-linecap="round" stroke-opacity="0.7"/>
<path d="M494.8 346.6h0M521.2 388.1h0M470.0 361.0h0M519.5 392.5h0M478.4 385.7h0M514.3 397.6h0M496.2 404.6h0M486.4 355.8h0M544.5 408.4h0M551.8 355.8h0M464.2 348.7h0M481.4 404.3h0M539.2 350.9h0M509.6 381.5h0M541.4 397.3h0M554.7 357.5h0M525.9 341.1h0M487.0 385.8h0M503.8 399.2h0M536.7 396.0h0M547.9 386.7h0M531.1 387.1h0M464.3 384.1h0M549.4 359.2h0M525.9 338.9h0M476.6 377.7h0M524.6 338.1h0M496.9 350.2h0M540.6 405.2h0M511.5 347.5h0M500.9 403.7h0M553.0 387.4h0M461.1 361.3h0M544.7 393.2h0M474.5 341.3h0M541.4 356.3h0M554.1 408.3h0M499.3 401.6h0M521.6 369.2h0M471.0 342.8h0M524.2 407.3h0M503.4 346.7h0M535.1 364.6h0M472.0 410.0h0M512.6 333.6h0M493.9 347.8h0M528.5 347.5h0M495.2 363.4h0M544.6 356.8h0M470.8 379.3h0M530.9 359.3h0M513.9 404.2h0M491.2 392.3h0M509.6 363.9h0M534.2 359.7h0M508.2 408.1h0M481.5 344.2h0M507.1 370.4h0M553.7 405.2h0M511.3 394.3h0M469.8 365.2h0M529.9 362.6h0M506.3 354.4h0M482.5 407.4h0M538.7 408.3h0M516.3 341.1h0M522.4 401.3h0M530.5 405.2h0M547.5 384.4h0M512.3 363.4h0M523.7 369.2h0M528.5 385.0h0M475.0 360.7h0M553.7 387.6h0M554.1 370.5h0M529.8 372.7h0M489.2 393.1h0M550.1 405.7h0M525.7 355.9h0M548.9 374.7h0M518.4 389.2h0M505.6 343.8h0M517.4 407.0h0M536.8 385.7h0M494.1 378.9h0M481.3 401.3h0M479.7 335.2h0M466.7 350.4h0M467.9 340.0h0M514.0 355.5h0M529.4 349.5h0M544.6 407.9h0M512.3 335.9h0M487.4 355.7h0M539.1 334.5h0M513.8 350.0h0M486.5 364.3h0M552.9 389.9h0M537.7 340.7h0M541.1 342.7h0M466.4 371.4h0M540.1 388.1h0M465.4 374.9h0M547.6 366.1h0M487.0 345.0h0M494.8 378.8h0M501.2 334.4h0M476.4 362.9h0M497.7 363.6h0M461.7 343.3h0M509.1 374.8h0M499.5 357.1h0M528.4 341.1h0M473.1 362.3h0M464.8 337.9h0M465.5 401.1h0M477.3 389.1h0M537.9 390.0h0M552.0 368.5h0M503.4 338.5h0M539.4 399.6h0M500.0 336.7h0M490.4 361.4h0M505.8 358.5h0M531.2 381.1h0M552.1 371.9h0M533.7 363.0h0M534.4 338.4h0M533.2 376.5h0M490.7 388.1h0M535.8 367.9h0M488.9 385.9h0M531.1 347.1h0M534.5 342.2h0M546.0 392.4h0M462.4 396.6h0M467.3 378.7h0M505.9 395.2h0M479.5 362.9h0M544.3 339.6h0M544.2 341.5h0M497.1 366.8h0M491.5 376.5h0M545.4 381.9h0M508.6 336.4h0M515.6 338.2h0M496.3 401.5h0M552.4 338.2h0M537.1 396.8h0M502.1 387.4h0M469.4 379.9h0M487.6 400.0h0M514.6 375.2h0M476.2 335.9h0M534.7 346.0h0M469.3 409.3h0M465.4 390.2h0M500.2 395.0h0M539.6 389.5h0M529.6 390.8h0M514.7 359.9h0M511.3 396.5h0M466.8 396.8h0M482.9 360.9h0M537.0 387.7h0M497.9 359.0h0M507.0 346.2h0M504.2 337.7h0M500.9 387.6h0M490.9 392.0h0M468.2 359.7h0M470.2 403.2h0M525.3 407.3h0M513.3 406.9h0M499.6 379.9h0M485.5 396.1h0M486.8 338.8h0M499.1 366.2h0M478.6 361.1h0M502.1 358.6h0M479.6 370.6h0M460.8 339.2h0M528.7 403.0h0M542.6 362.2h0M530.0 339.4h0M499.7 349.1h0M482.3 383.4h0M503.3 351.4h0M500.9 386.3h0M502.9 404.4h0M518.7 361.2h0M513.6 356.7h0M502.4 334.0h0M545.0 335.1h0M513.7 404.6h0M493.9 371.7h0M514.7 359.5h0M533.3 397.1h0M502.7 374.3h0M526.1 409.0h0M494.5 346.6h0M533.4 341.1h0M534.2 349.2h0M498.1 397.6h0M527.0 375.8h0M467.0 375.5h0M474.4 377.2h0M538.2 401.1h0M531.6 350.8h0M520.1 378.2h0M524.7 360.9h0M495.2 364.8h0M551.2 405.5h0M524.2 341.9h0M511.0 408.9h0M531.9 333.3h0M511.2 339.5h0M521.9 364.0h0M491.0 402.5h0M553.0 354.7h0M556.6 347.7h0M462.0 377.0h0M507.9 396.4h0M464.6 380.9h0M479.6 366.0h0M511.9 361.2h0M498.2 342.9h0M479.5 341.4h0M526.4 409.7h0M501.7 360.8h0M553.3 365.9h0M553.4 379.8h0M546.0 343.8h0M487.4 339.8h0M467.2 408.0h0M527.3 347.9h0M511.5 406.8h0M485.1 351.6h0M522.2 368.0h0M471.1 363.8h0M481.5 333.4h0M499.3 346.3h0M553.2 340.0h0M462.1 367.0h0M536.2 348.2h0M479.7 368.1h0M523.2 403.6h0M515.8 338.5h0M514.1 368.2h0M499.9 353.8h0M483.3 348.3h0M523.6 389.2h0M544.2 409.1h0M498.5 337.0h0M488.9 363.5h0M532.0 365.5h0M494.4 381.5h0M544.5 363.8h0M527.6 386.8h0M507.8 344.8h0M488.6 377.3h0M527.4 363.5h0M545.5 339.9h0M484.5 386.4h0M469.7 356.4h0M480.4 382.3h0M525.2 394.8h0M497.7 406.3h0M519.7 348.3h0M551.0 361.9h0M548.1 355.2h0M506.2 404.0h0M507.6 381.9h0M504.2 406.1h0M509.7 373.3h0M467.5 366.6h0M465.3 395.7h0M536.1 360.2h0M515.9 380.1h0M464.9 403.4h0M513.9 363.4h0M497.1 406.1h0M503.4 369.5h0M509.3 352.2h0M546.5 346.5h0M539.3 389.5h0M475.0 383.6h0M474.5 362.1h0M482.5 372.8h0M500.2 391.9h0M467.3 407.9h0M460.6 402.1h0M501.3 390.2h0M554.9 408.0h0M486.8 395.9h0M512.2 407.8h0M550.1 383.1h0M507.1 372.9h0M502.4 367.6h0M516.7 348.4h0M468.2 410.1h0M512.7 357.9h0M528.8 362.0h0M523.7 379.9h0M489.3 380.2h0M467.8 371.6h0M482.1 345.1h0M550.2 390.1h0M552.7 372.3h0M471.3 375.5h0M506.7 366.9h0M519.0 340.0h0M513.9 343.1h0M492.1 356.7h0M523.1 341.6h0M518.8 408.5h0M521.2 394.4h0M466.3 402.7h0M531.3 399.4h0M490.8 336.4h0M504.4 409.7h0M525.2 365.8h0M468.2 361.4h0M479.7 403.2h0M512.7 375.8h0M463.1 392.0h0M474.1 390.6h0M479.4 355.9h0M546.4 351.8h0M493.7 410.0h0M554.9 378.3h0M520.5 408.7h0M542.4 408.1h0M555.3 370.7h0M527.9 338.7h0M471.1 398.3h0M481.9 391.8h0M496.0 341.2h0M495.1 347.6h0M529.9 357.6h0M484.7 371.8h0M511.9 365.9h0M512.6 386.8h0M541.3 399.4h0M491.2 372.0h0M506.3 365.5h0M519.7 388.1h0M491.1 394.3h0M546.9 372.0h0M545.3 382.8h0M523.8 364.7h0M532.7 405.8h0M500.9 395.5h0M489.3 384.7h0M549.8 394.2h0M497.7 333.3h0M487.7 349.0h0M477.4 391.8h0M471.0 365.4h0M544.7 383.2h0M556.0 352.5h0M523.8 393.6h0M511.9 371.1h0M548.4 343.1h0M473.2 391.4h0M543.5 380.9h0M516.2 385.2h0M525.2 361.3h0M556.0 338.9h0M484.2 351.8h0M506.1 359.1h0M500.0 395.5h0M481.4 397.8h0M510.9 358.9h0M544.8 344.2h0M467.7 388.6h0M521.9 352.0h0M537.6 410.3h0M508.4 395.2h0M538.0 392.5h0M508.3 404.4h0M464.7 353.6h0M499.1 368.8h0M554.6 369.4h0M478.3 390.1h0M503.6 378.2h0M474.8 385.8h0M533.5 339.5h0M511.1 392.1h0M543.0 340.4h0M465.8 387.6h0M480.5 337.8h0M485.6 373.7h0M542.0 338.6h0M482.7 336.2h0M473.0 351.6h0M509.2 341.9h0M520.9 366.8h0M527.9 387.3h0M475.4 403.5h0M480.0 347.4h0M493.4 410.3h0M490.5 361.1h0M506.5 356.1h0M518.0 383.7h0M487.7 349.7h0M490.9 389.2h0M494.1 369.4h0M514.9 336.0h0M518.3 391.8h0M520.0 396.1h0M520.3 352.3h0M498.1 367.2h0M536.0 380.7h0M472.9 384.9h0M551.5 362.7h0M481.7 400.8h0M540.4 402.4h0M460.7 341.2h0M546.0 395.9h0M513.7 367.7h0M471.9 367.8h0M493.3 397.0h0M512.7 365.3h0M537.3 348.4h0M552.7 375.1h0M475.5 401.6h0M551.8 379.1h0M463.7 357.5h0M511.3 361.8h0M540.9 371.8h0M516.1 380.0h0M522.5 409.9h0M463.5 400.5h0M537.4 352.5h0" stroke="#d8e6f2" stroke-width="1.70" stroke-linecap="round" stroke-opacity="0.9"/>
<path d="M548.6 372.3l0.7 2.0M487.3 357.9l0.7 1.1M494.2 362.7l0.7 1.2M552.1 363.6l2.6 0.9M521.0 349.9l-2.7 1.1M511.0 370.9l0.9 2.6M498.2 341.1l-1.3 2.5M490.0 403.7l1.0 1.7M535.2 362.1l-0.9 0.9M550.7 363.5l-0.4 1.9M541.5 400.4l-2.3 0.2M536.9 364.4l-1.4 1.1M462.0 381.1l-1.2 0.2M509.9 345.0l-1.8 1.9M486.5 358.5l-1.4 1.8M513.7 376.9l1.4 1.1M475.7 361.3l1.7 0.3M527.3 387.7l-0.4 1.3M494.6 345.1l0.8 0.8M473.6 351.7l-2.1 1.3M493.2 345.6l-1.2 0.3M545.9 337.7l1.3 1.2M471.3 394.5l1.5 1.9M475.6 375.9l0.7 2.2M555.7 353.2l-1.4 0.4M504.4 395.7l-0.5 2.5M547.1 343.9l-2.4 0.6M500.7 341.6l-2.0 0.4M530.1 366.8l-0.4 2.0M476.5 404.7l-2.0 2.0M543.2 360.8l-0.3 1.5M538.3 356.5l-0.8 0.8M527.7 406.9l-1.9 0.6M551.4 343.2l-0.2 2.2M516.8 385.0l-0.6 0.9M492.4 365.7l-0.6 1.7M518.3 408.7l-0.9 2.1M472.5 338.7l1.1 0.2M489.5 335.9l1.2 2.5M524.7 337.1l1.9 0.2M494.0 371.2l1.3 0.7M528.0 348.6l-0.2 2.0M488.0 386.7l0.5 2.5M476.6 376.6l-0.1 1.5M513.5 400.1l1.3 0.7M494.7 354.3l-2.3 1.4M548.6 346.1l0.3 1.4M486.8 333.5l-0.0 1.2M468.0 400.4l-1.0 2.5M484.3 343.6l-1.2 2.3M547.2 401.3l0.8 1.0M520.6 380.1l-0.8 1.5M522.6 369.9l0.5 0.9M531.8 387.0l-1.6 2.4M511.7 409.6l2.1 1.4M503.4 402.8l2.3 1.6M487.1 359.4l-1.3 1.1M507.1 350.5l1.1 0.7M511.4 407.5l0.3 2.8M531.2 395.5l-0.3 1.1M491.8 382.3l-0.1 1.2M487.0 333.2l-0.6 1.1M500.0 371.3l0.8 2.7M471.2 382.0l0.8 2.2M463.8 409.6l1.9 1.3M518.6 338.8l-0.3 2.9M551.9 400.4l-0.5 1.0" stroke="#d8e6f2" stroke-width="1.00" stroke-linecap="round" stroke-opacity="0.9"/>
</g></g>
<rect x="460.50" y="333.20" width="96.10" height="77.10" fill="none" stroke="#2a2a2a" stroke-width="0.9"/>
<g fill="none" stroke-linecap="round">
<path d="M411,274.8L422.8,271.9M437.4,277.7L447.6,286.5" stroke="#dce8f4" stroke-width="1.6" stroke-opacity="0.9"/>
<ellipse cx="430.1" cy="270.6" rx="7.2" ry="5.8" fill="#e4eef8" stroke="#c8d6e8" stroke-width="0.6"/>
<ellipse cx="430.6" cy="270.8" rx="4.2" ry="3.2" fill="#a08070" transform="rotate(25 430.6 270.8)"/>
<path d="M476.8,290.9L484,289 M486,287.4L494,287" stroke="#dce8f4" stroke-width="2.2"/>
<ellipse cx="490" cy="287.4" rx="4" ry="2" fill="#e0ecf6"/>
<ellipse cx="425.7" cy="350.7" rx="2.4" ry="4" fill="#d8e6f2" transform="rotate(-30 425.7 350.7)"/>
<path d="M440.3,369.7L447.6,381.4M437.4,372.6L435.9,384.3M444,366L448,374" stroke="#d8e6f2" stroke-width="1.4"/>
<path d="M400.9,390L406.7,403.3" stroke="#a89078" stroke-width="1.8"/>
<ellipse cx="541" cy="352.2" rx="5" ry="6.4" fill="#dce8f2"/>
</g>
<text x="542.00" y="404.30" font-size="7.4" text-anchor="middle" fill="#e8202a" style="stroke:#e8202a">50 µm</text>
<line x1="534.50" y1="406.70" x2="549.50" y2="406.70" stroke="#e8202a" stroke-width="1.0"/>
<text transform="translate(358.60,292.40) rotate(-90)" font-size="10.3" text-anchor="middle" fill="#231f20">Flox</text>
<text transform="translate(358.60,371.50) rotate(-90)" font-size="10.3" text-anchor="middle" fill="#231f20">HKO</text>
<text x="410.00" y="421.60" font-size="10.3" text-anchor="middle">PF</text>
<text x="508.50" y="421.60" font-size="10.3" text-anchor="middle">EF</text>
<rect x="599.40" y="278.00" width="10.70" height="3.80" fill="#f7b9b9" stroke="#f28c8c" stroke-width="0.8"/>
<text x="612.70" y="282.60" font-size="8.8">Flox-PF</text>
<rect x="599.40" y="287.30" width="10.70" height="3.80" fill="#c3e4e1" stroke="#5cb3a8" stroke-width="0.8"/>
<text x="612.70" y="291.90" font-size="8.8">HKO-PF</text>
<rect x="599.40" y="296.60" width="10.70" height="3.80" fill="#cfc0df" stroke="#9c88cc" stroke-width="0.8"/>
<text x="612.70" y="301.20" font-size="8.8">Flox-EF</text>
<rect x="599.40" y="305.90" width="10.70" height="3.80" fill="#f4d0a8" stroke="#e8a25c" stroke-width="0.8"/>
<text x="612.70" y="310.50" font-size="8.8">HKO-EF</text>
<rect x="601.35" y="409.95" width="12.80" height="-0.15" fill="#f7b9b9" stroke="#f28c8c" stroke-width="0.7"/>
<rect x="620.95" y="409.48" width="12.80" height="0.32" fill="#c3e4e1" stroke="#5cb3a8" stroke-width="0.7"/>
<rect x="640.35" y="387.35" width="12.80" height="22.45" fill="#cfc0df" stroke="#9c88cc" stroke-width="0.7"/>
<rect x="659.75" y="364.89" width="12.80" height="44.91" fill="#f4d0a8" stroke="#e8a25c" stroke-width="0.7"/>
<line x1="595.30" y1="326.10" x2="595.30" y2="409.80" stroke="#3c3c3c" stroke-width="1.0"/>
<line x1="594.80" y1="410.10" x2="679.00" y2="410.10" stroke="#6e6e6e" stroke-width="1.3"/>
<line x1="592.30" y1="409.80" x2="595.30" y2="409.80" stroke="#3c3c3c" stroke-width="0.9"/>
<text x="590.30" y="413.00" font-size="8.9" text-anchor="end">0</text>
<line x1="592.30" y1="393.16" x2="595.30" y2="393.16" stroke="#3c3c3c" stroke-width="0.9"/>
<text x="590.30" y="396.36" font-size="8.9" text-anchor="end">5</text>
<line x1="592.30" y1="376.52" x2="595.30" y2="376.52" stroke="#3c3c3c" stroke-width="0.9"/>
<text x="590.30" y="379.72" font-size="8.9" text-anchor="end">10</text>
<line x1="592.30" y1="359.88" x2="595.30" y2="359.88" stroke="#3c3c3c" stroke-width="0.9"/>
<text x="590.30" y="363.08" font-size="8.9" text-anchor="end">15</text>
<line x1="592.30" y1="343.24" x2="595.30" y2="343.24" stroke="#3c3c3c" stroke-width="0.9"/>
<text x="590.30" y="346.44" font-size="8.9" text-anchor="end">20</text>
<line x1="592.30" y1="326.60" x2="595.30" y2="326.60" stroke="#3c3c3c" stroke-width="0.9"/>
<text x="590.30" y="329.80" font-size="8.9" text-anchor="end">25</text>
<line x1="607.75" y1="409.53" x2="607.75" y2="409.67" stroke="#f03c48" stroke-width="0.9"/>
<line x1="604.95" y1="409.53" x2="610.55" y2="409.53" stroke="#f03c48" stroke-width="0.9"/>
<line x1="604.95" y1="409.67" x2="610.55" y2="409.67" stroke="#f03c48" stroke-width="0.9"/>
<circle cx="607.75" cy="409.47" r="1.45" fill="#f03c48"/>
<circle cx="604.85" cy="409.53" r="1.45" fill="#f03c48"/>
<circle cx="610.65" cy="409.63" r="1.45" fill="#f03c48"/>
<circle cx="607.75" cy="409.63" r="1.45" fill="#f03c48"/>
<circle cx="604.85" cy="409.63" r="1.45" fill="#f03c48"/>
<line x1="627.35" y1="408.80" x2="627.35" y2="409.47" stroke="#2e9a8a" stroke-width="0.9"/>
<line x1="624.55" y1="408.80" x2="630.15" y2="408.80" stroke="#2e9a8a" stroke-width="0.9"/>
<line x1="624.55" y1="409.47" x2="630.15" y2="409.47" stroke="#2e9a8a" stroke-width="0.9"/>
<circle cx="627.35" cy="408.47" r="1.45" fill="#2e9a8a"/>
<circle cx="624.45" cy="409.13" r="1.45" fill="#2e9a8a"/>
<circle cx="630.25" cy="409.13" r="1.45" fill="#2e9a8a"/>
<circle cx="627.35" cy="409.30" r="1.45" fill="#2e9a8a"/>
<circle cx="624.45" cy="409.47" r="1.45" fill="#2e9a8a"/>
<line x1="646.75" y1="374.69" x2="646.75" y2="399.32" stroke="#6a54c2" stroke-width="0.9"/>
<line x1="643.95" y1="374.69" x2="649.55" y2="374.69" stroke="#6a54c2" stroke-width="0.9"/>
<line x1="643.95" y1="399.32" x2="649.55" y2="399.32" stroke="#6a54c2" stroke-width="0.9"/>
<circle cx="646.75" cy="371.53" r="1.45" fill="#6a54c2"/>
<circle cx="646.75" cy="395.16" r="1.45" fill="#6a54c2"/>
<circle cx="643.85" cy="395.82" r="1.45" fill="#6a54c2"/>
<circle cx="649.65" cy="396.16" r="1.45" fill="#6a54c2"/>
<circle cx="646.75" cy="396.49" r="1.45" fill="#6a54c2"/>
<line x1="666.15" y1="349.56" x2="666.15" y2="379.52" stroke="#c8650c" stroke-width="0.9"/>
<line x1="663.35" y1="349.56" x2="668.95" y2="349.56" stroke="#c8650c" stroke-width="0.9"/>
<line x1="663.35" y1="379.52" x2="668.95" y2="379.52" stroke="#c8650c" stroke-width="0.9"/>
<circle cx="666.15" cy="342.57" r="1.45" fill="#c8650c"/>
<circle cx="666.15" cy="354.56" r="1.45" fill="#c8650c"/>
<circle cx="666.15" cy="370.20" r="1.45" fill="#c8650c"/>
<circle cx="666.15" cy="375.19" r="1.45" fill="#c8650c"/>
<circle cx="666.15" cy="379.52" r="1.45" fill="#c8650c"/>
<path d="M607.40,329.20V326.60H645.60V329.20" fill="none" stroke="#3c3c3c" stroke-width="0.9"/>
<text x="626.50" y="325.30" font-size="7.3" text-anchor="middle">0.0089</text>
<path d="M647.40,329.20V326.60H666.00V329.20" fill="none" stroke="#3c3c3c" stroke-width="0.9"/>
<text x="656.70" y="325.30" font-size="7.3" text-anchor="middle">0.0120</text>
<text transform="translate(567.20,369.70) rotate(-90)" font-size="9.0" text-anchor="middle" fill="#231f20">Lipid droplet</text>
<text transform="translate(576.80,367.80) rotate(-90)" font-size="8.95" text-anchor="middle" fill="#231f20">area ratio (%)</text>
<text x="0.00" y="442.60" font-size="17.2" fill="#000" style="stroke:#000" font-weight="bold">j</text>
<rect x="52.35" y="519.52" width="12.50" height="8.08" fill="#f7b9b9" stroke="#f28c8c" stroke-width="0.7"/>
<rect x="71.55" y="514.73" width="12.50" height="12.87" fill="#c3e4e1" stroke="#5cb3a8" stroke-width="0.7"/>
<rect x="90.75" y="494.91" width="12.50" height="32.69" fill="#cfc0df" stroke="#9c88cc" stroke-width="0.7"/>
<rect x="110.35" y="477.23" width="12.50" height="50.37" fill="#f4d0a8" stroke="#e8a25c" stroke-width="0.7"/>
<line x1="45.70" y1="444.50" x2="45.70" y2="527.60" stroke="#3c3c3c" stroke-width="1.0"/>
<line x1="45.20" y1="527.90" x2="129.50" y2="527.90" stroke="#6e6e6e" stroke-width="1.3"/>
<line x1="42.70" y1="511.08" x2="45.70" y2="511.08" stroke="#3c3c3c" stroke-width="0.9"/>
<text x="40.70" y="514.21" font-size="8.7" text-anchor="end">100</text>
<line x1="42.70" y1="494.56" x2="45.70" y2="494.56" stroke="#3c3c3c" stroke-width="0.9"/>
<text x="40.70" y="497.69" font-size="8.7" text-anchor="end">200</text>
<line x1="42.70" y1="478.04" x2="45.70" y2="478.04" stroke="#3c3c3c" stroke-width="0.9"/>
<text x="40.70" y="481.17" font-size="8.7" text-anchor="end">300</text>
<line x1="42.70" y1="461.52" x2="45.70" y2="461.52" stroke="#3c3c3c" stroke-width="0.9"/>
<text x="40.70" y="464.65" font-size="8.7" text-anchor="end">400</text>
<line x1="42.70" y1="445.00" x2="45.70" y2="445.00" stroke="#3c3c3c" stroke-width="0.9"/>
<text x="40.70" y="448.13" font-size="8.7" text-anchor="end">500</text>
<line x1="42.70" y1="527.60" x2="45.70" y2="527.60" stroke="#3c3c3c" stroke-width="0.9"/>
<text x="40.70" y="530.73" font-size="8.7" text-anchor="end">0</text>
<line x1="58.60" y1="514.71" x2="58.60" y2="523.64" stroke="#f03c48" stroke-width="0.9"/>
<line x1="55.80" y1="514.71" x2="61.40" y2="514.71" stroke="#f03c48" stroke-width="0.9"/>
<line x1="55.80" y1="523.64" x2="61.40" y2="523.64" stroke="#f03c48" stroke-width="0.9"/>
<circle cx="58.60" cy="511.74" r="1.45" fill="#f03c48"/>
<circle cx="58.60" cy="518.84" r="1.45" fill="#f03c48"/>
<circle cx="55.70" cy="521.32" r="1.45" fill="#f03c48"/>
<circle cx="61.50" cy="521.49" r="1.45" fill="#f03c48"/>
<circle cx="58.60" cy="521.82" r="1.45" fill="#f03c48"/>
<line x1="77.80" y1="508.77" x2="77.80" y2="520.00" stroke="#2e9a8a" stroke-width="0.9"/>
<line x1="75.00" y1="508.77" x2="80.60" y2="508.77" stroke="#2e9a8a" stroke-width="0.9"/>
<line x1="75.00" y1="520.00" x2="80.60" y2="520.00" stroke="#2e9a8a" stroke-width="0.9"/>
<circle cx="77.80" cy="506.29" r="1.45" fill="#2e9a8a"/>
<circle cx="74.90" cy="508.77" r="1.45" fill="#2e9a8a"/>
<circle cx="77.80" cy="515.04" r="1.45" fill="#2e9a8a"/>
<circle cx="77.80" cy="518.84" r="1.45" fill="#2e9a8a"/>
<circle cx="74.90" cy="520.66" r="1.45" fill="#2e9a8a"/>
<line x1="97.00" y1="487.95" x2="97.00" y2="501.17" stroke="#6a54c2" stroke-width="0.9"/>
<line x1="94.20" y1="487.95" x2="99.80" y2="487.95" stroke="#6a54c2" stroke-width="0.9"/>
<line x1="94.20" y1="501.17" x2="99.80" y2="501.17" stroke="#6a54c2" stroke-width="0.9"/>
<circle cx="97.00" cy="489.27" r="1.45" fill="#6a54c2"/>
<circle cx="94.10" cy="490.26" r="1.45" fill="#6a54c2"/>
<circle cx="97.00" cy="495.22" r="1.45" fill="#6a54c2"/>
<circle cx="94.10" cy="495.88" r="1.45" fill="#6a54c2"/>
<circle cx="97.00" cy="505.79" r="1.45" fill="#6a54c2"/>
<line x1="116.60" y1="463.01" x2="116.60" y2="490.76" stroke="#c8650c" stroke-width="0.9"/>
<line x1="113.80" y1="463.01" x2="119.40" y2="463.01" stroke="#c8650c" stroke-width="0.9"/>
<line x1="113.80" y1="490.76" x2="119.40" y2="490.76" stroke="#c8650c" stroke-width="0.9"/>
<circle cx="116.60" cy="452.93" r="1.45" fill="#c8650c"/>
<circle cx="116.60" cy="476.55" r="1.45" fill="#c8650c"/>
<circle cx="113.70" cy="478.37" r="1.45" fill="#c8650c"/>
<circle cx="116.60" cy="487.13" r="1.45" fill="#c8650c"/>
<circle cx="113.70" cy="487.29" r="1.45" fill="#c8650c"/>
<path d="M58.00,447.40V444.80H96.00V447.40" fill="none" stroke="#3c3c3c" stroke-width="0.9"/>
<text x="77.00" y="443.50" font-size="7.3" text-anchor="middle">0.0019</text>
<path d="M98.00,447.40V444.80H117.00V447.40" fill="none" stroke="#3c3c3c" stroke-width="0.9"/>
<text x="107.50" y="443.50" font-size="7.3" text-anchor="middle">0.0208</text>
<text transform="translate(20.40,485.00) rotate(-90)" font-size="9.3" text-anchor="middle" fill="#231f20">Serum TNF-α (pg/mL)</text>
<text x="151.00" y="443.00" font-size="17.2" fill="#000" style="stroke:#000" font-weight="bold">k</text>
<rect x="207.35" y="521.17" width="12.50" height="6.13" fill="#f7b9b9" stroke="#f28c8c" stroke-width="0.7"/>
<rect x="226.35" y="516.68" width="12.50" height="10.62" fill="#c3e4e1" stroke="#5cb3a8" stroke-width="0.7"/>
<rect x="245.95" y="495.57" width="12.50" height="31.73" fill="#cfc0df" stroke="#9c88cc" stroke-width="0.7"/>
<rect x="265.15" y="478.45" width="12.50" height="48.85" fill="#f4d0a8" stroke="#e8a25c" stroke-width="0.7"/>
<line x1="200.00" y1="443.70" x2="200.00" y2="527.30" stroke="#3c3c3c" stroke-width="1.0"/>
<line x1="199.50" y1="527.60" x2="284.80" y2="527.60" stroke="#6e6e6e" stroke-width="1.3"/>
<line x1="197.00" y1="527.30" x2="200.00" y2="527.30" stroke="#3c3c3c" stroke-width="0.9"/>
<text x="195.00" y="530.36" font-size="8.5" text-anchor="end">0</text>
<line x1="197.00" y1="510.68" x2="200.00" y2="510.68" stroke="#3c3c3c" stroke-width="0.9"/>
<text x="195.00" y="513.74" font-size="8.5" text-anchor="end">20</text>
<line x1="197.00" y1="494.06" x2="200.00" y2="494.06" stroke="#3c3c3c" stroke-width="0.9"/>
<text x="195.00" y="497.12" font-size="8.5" text-anchor="end">40</text>
<line x1="197.00" y1="477.44" x2="200.00" y2="477.44" stroke="#3c3c3c" stroke-width="0.9"/>
<text x="195.00" y="480.50" font-size="8.5" text-anchor="end">60</text>
<line x1="197.00" y1="460.82" x2="200.00" y2="460.82" stroke="#3c3c3c" stroke-width="0.9"/>
<text x="195.00" y="463.88" font-size="8.5" text-anchor="end">80</text>
<line x1="197.00" y1="444.20" x2="200.00" y2="444.20" stroke="#3c3c3c" stroke-width="0.9"/>
<text x="195.00" y="447.26" font-size="8.5" text-anchor="end">100</text>
<line x1="213.60" y1="519.82" x2="213.60" y2="521.82" stroke="#f03c48" stroke-width="0.9"/>
<line x1="210.80" y1="519.82" x2="216.40" y2="519.82" stroke="#f03c48" stroke-width="0.9"/>
<line x1="210.80" y1="521.82" x2="216.40" y2="521.82" stroke="#f03c48" stroke-width="0.9"/>
<circle cx="213.60" cy="520.90" r="1.45" fill="#f03c48"/>
<circle cx="210.70" cy="521.23" r="1.45" fill="#f03c48"/>
<circle cx="216.50" cy="521.90" r="1.45" fill="#f03c48"/>
<circle cx="213.60" cy="522.48" r="1.45" fill="#f03c48"/>
<circle cx="210.70" cy="523.14" r="1.45" fill="#f03c48"/>
<line x1="232.60" y1="514.50" x2="232.60" y2="518.16" stroke="#2e9a8a" stroke-width="0.9"/>
<line x1="229.80" y1="514.50" x2="235.40" y2="514.50" stroke="#2e9a8a" stroke-width="0.9"/>
<line x1="229.80" y1="518.16" x2="235.40" y2="518.16" stroke="#2e9a8a" stroke-width="0.9"/>
<circle cx="232.60" cy="515.08" r="1.45" fill="#2e9a8a"/>
<circle cx="229.70" cy="515.67" r="1.45" fill="#2e9a8a"/>
<circle cx="235.50" cy="515.83" r="1.45" fill="#2e9a8a"/>
<circle cx="232.60" cy="518.16" r="1.45" fill="#2e9a8a"/>
<circle cx="229.70" cy="519.41" r="1.45" fill="#2e9a8a"/>
<line x1="252.20" y1="486.58" x2="252.20" y2="503.87" stroke="#6a54c2" stroke-width="0.9"/>
<line x1="249.40" y1="486.58" x2="255.00" y2="486.58" stroke="#6a54c2" stroke-width="0.9"/>
<line x1="249.40" y1="503.87" x2="255.00" y2="503.87" stroke="#6a54c2" stroke-width="0.9"/>
<circle cx="252.20" cy="484.09" r="1.45" fill="#6a54c2"/>
<circle cx="252.20" cy="490.90" r="1.45" fill="#6a54c2"/>
<circle cx="252.20" cy="494.64" r="1.45" fill="#6a54c2"/>
<circle cx="252.20" cy="498.30" r="1.45" fill="#6a54c2"/>
<circle cx="252.20" cy="506.77" r="1.45" fill="#6a54c2"/>
<line x1="271.40" y1="467.55" x2="271.40" y2="488.66" stroke="#c8650c" stroke-width="0.9"/>
<line x1="268.60" y1="467.55" x2="274.20" y2="467.55" stroke="#c8650c" stroke-width="0.9"/>
<line x1="268.60" y1="488.66" x2="274.20" y2="488.66" stroke="#c8650c" stroke-width="0.9"/>
<circle cx="271.40" cy="471.04" r="1.45" fill="#c8650c"/>
<circle cx="268.50" cy="473.28" r="1.45" fill="#c8650c"/>
<circle cx="274.30" cy="473.70" r="1.45" fill="#c8650c"/>
<circle cx="271.40" cy="474.95" r="1.45" fill="#c8650c"/>
<circle cx="271.40" cy="496.80" r="1.45" fill="#c8650c"/>
<path d="M213.00,447.00V444.40H251.70V447.00" fill="none" stroke="#3c3c3c" stroke-width="0.9"/>
<text x="232.35" y="443.10" font-size="7.3" text-anchor="middle">5.26E-05</text>
<path d="M253.00,447.00V444.40H272.00V447.00" fill="none" stroke="#3c3c3c" stroke-width="0.9"/>
<text x="262.50" y="443.10" font-size="7.3" text-anchor="middle">0.0060</text>
<text transform="translate(170.50,484.40) rotate(-90)" font-size="9.15" text-anchor="middle" fill="#231f20">Liver TNF-α</text>
<text transform="translate(178.60,484.50) rotate(-90)" font-size="9.4" text-anchor="middle" fill="#231f20">(pg/mg protein)</text>
<text x="311.50" y="443.00" font-size="17.2" fill="#000" style="stroke:#000" font-weight="bold">l</text>
<rect x="359.35" y="485.63" width="12.30" height="42.17" fill="#f7b9b9" stroke="#f28c8c" stroke-width="0.7"/>
<rect x="378.35" y="480.05" width="12.30" height="47.75" fill="#c3e4e1" stroke="#5cb3a8" stroke-width="0.7"/>
<rect x="397.65" y="472.42" width="12.30" height="55.38" fill="#cfc0df" stroke="#9c88cc" stroke-width="0.7"/>
<rect x="417.15" y="461.27" width="12.30" height="66.53" fill="#f4d0a8" stroke="#e8a25c" stroke-width="0.7"/>
<line x1="352.00" y1="443.70" x2="352.00" y2="527.80" stroke="#3c3c3c" stroke-width="1.0"/>
<line x1="351.50" y1="528.10" x2="436.00" y2="528.10" stroke="#6e6e6e" stroke-width="1.3"/>
<line x1="349.00" y1="527.80" x2="352.00" y2="527.80" stroke="#3c3c3c" stroke-width="0.9"/>
<text x="347.00" y="530.86" font-size="8.5" text-anchor="end">0</text>
<line x1="349.00" y1="499.93" x2="352.00" y2="499.93" stroke="#3c3c3c" stroke-width="0.9"/>
<text x="347.00" y="502.99" font-size="8.5" text-anchor="end">5</text>
<line x1="349.00" y1="472.07" x2="352.00" y2="472.07" stroke="#3c3c3c" stroke-width="0.9"/>
<text x="347.00" y="475.13" font-size="8.5" text-anchor="end">10</text>
<line x1="349.00" y1="444.20" x2="352.00" y2="444.20" stroke="#3c3c3c" stroke-width="0.9"/>
<text x="347.00" y="447.26" font-size="8.5" text-anchor="end">15</text>
<line x1="365.50" y1="478.31" x2="365.50" y2="492.24" stroke="#f03c48" stroke-width="0.9"/>
<line x1="362.70" y1="478.31" x2="368.30" y2="478.31" stroke="#f03c48" stroke-width="0.9"/>
<line x1="362.70" y1="492.24" x2="368.30" y2="492.24" stroke="#f03c48" stroke-width="0.9"/>
<circle cx="365.50" cy="473.74" r="1.45" fill="#f03c48"/>
<circle cx="365.50" cy="482.82" r="1.45" fill="#f03c48"/>
<circle cx="365.50" cy="486.56" r="1.45" fill="#f03c48"/>
<circle cx="362.60" cy="488.79" r="1.45" fill="#f03c48"/>
<circle cx="365.50" cy="491.02" r="1.45" fill="#f03c48"/>
<line x1="384.50" y1="476.36" x2="384.50" y2="483.05" stroke="#2e9a8a" stroke-width="0.9"/>
<line x1="381.70" y1="476.36" x2="387.30" y2="476.36" stroke="#2e9a8a" stroke-width="0.9"/>
<line x1="381.70" y1="483.05" x2="387.30" y2="483.05" stroke="#2e9a8a" stroke-width="0.9"/>
<circle cx="384.50" cy="473.74" r="1.45" fill="#2e9a8a"/>
<circle cx="384.50" cy="477.86" r="1.45" fill="#2e9a8a"/>
<circle cx="381.60" cy="479.87" r="1.45" fill="#2e9a8a"/>
<circle cx="384.50" cy="481.82" r="1.45" fill="#2e9a8a"/>
<circle cx="387.40" cy="482.10" r="1.45" fill="#2e9a8a"/>
<line x1="403.80" y1="462.59" x2="403.80" y2="481.54" stroke="#6a54c2" stroke-width="0.9"/>
<line x1="401.00" y1="462.59" x2="406.60" y2="462.59" stroke="#6a54c2" stroke-width="0.9"/>
<line x1="401.00" y1="481.54" x2="406.60" y2="481.54" stroke="#6a54c2" stroke-width="0.9"/>
<circle cx="403.80" cy="460.92" r="1.45" fill="#6a54c2"/>
<circle cx="403.80" cy="464.26" r="1.45" fill="#6a54c2"/>
<circle cx="403.80" cy="469.84" r="1.45" fill="#6a54c2"/>
<circle cx="403.80" cy="479.87" r="1.45" fill="#6a54c2"/>
<circle cx="400.90" cy="481.54" r="1.45" fill="#6a54c2"/>
<line x1="423.30" y1="458.41" x2="423.30" y2="463.43" stroke="#c8650c" stroke-width="0.9"/>
<line x1="420.50" y1="458.41" x2="426.10" y2="458.41" stroke="#c8650c" stroke-width="0.9"/>
<line x1="420.50" y1="463.43" x2="426.10" y2="463.43" stroke="#c8650c" stroke-width="0.9"/>
<circle cx="423.30" cy="458.13" r="1.45" fill="#c8650c"/>
<circle cx="420.40" cy="458.69" r="1.45" fill="#c8650c"/>
<circle cx="426.20" cy="459.25" r="1.45" fill="#c8650c"/>
<circle cx="423.30" cy="461.48" r="1.45" fill="#c8650c"/>
<circle cx="420.40" cy="464.26" r="1.45" fill="#c8650c"/>
<path d="M365.50,447.00V444.40H403.70V447.00" fill="none" stroke="#3c3c3c" stroke-width="0.9"/>
<text x="384.60" y="443.10" font-size="7.3" text-anchor="middle">0.0149</text>
<path d="M405.00,447.00V444.40H423.70V447.00" fill="none" stroke="#3c3c3c" stroke-width="0.9"/>
<text x="414.35" y="443.10" font-size="7.3" text-anchor="middle">0.0471</text>
<text transform="translate(326.20,485.20) rotate(-90)" font-size="9.1" text-anchor="middle" fill="#231f20">Liver IL-1β</text>
<text transform="translate(334.00,484.40) rotate(-90)" font-size="9.1" text-anchor="middle" fill="#231f20">(pg/mg protein)</text>
<text x="455.00" y="443.00" font-size="17.2" fill="#000" style="stroke:#000" font-weight="bold">m</text>
<rect x="515.95" y="519.74" width="12.60" height="7.56" fill="#f7b9b9" stroke="#f28c8c" stroke-width="0.7"/>
<rect x="535.35" y="517.51" width="12.60" height="9.79" fill="#c3e4e1" stroke="#5cb3a8" stroke-width="0.7"/>
<rect x="554.35" y="497.67" width="12.60" height="29.63" fill="#cfc0df" stroke="#9c88cc" stroke-width="0.7"/>
<rect x="573.55" y="482.78" width="12.60" height="44.52" fill="#f4d0a8" stroke="#e8a25c" stroke-width="0.7"/>
<line x1="508.60" y1="443.20" x2="508.60" y2="527.30" stroke="#3c3c3c" stroke-width="1.0"/>
<line x1="508.10" y1="527.60" x2="592.80" y2="527.60" stroke="#6e6e6e" stroke-width="1.3"/>
<line x1="505.60" y1="527.30" x2="508.60" y2="527.30" stroke="#3c3c3c" stroke-width="0.9"/>
<text x="503.60" y="530.43" font-size="8.7" text-anchor="end">0</text>
<line x1="505.60" y1="499.43" x2="508.60" y2="499.43" stroke="#3c3c3c" stroke-width="0.9"/>
<text x="503.60" y="502.57" font-size="8.7" text-anchor="end">50</text>
<line x1="505.60" y1="471.57" x2="508.60" y2="471.57" stroke="#3c3c3c" stroke-width="0.9"/>
<text x="503.60" y="474.70" font-size="8.7" text-anchor="end">100</text>
<line x1="505.60" y1="443.70" x2="508.60" y2="443.70" stroke="#3c3c3c" stroke-width="0.9"/>
<text x="503.60" y="446.83" font-size="8.7" text-anchor="end">150</text>
<line x1="522.25" y1="517.99" x2="522.25" y2="520.78" stroke="#f03c48" stroke-width="0.9"/>
<line x1="519.45" y1="517.99" x2="525.05" y2="517.99" stroke="#f03c48" stroke-width="0.9"/>
<line x1="519.45" y1="520.78" x2="525.05" y2="520.78" stroke="#f03c48" stroke-width="0.9"/>
<circle cx="522.25" cy="518.38" r="1.45" fill="#f03c48"/>
<circle cx="519.35" cy="518.77" r="1.45" fill="#f03c48"/>
<circle cx="525.15" cy="519.39" r="1.45" fill="#f03c48"/>
<circle cx="522.25" cy="520.67" r="1.45" fill="#f03c48"/>
<circle cx="522.25" cy="524.35" r="1.45" fill="#f03c48"/>
<line x1="541.65" y1="515.48" x2="541.65" y2="518.83" stroke="#2e9a8a" stroke-width="0.9"/>
<line x1="538.85" y1="515.48" x2="544.45" y2="515.48" stroke="#2e9a8a" stroke-width="0.9"/>
<line x1="538.85" y1="518.83" x2="544.45" y2="518.83" stroke="#2e9a8a" stroke-width="0.9"/>
<circle cx="541.65" cy="515.04" r="1.45" fill="#2e9a8a"/>
<circle cx="538.75" cy="515.71" r="1.45" fill="#2e9a8a"/>
<circle cx="544.55" cy="516.71" r="1.45" fill="#2e9a8a"/>
<circle cx="541.65" cy="517.55" r="1.45" fill="#2e9a8a"/>
<circle cx="538.75" cy="519.39" r="1.45" fill="#2e9a8a"/>
<line x1="560.65" y1="492.58" x2="560.65" y2="502.05" stroke="#6a54c2" stroke-width="0.9"/>
<line x1="557.85" y1="492.58" x2="563.45" y2="492.58" stroke="#6a54c2" stroke-width="0.9"/>
<line x1="557.85" y1="502.05" x2="563.45" y2="502.05" stroke="#6a54c2" stroke-width="0.9"/>
<circle cx="560.65" cy="490.24" r="1.45" fill="#6a54c2"/>
<circle cx="557.75" cy="492.75" r="1.45" fill="#6a54c2"/>
<circle cx="560.65" cy="500.16" r="1.45" fill="#6a54c2"/>
<circle cx="557.75" cy="500.77" r="1.45" fill="#6a54c2"/>
<circle cx="563.55" cy="501.38" r="1.45" fill="#6a54c2"/>
<line x1="579.85" y1="476.86" x2="579.85" y2="488.01" stroke="#c8650c" stroke-width="0.9"/>
<line x1="577.05" y1="476.86" x2="582.65" y2="476.86" stroke="#c8650c" stroke-width="0.9"/>
<line x1="577.05" y1="488.01" x2="582.65" y2="488.01" stroke="#c8650c" stroke-width="0.9"/>
<circle cx="579.85" cy="473.74" r="1.45" fill="#c8650c"/>
<circle cx="579.85" cy="479.43" r="1.45" fill="#c8650c"/>
<circle cx="579.85" cy="485.89" r="1.45" fill="#c8650c"/>
<circle cx="576.95" cy="486.50" r="1.45" fill="#c8650c"/>
<circle cx="582.75" cy="486.61" r="1.45" fill="#c8650c"/>
<path d="M522.00,446.80V444.20H559.50V446.80" fill="none" stroke="#3c3c3c" stroke-width="0.9"/>
<text x="540.20" y="442.90" font-size="7.0" text-anchor="middle">6.12E-07</text>
<path d="M560.70,446.80V444.20H580.50V446.80" fill="none" stroke="#3c3c3c" stroke-width="0.9"/>
<text x="572.60" y="442.90" font-size="7.0" text-anchor="middle">8.69E-05</text>
<text transform="translate(475.70,484.40) rotate(-90)" font-size="9.2" text-anchor="middle" fill="#231f20">Liver IL-6</text>
<text transform="translate(483.50,485.00) rotate(-90)" font-size="9.6" text-anchor="middle" fill="#231f20">(pg/mg protein)</text>
<rect x="607.70" y="457.50" width="10.70" height="3.80" fill="#f7b9b9" stroke="#f28c8c" stroke-width="0.8"/>
<text x="621.00" y="462.10" font-size="8.8">Flox-PF</text>
<rect x="607.70" y="466.85" width="10.70" height="3.80" fill="#c3e4e1" stroke="#5cb3a8" stroke-width="0.8"/>
<text x="621.00" y="471.45" font-size="8.8">HKO-PF</text>
<rect x="607.70" y="476.20" width="10.70" height="3.80" fill="#cfc0df" stroke="#9c88cc" stroke-width="0.8"/>
<text x="621.00" y="480.80" font-size="8.8">Flox-EF</text>
<rect x="607.70" y="485.55" width="10.70" height="3.80" fill="#f4d0a8" stroke="#e8a25c" stroke-width="0.8"/>
<text x="621.00" y="490.15" font-size="8.8">HKO-EF</text>
<text x="0.70" y="556.00" font-size="17.2" fill="#000" style="stroke:#000" font-weight="bold">n</text>
<rect x="52.05" y="635.04" width="10.30" height="5.26" fill="#cfc0df" stroke="#9c88cc" stroke-width="0.7"/>
<rect x="67.65" y="632.24" width="10.60" height="8.06" fill="#f4d0a8" stroke="#e8a25c" stroke-width="0.7"/>
<rect x="94.30" y="634.48" width="10.30" height="5.82" fill="#cfc0df" stroke="#9c88cc" stroke-width="0.7"/>
<rect x="109.90" y="620.35" width="10.60" height="19.95" fill="#f4d0a8" stroke="#e8a25c" stroke-width="0.7"/>
<rect x="136.55" y="635.10" width="10.30" height="5.20" fill="#cfc0df" stroke="#9c88cc" stroke-width="0.7"/>
<rect x="152.15" y="614.41" width="10.60" height="25.89" fill="#f4d0a8" stroke="#e8a25c" stroke-width="0.7"/>
<rect x="178.80" y="634.82" width="10.30" height="5.48" fill="#cfc0df" stroke="#9c88cc" stroke-width="0.7"/>
<rect x="194.40" y="628.76" width="10.60" height="11.54" fill="#f4d0a8" stroke="#e8a25c" stroke-width="0.7"/>
<rect x="221.05" y="635.16" width="10.30" height="5.14" fill="#cfc0df" stroke="#9c88cc" stroke-width="0.7"/>
<rect x="236.65" y="621.03" width="10.60" height="19.27" fill="#f4d0a8" stroke="#e8a25c" stroke-width="0.7"/>
<rect x="263.30" y="635.16" width="10.30" height="5.14" fill="#cfc0df" stroke="#9c88cc" stroke-width="0.7"/>
<rect x="278.90" y="629.55" width="10.60" height="10.75" fill="#f4d0a8" stroke="#e8a25c" stroke-width="0.7"/>
<rect x="305.55" y="634.82" width="10.30" height="5.48" fill="#cfc0df" stroke="#9c88cc" stroke-width="0.7"/>
<rect x="321.15" y="624.17" width="10.60" height="16.13" fill="#f4d0a8" stroke="#e8a25c" stroke-width="0.7"/>
<rect x="347.80" y="634.03" width="10.30" height="6.27" fill="#cfc0df" stroke="#9c88cc" stroke-width="0.7"/>
<rect x="363.40" y="620.47" width="10.60" height="19.83" fill="#f4d0a8" stroke="#e8a25c" stroke-width="0.7"/>
<rect x="390.05" y="634.93" width="10.30" height="5.37" fill="#cfc0df" stroke="#9c88cc" stroke-width="0.7"/>
<rect x="405.65" y="599.27" width="10.60" height="41.03" fill="#f4d0a8" stroke="#e8a25c" stroke-width="0.7"/>
<rect x="432.30" y="634.82" width="10.30" height="5.48" fill="#cfc0df" stroke="#9c88cc" stroke-width="0.7"/>
<rect x="447.90" y="618.22" width="10.60" height="22.08" fill="#f4d0a8" stroke="#e8a25c" stroke-width="0.7"/>
<rect x="474.55" y="634.82" width="10.30" height="5.48" fill="#cfc0df" stroke="#9c88cc" stroke-width="0.7"/>
<rect x="490.15" y="627.87" width="10.60" height="12.43" fill="#f4d0a8" stroke="#e8a25c" stroke-width="0.7"/>
<rect x="516.80" y="634.37" width="10.30" height="5.93" fill="#cfc0df" stroke="#9c88cc" stroke-width="0.7"/>
<rect x="532.40" y="621.92" width="10.60" height="18.38" fill="#f4d0a8" stroke="#e8a25c" stroke-width="0.7"/>
<rect x="559.05" y="634.82" width="10.30" height="5.48" fill="#cfc0df" stroke="#9c88cc" stroke-width="0.7"/>
<rect x="574.65" y="615.20" width="10.60" height="25.10" fill="#f4d0a8" stroke="#e8a25c" stroke-width="0.7"/>
<line x1="45.70" y1="555.70" x2="45.70" y2="640.30" stroke="#3c3c3c" stroke-width="1.0"/>
<line x1="45.20" y1="640.60" x2="591.60" y2="640.60" stroke="#6e6e6e" stroke-width="1.3"/>
<line x1="42.70" y1="640.30" x2="45.70" y2="640.30" stroke="#3c3c3c" stroke-width="0.9"/>
<text x="40.70" y="643.43" font-size="8.7" text-anchor="end">0</text>
<line x1="42.70" y1="612.27" x2="45.70" y2="612.27" stroke="#3c3c3c" stroke-width="0.9"/>
<text x="40.70" y="615.40" font-size="8.7" text-anchor="end">5</text>
<line x1="42.70" y1="584.23" x2="45.70" y2="584.23" stroke="#3c3c3c" stroke-width="0.9"/>
<text x="40.70" y="587.37" font-size="8.7" text-anchor="end">10</text>
<line x1="42.70" y1="556.20" x2="45.70" y2="556.20" stroke="#3c3c3c" stroke-width="0.9"/>
<text x="40.70" y="559.33" font-size="8.7" text-anchor="end">15</text>
<line x1="57.20" y1="632.92" x2="57.20" y2="636.47" stroke="#6a54c2" stroke-width="0.9"/>
<line x1="54.40" y1="632.92" x2="60.00" y2="632.92" stroke="#6a54c2" stroke-width="0.9"/>
<line x1="54.40" y1="636.47" x2="60.00" y2="636.47" stroke="#6a54c2" stroke-width="0.9"/>
<circle cx="57.20" cy="632.45" r="1.45" fill="#6a54c2"/>
<circle cx="54.30" cy="633.57" r="1.45" fill="#6a54c2"/>
<circle cx="60.10" cy="634.69" r="1.45" fill="#6a54c2"/>
<circle cx="57.20" cy="635.81" r="1.45" fill="#6a54c2"/>
<circle cx="54.30" cy="636.94" r="1.45" fill="#6a54c2"/>
<line x1="72.95" y1="630.41" x2="72.95" y2="633.37" stroke="#c8650c" stroke-width="0.9"/>
<line x1="70.15" y1="630.41" x2="75.75" y2="630.41" stroke="#c8650c" stroke-width="0.9"/>
<line x1="70.15" y1="633.37" x2="75.75" y2="633.37" stroke="#c8650c" stroke-width="0.9"/>
<circle cx="72.95" cy="629.65" r="1.45" fill="#c8650c"/>
<circle cx="70.05" cy="631.33" r="1.45" fill="#c8650c"/>
<circle cx="75.85" cy="632.45" r="1.45" fill="#c8650c"/>
<circle cx="72.95" cy="632.45" r="1.45" fill="#c8650c"/>
<circle cx="70.05" cy="633.57" r="1.45" fill="#c8650c"/>
<line x1="99.45" y1="633.25" x2="99.45" y2="635.02" stroke="#6a54c2" stroke-width="0.9"/>
<line x1="96.65" y1="633.25" x2="102.25" y2="633.25" stroke="#6a54c2" stroke-width="0.9"/>
<line x1="96.65" y1="635.02" x2="102.25" y2="635.02" stroke="#6a54c2" stroke-width="0.9"/>
<circle cx="99.45" cy="633.01" r="1.45" fill="#6a54c2"/>
<circle cx="96.55" cy="633.57" r="1.45" fill="#6a54c2"/>
<circle cx="102.35" cy="634.13" r="1.45" fill="#6a54c2"/>
<circle cx="99.45" cy="634.69" r="1.45" fill="#6a54c2"/>
<circle cx="96.55" cy="635.25" r="1.45" fill="#6a54c2"/>
<line x1="115.20" y1="608.94" x2="115.20" y2="631.06" stroke="#c8650c" stroke-width="0.9"/>
<line x1="112.40" y1="608.94" x2="118.00" y2="608.94" stroke="#c8650c" stroke-width="0.9"/>
<line x1="112.40" y1="631.06" x2="118.00" y2="631.06" stroke="#c8650c" stroke-width="0.9"/>
<circle cx="115.20" cy="607.78" r="1.45" fill="#c8650c"/>
<circle cx="112.30" cy="610.02" r="1.45" fill="#c8650c"/>
<circle cx="115.20" cy="621.24" r="1.45" fill="#c8650c"/>
<circle cx="115.20" cy="627.40" r="1.45" fill="#c8650c"/>
<circle cx="115.20" cy="633.57" r="1.45" fill="#c8650c"/>
<line x1="141.70" y1="634.33" x2="141.70" y2="635.17" stroke="#6a54c2" stroke-width="0.9"/>
<line x1="138.90" y1="634.33" x2="144.50" y2="634.33" stroke="#6a54c2" stroke-width="0.9"/>
<line x1="138.90" y1="635.17" x2="144.50" y2="635.17" stroke="#6a54c2" stroke-width="0.9"/>
<circle cx="141.70" cy="634.13" r="1.45" fill="#6a54c2"/>
<circle cx="138.80" cy="634.69" r="1.45" fill="#6a54c2"/>
<circle cx="144.60" cy="634.69" r="1.45" fill="#6a54c2"/>
<circle cx="141.70" cy="634.97" r="1.45" fill="#6a54c2"/>
<circle cx="138.80" cy="635.25" r="1.45" fill="#6a54c2"/>
<line x1="157.45" y1="599.23" x2="157.45" y2="628.89" stroke="#c8650c" stroke-width="0.9"/>
<line x1="154.65" y1="599.23" x2="160.25" y2="599.23" stroke="#c8650c" stroke-width="0.9"/>
<line x1="154.65" y1="628.89" x2="160.25" y2="628.89" stroke="#c8650c" stroke-width="0.9"/>
<circle cx="157.45" cy="589.28" r="1.45" fill="#c8650c"/>
<circle cx="157.45" cy="611.15" r="1.45" fill="#c8650c"/>
<circle cx="157.45" cy="622.36" r="1.45" fill="#c8650c"/>
<circle cx="154.55" cy="623.48" r="1.45" fill="#c8650c"/>
<circle cx="160.35" cy="624.04" r="1.45" fill="#c8650c"/>
<line x1="183.95" y1="632.42" x2="183.95" y2="636.51" stroke="#6a54c2" stroke-width="0.9"/>
<line x1="181.15" y1="632.42" x2="186.75" y2="632.42" stroke="#6a54c2" stroke-width="0.9"/>
<line x1="181.15" y1="636.51" x2="186.75" y2="636.51" stroke="#6a54c2" stroke-width="0.9"/>
<circle cx="183.95" cy="631.89" r="1.45" fill="#6a54c2"/>
<circle cx="181.05" cy="633.01" r="1.45" fill="#6a54c2"/>
<circle cx="186.85" cy="634.69" r="1.45" fill="#6a54c2"/>
<circle cx="183.95" cy="635.81" r="1.45" fill="#6a54c2"/>
<circle cx="181.05" cy="636.94" r="1.45" fill="#6a54c2"/>
<line x1="199.70" y1="623.41" x2="199.70" y2="633.42" stroke="#c8650c" stroke-width="0.9"/>
<line x1="196.90" y1="623.41" x2="202.50" y2="623.41" stroke="#c8650c" stroke-width="0.9"/>
<line x1="196.90" y1="633.42" x2="202.50" y2="633.42" stroke="#c8650c" stroke-width="0.9"/>
<circle cx="199.70" cy="620.12" r="1.45" fill="#c8650c"/>
<circle cx="199.70" cy="628.53" r="1.45" fill="#c8650c"/>
<circle cx="196.80" cy="629.65" r="1.45" fill="#c8650c"/>
<circle cx="202.60" cy="630.21" r="1.45" fill="#c8650c"/>
<circle cx="199.70" cy="633.57" r="1.45" fill="#c8650c"/>
<line x1="226.20" y1="631.83" x2="226.20" y2="637.78" stroke="#6a54c2" stroke-width="0.9"/>
<line x1="223.40" y1="631.83" x2="229.00" y2="631.83" stroke="#6a54c2" stroke-width="0.9"/>
<line x1="223.40" y1="637.78" x2="229.00" y2="637.78" stroke="#6a54c2" stroke-width="0.9"/>
<circle cx="226.20" cy="630.21" r="1.45" fill="#6a54c2"/>
<circle cx="226.20" cy="633.57" r="1.45" fill="#6a54c2"/>
<circle cx="223.30" cy="635.81" r="1.45" fill="#6a54c2"/>
<circle cx="226.20" cy="636.94" r="1.45" fill="#6a54c2"/>
<circle cx="229.10" cy="637.50" r="1.45" fill="#6a54c2"/>
<line x1="241.95" y1="608.54" x2="241.95" y2="632.81" stroke="#c8650c" stroke-width="0.9"/>
<line x1="239.15" y1="608.54" x2="244.75" y2="608.54" stroke="#c8650c" stroke-width="0.9"/>
<line x1="239.15" y1="632.81" x2="244.75" y2="632.81" stroke="#c8650c" stroke-width="0.9"/>
<circle cx="241.95" cy="599.93" r="1.45" fill="#c8650c"/>
<circle cx="241.95" cy="621.24" r="1.45" fill="#c8650c"/>
<circle cx="239.05" cy="624.04" r="1.45" fill="#c8650c"/>
<circle cx="241.95" cy="627.40" r="1.45" fill="#c8650c"/>
<circle cx="241.95" cy="630.77" r="1.45" fill="#c8650c"/>
<line x1="268.45" y1="634.34" x2="268.45" y2="635.27" stroke="#6a54c2" stroke-width="0.9"/>
<line x1="265.65" y1="634.34" x2="271.25" y2="634.34" stroke="#6a54c2" stroke-width="0.9"/>
<line x1="265.65" y1="635.27" x2="271.25" y2="635.27" stroke="#6a54c2" stroke-width="0.9"/>
<circle cx="268.45" cy="634.13" r="1.45" fill="#6a54c2"/>
<circle cx="265.55" cy="634.69" r="1.45" fill="#6a54c2"/>
<circle cx="271.35" cy="634.69" r="1.45" fill="#6a54c2"/>
<circle cx="268.45" cy="635.25" r="1.45" fill="#6a54c2"/>
<circle cx="265.55" cy="635.25" r="1.45" fill="#6a54c2"/>
<line x1="284.20" y1="628.73" x2="284.20" y2="629.67" stroke="#c8650c" stroke-width="0.9"/>
<line x1="281.40" y1="628.73" x2="287.00" y2="628.73" stroke="#c8650c" stroke-width="0.9"/>
<line x1="281.40" y1="629.67" x2="287.00" y2="629.67" stroke="#c8650c" stroke-width="0.9"/>
<circle cx="284.20" cy="628.53" r="1.45" fill="#c8650c"/>
<circle cx="281.30" cy="629.09" r="1.45" fill="#c8650c"/>
<circle cx="287.10" cy="629.09" r="1.45" fill="#c8650c"/>
<circle cx="284.20" cy="629.65" r="1.45" fill="#c8650c"/>
<circle cx="281.30" cy="629.65" r="1.45" fill="#c8650c"/>
<line x1="310.70" y1="632.31" x2="310.70" y2="636.63" stroke="#6a54c2" stroke-width="0.9"/>
<line x1="307.90" y1="632.31" x2="313.50" y2="632.31" stroke="#6a54c2" stroke-width="0.9"/>
<line x1="307.90" y1="636.63" x2="313.50" y2="636.63" stroke="#6a54c2" stroke-width="0.9"/>
<circle cx="310.70" cy="631.33" r="1.45" fill="#6a54c2"/>
<circle cx="307.80" cy="633.57" r="1.45" fill="#6a54c2"/>
<circle cx="310.70" cy="634.69" r="1.45" fill="#6a54c2"/>
<circle cx="313.60" cy="635.81" r="1.45" fill="#6a54c2"/>
<circle cx="307.80" cy="636.94" r="1.45" fill="#6a54c2"/>
<line x1="326.45" y1="616.11" x2="326.45" y2="631.52" stroke="#c8650c" stroke-width="0.9"/>
<line x1="323.65" y1="616.11" x2="329.25" y2="616.11" stroke="#c8650c" stroke-width="0.9"/>
<line x1="323.65" y1="631.52" x2="329.25" y2="631.52" stroke="#c8650c" stroke-width="0.9"/>
<circle cx="326.45" cy="610.58" r="1.45" fill="#c8650c"/>
<circle cx="326.45" cy="624.60" r="1.45" fill="#c8650c"/>
<circle cx="323.55" cy="625.72" r="1.45" fill="#c8650c"/>
<circle cx="326.45" cy="627.97" r="1.45" fill="#c8650c"/>
<circle cx="323.55" cy="630.21" r="1.45" fill="#c8650c"/>
<line x1="352.95" y1="631.53" x2="352.95" y2="635.83" stroke="#6a54c2" stroke-width="0.9"/>
<line x1="350.15" y1="631.53" x2="355.75" y2="631.53" stroke="#6a54c2" stroke-width="0.9"/>
<line x1="350.15" y1="635.83" x2="355.75" y2="635.83" stroke="#6a54c2" stroke-width="0.9"/>
<circle cx="352.95" cy="631.33" r="1.45" fill="#6a54c2"/>
<circle cx="350.05" cy="631.89" r="1.45" fill="#6a54c2"/>
<circle cx="355.85" cy="633.57" r="1.45" fill="#6a54c2"/>
<circle cx="352.95" cy="635.25" r="1.45" fill="#6a54c2"/>
<circle cx="350.05" cy="636.38" r="1.45" fill="#6a54c2"/>
<line x1="368.70" y1="616.25" x2="368.70" y2="623.98" stroke="#c8650c" stroke-width="0.9"/>
<line x1="365.90" y1="616.25" x2="371.50" y2="616.25" stroke="#c8650c" stroke-width="0.9"/>
<line x1="365.90" y1="623.98" x2="371.50" y2="623.98" stroke="#c8650c" stroke-width="0.9"/>
<circle cx="368.70" cy="616.19" r="1.45" fill="#c8650c"/>
<circle cx="365.80" cy="616.75" r="1.45" fill="#c8650c"/>
<circle cx="368.70" cy="620.68" r="1.45" fill="#c8650c"/>
<circle cx="365.80" cy="621.24" r="1.45" fill="#c8650c"/>
<circle cx="368.70" cy="625.72" r="1.45" fill="#c8650c"/>
<line x1="395.20" y1="632.98" x2="395.20" y2="636.19" stroke="#6a54c2" stroke-width="0.9"/>
<line x1="392.40" y1="632.98" x2="398.00" y2="632.98" stroke="#6a54c2" stroke-width="0.9"/>
<line x1="392.40" y1="636.19" x2="398.00" y2="636.19" stroke="#6a54c2" stroke-width="0.9"/>
<circle cx="395.20" cy="632.45" r="1.45" fill="#6a54c2"/>
<circle cx="392.30" cy="633.57" r="1.45" fill="#6a54c2"/>
<circle cx="398.10" cy="634.69" r="1.45" fill="#6a54c2"/>
<circle cx="395.20" cy="635.81" r="1.45" fill="#6a54c2"/>
<circle cx="392.30" cy="636.38" r="1.45" fill="#6a54c2"/>
<line x1="410.95" y1="586.58" x2="410.95" y2="611.27" stroke="#c8650c" stroke-width="0.9"/>
<line x1="408.15" y1="586.58" x2="413.75" y2="586.58" stroke="#c8650c" stroke-width="0.9"/>
<line x1="408.15" y1="611.27" x2="413.75" y2="611.27" stroke="#c8650c" stroke-width="0.9"/>
<circle cx="410.95" cy="586.48" r="1.45" fill="#c8650c"/>
<circle cx="410.95" cy="590.96" r="1.45" fill="#c8650c"/>
<circle cx="410.95" cy="597.13" r="1.45" fill="#c8650c"/>
<circle cx="410.95" cy="601.61" r="1.45" fill="#c8650c"/>
<circle cx="410.95" cy="618.43" r="1.45" fill="#c8650c"/>
<line x1="437.45" y1="633.83" x2="437.45" y2="635.11" stroke="#6a54c2" stroke-width="0.9"/>
<line x1="434.65" y1="633.83" x2="440.25" y2="633.83" stroke="#6a54c2" stroke-width="0.9"/>
<line x1="434.65" y1="635.11" x2="440.25" y2="635.11" stroke="#6a54c2" stroke-width="0.9"/>
<circle cx="437.45" cy="633.57" r="1.45" fill="#6a54c2"/>
<circle cx="434.55" cy="634.13" r="1.45" fill="#6a54c2"/>
<circle cx="440.35" cy="634.69" r="1.45" fill="#6a54c2"/>
<circle cx="437.45" cy="634.69" r="1.45" fill="#6a54c2"/>
<circle cx="434.55" cy="635.25" r="1.45" fill="#6a54c2"/>
<line x1="453.20" y1="608.43" x2="453.20" y2="627.31" stroke="#c8650c" stroke-width="0.9"/>
<line x1="450.40" y1="608.43" x2="456.00" y2="608.43" stroke="#c8650c" stroke-width="0.9"/>
<line x1="450.40" y1="627.31" x2="456.00" y2="627.31" stroke="#c8650c" stroke-width="0.9"/>
<circle cx="453.20" cy="607.22" r="1.45" fill="#c8650c"/>
<circle cx="450.30" cy="608.90" r="1.45" fill="#c8650c"/>
<circle cx="453.20" cy="621.24" r="1.45" fill="#c8650c"/>
<circle cx="450.30" cy="622.92" r="1.45" fill="#c8650c"/>
<circle cx="453.20" cy="629.09" r="1.45" fill="#c8650c"/>
<line x1="479.70" y1="633.83" x2="479.70" y2="635.11" stroke="#6a54c2" stroke-width="0.9"/>
<line x1="476.90" y1="633.83" x2="482.50" y2="633.83" stroke="#6a54c2" stroke-width="0.9"/>
<line x1="476.90" y1="635.11" x2="482.50" y2="635.11" stroke="#6a54c2" stroke-width="0.9"/>
<circle cx="479.70" cy="633.57" r="1.45" fill="#6a54c2"/>
<circle cx="476.80" cy="634.13" r="1.45" fill="#6a54c2"/>
<circle cx="482.60" cy="634.69" r="1.45" fill="#6a54c2"/>
<circle cx="479.70" cy="634.69" r="1.45" fill="#6a54c2"/>
<circle cx="476.80" cy="635.25" r="1.45" fill="#6a54c2"/>
<line x1="495.45" y1="623.20" x2="495.45" y2="631.83" stroke="#c8650c" stroke-width="0.9"/>
<line x1="492.65" y1="623.20" x2="498.25" y2="623.20" stroke="#c8650c" stroke-width="0.9"/>
<line x1="492.65" y1="631.83" x2="498.25" y2="631.83" stroke="#c8650c" stroke-width="0.9"/>
<circle cx="495.45" cy="621.24" r="1.45" fill="#c8650c"/>
<circle cx="495.45" cy="625.72" r="1.45" fill="#c8650c"/>
<circle cx="492.55" cy="627.97" r="1.45" fill="#c8650c"/>
<circle cx="495.45" cy="630.21" r="1.45" fill="#c8650c"/>
<circle cx="492.55" cy="632.45" r="1.45" fill="#c8650c"/>
<line x1="521.95" y1="632.06" x2="521.95" y2="635.98" stroke="#6a54c2" stroke-width="0.9"/>
<line x1="519.15" y1="632.06" x2="524.75" y2="632.06" stroke="#6a54c2" stroke-width="0.9"/>
<line x1="519.15" y1="635.98" x2="524.75" y2="635.98" stroke="#6a54c2" stroke-width="0.9"/>
<circle cx="521.95" cy="631.33" r="1.45" fill="#6a54c2"/>
<circle cx="519.05" cy="633.01" r="1.45" fill="#6a54c2"/>
<circle cx="524.85" cy="634.13" r="1.45" fill="#6a54c2"/>
<circle cx="521.95" cy="635.25" r="1.45" fill="#6a54c2"/>
<circle cx="519.05" cy="636.38" r="1.45" fill="#6a54c2"/>
<line x1="537.70" y1="616.63" x2="537.70" y2="626.52" stroke="#c8650c" stroke-width="0.9"/>
<line x1="534.90" y1="616.63" x2="540.50" y2="616.63" stroke="#c8650c" stroke-width="0.9"/>
<line x1="534.90" y1="626.52" x2="540.50" y2="626.52" stroke="#c8650c" stroke-width="0.9"/>
<circle cx="537.70" cy="613.39" r="1.45" fill="#c8650c"/>
<circle cx="537.70" cy="620.68" r="1.45" fill="#c8650c"/>
<circle cx="534.80" cy="623.48" r="1.45" fill="#c8650c"/>
<circle cx="537.70" cy="624.60" r="1.45" fill="#c8650c"/>
<circle cx="540.60" cy="625.72" r="1.45" fill="#c8650c"/>
<line x1="564.20" y1="633.31" x2="564.20" y2="635.63" stroke="#6a54c2" stroke-width="0.9"/>
<line x1="561.40" y1="633.31" x2="567.00" y2="633.31" stroke="#6a54c2" stroke-width="0.9"/>
<line x1="561.40" y1="635.63" x2="567.00" y2="635.63" stroke="#6a54c2" stroke-width="0.9"/>
<circle cx="564.20" cy="633.01" r="1.45" fill="#6a54c2"/>
<circle cx="561.30" cy="633.57" r="1.45" fill="#6a54c2"/>
<circle cx="567.10" cy="634.69" r="1.45" fill="#6a54c2"/>
<circle cx="564.20" cy="635.25" r="1.45" fill="#6a54c2"/>
<circle cx="561.30" cy="635.81" r="1.45" fill="#6a54c2"/>
<line x1="579.95" y1="599.69" x2="579.95" y2="630.00" stroke="#c8650c" stroke-width="0.9"/>
<line x1="577.15" y1="599.69" x2="582.75" y2="599.69" stroke="#c8650c" stroke-width="0.9"/>
<line x1="577.15" y1="630.00" x2="582.75" y2="630.00" stroke="#c8650c" stroke-width="0.9"/>
<circle cx="579.95" cy="589.84" r="1.45" fill="#c8650c"/>
<circle cx="579.95" cy="612.27" r="1.45" fill="#c8650c"/>
<circle cx="579.95" cy="619.56" r="1.45" fill="#c8650c"/>
<circle cx="579.95" cy="625.16" r="1.45" fill="#c8650c"/>
<circle cx="577.05" cy="627.40" r="1.45" fill="#c8650c"/>
<path d="M57.70,573.10V570.50H75.90V573.10" fill="none" stroke="#3c3c3c" stroke-width="0.9"/>
<text x="66.80" y="569.20" font-size="7.4" text-anchor="middle">0.0460</text>
<path d="M99.95,573.10V570.50H118.15V573.10" fill="none" stroke="#3c3c3c" stroke-width="0.9"/>
<text x="109.05" y="569.20" font-size="7.4" text-anchor="middle">0.0220</text>
<path d="M142.20,573.10V570.50H160.40V573.10" fill="none" stroke="#3c3c3c" stroke-width="0.9"/>
<text x="151.30" y="569.20" font-size="7.4" text-anchor="middle">0.0124</text>
<path d="M184.45,573.10V570.50H202.65V573.10" fill="none" stroke="#3c3c3c" stroke-width="0.9"/>
<text x="193.55" y="569.20" font-size="7.4" text-anchor="middle">0.0445</text>
<path d="M226.70,573.10V570.50H244.90V573.10" fill="none" stroke="#3c3c3c" stroke-width="0.9"/>
<text x="235.80" y="569.20" font-size="7.4" text-anchor="middle">0.0337</text>
<path d="M268.95,573.10V570.50H287.15V573.10" fill="none" stroke="#3c3c3c" stroke-width="0.9"/>
<text x="278.05" y="569.20" font-size="7.4" text-anchor="middle">7.98E-06</text>
<path d="M311.20,573.10V570.50H329.40V573.10" fill="none" stroke="#3c3c3c" stroke-width="0.9"/>
<text x="320.30" y="569.20" font-size="7.4" text-anchor="middle">0.0376</text>
<path d="M353.45,573.10V570.50H371.65V573.10" fill="none" stroke="#3c3c3c" stroke-width="0.9"/>
<text x="362.55" y="569.20" font-size="7.4" text-anchor="middle">0.0001</text>
<path d="M395.70,573.10V570.50H413.90V573.10" fill="none" stroke="#3c3c3c" stroke-width="0.9"/>
<text x="404.80" y="569.20" font-size="7.4" text-anchor="middle">0.0002</text>
<path d="M437.95,573.10V570.50H456.15V573.10" fill="none" stroke="#3c3c3c" stroke-width="0.9"/>
<text x="447.05" y="569.20" font-size="7.4" text-anchor="middle">0.0027</text>
<path d="M480.20,573.10V570.50H498.40V573.10" fill="none" stroke="#3c3c3c" stroke-width="0.9"/>
<text x="489.30" y="569.20" font-size="7.4" text-anchor="middle">0.0157</text>
<path d="M522.45,573.10V570.50H540.65V573.10" fill="none" stroke="#3c3c3c" stroke-width="0.9"/>
<text x="531.55" y="569.20" font-size="7.4" text-anchor="middle">0.0011</text>
<path d="M564.70,573.10V570.50H582.90V573.10" fill="none" stroke="#3c3c3c" stroke-width="0.9"/>
<text x="573.80" y="569.20" font-size="7.4" text-anchor="middle">0.0238</text>
<text x="65.00" y="651.30" font-size="8.6" text-anchor="middle" font-style="italic">Il-1β</text>
<text x="107.25" y="651.30" font-size="8.6" text-anchor="middle" font-style="italic">Il-6</text>
<text x="149.50" y="651.30" font-size="8.6" text-anchor="middle" font-style="italic">Tnf-α</text>
<text x="191.75" y="651.30" font-size="8.6" text-anchor="middle" font-style="italic">Cd68</text>
<text x="234.00" y="651.30" font-size="8.6" text-anchor="middle" font-style="italic">F4/80</text>
<text x="276.25" y="651.30" font-size="8.6" text-anchor="middle" font-style="italic">Icam-1</text>
<text x="318.50" y="651.30" font-size="8.6" text-anchor="middle" font-style="italic">Vcam-1</text>
<text x="360.75" y="651.30" font-size="8.6" text-anchor="middle" font-style="italic">Ly6g</text>
<text x="403.00" y="651.30" font-size="8.6" text-anchor="middle" font-style="italic">Cxcl1</text>
<text x="445.25" y="651.30" font-size="8.6" text-anchor="middle" font-style="italic">Cxcl2</text>
<text x="487.50" y="651.30" font-size="8.6" text-anchor="middle" font-style="italic">Ccl2</text>
<text x="529.75" y="651.30" font-size="8.6" text-anchor="middle" font-style="italic">Ccl4</text>
<text x="572.00" y="651.30" font-size="8.6" text-anchor="middle" font-style="italic">Ccr2</text>
<text transform="translate(17.20,599.70) rotate(-90)" font-size="9.25" text-anchor="middle" fill="#231f20">Relative mRNA</text>
<text transform="translate(26.00,600.20) rotate(-90)" font-size="9.3" text-anchor="middle" fill="#231f20">expression (fold)</text>
<rect x="611.40" y="581.30" width="10.70" height="3.80" fill="#cfc0df" stroke="#9c88cc" stroke-width="0.8"/>
<text x="624.70" y="585.90" font-size="8.8">Flox-EF</text>
<rect x="611.40" y="590.30" width="10.70" height="3.80" fill="#f4d0a8" stroke="#e8a25c" stroke-width="0.8"/>
<text x="624.70" y="594.90" font-size="8.8">HKO-EF</text>
<text x="0.70" y="681.40" font-size="17.2" fill="#000" style="stroke:#000" font-weight="bold">o</text>
<text x="120.5" y="684.6" font-size="10.5" text-anchor="middle"><tspan fill="#f01850" stroke="#f01850">F4/80</tspan><tspan fill="#1c1cf0" stroke="#1c1cf0">/DAPI</tspan></text>
<clipPath id="c31"><rect x="24.20" y="688.00" width="100.50" height="74.80"/></clipPath>
<g clip-path="url(#c31)"><g fill="none" filter="url(#blr)">
<rect x="24.20" y="688.00" width="100.50" height="74.80" fill="#000000"/>
<path d="M48.0 760.4h0M109.1 753.9h0M56.4 755.1h0M115.0 712.4h0M92.0 742.3h0M74.0 699.0h0M123.9 717.1h0M109.7 720.2h0M128.6 756.5h0M73.4 714.2h0M77.7 724.3h0M73.6 717.6h0M57.0 718.5h0M78.1 731.7h0M127.2 702.1h0M119.0 760.5h0M44.0 714.6h0M109.8 691.2h0M86.7 706.7h0M27.1 710.4h0M54.8 728.7h0M106.5 757.8h0M68.3 723.2h0M103.5 717.5h0M111.5 711.6h0M102.2 711.0h0M123.2 698.5h0M111.2 725.8h0M85.8 747.9h0M37.4 754.9h0M51.6 705.7h0M100.3 744.8h0M63.1 696.0h0M73.1 711.1h0M64.9 760.5h0M109.0 702.0h0M63.9 750.7h0M104.0 739.1h0M122.9 736.5h0M75.7 764.7h0M72.0 720.8h0M50.0 708.4h0M45.0 759.4h0M41.7 730.5h0M110.2 692.1h0M41.6 702.3h0M33.0 719.1h0M78.2 723.6h0M25.4 694.1h0M43.1 696.6h0M127.5 738.4h0M118.5 698.8h0M118.5 762.5h0M67.8 746.3h0M81.7 699.4h0M33.2 727.5h0M29.0 746.2h0M98.4 756.4h0M72.1 730.1h0M102.6 750.2h0M54.5 692.2h0M121.7 695.6h0M111.0 759.5h0M98.7 719.1h0M88.6 747.1h0M120.0 760.0h0M77.1 733.6h0M87.2 719.7h0M56.0 748.2h0M60.9 763.1h0M59.8 740.8h0M49.5 737.1h0M70.4 750.2h0M122.5 719.1h0M61.0 748.8h0M121.8 688.5h0M24.9 719.8h0M125.3 709.4h0M111.6 706.0h0M68.8 732.6h0M86.5 733.5h0M123.5 762.4h0M117.1 746.9h0M95.3 743.6h0M38.5 719.0h0M113.4 710.2h0M94.7 764.4h0M49.7 695.0h0M96.1 760.3h0M102.3 730.5h0M62.3 714.5h0M30.3 691.4h0M96.2 705.4h0M101.7 703.6h0M115.3 737.2h0M60.7 729.4h0M127.5 745.8h0" stroke="#1616c0" stroke-width="2.70" stroke-linecap="round" stroke-opacity="0.9"/>
<path d="M55.7 707.0h0M42.3 720.8h0M77.6 754.2h0M122.5 692.3h0M45.7 739.1h0M88.5 740.3h0M123.4 753.4h0M87.4 719.2h0M122.6 751.8h0M106.2 743.7h0M44.7 711.0h0M117.2 715.0h0M30.7 719.7h0M62.9 733.1h0M105.8 729.2h0M47.8 712.1h0M82.5 733.9h0M65.1 697.3h0M75.6 744.6h0M98.2 696.9h0M122.6 689.2h0M33.4 710.2h0M33.0 750.9h0M105.9 762.3h0M115.1 693.9h0M37.4 744.6h0M90.9 749.6h0M71.9 742.4h0M44.8 732.4h0M103.2 737.7h0M41.4 705.8h0M82.7 755.4h0M125.7 719.2h0M63.1 739.1h0M23.7 755.8h0M107.2 727.6h0M90.9 760.7h0M65.4 756.5h0M29.1 751.2h0M57.1 703.1h0M95.4 742.2h0M101.3 754.6h0M114.9 755.5h0M93.0 688.4h0M120.6 708.1h0M106.1 742.1h0M85.5 690.5h0M97.5 719.7h0M89.4 706.5h0M41.3 746.5h0M87.2 698.6h0M53.7 717.2h0M74.5 761.9h0M83.0 712.3h0M111.9 696.6h0M82.1 758.4h0M64.4 694.1h0M65.1 702.0h0M95.9 733.3h0M124.4 728.2h0M38.4 697.8h0M64.5 735.6h0M44.9 715.3h0M41.0 735.2h0M82.6 736.9h0M113.2 744.1h0M106.4 715.6h0M33.2 687.8h0M100.6 693.3h0M46.0 729.1h0M60.4 757.5h0M77.7 702.2h0M29.3 730.6h0M48.1 725.7h0M33.4 732.8h0M82.3 759.4h0M123.7 728.7h0M56.4 747.1h0M57.2 709.4h0M80.2 696.6h0M37.1 697.7h0M103.8 760.4h0M53.4 722.8h0M75.1 705.5h0M45.8 754.7h0M76.9 723.8h0M60.9 746.8h0M121.5 703.1h0M56.7 753.1h0M79.0 692.8h0M113.1 699.8h0M45.1 728.9h0M77.8 746.3h0M91.4 738.4h0M46.2 753.1h0M95.6 715.8h0M31.2 707.1h0" stroke="#1e1ee8" stroke-width="2.90" stroke-linecap="round" stroke-opacity="0.95"/>
<path d="M55.6 701.6h0M50.0 688.0h0M113.1 733.5h0M66.4 710.3h0M83.7 746.9h0M77.7 714.9h0M61.6 751.6h0M111.2 705.4h0M94.5 715.1h0M70.5 705.0h0M59.4 726.6h0M32.8 746.7h0M91.9 753.2h0M101.8 705.4h0M121.0 719.6h0M82.5 756.1h0M69.8 709.5h0M105.7 735.1h0M92.5 701.7h0M32.4 711.7h0M95.5 703.6h0M59.6 700.0h0M57.2 760.4h0M107.8 751.0h0M126.7 748.8h0M74.0 695.7h0M64.7 719.6h0M73.8 760.7h0M123.1 741.8h0M71.4 755.5h0M96.1 692.8h0M81.6 707.1h0M24.7 746.1h0M118.1 726.0h0M127.7 762.9h0M62.0 744.8h0M57.4 693.4h0M35.2 719.4h0M29.2 737.0h0M71.3 755.9h0M91.7 753.5h0M78.9 739.7h0M106.9 708.5h0M101.7 762.4h0M29.0 714.8h0M89.6 700.6h0M116.9 729.3h0M66.0 739.0h0M78.5 741.7h0M38.0 725.2h0M98.0 738.3h0M99.4 727.3h0M78.5 714.3h0M61.5 762.3h0M54.3 764.8h0M53.7 689.9h0M32.4 753.3h0M122.0 711.8h0M51.4 696.4h0M110.6 755.8h0M80.5 750.1h0M91.4 697.8h0M59.5 714.2h0M110.4 714.6h0M33.8 705.5h0M51.9 738.8h0M117.6 732.5h0M73.6 734.5h0M43.5 696.2h0M43.8 724.3h0M69.7 689.6h0M110.7 723.8h0M59.9 687.2h0M50.0 764.2h0M46.4 719.1h0M100.8 710.4h0M69.6 689.2h0M121.8 739.3h0M33.9 764.8h0M66.7 728.6h0M64.5 703.0h0M38.4 728.6h0M99.3 750.5h0M55.1 734.5h0M33.9 732.5h0M30.0 758.2h0M51.4 702.2h0M67.9 750.2h0M43.2 734.9h0M60.3 732.4h0M24.2 700.7h0M95.9 723.9h0M93.1 724.6h0M93.9 711.4h0M109.1 757.5h0M42.2 710.0h0M100.6 701.0h0" stroke="#2626ff" stroke-width="3.10" stroke-linecap="round" stroke-opacity="0.95"/>
<path d="M66.6 712.1h0M59.1 714.9h0M73.5 698.0h0M69.2 727.5h0M91.1 733.1h0M27.1 734.4h0M85.6 729.3h0M89.8 717.8h0M23.4 687.8h0M54.6 733.8h0M112.3 749.8h0M99.7 741.1h0M28.9 718.9h0M51.0 720.7h0M56.0 719.5h0M25.2 703.3h0M55.8 724.8h0M67.6 716.1h0M65.4 729.4h0M85.8 720.4h0M56.0 697.4h0M78.6 688.5h0M95.2 731.5h0M41.5 743.0h0M123.5 711.0h0M83.5 756.1h0M32.9 708.7h0M38.3 691.9h0M81.8 717.9h0M48.0 745.7h0M101.9 696.1h0M36.0 731.9h0M43.2 692.7h0M85.3 714.5h0M55.8 754.9h0M100.3 721.2h0M52.4 745.9h0M47.4 736.6h0M75.1 693.1h0M117.9 688.3h0M100.0 691.7h0M78.1 748.1h0M28.3 731.3h0M89.2 710.5h0M39.9 747.3h0M124.4 733.6h0M40.6 742.1h0M32.3 704.0h0M117.2 745.8h0M90.2 758.5h0M37.0 751.3h0M62.8 706.5h0M68.6 738.9h0M92.3 692.4h0M38.1 740.2h0M49.2 747.1h0M104.3 700.6h0M114.8 730.5h0M93.7 700.6h0M86.5 737.9h0M106.2 718.9h0M87.8 763.9h0M124.3 741.0h0M84.6 696.6h0M87.5 747.4h0M41.5 755.3h0M113.7 721.1h0M42.2 691.8h0M28.7 760.9h0M48.2 697.9h0M84.9 725.3h0M38.0 707.5h0M52.9 715.6h0M46.1 753.2h0M97.7 756.3h0M109.7 694.6h0M42.4 751.7h0M83.1 727.3h0M88.0 710.1h0M41.5 704.5h0M41.1 763.5h0M89.8 692.3h0M107.8 730.4h0M87.3 726.0h0M31.9 696.9h0M115.2 706.3h0M84.4 762.5h0M113.3 737.9h0M28.8 719.5h0M114.3 701.5h0M24.9 742.0h0M32.2 702.2h0M85.7 703.6h0M38.4 761.7h0M35.9 751.9h0M118.3 750.8h0M116.6 737.3h0M24.2 729.2h0M69.6 726.7h0M27.1 738.2h0" stroke="#1a1ad4" stroke-width="3.20" stroke-linecap="round" stroke-opacity="0.95"/>
<path d="M88.3 756.9l-0.7 1.6M54.7 742.5l-1.0 0.8M36.9 702.1l-1.3 0.8M36.1 703.2l-0.6 1.1M26.6 690.4l0.8 0.2M27.3 690.8l0.8 0.8M118.6 712.8l0.3 1.8M35.6 736.9l-1.0 0.1M34.1 736.3l-1.2 -0.2M67.6 694.2l0.8 0.7M39.8 707.8l-0.6 1.1M114.8 760.8l1.0 0.3M116.1 760.5l1.0 0.6M98.8 714.3l-1.0 0.3M98.1 715.4l-1.2 -0.6M46.1 750.0l1.4 1.0M48.2 751.5l1.1 0.3M58.3 693.4l-1.5 0.2M56.0 694.4l-1.3 0.7M45.1 715.1l0.6 1.3M45.5 715.4l0.4 1.1M111.0 722.6l0.4 1.5M58.4 741.3l-1.2 0.3M76.6 690.7l1.4 0.3M54.5 748.3l1.2 1.1M54.9 749.2l1.2 0.4M110.8 718.2l0.0 1.5M111.1 719.1l0.1 0.7M111.3 707.8l-1.0 1.3M78.8 722.4l-0.2 0.6M79.1 722.4l0.6 1.6M39.5 716.1l1.1 0.5M41.5 716.1l1.4 0.7M55.0 692.5l1.7 0.0M55.8 692.6l1.2 -0.8" stroke="#ff1a36" stroke-width="0.85" stroke-linecap="round" stroke-opacity="0.9"/>
</g></g>
<clipPath id="c32"><rect x="127.00" y="688.00" width="100.80" height="74.80"/></clipPath>
<g clip-path="url(#c32)"><g fill="none" filter="url(#blr)">
<rect x="127.00" y="688.00" width="100.80" height="74.80" fill="#000000"/>
<path d="M149.2 741.4h0M191.0 726.0h0M176.9 760.1h0M221.1 722.4h0M134.0 765.2h0M130.9 764.4h0M203.8 734.7h0M197.5 718.9h0M227.6 693.3h0M228.9 755.4h0M133.6 737.4h0M221.0 693.6h0M185.0 749.4h0M151.4 715.3h0M149.4 690.4h0M135.1 723.2h0M182.7 724.5h0M152.2 705.6h0M199.6 741.5h0M176.8 721.4h0M158.2 761.0h0M229.9 710.4h0M221.5 711.0h0M152.0 744.9h0M160.9 708.2h0M228.3 738.9h0M219.4 741.7h0M198.9 714.3h0M183.3 729.5h0M186.1 720.1h0M199.4 745.2h0M191.7 736.7h0M170.4 747.6h0M200.8 755.7h0M222.7 728.0h0M209.6 759.8h0M164.6 740.5h0M230.4 719.1h0M174.4 755.8h0M185.2 757.8h0M150.5 694.0h0M131.9 715.6h0M126.4 720.8h0M184.9 753.8h0M205.8 760.5h0M140.1 720.3h0M148.4 755.8h0M189.4 687.3h0M207.6 756.5h0M198.5 726.6h0M201.1 759.2h0M173.9 735.5h0M224.3 702.4h0M136.4 738.3h0M144.2 727.0h0M212.6 743.4h0M133.4 706.0h0M229.0 746.1h0M150.5 754.6h0M130.4 705.1h0M158.1 710.6h0M127.5 732.2h0M206.2 705.2h0M163.0 750.2h0M196.0 726.4h0M155.3 757.5h0M213.2 719.4h0M136.6 751.6h0M188.8 758.8h0M148.3 691.9h0M200.1 693.0h0M143.1 714.6h0M165.1 705.2h0M176.5 695.5h0M223.1 758.1h0M162.2 691.7h0M203.7 692.2h0M176.7 732.0h0M185.2 703.1h0M229.8 748.5h0M195.6 706.7h0M144.4 742.8h0M184.1 712.4h0M187.9 736.7h0M127.3 706.8h0M144.0 733.2h0M169.0 703.6h0M185.5 745.7h0M218.1 728.2h0M214.0 724.2h0M212.1 761.4h0M154.3 698.5h0M135.5 719.8h0M164.8 717.3h0M149.2 735.4h0M159.3 707.0h0M181.8 710.8h0" stroke="#1616c0" stroke-width="2.70" stroke-linecap="round" stroke-opacity="0.9"/>
<path d="M190.5 705.9h0M163.5 746.9h0M195.6 714.9h0M176.1 687.9h0M147.8 699.1h0M126.7 727.1h0M224.3 738.4h0M195.4 730.8h0M157.1 720.9h0M223.4 736.0h0M208.5 733.2h0M137.7 713.9h0M221.4 706.9h0M150.1 746.1h0M181.2 751.5h0M156.3 705.3h0M136.8 702.2h0M156.9 726.8h0M186.0 745.9h0M131.0 756.0h0M192.9 710.1h0M156.2 750.6h0M173.8 720.7h0M204.3 716.4h0M155.6 714.4h0M193.7 722.7h0M177.1 688.4h0M134.5 711.8h0M166.7 757.4h0M139.4 751.0h0M176.6 750.8h0M133.6 696.7h0M163.2 746.1h0M196.2 736.4h0M142.8 701.8h0M132.5 692.8h0M163.7 739.9h0M165.9 764.5h0M203.5 732.8h0M216.5 715.0h0M222.7 688.6h0M200.8 746.3h0M208.0 711.8h0M222.4 747.2h0M168.1 751.1h0M207.5 744.7h0M150.7 756.2h0M207.3 697.6h0M175.9 698.5h0M202.2 692.5h0M138.8 742.4h0M227.0 706.9h0M207.6 714.4h0M176.3 698.1h0M150.0 710.1h0M212.9 744.3h0M212.4 703.9h0M187.5 723.8h0M165.6 728.0h0M226.7 697.4h0M155.4 687.1h0M196.8 761.3h0M219.8 688.5h0M166.7 757.5h0M139.8 754.1h0M136.6 760.6h0M182.0 756.2h0M175.2 756.7h0M220.9 703.4h0M154.9 741.2h0M208.3 727.8h0M220.0 724.6h0M166.7 706.4h0M208.5 754.0h0M216.7 758.3h0M194.4 754.8h0M164.7 753.9h0M144.8 751.2h0M154.0 714.1h0M201.2 718.5h0M139.6 702.3h0M195.0 718.9h0M199.0 721.9h0M140.2 692.0h0M154.2 732.7h0M131.9 745.0h0M186.3 687.8h0M194.0 746.3h0M150.9 700.7h0M181.5 694.0h0M171.1 700.4h0M228.3 724.2h0M171.9 692.4h0M175.5 750.4h0M207.2 755.9h0M149.8 720.1h0M193.6 701.3h0" stroke="#1e1ee8" stroke-width="2.90" stroke-linecap="round" stroke-opacity="0.95"/>
<path d="M217.4 754.9h0M177.0 736.5h0M231.0 738.0h0M170.4 760.6h0M163.3 730.2h0M158.7 701.1h0M211.1 750.8h0M186.1 702.3h0M207.1 738.0h0M216.2 724.3h0M137.9 696.0h0M186.0 698.9h0M216.6 747.7h0M149.5 760.4h0M178.9 761.8h0M189.8 714.9h0M210.5 706.8h0M181.4 701.8h0M149.5 729.2h0M154.6 692.7h0M157.8 754.7h0M140.9 764.7h0M140.2 742.4h0M167.0 737.8h0M208.0 746.6h0M193.2 756.1h0M181.0 709.6h0M173.6 742.5h0M207.3 742.6h0M181.2 733.6h0M204.2 691.6h0M140.9 701.0h0M178.9 694.8h0M221.8 755.2h0M190.6 718.9h0M162.0 731.1h0M175.1 703.9h0M218.7 710.2h0M132.9 696.6h0M227.1 760.7h0M179.9 741.1h0M157.8 740.8h0M223.1 720.2h0M218.1 744.3h0M162.1 701.7h0M156.9 750.8h0M172.2 708.2h0M194.7 743.0h0M166.4 697.6h0M144.7 719.6h0M201.9 709.3h0M140.5 744.7h0M157.6 697.6h0M215.2 692.0h0M222.2 706.4h0M132.1 746.1h0M216.3 734.8h0M149.6 737.4h0M211.8 690.7h0M154.3 691.8h0M220.8 696.6h0M148.1 743.8h0M186.9 736.7h0M226.7 731.6h0M160.2 714.7h0M159.7 742.0h0M212.5 723.5h0M185.3 707.3h0M162.4 748.2h0M192.1 761.9h0M198.2 711.3h0M192.7 756.7h0M226.5 714.4h0M176.0 724.6h0M130.6 722.8h0M167.7 710.4h0M222.3 727.9h0M128.1 697.1h0M213.6 755.8h0M150.3 704.5h0M214.3 737.0h0M228.3 696.5h0M220.0 759.1h0M196.0 756.1h0M167.6 724.0h0M223.0 746.3h0M212.1 720.0h0M177.1 718.5h0M162.4 736.0h0M149.7 733.4h0M174.4 738.9h0M184.0 738.6h0M212.1 709.0h0M161.5 763.0h0M139.8 729.4h0M182.0 725.6h0M162.4 687.9h0" stroke="#2626ff" stroke-width="3.10" stroke-linecap="round" stroke-opacity="0.95"/>
<path d="M163.7 697.3h0M134.7 733.3h0M139.7 715.6h0M140.1 711.1h0M230.1 754.2h0M203.2 702.3h0M158.9 718.7h0M183.2 761.1h0M215.3 697.7h0M173.4 760.8h0M133.7 760.1h0M195.3 749.9h0M187.0 730.7h0M188.1 715.5h0M167.0 718.3h0M170.5 746.4h0M200.3 755.1h0M169.7 697.6h0M196.7 747.3h0M167.8 741.6h0M128.8 692.0h0M203.4 696.6h0M217.7 701.5h0M182.2 732.7h0M149.5 749.8h0M198.2 709.1h0M191.9 701.8h0M206.4 724.7h0M131.7 746.4h0M213.3 749.0h0M194.5 694.8h0M192.9 729.3h0M173.9 713.0h0M215.8 711.9h0M157.5 741.7h0M178.4 719.3h0M171.6 723.2h0M202.8 727.7h0M147.4 751.1h0M142.0 760.0h0M202.9 749.4h0M128.4 737.8h0M172.6 723.1h0M193.1 734.1h0M213.5 733.0h0M144.5 725.6h0M208.0 713.1h0M195.8 688.1h0M224.8 709.0h0M153.2 761.3h0M126.6 688.4h0M189.2 692.8h0M173.6 710.5h0M159.1 735.0h0M152.0 725.8h0M226.4 760.4h0M212.7 699.3h0M149.1 708.9h0M130.5 710.1h0M210.3 731.1h0M208.3 731.7h0M185.8 707.3h0M197.4 696.8h0M185.9 723.0h0M153.3 715.8h0M197.4 737.1h0M140.2 690.3h0M178.3 724.5h0M199.7 699.6h0M228.0 692.1h0M203.6 704.2h0M145.0 737.8h0M185.6 687.2h0M160.6 726.6h0M220.1 751.7h0M129.9 746.0h0M127.3 717.0h0M140.7 713.6h0M210.1 704.0h0M134.5 739.4h0M139.6 747.9h0M139.7 757.0h0M176.1 746.0h0M131.2 755.9h0M229.4 710.6h0M170.7 733.0h0M180.8 751.4h0M210.6 728.2h0M176.4 702.3h0M129.1 738.4h0M216.8 730.3h0M138.1 728.1h0M147.4 718.5h0M137.1 705.1h0M158.3 696.3h0M168.4 713.5h0M140.1 707.8h0M189.7 761.9h0M138.2 691.6h0M170.9 727.8h0" stroke="#1a1ad4" stroke-width="3.20" stroke-linecap="round" stroke-opacity="0.95"/>
<path d="M193.2 734.2l0.6 0.5M157.4 731.5l-1.1 1.3M157.3 732.7l-0.2 1.3M156.7 729.6l-1.4 0.4M155.6 730.5l-1.0 1.5M139.6 760.3l0.9 0.5M141.6 748.3l-0.1 0.7M154.1 728.9l-1.7 0.5M152.7 730.2l-0.7 0.6M153.0 733.1l0.9 1.3M136.5 726.5l-0.6 1.0M136.3 727.0l-0.8 0.7M214.4 725.5l-0.7 0.2M213.9 726.2l-1.0 -0.2M134.9 725.2l-0.3 0.8M135.5 726.8l-1.1 0.8M205.7 750.8l-0.6 0.2M152.2 755.5l0.5 0.5M153.0 756.8l0.7 1.3M134.3 722.4l-0.8 0.1M165.4 758.7l-1.4 0.3M196.9 717.7l0.9 0.4M216.0 712.6l0.9 1.5M215.8 752.0l-1.0 0.6M215.1 752.6l-0.8 1.5M215.0 755.4l-1.3 0.7M212.9 755.7l-1.3 -0.2M202.6 724.1l0.5 0.9M207.8 734.8l0.3 1.5M208.9 736.7l0.2 0.6M195.6 722.6l0.8 0.9M193.4 698.6l-0.6 0.1M157.9 733.4l-1.7 0.3M156.5 734.0l-0.7 0.4M161.8 756.6l-0.6 0.7M162.2 708.3l-1.2 1.2M190.6 759.9l0.8 0.4M172.3 760.1l1.2 1.2M222.2 731.6l-1.6 0.5M220.7 733.1l-0.7 0.1M141.3 697.3l1.7 0.2M143.7 696.8l1.1 -0.6M132.0 747.8l1.7 0.6M134.1 747.7l1.0 1.3M206.6 696.3l-0.9 0.0M205.4 695.3l-1.3 0.6M143.2 757.8l-1.2 1.1M142.2 759.3l-1.1 0.6M135.6 744.6l0.7 1.3M137.0 745.1l0.5 1.3M178.2 717.4l-0.6 0.3M177.4 718.4l-1.2 0.4M154.4 721.5l0.9 0.1M155.7 721.6l1.1 0.6M213.6 692.5l-0.5 0.6M150.3 748.7l1.6 0.3M152.1 749.4l1.0 -0.6M167.0 729.0l-0.4 1.4M137.0 711.6l0.6 0.7M209.5 759.7l0.7 1.6M146.3 723.2l-1.0 0.5M145.1 723.7l-0.3 0.9M146.0 759.1l1.0 1.5M147.6 759.7l0.6 1.1M190.2 725.7l-1.2 1.0M188.4 726.8l-0.6 0.5M154.8 719.1l-0.6 1.2M153.3 719.4l-1.1 1.0M207.4 722.1l-0.5 1.6M206.6 724.2l-0.3 1.4M224.5 726.7l-1.5 0.4M222.6 726.1l-0.6 -0.2M162.9 726.5l0.4 1.5M163.6 728.3l0.9 1.0M136.8 707.8l1.6 0.8M138.1 708.5l0.8 0.2M201.3 735.5l1.2 1.0M201.7 737.2l1.1 1.4M206.7 707.5l0.6 0.3M207.2 706.9l1.1 -0.3M205.1 709.4l0.1 1.7M205.8 710.5l0.5 0.4M157.2 724.4l-1.2 1.0M195.3 746.6l-0.0 1.1M196.0 746.8l-1.1 1.3M127.3 735.8l-0.8 0.4M175.0 738.0l-0.2 1.4" stroke="#ff1a36" stroke-width="0.85" stroke-linecap="round" stroke-opacity="0.9"/>
</g></g>
<clipPath id="c33"><rect x="24.20" y="765.30" width="100.50" height="75.40"/></clipPath>
<g clip-path="url(#c33)"><g fill="none" filter="url(#blr)">
<rect x="24.20" y="765.30" width="100.50" height="75.40" fill="#000000"/>
<path d="M28.2 827.4h0M53.5 793.6h0M82.9 797.5h0M48.5 778.5h0M80.7 771.7h0M101.6 777.7h0M60.8 831.5h0M41.3 783.3h0M82.3 781.3h0M55.0 833.8h0M65.3 788.5h0M83.7 840.5h0M28.0 772.4h0M25.9 796.9h0M56.9 781.0h0M70.8 825.5h0M96.3 783.8h0M128.5 780.1h0M71.4 838.1h0M33.3 813.1h0M51.9 805.4h0M50.9 811.9h0M106.9 779.2h0M36.2 775.2h0M101.5 824.2h0M46.1 796.0h0M94.9 803.0h0M119.8 824.8h0M109.3 810.9h0M51.1 828.0h0M33.4 802.7h0M55.9 829.8h0M64.5 818.8h0M64.2 809.5h0M108.6 814.3h0M50.8 784.8h0M116.6 833.8h0M51.8 825.3h0M105.8 766.1h0M118.8 775.0h0M83.8 774.5h0M91.4 787.2h0M118.7 785.7h0M56.1 778.9h0M45.4 768.3h0M49.8 797.1h0M111.7 817.6h0M42.5 801.7h0M33.8 841.4h0M87.9 829.2h0M63.9 830.2h0M96.9 842.2h0M59.3 809.4h0M93.1 806.2h0M33.6 805.2h0M27.8 827.8h0M112.2 788.7h0M101.8 805.3h0M115.0 810.4h0M100.1 831.7h0M55.1 832.8h0M111.4 840.5h0M126.0 826.2h0M31.7 797.7h0M51.8 836.3h0M84.7 828.6h0M118.5 801.4h0M72.1 769.0h0M43.9 793.4h0M65.7 832.1h0M33.6 808.4h0M113.8 806.3h0M70.0 807.3h0M26.9 768.4h0M28.6 769.8h0M70.1 787.0h0M83.0 779.4h0M53.3 771.2h0M100.9 769.1h0M119.0 765.1h0M125.8 810.1h0M45.4 815.4h0M84.7 781.9h0M101.7 783.2h0M113.9 774.3h0M42.2 801.1h0M118.3 827.3h0M115.2 766.9h0M119.0 837.5h0M86.9 788.1h0M60.0 840.5h0M106.7 785.4h0M29.0 777.9h0M69.1 778.5h0M25.6 782.9h0M75.4 778.7h0M48.9 790.1h0" stroke="#1616c0" stroke-width="2.70" stroke-linecap="round" stroke-opacity="0.9"/>
<path d="M92.6 765.7h0M87.1 806.8h0M78.5 786.3h0M28.5 796.4h0M58.2 788.7h0M107.7 837.1h0M67.3 796.1h0M42.2 814.6h0M109.5 832.2h0M62.2 792.7h0M69.2 833.6h0M103.9 836.6h0M122.6 823.0h0M117.9 779.3h0M89.1 784.9h0M38.4 782.7h0M95.7 826.6h0M91.3 780.0h0M40.6 827.8h0M109.2 837.4h0M100.6 823.1h0M103.3 815.6h0M83.1 767.9h0M82.8 807.0h0M41.4 837.7h0M62.7 805.2h0M66.9 804.7h0M91.9 796.5h0M81.9 837.1h0M43.9 827.3h0M34.4 787.5h0M86.8 779.2h0M26.0 832.8h0M104.9 835.3h0M50.9 839.3h0M49.0 770.5h0M104.9 803.9h0M123.4 801.8h0M78.7 824.6h0M74.7 792.1h0M90.7 769.9h0M41.3 791.8h0M75.5 769.7h0M122.9 837.1h0M49.7 780.0h0M38.1 799.9h0M44.3 819.0h0M100.0 783.4h0M60.9 797.9h0M111.5 802.9h0M87.8 806.6h0M80.9 774.7h0M104.5 788.9h0M59.5 777.1h0M73.7 817.2h0M66.6 815.1h0M37.2 817.6h0M110.2 809.2h0M127.2 810.2h0M123.4 801.6h0M46.3 793.2h0M62.5 778.8h0M96.4 813.8h0M85.9 801.6h0M32.5 783.4h0M78.6 810.4h0M30.8 814.1h0M45.8 837.8h0M80.0 793.5h0M32.5 808.2h0M40.7 778.2h0M46.3 785.7h0M94.5 823.9h0M122.5 769.9h0M97.6 779.5h0M100.9 811.1h0M59.7 833.9h0M33.1 770.9h0M33.2 837.3h0M64.7 824.3h0M89.1 792.1h0M45.2 838.7h0M33.3 793.2h0M126.6 839.3h0M56.4 792.9h0M53.4 805.4h0M100.2 804.9h0M57.3 810.0h0M123.7 774.1h0M117.3 823.2h0M118.1 783.0h0M107.2 771.6h0M37.2 770.6h0M88.0 824.0h0M118.1 778.9h0M120.8 769.0h0M109.6 837.5h0" stroke="#1e1ee8" stroke-width="2.90" stroke-linecap="round" stroke-opacity="0.95"/>
<path d="M96.1 829.0h0M94.4 835.6h0M78.6 802.6h0M108.8 767.7h0M37.1 783.9h0M73.5 819.0h0M60.7 768.4h0M70.2 792.3h0M100.6 766.4h0M47.4 778.6h0M38.0 820.7h0M82.2 812.2h0M74.3 826.6h0M103.6 773.5h0M95.8 833.5h0M37.0 832.1h0M96.5 809.0h0M119.8 796.9h0M123.5 830.3h0M27.5 814.2h0M25.3 774.1h0M122.7 778.4h0M89.4 840.6h0M78.3 769.0h0M89.2 818.8h0M58.5 828.1h0M52.4 800.5h0M93.6 816.5h0M24.4 805.0h0M128.1 795.5h0M112.5 791.8h0M49.9 771.8h0M48.3 809.8h0M78.8 786.6h0M109.9 785.1h0M60.6 788.0h0M102.9 816.4h0M111.2 779.7h0M76.1 800.4h0M94.4 840.3h0M109.0 798.3h0M32.7 828.8h0M47.3 811.1h0M74.5 777.1h0M119.5 828.8h0M67.7 777.9h0M105.1 812.1h0M51.5 812.1h0M33.0 837.9h0M104.4 780.7h0M57.7 820.1h0M43.4 820.1h0M72.5 793.0h0M92.3 790.7h0M103.7 801.4h0M69.7 774.0h0M82.2 818.8h0M70.6 802.8h0M61.2 769.3h0M119.4 815.6h0M97.6 793.3h0M114.9 802.7h0M33.3 799.3h0M79.0 791.9h0M41.5 814.4h0M25.5 793.2h0M84.2 808.8h0M35.0 825.0h0M26.9 787.5h0M116.7 795.1h0M113.9 798.2h0M25.9 842.1h0M101.1 826.9h0M31.9 818.6h0M105.8 828.1h0M60.8 840.3h0M102.0 787.7h0M49.3 805.6h0M25.1 804.4h0M83.2 815.0h0M57.0 824.4h0M51.1 820.8h0M83.0 828.4h0M71.2 830.2h0M66.3 837.5h0M118.5 791.0h0M93.9 772.8h0M52.3 790.3h0M95.7 777.0h0M65.2 813.9h0M58.2 773.8h0M65.5 825.2h0M100.0 801.8h0M52.4 816.8h0M86.7 770.6h0M47.3 831.4h0M108.0 793.4h0" stroke="#2626ff" stroke-width="3.10" stroke-linecap="round" stroke-opacity="0.95"/>
<path d="M122.6 824.3h0M78.5 819.6h0M41.5 830.3h0M72.7 820.5h0M60.6 815.0h0M86.0 824.6h0M50.4 815.0h0M42.6 770.1h0M90.8 792.2h0M83.8 815.5h0M66.8 771.3h0M119.4 835.3h0M87.4 823.4h0M66.5 787.5h0M128.0 788.2h0M78.0 829.2h0M126.7 799.0h0M73.8 814.7h0M69.7 797.0h0M29.3 825.1h0M119.7 839.6h0M72.5 796.4h0M73.2 810.7h0M91.8 832.1h0M86.4 812.5h0M42.1 778.0h0M74.2 832.0h0M24.0 788.5h0M112.0 770.5h0M38.0 790.2h0M51.1 780.0h0M124.8 774.0h0M51.5 794.1h0M95.5 769.5h0M90.3 800.0h0M108.2 801.0h0M40.8 842.3h0M90.6 833.3h0M66.9 764.7h0M64.1 798.1h0M56.0 823.8h0M64.3 779.2h0M78.8 837.8h0M33.7 810.4h0M111.1 826.9h0M58.7 783.6h0M38.0 791.6h0M117.6 819.6h0M55.8 782.9h0M121.7 792.1h0M124.4 791.0h0M95.1 832.8h0M39.2 790.6h0M37.9 807.9h0M26.8 820.7h0M83.1 800.7h0M79.3 820.4h0M99.9 816.2h0M118.2 814.1h0M123.5 832.5h0M87.8 787.4h0M31.9 788.4h0M37.4 828.5h0M67.7 814.8h0M118.8 808.9h0M109.2 820.8h0M36.9 818.9h0M72.7 810.1h0M54.0 839.3h0M53.6 767.2h0M85.3 798.4h0M56.1 820.2h0M32.9 766.1h0M62.1 779.2h0M86.1 765.1h0M36.4 770.0h0M100.8 792.8h0M59.7 791.5h0M83.9 836.4h0M113.6 773.5h0M94.7 800.4h0M120.1 820.0h0M61.9 824.7h0M55.1 801.7h0M126.7 816.3h0M113.4 831.2h0M42.5 765.6h0M83.2 792.4h0M109.0 823.2h0M76.3 800.6h0M61.0 834.0h0M61.2 766.3h0M87.8 778.0h0M29.5 819.5h0M123.0 802.5h0M99.8 779.3h0M73.2 769.6h0M80.7 836.4h0M101.7 793.5h0M96.4 837.6h0" stroke="#1a1ad4" stroke-width="3.20" stroke-linecap="round" stroke-opacity="0.95"/>
<path d="M117.3 769.6l0.6 1.1M105.4 825.2l1.5 0.2M40.9 795.6l1.0 0.1M42.4 796.0l1.6 0.1M75.3 784.6l-1.0 0.0M73.4 784.7l-0.7 -0.4M57.5 822.3l-0.7 0.4M66.9 835.5l-0.5 0.5M58.4 802.4l0.8 0.6M59.4 802.9l0.3 1.5M83.8 802.8l0.3 1.1M83.6 804.6l-0.4 1.0M37.3 821.4l0.0 1.4M37.6 823.0l1.1 1.1M67.8 780.0l1.1 0.5M69.4 780.8l1.0 -0.1M109.5 817.7l-1.0 0.8M108.2 817.9l-0.4 1.0M63.2 802.9l0.6 0.9M63.3 803.5l0.1 0.7M70.0 830.8l-0.5 0.6M70.2 832.1l-0.5 1.6M27.6 789.7l0.2 0.7M53.1 805.7l0.7 0.2M54.8 804.9l0.9 0.1M61.8 773.9l0.5 1.3M35.2 789.7l0.2 1.6M35.2 791.6l1.0 0.8M116.4 824.5l0.4 0.6M60.6 776.3l1.4 0.1M62.0 776.4l1.1 0.8M91.7 839.5l0.5 1.5M115.3 769.1l-0.8 0.2M112.7 817.4l1.0 1.0M113.3 819.2l0.4 0.9M32.2 826.9l0.3 1.7M118.2 789.7l1.3 0.2M101.0 770.8l-0.6 0.7M69.6 837.4l0.6 0.1M69.7 836.8l0.4 0.5M119.2 801.0l1.4 0.2M120.9 802.1l1.1 -0.7M24.3 823.6l-0.5 0.6M34.5 772.3l-1.5 0.7M33.5 773.4l-0.7 0.1M79.4 792.1l-0.9 1.1M78.9 792.8l-0.5 1.1M26.5 807.0l-1.4 0.1M82.8 798.3l-0.6 0.2M28.6 792.5l-0.2 0.8M94.0 811.3l0.9 0.0M24.9 824.3l0.7 0.5M25.2 825.2l1.4 0.5M37.9 814.6l-1.3 0.9M52.6 774.6l-1.1 0.7M31.7 799.8l-0.7 1.3M34.0 767.9l1.1 0.9M36.0 768.2l1.4 0.7M122.7 784.0l-0.4 0.9M62.9 770.4l0.1 1.5M101.5 830.0l-1.5 0.8M74.7 773.1l0.5 0.6M75.1 774.4l1.0 0.4M112.6 821.3l0.4 1.0M69.9 790.3l0.0 0.7M44.8 785.5l0.2 1.1M62.3 807.0l0.7 0.6M112.7 783.2l0.8 1.0M113.7 784.2l1.7 0.2M68.4 826.8l-1.5 0.9M81.5 801.3l0.5 0.4M81.4 801.1l1.1 0.9M115.2 801.8l-1.1 0.3M113.6 801.6l-1.5 0.8M109.3 789.4l1.2 0.8M93.1 771.2l-1.6 0.3M90.6 770.9l-1.3 0.9M107.1 787.7l-0.4 1.3M95.9 834.6l0.9 0.1M69.7 769.1l0.7 0.7M90.5 832.8l-0.9 0.6M89.2 833.5l-0.7 0.3M51.6 805.1l0.3 1.5M31.0 770.2l-0.3 0.9M30.5 770.9l0.6 1.4M35.2 816.4l0.2 1.0M79.5 818.0l1.1 1.0M79.8 819.6l1.1 0.5M65.5 790.9l-1.1 0.9M65.0 792.0l-1.1 0.5M108.3 838.8l0.7 0.2M109.0 838.7l0.6 -0.3M77.4 802.1l-1.2 0.5M39.7 787.6l1.1 1.4M73.8 827.0l0.3 0.5M74.6 827.9l0.2 1.1M113.1 800.1l1.7 0.5M47.1 838.6l1.1 0.1M115.4 800.9l-0.6 0.3M114.7 800.7l-1.5 0.3M73.7 827.0l1.4 1.0M121.5 829.9l0.6 1.3M78.2 814.2l0.7 1.5M103.5 773.2l-0.3 1.5M103.8 775.1l-0.6 1.2M111.3 830.6l-1.4 0.8M109.6 831.8l-0.3 1.3M62.1 790.7l0.0 1.5M61.5 791.4l-0.4 0.8M68.4 800.9l-0.6 0.3M110.2 788.8l-0.0 1.1M48.8 822.7l0.0 1.2M81.2 788.5l1.1 1.1M81.7 788.9l1.4 0.2M92.5 800.6l0.1 0.8M53.7 785.4l0.6 0.3M55.3 785.6l1.5 1.0M27.8 791.5l-0.2 1.0M27.5 792.0l-0.0 1.4M64.8 781.7l-0.6 1.0M64.0 783.3l-1.0 0.9M96.6 789.7l0.2 1.3M96.6 791.3l-0.4 1.1M87.3 767.3l-1.1 0.3M86.9 767.1l-1.7 -0.4M46.2 804.9l1.4 0.7M48.5 806.3l1.0 -0.1M40.5 788.0l0.6 1.0M47.5 785.1l-0.2 1.1M46.9 785.6l0.7 1.0M27.1 774.1l-0.8 0.7M26.7 774.0l-0.5 0.7M59.5 808.9l-0.7 0.0M59.6 809.7l-1.4 1.0M76.5 829.0l-1.4 0.8M28.5 795.1l-0.7 0.9M111.7 832.6l1.2 0.2M27.9 783.8l0.5 0.3M97.9 778.9l0.2 1.8M65.0 840.5l0.2 1.2M106.0 837.6l-0.7 0.5M112.3 825.1l0.2 0.9M90.0 815.9l0.3 0.9M89.5 817.1l-0.5 1.7M88.9 800.9l-0.7 0.3M88.0 801.1l-0.8 1.6M34.0 781.2l-1.1 0.8M33.4 782.3l-0.9 0.1M96.3 772.9l0.3 0.8M102.0 778.9l0.5 0.5M102.3 780.2l1.2 0.9M83.0 807.4l-0.0 1.2M83.0 808.3l-0.7 0.9M95.6 827.1l0.2 0.9M55.2 825.9l1.0 1.0M56.6 826.1l0.3 1.0M56.7 775.2l-0.8 0.5M67.1 833.7l0.4 1.2M67.5 834.7l-0.5 1.1M66.5 802.2l-1.0 0.3M48.8 839.1l-0.5 1.0M48.1 840.0l-1.1 0.6" stroke="#ff1a36" stroke-width="1.05" stroke-linecap="round" stroke-opacity="0.9"/>
</g></g>
<clipPath id="c34"><rect x="127.00" y="765.30" width="100.80" height="75.40"/></clipPath>
<g clip-path="url(#c34)"><g fill="none" filter="url(#blr)">
<rect x="127.00" y="765.30" width="100.80" height="75.40" fill="#000000"/>
<path d="M152.4 788.8h0M128.4 804.9h0M165.5 795.4h0M140.2 805.9h0M198.6 819.8h0M168.7 807.7h0M204.6 777.6h0M176.1 815.3h0M224.8 775.2h0M145.2 833.5h0M161.8 793.6h0M171.3 787.4h0M138.8 807.0h0M138.0 818.6h0M174.3 838.7h0M211.0 841.2h0M162.6 764.8h0M132.2 807.4h0M181.4 800.9h0M222.4 832.6h0M197.5 814.6h0M137.7 771.8h0M179.4 831.9h0M174.0 793.1h0M131.6 825.5h0M135.9 770.1h0M172.2 833.2h0M199.9 840.0h0M132.2 796.1h0M217.6 812.0h0M175.9 775.0h0M190.2 780.7h0M208.0 799.5h0M176.5 810.2h0M210.5 769.3h0M180.6 842.2h0M152.5 806.9h0M153.3 791.7h0M190.8 828.6h0M226.7 773.3h0M204.5 823.9h0M207.3 778.2h0M129.3 822.3h0M195.3 778.6h0M225.1 808.1h0M225.1 838.1h0M201.1 824.2h0M148.2 819.7h0M132.4 774.4h0M168.1 791.4h0M171.5 806.0h0M159.6 806.6h0M165.3 778.1h0M180.6 832.5h0M162.5 769.1h0M188.7 805.5h0M156.8 826.4h0M163.0 778.0h0M211.4 796.3h0M132.6 806.0h0M129.4 768.1h0M160.4 836.6h0M199.0 828.8h0M152.8 824.2h0M144.8 828.9h0M147.3 784.7h0M221.3 780.8h0M209.3 837.2h0M181.7 792.6h0M213.4 765.1h0M126.1 810.5h0M170.0 776.3h0M186.6 765.7h0M219.1 790.0h0M145.4 811.2h0M176.1 824.3h0M207.7 768.1h0M134.4 836.6h0M196.8 819.9h0M153.6 775.1h0M130.6 837.7h0M178.7 775.9h0M169.9 774.5h0M145.6 795.3h0M220.5 792.2h0M195.0 785.9h0M131.6 769.5h0M160.5 827.7h0M220.8 842.5h0M200.3 799.8h0M216.0 838.3h0M219.6 806.4h0M147.1 803.2h0M194.2 780.8h0M197.2 835.1h0M151.1 838.0h0M154.8 768.2h0" stroke="#1616c0" stroke-width="2.70" stroke-linecap="round" stroke-opacity="0.9"/>
<path d="M160.2 770.3h0M226.8 783.0h0M137.1 824.6h0M154.0 835.3h0M212.4 820.6h0M127.3 786.8h0M216.7 828.0h0M189.7 783.1h0M129.2 783.3h0M185.8 821.0h0M213.2 797.3h0M132.4 805.3h0M149.0 770.8h0M178.8 816.4h0M181.7 824.5h0M159.0 805.3h0M169.3 810.1h0M223.7 835.9h0M184.8 819.2h0M149.5 802.1h0M153.6 792.1h0M205.5 819.2h0M225.5 832.6h0M141.3 823.2h0M217.9 770.1h0M200.4 810.5h0M215.9 780.5h0M150.1 794.0h0M167.0 778.5h0M147.0 777.1h0M132.5 781.3h0M217.0 783.3h0M168.0 770.8h0M217.5 808.7h0M140.1 806.8h0M210.4 829.9h0M220.7 790.6h0M204.4 797.4h0M168.1 832.3h0M130.8 827.7h0M229.5 806.3h0M194.4 788.9h0M213.3 772.1h0M184.1 766.2h0M206.6 823.2h0M207.8 811.4h0M213.4 802.0h0M183.7 783.2h0M127.7 819.1h0M168.2 767.9h0M135.3 775.1h0M228.9 832.8h0M128.5 800.6h0M186.7 770.9h0M208.3 791.0h0M159.3 828.9h0M151.8 765.4h0M214.9 810.8h0M175.9 832.3h0M180.5 773.5h0M181.0 775.9h0M161.6 834.2h0M181.0 840.3h0M126.7 796.3h0M212.1 788.8h0M218.8 803.1h0M195.2 803.6h0M174.0 807.2h0M165.5 837.1h0M161.9 801.8h0M215.3 822.5h0M222.4 833.1h0M216.3 841.5h0M191.1 833.6h0M194.7 787.5h0M208.6 827.5h0M154.2 783.5h0M192.2 824.2h0M153.2 814.5h0M212.7 837.5h0M179.5 790.2h0M145.6 770.8h0M210.3 828.5h0M149.7 824.3h0M183.8 789.4h0M140.4 770.6h0M211.8 769.5h0M170.8 825.8h0M162.2 816.2h0M193.9 826.0h0M174.6 823.3h0M170.0 838.7h0M216.1 824.9h0M146.0 765.0h0M152.1 831.5h0M128.0 833.9h0M230.3 806.1h0" stroke="#1e1ee8" stroke-width="2.90" stroke-linecap="round" stroke-opacity="0.95"/>
<path d="M217.7 783.2h0M186.0 815.4h0M202.3 782.8h0M205.7 786.9h0M157.8 777.8h0M143.7 796.6h0M223.1 824.1h0M192.5 768.2h0M222.6 803.5h0M185.0 809.6h0M150.2 823.7h0M189.2 833.9h0M212.4 774.9h0M205.9 796.9h0M132.5 830.6h0M164.6 807.5h0M172.7 801.1h0M220.6 793.7h0M185.7 837.3h0M196.5 774.8h0M228.2 810.6h0M207.0 836.3h0M181.6 825.0h0M207.7 819.1h0M177.3 790.3h0M147.2 814.0h0M176.9 806.6h0M138.4 784.0h0M131.8 813.3h0M149.4 833.1h0M206.5 770.5h0M159.5 779.0h0M194.7 828.8h0M224.6 801.7h0M198.1 837.9h0M176.5 781.7h0M145.6 767.1h0M154.2 787.8h0M153.2 828.1h0M208.8 784.5h0M153.8 772.2h0M149.0 779.8h0M230.6 778.3h0M200.0 802.5h0M220.1 827.4h0M168.3 805.1h0M181.4 836.3h0M184.7 811.0h0M126.9 791.7h0M185.5 813.9h0M217.8 802.7h0M154.0 785.2h0M208.1 797.7h0M144.3 835.7h0M144.4 833.0h0M222.2 774.3h0M167.5 777.2h0M213.3 781.2h0M137.6 813.1h0M198.1 810.0h0M145.8 774.3h0M135.1 825.0h0M212.7 818.4h0M175.3 813.8h0M174.4 800.4h0M139.4 782.6h0M173.7 776.3h0M181.6 784.7h0M135.8 838.9h0M203.6 779.4h0M195.1 814.1h0M154.4 796.2h0M180.6 830.7h0M221.0 779.9h0M198.3 795.6h0M153.3 799.1h0M172.3 800.6h0M156.5 833.1h0M195.8 771.2h0M157.8 791.5h0M164.7 819.7h0M229.0 825.5h0M166.5 815.1h0M156.9 821.3h0M163.8 792.2h0M166.6 788.0h0M135.8 792.9h0M225.6 767.0h0M183.4 792.8h0M211.8 777.3h0M186.6 822.9h0M210.5 787.6h0M138.7 837.9h0M154.8 837.4h0M159.2 822.4h0M138.6 804.3h0M190.6 775.3h0" stroke="#2626ff" stroke-width="3.10" stroke-linecap="round" stroke-opacity="0.95"/>
<path d="M220.6 777.4h0M193.7 797.3h0M156.9 817.6h0M204.2 784.1h0M200.8 766.0h0M187.3 781.7h0M166.4 829.6h0M223.7 785.2h0M173.3 783.9h0M199.9 774.8h0M197.6 818.4h0M137.4 778.5h0M151.1 806.3h0M176.4 769.4h0M161.3 784.1h0M174.5 834.6h0M216.2 819.4h0M164.0 801.1h0M186.9 831.5h0M216.6 818.6h0M190.5 796.1h0M193.9 773.6h0M136.4 823.8h0M186.2 801.2h0M169.7 819.5h0M161.8 827.9h0M228.7 824.0h0M182.8 811.1h0M183.3 800.4h0M133.1 815.1h0M145.6 839.9h0M168.0 823.5h0M230.0 766.6h0M134.3 792.0h0M145.5 780.0h0M194.1 842.4h0M176.5 806.3h0M192.7 833.6h0M198.0 792.8h0M206.5 839.5h0M135.8 791.5h0M153.6 795.7h0M181.5 768.1h0M166.9 819.1h0M163.7 802.7h0M134.9 783.8h0M140.7 766.7h0M227.3 789.4h0M144.0 841.3h0M226.8 798.0h0M211.1 812.5h0M145.6 783.9h0M221.9 820.2h0M216.0 799.4h0M177.7 799.0h0M179.4 774.4h0M191.4 816.5h0M190.6 803.5h0M163.4 813.5h0M216.2 798.8h0M136.9 828.7h0M198.7 820.5h0M229.2 793.5h0M149.1 809.3h0M206.6 805.0h0M143.2 822.2h0M180.4 822.8h0M186.3 788.8h0M136.5 779.6h0M194.2 800.2h0M181.1 783.8h0M165.9 833.0h0M137.8 798.1h0M143.9 790.5h0M167.8 822.7h0M213.2 833.3h0M158.4 807.8h0M200.5 836.1h0M175.9 788.0h0M209.4 810.9h0M192.2 805.0h0M226.3 779.3h0M131.1 837.1h0M225.6 816.4h0M204.0 792.2h0M149.0 814.8h0M157.4 778.1h0M149.3 787.4h0M185.3 823.1h0M223.6 815.9h0M167.0 789.9h0M196.3 806.6h0M156.8 812.2h0M224.0 773.7h0M226.3 809.5h0M135.7 796.1h0M207.0 811.1h0M143.8 817.9h0M197.2 766.9h0M187.3 792.7h0" stroke="#1a1ad4" stroke-width="3.20" stroke-linecap="round" stroke-opacity="0.95"/>
<path d="M139.3 769.7l0.1 1.5M139.7 771.8l-1.0 1.3M159.6 811.0l1.1 0.5M155.5 801.1l-0.7 1.0M207.9 836.5l0.9 0.6M145.1 765.4l0.5 0.6M145.0 765.4l0.8 0.8M143.4 798.9l1.4 0.1M167.7 809.0l-1.2 0.8M208.6 814.0l-0.7 1.0M155.5 815.8l0.1 0.7M156.6 816.0l-0.7 1.3M222.0 785.0l0.9 0.1M182.0 769.1l0.7 0.1M182.7 769.5l1.5 -0.9M184.3 809.2l1.3 0.0M185.9 809.0l1.4 -0.2M176.8 796.0l0.8 1.6M177.1 798.3l0.8 0.8M202.2 830.5l1.1 0.2M202.4 831.6l1.0 -0.0M141.7 838.2l-0.8 0.4M197.5 832.5l1.1 1.0M147.9 822.6l0.6 0.3M149.3 823.6l1.5 0.3M180.3 823.3l0.1 0.6M197.6 807.1l1.4 0.8M215.5 804.3l-0.8 0.5M214.9 805.6l-0.9 -0.1M205.9 768.8l0.9 0.4M207.1 769.7l1.3 1.2M189.3 768.3l-1.4 0.1M192.5 795.0l1.7 0.3M213.6 782.2l1.5 0.1M214.7 782.5l1.6 -0.3M132.7 828.8l0.7 1.2M132.7 830.7l0.4 1.6M174.7 801.1l-1.4 0.4M174.1 802.3l-1.2 -0.7M157.5 788.4l-0.4 0.5M156.8 789.3l-0.7 0.2M167.4 770.0l-0.2 1.3M141.3 793.5l-0.8 1.1M216.9 775.4l-0.3 1.6M178.9 818.0l0.9 1.3M215.4 835.4l-0.8 0.2M214.3 835.7l-1.4 1.0M173.4 840.3l-1.3 0.9M172.7 840.3l-0.3 0.8M150.9 836.0l-0.1 1.2M151.6 838.0l0.8 1.0M200.0 782.5l0.8 0.8M200.0 783.1l0.8 1.1M150.3 836.9l0.8 1.5M131.7 818.2l-1.1 0.4M179.0 787.5l1.0 0.6M180.4 788.6l0.5 1.4M186.4 772.6l1.5 0.1M224.5 837.9l-0.5 1.6M169.6 825.5l1.0 0.2M171.4 825.8l1.4 0.3M168.7 779.7l0.5 0.4M169.6 780.8l1.2 0.7M225.6 779.6l-0.0 1.0M178.1 838.7l1.2 0.7M169.1 798.0l0.2 1.0M208.7 803.3l1.2 0.6M128.2 825.5l0.3 0.8M128.9 827.0l0.7 1.1M197.9 825.4l-0.7 1.6M184.5 811.5l0.6 0.2M185.8 811.7l1.0 0.3M131.5 785.4l-0.8 1.2M160.0 787.9l0.0 1.1M202.0 773.1l-1.1 0.3M200.0 773.7l-1.0 1.3M173.4 801.9l-1.4 0.2M171.9 801.3l-1.1 -0.6M156.5 812.4l0.6 0.8M156.7 813.4l0.6 0.2M197.7 833.1l0.9 1.1M198.3 833.4l-0.0 1.5M142.1 803.5l0.7 0.2M142.9 804.6l1.5 0.5M194.2 784.0l1.0 0.4M195.7 783.7l0.6 -0.2M131.8 793.6l1.4 0.0M203.9 815.3l-0.5 1.5M204.0 817.4l-1.5 0.9M172.4 820.9l-1.5 0.4M171.1 821.5l-1.8 -0.0M206.3 820.6l1.3 1.1M207.4 821.6l0.4 1.0M159.7 837.8l0.7 1.0M159.4 778.3l-0.9 0.8M158.6 779.0l-1.1 0.9M193.3 781.7l1.5 0.0M215.3 833.3l-1.0 0.3M221.9 804.4l-0.8 1.1M222.0 805.1l-0.5 0.2M170.3 807.7l-0.0 1.0M169.7 809.2l1.0 1.5M171.0 774.8l-0.7 1.3M158.2 790.2l0.7 0.9M159.0 791.3l0.7 1.3M182.0 784.9l-0.0 1.6M131.1 795.2l0.2 1.6M187.6 790.5l-0.9 0.0M185.9 790.2l-0.8 0.2M210.8 827.1l-0.8 1.0M210.5 828.8l-0.1 0.8M196.4 781.3l-0.2 1.3M215.9 822.6l-0.7 0.5M146.5 815.2l1.0 1.0M147.6 816.4l0.3 1.0M217.7 789.0l-0.7 0.1M216.7 788.7l-1.4 0.3M222.5 822.4l0.4 1.3M176.9 778.3l-0.9 1.0M175.8 780.1l-0.2 1.8M166.9 799.3l-1.0 0.6M226.8 771.8l-0.9 1.0M127.1 814.4l1.1 0.0M128.6 814.0l0.9 0.5M199.6 830.3l0.5 1.4M203.1 805.0l-0.0 1.3M203.6 807.3l1.1 1.2M190.3 822.0l1.0 0.2M191.9 821.7l0.8 -0.5M136.5 820.2l1.1 1.0M137.0 820.6l0.5 0.8M187.8 820.5l-0.8 0.4M168.3 778.8l0.0 1.2M168.0 781.0l0.9 1.5M162.0 793.4l1.4 0.4M164.0 794.3l1.1 -0.4M224.9 796.1l0.2 0.6M153.3 793.2l-0.6 0.1M151.9 792.4l-0.6 0.3M158.3 794.1l0.3 0.8M220.4 833.6l0.4 0.7M220.8 833.5l-0.1 1.5M203.0 800.8l0.1 1.6M156.3 812.6l0.4 0.5M155.8 812.9l0.6 0.2M135.0 806.1l0.4 0.9M216.8 779.7l-0.8 0.0M211.4 804.8l-0.0 1.4M211.8 807.0l0.0 0.9M217.4 825.8l0.1 1.1M216.9 826.5l-0.1 1.2M187.1 787.3l0.4 1.7M187.2 788.6l1.1 0.7M212.2 771.3l-0.4 1.1M211.7 831.1l-0.6 0.9M208.8 838.5l0.6 0.2M209.5 838.8l1.4 -0.1M161.5 802.1l-0.6 1.3M160.0 803.3l-0.7 1.1M127.9 824.4l0.2 1.4M184.0 774.6l-1.1 0.5M222.3 808.1l0.8 1.6M222.6 809.2l-0.3 1.2M139.5 800.5l1.6 0.7M133.8 826.2l1.0 0.6M134.1 826.8l0.5 0.4M151.1 773.6l-1.2 1.3M149.5 775.2l-0.2 1.5M199.9 804.6l0.7 0.3M173.1 769.7l-1.6 0.5M170.9 770.5l-1.7 0.4M223.4 770.9l-1.0 0.8M205.7 837.9l1.3 0.5M206.6 839.1l0.5 0.3M196.5 803.4l-1.1 0.0M195.1 803.6l-1.1 0.7M197.2 828.0l0.2 0.8M195.1 786.5l-1.1 0.7M146.5 785.8l0.8 0.1M148.1 786.0l0.8 0.3M157.6 821.7l0.8 1.3M147.8 788.9l-1.2 0.4M220.1 834.0l1.4 0.6M198.7 806.4l-1.1 1.3M198.2 808.2l-0.5 0.7M164.3 801.9l1.2 1.1M178.9 829.6l-0.4 0.9M184.2 839.8l-0.0 0.9M170.1 827.0l-0.4 1.1M168.8 828.9l-1.1 0.8M210.9 783.1l0.3 1.1M211.5 784.9l1.1 0.6M138.8 834.1l0.2 1.0M213.4 830.9l0.5 0.3M189.9 821.2l-0.6 1.1M218.3 823.8l1.2 1.1M176.3 794.2l-0.8 1.6M174.7 795.1l-1.2 1.2M160.1 797.0l1.5 0.7M169.7 778.3l-0.6 1.3M169.9 779.8l-1.7 0.6M217.9 831.7l0.6 0.7M227.2 800.9l1.2 0.5M220.3 772.1l-0.3 0.7M219.7 773.6l-0.6 0.4M164.0 814.9l-0.6 0.6M163.8 815.0l-1.6 0.8M210.9 773.6l0.0 1.1M211.1 775.3l0.2 0.6M200.2 780.0l-0.4 0.7M198.9 781.5l-0.6 0.6" stroke="#ff1a36" stroke-width="1.05" stroke-linecap="round" stroke-opacity="0.9"/>
</g></g>
<text x="211.75" y="833.20" font-size="7.2" text-anchor="middle" fill="#e8e8e8" style="stroke:#e8e8e8">50 µm</text>
<line x1="204.20" y1="836.60" x2="219.00" y2="836.60" stroke="#b8b8b8" stroke-width="0.9"/>
<text transform="translate(22.00,725.00) rotate(-90)" font-size="10.3" text-anchor="middle" fill="#231f20">PF</text>
<text transform="translate(22.00,803.50) rotate(-90)" font-size="10.3" text-anchor="middle" fill="#231f20">EF</text>
<text x="77.40" y="850.50" font-size="10.3" text-anchor="middle">Flox</text>
<text x="175.40" y="850.50" font-size="10.3" text-anchor="middle">HKO</text>
<rect x="271.40" y="703.00" width="10.70" height="3.80" fill="#f7b9b9" stroke="#f28c8c" stroke-width="0.8"/>
<text x="284.70" y="707.60" font-size="8.8">Flox-PF</text>
<rect x="271.40" y="712.10" width="10.70" height="3.80" fill="#c3e4e1" stroke="#5cb3a8" stroke-width="0.8"/>
<text x="284.70" y="716.70" font-size="8.8">HKO-PF</text>
<rect x="271.40" y="721.20" width="10.70" height="3.80" fill="#cfc0df" stroke="#9c88cc" stroke-width="0.8"/>
<text x="284.70" y="725.80" font-size="8.8">Flox-EF</text>
<rect x="271.40" y="730.30" width="10.70" height="3.80" fill="#f4d0a8" stroke="#e8a25c" stroke-width="0.8"/>
<text x="284.70" y="734.90" font-size="8.8">HKO-EF</text>
<rect x="261.35" y="833.75" width="12.70" height="4.55" fill="#f7b9b9" stroke="#f28c8c" stroke-width="0.7"/>
<rect x="280.35" y="828.74" width="12.70" height="9.56" fill="#c3e4e1" stroke="#5cb3a8" stroke-width="0.7"/>
<rect x="299.95" y="809.93" width="12.70" height="28.37" fill="#cfc0df" stroke="#9c88cc" stroke-width="0.7"/>
<rect x="319.35" y="792.78" width="12.70" height="45.52" fill="#f4d0a8" stroke="#e8a25c" stroke-width="0.7"/>
<line x1="254.70" y1="754.30" x2="254.70" y2="838.30" stroke="#3c3c3c" stroke-width="1.0"/>
<line x1="254.20" y1="838.60" x2="338.00" y2="838.60" stroke="#6e6e6e" stroke-width="1.3"/>
<line x1="251.70" y1="838.30" x2="254.70" y2="838.30" stroke="#3c3c3c" stroke-width="0.9"/>
<text x="249.70" y="841.40" font-size="8.6" text-anchor="end">0</text>
<line x1="251.70" y1="810.47" x2="254.70" y2="810.47" stroke="#3c3c3c" stroke-width="0.9"/>
<text x="249.70" y="813.56" font-size="8.6" text-anchor="end">5</text>
<line x1="251.70" y1="782.63" x2="254.70" y2="782.63" stroke="#3c3c3c" stroke-width="0.9"/>
<text x="249.70" y="785.73" font-size="8.6" text-anchor="end">10</text>
<line x1="251.70" y1="754.80" x2="254.70" y2="754.80" stroke="#3c3c3c" stroke-width="0.9"/>
<text x="249.70" y="757.90" font-size="8.6" text-anchor="end">15</text>
<line x1="267.70" y1="829.23" x2="267.70" y2="837.58" stroke="#f03c48" stroke-width="0.9"/>
<line x1="264.90" y1="829.23" x2="270.50" y2="829.23" stroke="#f03c48" stroke-width="0.9"/>
<line x1="264.90" y1="837.58" x2="270.50" y2="837.58" stroke="#f03c48" stroke-width="0.9"/>
<circle cx="267.70" cy="826.94" r="1.45" fill="#f03c48"/>
<circle cx="267.70" cy="833.40" r="1.45" fill="#f03c48"/>
<circle cx="264.80" cy="833.74" r="1.45" fill="#f03c48"/>
<circle cx="270.60" cy="833.96" r="1.45" fill="#f03c48"/>
<circle cx="267.70" cy="838.08" r="1.45" fill="#f03c48"/>
<line x1="286.70" y1="824.22" x2="286.70" y2="832.57" stroke="#2e9a8a" stroke-width="0.9"/>
<line x1="283.90" y1="824.22" x2="289.50" y2="824.22" stroke="#2e9a8a" stroke-width="0.9"/>
<line x1="283.90" y1="832.57" x2="289.50" y2="832.57" stroke="#2e9a8a" stroke-width="0.9"/>
<circle cx="286.70" cy="824.22" r="1.45" fill="#2e9a8a"/>
<circle cx="283.80" cy="825.05" r="1.45" fill="#2e9a8a"/>
<circle cx="289.60" cy="826.05" r="1.45" fill="#2e9a8a"/>
<circle cx="286.70" cy="832.51" r="1.45" fill="#2e9a8a"/>
<circle cx="283.80" cy="832.73" r="1.45" fill="#2e9a8a"/>
<line x1="306.30" y1="805.12" x2="306.30" y2="814.03" stroke="#6a54c2" stroke-width="0.9"/>
<line x1="303.50" y1="805.12" x2="309.10" y2="805.12" stroke="#6a54c2" stroke-width="0.9"/>
<line x1="303.50" y1="814.03" x2="309.10" y2="814.03" stroke="#6a54c2" stroke-width="0.9"/>
<circle cx="306.30" cy="804.01" r="1.45" fill="#6a54c2"/>
<circle cx="306.30" cy="807.35" r="1.45" fill="#6a54c2"/>
<circle cx="303.40" cy="808.30" r="1.45" fill="#6a54c2"/>
<circle cx="306.30" cy="813.53" r="1.45" fill="#6a54c2"/>
<circle cx="303.40" cy="814.53" r="1.45" fill="#6a54c2"/>
<line x1="325.70" y1="785.47" x2="325.70" y2="799.39" stroke="#c8650c" stroke-width="0.9"/>
<line x1="322.90" y1="785.47" x2="328.50" y2="785.47" stroke="#c8650c" stroke-width="0.9"/>
<line x1="322.90" y1="799.39" x2="328.50" y2="799.39" stroke="#c8650c" stroke-width="0.9"/>
<circle cx="325.70" cy="782.08" r="1.45" fill="#c8650c"/>
<circle cx="325.70" cy="789.70" r="1.45" fill="#c8650c"/>
<circle cx="322.80" cy="792.21" r="1.45" fill="#c8650c"/>
<circle cx="325.70" cy="794.43" r="1.45" fill="#c8650c"/>
<circle cx="325.70" cy="800.28" r="1.45" fill="#c8650c"/>
<path d="M267.00,758.00V755.40H305.00V758.00" fill="none" stroke="#3c3c3c" stroke-width="0.9"/>
<text x="286.00" y="754.10" font-size="7.3" text-anchor="middle">7.01E-06</text>
<path d="M306.60,758.00V755.40H325.00V758.00" fill="none" stroke="#3c3c3c" stroke-width="0.9"/>
<text x="315.80" y="754.10" font-size="7.3" text-anchor="middle">0.0003</text>
<text transform="translate(239.30,799.00) rotate(-90)" font-size="9.4" text-anchor="middle" fill="#231f20">Relative MFI (fold)</text>
<text x="352.00" y="680.30" font-size="17.2" fill="#000" style="stroke:#000" font-weight="bold">p</text>
<text x="465.5" y="684.6" font-size="10.5" text-anchor="middle"><tspan fill="#1ec81e" stroke="#1ec81e">CD68</tspan><tspan fill="#1c1cf0" stroke="#1c1cf0">/DAPI</tspan></text>
<clipPath id="c41"><rect x="366.70" y="687.60" width="101.10" height="75.20"/></clipPath>
<g clip-path="url(#c41)"><g fill="none" filter="url(#blr)">
<rect x="366.70" y="687.60" width="101.10" height="75.20" fill="#000000"/>
<path d="M470.6 735.7h0M395.9 721.6h0M427.1 693.6h0M380.4 725.3h0M395.9 746.1h0M412.1 751.8h0M446.5 732.4h0M412.5 716.7h0M395.9 695.3h0M409.2 761.8h0M458.9 742.5h0M466.4 691.3h0M376.0 758.0h0M368.6 695.2h0M429.9 763.6h0M366.5 740.6h0M409.8 744.5h0M416.6 703.6h0M463.8 757.6h0M379.0 718.8h0M380.9 713.3h0M397.6 756.2h0M396.9 731.8h0M422.5 712.0h0M393.9 752.6h0M407.5 695.4h0M467.4 709.4h0M452.5 753.6h0M412.9 708.1h0M379.9 731.7h0M400.9 739.5h0M434.4 738.8h0M446.3 736.7h0M437.7 715.8h0M366.8 697.1h0M449.9 742.7h0M433.6 713.4h0M448.9 763.5h0M424.5 700.6h0M458.2 726.1h0M384.0 744.8h0M448.2 709.4h0M430.0 697.0h0M456.1 734.6h0M369.2 754.8h0M461.4 713.4h0M454.3 695.3h0M421.6 747.9h0M367.9 719.0h0M375.9 736.9h0M403.3 702.5h0M448.3 717.6h0M405.2 717.6h0M383.0 730.3h0M375.2 704.1h0M422.0 712.8h0M396.0 745.6h0M416.6 724.3h0M367.7 756.7h0M420.8 737.2h0M372.6 695.3h0M375.9 758.5h0M420.9 737.4h0M437.4 713.3h0M392.8 751.0h0M403.8 726.9h0M438.5 761.9h0M419.8 697.2h0M446.7 692.0h0M382.6 759.0h0M403.7 687.7h0M404.9 752.0h0M379.7 748.3h0M424.8 737.6h0M415.4 751.0h0M391.9 721.7h0M427.6 712.4h0M389.2 737.4h0M462.7 728.6h0M463.7 713.1h0M418.0 733.3h0M429.9 738.4h0M387.6 737.6h0M438.8 712.3h0M450.4 757.2h0M400.8 724.3h0M378.0 720.6h0M437.1 692.5h0M433.1 736.3h0M449.3 750.4h0M419.4 720.6h0M408.5 757.2h0M418.9 708.2h0M442.3 746.0h0M427.1 729.4h0M412.6 721.2h0M408.6 750.7h0M443.6 717.5h0M431.6 740.6h0M427.8 759.1h0M424.5 762.9h0M429.6 692.1h0M381.7 689.0h0M423.6 702.8h0M415.8 733.5h0M425.2 724.3h0M472.3 751.8h0M417.7 713.0h0M431.8 717.5h0M368.2 727.7h0M370.7 738.8h0M400.5 746.5h0" stroke="#1414b8" stroke-width="2.40" stroke-linecap="round" stroke-opacity="0.9"/>
<path d="M457.6 696.5h0M389.1 754.1h0M371.5 762.5h0M399.4 759.5h0M392.4 704.5h0M454.4 763.5h0M446.9 756.9h0M435.0 721.8h0M387.0 690.1h0M436.7 700.0h0M463.6 736.6h0M375.1 704.6h0M395.6 737.8h0M425.3 725.3h0M424.8 744.5h0M391.5 690.7h0M458.2 723.1h0M402.4 760.6h0M389.6 723.5h0M452.2 725.1h0M429.8 700.2h0M450.1 711.4h0M453.8 741.3h0M450.5 701.6h0M430.2 757.1h0M441.3 736.2h0M399.6 750.0h0M396.4 709.3h0M431.9 732.7h0M438.6 754.5h0M466.2 727.2h0M400.7 758.0h0M433.6 718.7h0M407.5 690.4h0M469.7 714.4h0M467.7 749.3h0M383.4 705.4h0M370.1 711.6h0M447.3 727.6h0M467.5 710.9h0M466.2 746.2h0M385.0 720.7h0M405.8 742.6h0M448.7 704.7h0M440.1 728.1h0M387.3 750.3h0M414.9 737.8h0M374.4 703.8h0M454.8 688.5h0M429.4 711.8h0M375.1 738.6h0M385.9 698.1h0M442.6 705.0h0M458.7 753.8h0M375.2 744.7h0M375.7 737.7h0M370.3 729.9h0M432.1 717.4h0M395.2 740.6h0M408.7 756.6h0M429.9 754.2h0M459.7 718.5h0M421.5 706.3h0M383.7 740.1h0M427.8 737.1h0M446.2 704.4h0M422.1 750.5h0M447.9 696.2h0M424.8 695.0h0M417.0 696.6h0M412.1 699.8h0M471.3 699.9h0M432.2 703.6h0M369.1 712.2h0M408.2 691.4h0M403.8 704.2h0M437.6 688.6h0M450.3 699.2h0M398.3 712.9h0M384.0 751.7h0M366.2 704.2h0M408.3 730.2h0M434.8 741.5h0M392.8 709.9h0M395.6 725.5h0M454.9 690.7h0M368.9 742.7h0M412.5 698.2h0M444.0 743.8h0M466.9 701.5h0M395.5 732.5h0M375.6 762.7h0M460.0 754.9h0M452.3 721.1h0M468.5 705.9h0M392.0 758.4h0M468.1 694.3h0M453.3 728.8h0M396.6 718.2h0M469.2 721.1h0M462.4 721.4h0M443.4 696.4h0M449.7 739.5h0M382.1 728.6h0M464.1 703.3h0M391.6 742.4h0M374.9 747.8h0M396.2 687.6h0M372.1 718.4h0M433.4 753.0h0M455.2 714.7h0M387.1 709.0h0" stroke="#1c1ce4" stroke-width="2.30" stroke-linecap="round" stroke-opacity="0.95"/>
<path d="M396.5 738.8h0M375.7 758.4h0M396.0 689.3h0M445.8 722.9h0M430.1 719.7h0M406.7 737.5h0M451.3 752.9h0M379.5 743.6h0M438.4 733.2h0M417.2 745.3h0M450.0 729.9h0M417.9 738.4h0M428.3 720.5h0M405.9 759.5h0M466.7 724.1h0M450.2 733.7h0M427.5 705.0h0M417.9 752.0h0M400.4 707.6h0M375.0 701.0h0M370.1 734.9h0M411.4 734.7h0M457.7 755.9h0M368.1 688.1h0M387.9 704.5h0M396.3 710.2h0M443.8 736.2h0M447.3 747.0h0M396.2 695.4h0M432.9 706.7h0M462.9 698.1h0M378.8 717.0h0M427.6 749.1h0M372.7 732.5h0M440.5 733.8h0M390.3 761.3h0M460.7 690.7h0M393.8 762.9h0M383.7 728.7h0M452.4 746.8h0M413.5 730.7h0M447.3 728.8h0M463.7 712.5h0M433.1 751.3h0M395.9 694.8h0M375.5 717.2h0M451.3 698.1h0M407.3 733.2h0M424.7 755.3h0M390.8 730.0h0M436.1 748.3h0M383.5 691.3h0M444.9 696.9h0M421.4 726.6h0M410.7 724.8h0M387.0 756.8h0M377.7 690.8h0M466.8 687.6h0M425.0 754.9h0M403.2 698.2h0M471.8 730.0h0M397.5 751.2h0M428.7 702.2h0M471.3 742.4h0M398.3 700.2h0M466.8 730.7h0M459.2 758.7h0M386.5 758.7h0M469.1 757.1h0M415.9 742.8h0M405.2 724.7h0M460.8 741.5h0M424.4 719.6h0M455.5 759.6h0M370.7 728.2h0M402.1 723.0h0M400.2 696.2h0M464.0 747.2h0M469.7 761.6h0M383.3 754.3h0M402.8 738.3h0M404.4 728.9h0M375.6 713.2h0M409.8 721.7h0M412.3 691.9h0M417.5 726.1h0M381.3 729.2h0M409.3 712.8h0M404.9 755.3h0M394.0 712.5h0M433.1 724.8h0M442.4 696.8h0M447.1 716.3h0M467.1 752.7h0M472.2 700.0h0M454.5 738.6h0M446.4 739.9h0M371.3 746.6h0M408.1 746.9h0M391.8 704.7h0M371.4 699.1h0M423.6 708.8h0M412.4 760.7h0M412.0 742.1h0M415.1 721.5h0M455.5 708.6h0M468.7 741.3h0M384.4 719.0h0M439.1 743.8h0M384.6 701.5h0M407.5 696.2h0M468.0 734.2h0" stroke="#2222fa" stroke-width="2.60" stroke-linecap="round" stroke-opacity="0.95"/>
<path d="M461.7 751.1h0M400.0 711.1h0M458.4 692.0h0M434.5 692.6h0M442.5 738.2h0M393.2 754.4h0M418.5 700.5h0M385.9 738.0h0M387.1 696.0h0M446.2 708.0h0M443.7 761.5h0M424.9 734.4h0M375.0 728.5h0M391.3 745.7h0M461.9 759.8h0M462.5 738.4h0M383.1 738.1h0M458.3 724.5h0M377.4 696.1h0M411.4 693.4h0M453.8 705.2h0M456.5 738.9h0M434.7 707.6h0M455.3 691.9h0M382.3 692.9h0M434.3 695.0h0M403.6 741.9h0M442.8 755.0h0M374.8 750.6h0M416.3 711.5h0M408.4 713.5h0M430.2 727.2h0M373.5 751.7h0M439.6 716.9h0M408.2 721.8h0M388.4 713.5h0M371.0 692.1h0M459.8 732.8h0M414.1 754.2h0M459.5 743.7h0M420.7 754.7h0M384.5 752.8h0M429.4 753.6h0M437.8 717.8h0M399.6 740.6h0M448.2 703.6h0M411.5 713.5h0M409.3 705.2h0M399.8 725.6h0M454.5 704.3h0M392.4 730.4h0M368.0 705.6h0M393.8 722.8h0M382.5 713.7h0M424.7 691.1h0M414.7 753.1h0M417.7 693.5h0M441.6 752.8h0M416.8 756.2h0M434.7 755.9h0M434.2 700.4h0M425.4 690.7h0M382.0 699.4h0M379.6 704.1h0M460.7 751.0h0M431.0 723.1h0M465.4 689.1h0M464.5 761.2h0M385.3 711.6h0M440.1 703.8h0M374.3 703.5h0M447.6 726.1h0M426.1 742.1h0M439.4 721.7h0M444.8 710.4h0M384.7 742.3h0M459.3 697.9h0M409.5 699.5h0M470.2 734.0h0M419.2 760.9h0M441.9 723.7h0M432.6 735.4h0M388.0 705.4h0M435.8 761.0h0M464.2 718.5h0M457.7 708.3h0M377.3 715.0h0M438.9 696.2h0M371.1 724.4h0M468.9 710.5h0M414.5 742.8h0M421.2 688.0h0M425.7 713.0h0M454.8 750.9h0M459.9 704.1h0M404.3 712.4h0M400.1 717.9h0M368.0 717.6h0M455.4 716.4h0M414.1 704.5h0M406.5 749.1h0M387.8 737.8h0M404.7 708.9h0M367.6 725.6h0M430.4 746.5h0M446.5 713.7h0M398.7 700.7h0M430.2 727.2h0M445.1 690.3h0M444.0 746.9h0M374.9 754.4h0M392.6 700.4h0M383.7 717.8h0M472.5 723.3h0" stroke="#1818cc" stroke-width="2.80" stroke-linecap="round" stroke-opacity="0.95"/>
<path d="M423.7 748.9l-0.6 0.9M424.1 749.2l-0.2 0.2M464.1 756.8l-1.4 0.1M463.2 757.9l-1.4 0.1M377.4 730.2l0.2 0.2M378.5 731.1l0.7 0.8M466.4 697.6l-0.7 0.8M388.8 697.9l0.2 0.2M389.9 697.7l0.6 0.6" stroke="#34f048" stroke-width="1.15" stroke-linecap="round" stroke-opacity="0.9"/>
</g></g>
<clipPath id="c42"><rect x="470.50" y="687.60" width="101.30" height="75.20"/></clipPath>
<g clip-path="url(#c42)"><g fill="none" filter="url(#blr)">
<rect x="470.50" y="687.60" width="101.30" height="75.20" fill="#000000"/>
<path d="M536.5 742.3h0M479.0 747.4h0M512.2 686.8h0M474.3 710.5h0M484.2 702.8h0M519.8 713.3h0M529.8 729.9h0M524.8 700.5h0M569.5 699.7h0M479.4 716.8h0M496.5 694.7h0M543.4 717.9h0M479.6 698.9h0M504.7 709.4h0M475.4 709.0h0M505.0 760.4h0M575.3 723.6h0M534.2 759.7h0M496.3 712.6h0M476.6 725.7h0M499.3 762.8h0M555.0 725.9h0M516.7 717.7h0M552.2 759.7h0M516.1 698.3h0M564.0 728.6h0M549.1 754.9h0M495.5 724.8h0M488.7 709.4h0M558.0 713.1h0M555.7 758.0h0M494.7 739.0h0M517.2 702.7h0M478.9 704.5h0M491.1 735.0h0M504.7 729.2h0M520.6 717.1h0M550.5 705.0h0M536.0 692.5h0M542.6 699.9h0M486.7 760.7h0M484.6 703.9h0M488.2 746.3h0M552.0 709.4h0M504.0 711.9h0M520.4 698.3h0M482.4 690.7h0M503.5 733.7h0M500.2 720.5h0M546.4 762.1h0M562.5 688.1h0M477.9 698.3h0M543.4 692.2h0M527.4 735.8h0M530.1 755.1h0M541.1 744.0h0M554.3 694.6h0M552.7 728.1h0M505.8 753.9h0M545.2 733.3h0M527.7 728.6h0M567.3 724.0h0M491.1 726.2h0M535.4 749.4h0M515.2 751.2h0M552.2 713.8h0M574.2 714.3h0M496.0 758.1h0M570.5 723.3h0M508.3 761.3h0M524.8 701.9h0M487.6 751.9h0M476.7 726.1h0M473.4 686.9h0M524.9 711.0h0M502.2 739.7h0M483.3 695.2h0M491.9 689.7h0M474.8 758.4h0M511.6 738.8h0M550.3 700.8h0M559.4 740.4h0M483.9 713.6h0M568.6 725.5h0M482.9 743.7h0M550.0 691.2h0M533.4 690.3h0M558.5 734.4h0M511.2 737.8h0M523.9 733.2h0M507.9 742.7h0M507.8 754.2h0M507.6 731.9h0M509.4 747.0h0M571.4 740.5h0M546.2 732.3h0M483.1 731.5h0M509.3 692.5h0M500.4 748.5h0M512.2 751.2h0M526.2 717.4h0M528.1 720.4h0M559.3 704.8h0M529.4 709.2h0M514.3 746.4h0M546.7 725.3h0M558.7 734.0h0M476.4 702.4h0M485.5 752.2h0M576.3 704.3h0M540.3 696.2h0M543.4 701.4h0" stroke="#1414b8" stroke-width="2.40" stroke-linecap="round" stroke-opacity="0.9"/>
<path d="M508.2 755.5h0M562.4 693.2h0M486.8 727.6h0M551.1 694.0h0M573.8 761.5h0M482.9 697.7h0M572.1 694.1h0M568.8 707.8h0M563.9 732.7h0M564.0 717.0h0M546.3 737.2h0M487.5 687.3h0M546.2 734.4h0M496.2 704.7h0M553.7 712.3h0M495.8 712.9h0M487.9 717.7h0M538.7 718.6h0M521.0 692.8h0M520.8 708.4h0M497.8 735.0h0M529.7 742.6h0M546.0 718.6h0M476.2 732.1h0M482.7 745.1h0M564.1 738.1h0M534.9 724.6h0M545.7 699.6h0M495.0 687.9h0M525.3 738.4h0M552.1 725.1h0M540.0 756.6h0M490.2 722.3h0M550.6 702.0h0M574.3 718.9h0M540.2 730.0h0M504.6 728.6h0M504.4 700.3h0M567.7 705.9h0M498.4 719.2h0M489.1 700.8h0M514.1 724.1h0M566.4 711.0h0M528.6 729.7h0M557.6 726.2h0M519.8 758.8h0M484.1 717.2h0M569.4 699.5h0M571.9 731.1h0M489.7 757.2h0M536.9 703.3h0M555.0 720.1h0M485.1 741.8h0M523.3 750.3h0M498.8 721.7h0M473.5 750.9h0M475.0 715.2h0M495.1 753.4h0M543.9 713.1h0M504.6 691.1h0M544.1 720.7h0M498.3 739.9h0M562.1 717.8h0M483.8 717.2h0M559.2 688.5h0M521.7 743.2h0M493.3 755.9h0M553.9 729.4h0M511.6 724.9h0M530.0 692.4h0M556.1 701.0h0M534.5 695.5h0M548.0 736.5h0M559.8 749.6h0M514.1 727.8h0M491.1 703.1h0M574.2 688.9h0M573.2 725.3h0M520.2 738.6h0M518.3 725.8h0M517.0 724.5h0M518.6 704.0h0M534.2 738.0h0M519.7 733.4h0M483.9 753.6h0M538.5 737.8h0M531.2 750.5h0M507.5 721.6h0M493.2 735.1h0M559.6 719.4h0M541.5 712.6h0M537.8 756.5h0M487.4 693.2h0M487.1 718.7h0M482.1 741.0h0M551.7 733.1h0M563.8 751.1h0M537.9 741.8h0M488.0 713.2h0M540.4 707.5h0M504.1 737.8h0M533.4 732.7h0M478.9 712.7h0M567.2 740.0h0M504.7 703.3h0M491.9 730.7h0M546.2 760.8h0M570.9 713.0h0M520.2 716.3h0M508.4 717.4h0M531.9 759.1h0M517.5 730.8h0" stroke="#1c1ce4" stroke-width="2.30" stroke-linecap="round" stroke-opacity="0.95"/>
<path d="M531.3 741.4h0M523.9 693.3h0M510.5 744.0h0M504.1 699.8h0M495.8 760.8h0M550.1 690.4h0M476.2 752.8h0M501.3 719.6h0M471.5 712.2h0M481.9 694.5h0M475.4 719.3h0M508.4 705.3h0M552.7 752.0h0M537.9 726.0h0M563.3 707.8h0M537.4 691.1h0M537.6 752.7h0M533.2 717.0h0M487.0 761.9h0M478.8 700.7h0M506.9 713.6h0M573.0 744.6h0M561.4 725.9h0M570.4 734.6h0M472.3 721.6h0M502.4 755.3h0M563.2 760.4h0M503.6 717.2h0M546.1 730.2h0M542.2 746.6h0M483.1 736.5h0M496.5 726.4h0M494.7 749.7h0M507.6 739.1h0M490.1 726.2h0M547.7 729.0h0M520.8 748.9h0M515.0 762.8h0M533.3 722.9h0M541.7 733.5h0M475.4 696.5h0M544.5 749.3h0M486.8 742.2h0M504.6 690.2h0M537.4 713.5h0M560.9 709.1h0M487.0 738.5h0M548.2 746.1h0M551.0 751.2h0M524.8 687.3h0M497.8 696.2h0M559.1 752.7h0M561.7 759.0h0M573.2 739.7h0M542.0 700.7h0M571.6 697.0h0M476.7 741.6h0M475.5 688.1h0M475.5 703.2h0M546.6 716.8h0M486.7 748.9h0M517.4 707.0h0M497.5 706.0h0M503.9 738.6h0M512.9 696.5h0M492.2 708.2h0M536.9 762.9h0M533.6 700.1h0M574.4 705.3h0M558.3 713.3h0M525.2 761.8h0M516.4 690.9h0M506.5 707.8h0M471.6 755.5h0M502.0 746.0h0M520.1 697.1h0M568.5 755.8h0M540.6 709.3h0M571.0 748.8h0M498.1 695.0h0M504.8 720.3h0M483.0 738.7h0M528.2 747.1h0M552.6 738.8h0M514.8 720.4h0M483.5 764.0h0M517.0 737.9h0M479.5 728.3h0M519.0 708.0h0M548.8 743.1h0M540.0 692.5h0M550.2 708.3h0M504.7 723.2h0M538.4 740.2h0M473.3 728.9h0M469.7 699.4h0M563.0 754.8h0M487.8 700.7h0M470.2 741.4h0M532.9 724.9h0M545.3 756.4h0M530.3 721.1h0M528.7 750.0h0M568.8 719.6h0M554.0 695.9h0M473.7 736.6h0M556.1 707.0h0M525.8 756.9h0M528.6 746.9h0M478.2 732.5h0M495.9 713.2h0M554.5 690.2h0" stroke="#2222fa" stroke-width="2.60" stroke-linecap="round" stroke-opacity="0.95"/>
<path d="M566.9 688.4h0M559.4 700.3h0M511.0 696.1h0M512.5 720.8h0M503.6 744.9h0M491.1 717.0h0M522.5 729.9h0M559.3 763.1h0M504.0 695.5h0M500.7 742.1h0M527.2 708.6h0M523.2 741.6h0M529.3 760.9h0M521.6 737.7h0M567.1 759.0h0M525.7 688.7h0M538.9 729.0h0M553.0 707.2h0M480.9 754.8h0M495.8 696.7h0M536.9 717.9h0M479.4 744.2h0M559.0 719.8h0M570.5 738.5h0M511.3 707.8h0M525.7 751.4h0M550.8 745.5h0M528.2 718.1h0M502.2 725.4h0M524.4 700.6h0M574.7 729.2h0M516.5 709.5h0M502.9 690.0h0M551.5 761.6h0M471.3 755.7h0M541.1 752.8h0M515.8 735.5h0M482.8 723.4h0M557.8 744.0h0M557.6 750.6h0M561.9 746.8h0M533.1 704.7h0M564.5 696.4h0M529.6 693.7h0M533.5 729.1h0M505.0 698.9h0M571.9 713.6h0M498.9 763.5h0M573.4 754.6h0M560.4 724.7h0M497.0 708.7h0M508.7 700.1h0M530.1 711.3h0M499.3 731.0h0M558.5 728.9h0M522.2 716.6h0M474.5 737.5h0M477.3 759.8h0M480.9 704.8h0M531.0 702.1h0M523.0 721.8h0M502.3 755.2h0M546.2 717.0h0M569.1 759.6h0M562.5 693.4h0M541.6 698.0h0M573.1 747.4h0M520.2 720.1h0M559.1 737.7h0M543.3 690.0h0M474.9 728.9h0M485.4 756.0h0M505.6 715.6h0M557.8 687.0h0M494.0 743.1h0M524.5 756.9h0M576.2 696.0h0M562.0 737.9h0M556.5 698.4h0M570.1 746.8h0M557.4 760.7h0M542.7 754.7h0M551.5 747.5h0M516.8 753.0h0M566.7 745.0h0M482.7 709.0h0M542.2 738.5h0M564.7 704.4h0M470.7 741.7h0M520.4 707.0h0M494.9 718.0h0M516.4 756.2h0M516.9 758.6h0M542.4 704.3h0M511.8 758.1h0M563.7 754.4h0M561.6 709.3h0M474.3 761.9h0M486.8 731.0h0M525.7 763.5h0M513.1 737.9h0M471.8 692.2h0M499.3 751.0h0M568.7 755.3h0M478.7 746.0h0M531.0 737.3h0M488.9 686.9h0M536.9 709.0h0M482.7 721.4h0M523.7 744.9h0M574.7 758.4h0M517.9 687.7h0M478.8 715.4h0M503.5 748.1h0" stroke="#1818cc" stroke-width="2.80" stroke-linecap="round" stroke-opacity="0.95"/>
<path d="M544.2 749.2l-0.3 0.2M486.0 744.7l0.7 0.2M486.9 745.1l1.0 0.2M570.4 711.9l-0.4 0.0M568.8 711.8l-0.6 0.1M521.9 710.9l0.1 0.6M569.5 694.4l-0.2 0.7M569.5 696.0l-0.4 1.2M536.5 711.8l0.1 1.3M555.3 761.5l0.2 0.1M523.6 733.5l0.3 0.6M524.7 734.6l0.1 0.2M503.9 729.6l0.4 1.0M504.7 731.8l0.4 1.2M484.8 713.9l-0.4 0.0M485.1 712.7l-0.9 0.1M483.4 740.5l-1.0 0.2M507.2 701.2l0.3 0.3M509.1 700.4l0.4 0.3M525.2 743.1l-0.1 1.2M525.4 744.7l-0.0 0.4M533.8 755.5l-0.4 0.5" stroke="#34f048" stroke-width="1.15" stroke-linecap="round" stroke-opacity="0.9"/>
</g></g>
<clipPath id="c43"><rect x="366.70" y="765.30" width="101.10" height="75.40"/></clipPath>
<g clip-path="url(#c43)"><g fill="none" filter="url(#blr)">
<rect x="366.70" y="765.30" width="101.10" height="75.40" fill="#000000"/>
<path d="M375.0 827.6h0M367.1 794.6h0M366.1 768.6h0M385.7 791.0h0M455.5 828.8h0M471.0 819.1h0M391.6 811.4h0M466.6 779.7h0M429.0 774.5h0M367.8 806.5h0M438.4 833.3h0M370.8 803.9h0M437.9 769.5h0M366.2 802.2h0M388.7 838.4h0M468.9 809.7h0M461.4 768.6h0M451.1 834.2h0M393.0 816.5h0M398.2 815.0h0M397.8 765.5h0M413.3 814.7h0M448.7 796.9h0M462.7 815.0h0M439.7 789.2h0M398.9 806.7h0M387.4 827.8h0M433.0 773.6h0M463.8 811.6h0M423.7 832.7h0M452.7 786.1h0M393.7 801.0h0M450.7 770.9h0M408.3 823.4h0M367.3 784.0h0M444.9 769.9h0M394.8 786.0h0M471.0 805.9h0M413.0 825.3h0M436.7 774.0h0M466.5 784.5h0M465.6 826.6h0M376.5 827.5h0M391.3 837.5h0M437.6 794.9h0M433.1 820.8h0M420.2 790.2h0M398.7 785.5h0M381.6 781.5h0M398.8 781.3h0M374.1 823.4h0M396.7 820.7h0M394.3 768.9h0M382.5 792.6h0M469.5 786.8h0M399.3 837.4h0M455.3 797.3h0M446.1 811.4h0M399.6 830.7h0M439.7 836.7h0M429.4 812.1h0M383.7 816.9h0M410.1 819.0h0M417.1 778.5h0M446.3 785.2h0M416.8 808.5h0M468.7 836.2h0M426.2 769.4h0M400.1 795.7h0M455.6 803.7h0M370.8 810.4h0M372.5 819.5h0M430.0 819.7h0M382.4 778.8h0M421.0 832.4h0M414.0 828.0h0M384.1 804.8h0M392.9 790.3h0M426.9 796.2h0M402.5 780.4h0M380.6 799.5h0M404.5 769.3h0M439.6 801.7h0M410.9 778.2h0M463.2 828.4h0M399.7 820.7h0M374.4 827.5h0M462.6 802.9h0M389.4 794.9h0M369.8 816.5h0M458.8 807.0h0M400.5 790.9h0M452.5 810.9h0M442.8 821.1h0M376.5 812.6h0M382.8 802.8h0M451.4 777.9h0M395.0 798.1h0M404.1 826.8h0M411.6 781.9h0M427.6 822.0h0M391.8 822.9h0M425.6 772.9h0M428.7 825.1h0M447.2 773.6h0M446.9 840.5h0M437.4 780.1h0M469.8 836.0h0M367.6 826.3h0M393.3 778.7h0M429.1 782.8h0M383.6 833.4h0" stroke="#1414b8" stroke-width="2.40" stroke-linecap="round" stroke-opacity="0.9"/>
<path d="M430.5 792.2h0M384.1 776.8h0M375.2 808.5h0M420.9 803.5h0M453.4 823.3h0M439.8 772.9h0M451.5 801.5h0M429.0 840.2h0M459.8 800.1h0M396.7 772.2h0M369.5 812.8h0M425.0 817.3h0M421.7 794.4h0M433.5 789.1h0M386.2 820.6h0M388.0 774.1h0M394.2 833.6h0M450.0 819.6h0M378.0 778.7h0M404.8 782.8h0M428.1 802.5h0M435.9 807.5h0M463.1 829.5h0M425.0 835.8h0M424.6 782.4h0M468.5 781.7h0M419.3 782.0h0M459.5 785.4h0M426.1 806.6h0M463.4 769.4h0M435.3 828.0h0M374.5 834.9h0M399.8 773.0h0M383.9 805.3h0M379.2 839.4h0M395.5 799.0h0M455.8 828.1h0M457.1 833.3h0M406.9 776.5h0M446.4 833.2h0M378.8 820.9h0M467.4 833.4h0M424.5 827.7h0M464.1 791.5h0M462.9 838.8h0M387.4 808.5h0M420.2 840.0h0M412.6 810.8h0M385.2 828.2h0M414.5 819.9h0M443.7 774.8h0M408.2 785.7h0M416.9 782.2h0M386.9 841.2h0M449.2 827.5h0M399.6 832.8h0M369.3 770.8h0M388.4 799.1h0M371.2 773.9h0M372.0 785.7h0M393.0 806.0h0M471.9 803.3h0M380.5 836.4h0M376.9 802.4h0M423.9 802.5h0M416.3 774.0h0M434.7 780.7h0M392.4 839.2h0M404.3 821.0h0M438.0 802.6h0M437.8 793.3h0M366.5 792.3h0M452.1 839.5h0M463.2 802.2h0M382.8 767.0h0M448.5 813.7h0M468.9 822.8h0M453.2 776.9h0M448.1 811.7h0M434.6 811.2h0M425.4 783.1h0M392.1 786.8h0M425.0 770.0h0M404.7 840.8h0M433.8 766.2h0M384.8 811.4h0M372.0 797.2h0M408.5 771.8h0M400.0 772.6h0M429.0 823.3h0M400.0 804.1h0M468.1 814.7h0M436.9 838.0h0M428.0 807.6h0M419.1 795.4h0M379.5 789.2h0M387.2 774.3h0M446.5 789.4h0M463.4 785.7h0M421.8 816.4h0M434.3 794.0h0M465.8 770.2h0M472.3 825.0h0M470.1 790.0h0M458.9 819.3h0M438.0 803.7h0M405.9 765.0h0M457.7 827.3h0M444.1 802.2h0M394.3 782.0h0M460.4 781.7h0M435.4 819.8h0" stroke="#1c1ce4" stroke-width="2.30" stroke-linecap="round" stroke-opacity="0.95"/>
<path d="M393.7 814.2h0M417.9 800.2h0M438.4 795.9h0M464.1 776.7h0M461.5 795.6h0M442.2 829.1h0M439.8 784.0h0M404.3 792.2h0M374.4 779.9h0M381.8 828.5h0M430.8 808.4h0M426.1 811.5h0M451.6 791.8h0M449.7 765.0h0M408.9 830.5h0M458.4 790.2h0M447.7 779.7h0M455.4 819.7h0M392.2 781.5h0M446.2 837.3h0M416.6 768.0h0M417.2 786.2h0M429.9 791.5h0M388.3 774.2h0M378.0 791.1h0M435.9 836.9h0M390.0 813.4h0M372.8 790.4h0M387.2 820.4h0M458.8 779.2h0M403.7 814.0h0M425.2 837.4h0M425.3 798.5h0M403.5 813.9h0M403.1 786.9h0M440.5 807.2h0M395.8 769.4h0M416.8 832.9h0M373.4 834.3h0M427.8 828.4h0M405.4 798.5h0M416.4 809.5h0M369.9 838.5h0M445.6 773.6h0M463.1 829.2h0M455.9 790.4h0M437.8 815.5h0M404.2 820.7h0M433.6 830.7h0M404.6 829.2h0M409.0 782.8h0M420.6 820.7h0M380.0 801.9h0M426.3 789.0h0M406.2 811.2h0M417.2 828.9h0M462.0 791.4h0M419.2 767.8h0M440.2 774.2h0M391.5 782.5h0M379.1 771.6h0M383.7 786.5h0M389.3 809.8h0M453.8 809.7h0M433.9 825.4h0M419.7 774.4h0M375.5 815.0h0M434.0 834.3h0M443.3 814.6h0M454.0 832.9h0M463.0 814.8h0M412.8 833.6h0M404.9 782.5h0M466.7 793.9h0M390.3 804.5h0M408.4 840.5h0M428.3 813.7h0M448.4 788.9h0M368.0 785.9h0M444.2 778.8h0M438.8 779.9h0M409.1 838.9h0M412.7 800.2h0M389.0 769.5h0M429.0 838.5h0M383.9 790.5h0M404.4 835.0h0M391.1 768.9h0M445.1 795.7h0M459.3 766.4h0M370.5 821.2h0M378.0 804.5h0M396.5 826.2h0M468.7 827.7h0M454.6 803.7h0M375.9 794.5h0M448.5 821.6h0M419.7 822.0h0M371.7 836.6h0M418.9 800.2h0M429.8 800.9h0M380.0 837.8h0M424.8 806.6h0M383.7 816.2h0M395.3 814.0h0M376.5 812.0h0M393.1 826.5h0M425.4 835.2h0M453.5 769.1h0M400.0 808.2h0M468.0 814.1h0M445.6 806.7h0" stroke="#2222fa" stroke-width="2.60" stroke-linecap="round" stroke-opacity="0.95"/>
<path d="M468.7 794.3h0M426.3 791.8h0M415.6 777.2h0M440.7 819.2h0M412.2 808.1h0M415.1 812.9h0M429.2 805.0h0M385.5 779.7h0M387.9 796.5h0M421.2 818.4h0M402.5 790.1h0M445.4 819.5h0M460.9 806.9h0M383.0 823.3h0M434.7 799.7h0M455.7 785.2h0M434.2 773.9h0M460.6 772.7h0M446.9 828.2h0M433.2 793.9h0M397.1 805.1h0M379.1 777.0h0M410.9 767.4h0M401.0 823.6h0M438.3 767.5h0M371.2 772.2h0M457.1 838.8h0M407.8 798.9h0M411.9 790.9h0M438.8 824.5h0M429.9 778.4h0M411.3 824.8h0M372.3 787.1h0M417.5 813.3h0M398.4 840.3h0M366.7 778.4h0M375.7 784.7h0M457.8 809.1h0M440.4 827.7h0M375.6 819.8h0M455.6 797.6h0M460.8 822.0h0M447.1 795.2h0M412.5 790.6h0M429.8 785.3h0M411.5 796.9h0M451.1 788.0h0M391.3 789.7h0M455.2 773.1h0M424.3 786.8h0M467.1 777.0h0M408.5 787.2h0M388.6 829.0h0M450.1 832.1h0M371.5 838.6h0M455.3 774.2h0M417.1 820.9h0M404.9 817.2h0M471.3 764.8h0M472.5 799.0h0M367.9 833.3h0M439.0 819.8h0M417.5 802.3h0M378.2 769.1h0M459.1 811.7h0M459.8 777.0h0M454.0 769.2h0M414.7 768.9h0M404.6 773.4h0M447.2 828.8h0M381.1 767.4h0M459.0 788.3h0M435.4 783.5h0M396.8 797.5h0M461.9 838.7h0M401.7 801.3h0M388.0 816.4h0M403.9 825.1h0M452.1 815.9h0M447.3 831.2h0M454.5 811.4h0M454.1 819.8h0M464.4 807.6h0M435.0 772.9h0M380.0 771.9h0M448.2 804.3h0M400.0 832.3h0M404.3 805.1h0M373.1 831.0h0M415.9 792.9h0M412.4 836.5h0M414.6 797.1h0M409.8 804.5h0M406.6 786.6h0M381.9 832.1h0M379.5 790.4h0M466.8 823.5h0M421.2 777.4h0M396.1 831.1h0M389.3 785.8h0M381.0 808.3h0M416.9 831.8h0M458.7 832.2h0M434.9 790.2h0M367.8 774.9h0M374.9 804.9h0M375.9 815.6h0M470.1 774.0h0M444.2 785.1h0M396.6 775.6h0M441.8 792.2h0M395.8 789.7h0M422.7 764.7h0M370.9 767.2h0" stroke="#1818cc" stroke-width="2.80" stroke-linecap="round" stroke-opacity="0.95"/>
<path d="M422.2 815.3l-0.2 0.6M423.1 815.8l-0.2 0.7M410.7 777.4l0.4 0.1M410.0 777.0l0.7 0.2M405.0 826.2l0.3 0.5M442.5 771.7l0.1 1.2M394.8 826.4l0.0 0.3M395.9 826.6l0.1 0.8M376.6 830.2l-1.1 0.7M465.6 821.9l-0.7 0.2M465.8 821.8l-0.6 0.2M462.4 837.8l-0.0 0.2M421.7 812.3l0.8 0.1M422.0 813.8l1.1 0.1M460.7 834.6l0.8 0.7M462.5 835.1l0.8 0.6M420.7 767.8l0.4 0.7M437.4 780.8l-0.5 0.2M438.1 782.4l-0.5 0.3M450.8 817.8l-0.7 0.3M450.8 817.7l-1.0 0.4M432.0 779.2l-0.2 0.6M433.0 779.8l-0.4 1.1M404.9 831.0l-0.1 0.2M405.8 831.7l-0.2 0.9M459.3 795.6l-1.1 0.3M457.2 797.1l-0.6 0.2M408.3 790.2l-0.5 1.1M451.6 775.1l-0.8 0.8M433.2 833.2l-0.7 0.0M431.5 834.3l-1.4 0.0M390.1 805.2l-0.6 0.2M459.8 811.7l0.2 0.6M461.0 812.2l0.4 1.1M455.2 796.0l-0.6 0.8M440.2 781.8l0.3 0.2M368.6 796.9l0.2 1.0M368.0 797.8l0.1 0.3M449.0 801.5l-0.1 0.5M399.9 769.8l-0.5 0.3M398.4 771.6l-1.1 0.7M407.8 766.1l-0.3 0.0M407.8 764.7l-0.6 0.1M384.8 839.8l-0.3 0.3M384.1 839.1l-0.6 0.6M426.3 772.2l0.3 0.6M458.4 827.7l-0.2 0.2M435.5 821.9l-0.6 1.0M397.5 807.5l-0.5 1.2M390.1 816.3l0.6 0.7M467.3 803.5l-0.1 0.8M440.5 801.0l-0.2 0.8M441.5 803.2l-0.2 0.6M367.7 840.7l-0.4 0.8M438.7 827.4l-0.1 0.4M437.4 828.2l-0.2 0.6M464.9 809.4l0.8 0.1M466.1 809.9l1.0 0.1M440.8 805.8l-0.1 0.2M442.0 805.9l-0.2 0.6M384.6 774.4l0.4 0.5M451.3 787.2l-0.0 0.2M451.1 787.6l-0.1 0.6M376.6 807.4l-0.4 0.6M375.7 809.3l-0.2 0.3M399.7 808.1l0.2 1.1M398.7 809.7l0.1 0.4M379.8 819.4l0.2 0.5M381.3 821.1l0.2 0.5M424.3 771.6l1.0 0.2M424.3 810.6l-0.1 0.4M434.2 791.1l-0.7 0.4M403.3 838.0l-0.2 0.1M402.9 837.7l-0.3 0.1M467.6 778.4l-0.0 0.8M466.7 779.3l-0.0 0.4M373.2 837.1l0.6 0.7M458.7 774.4l-1.1 0.2M458.8 774.3l-0.8 0.2M410.9 795.7l0.8 1.0M444.0 825.7l-0.1 1.2M443.6 826.2l-0.0 0.4M466.8 835.0l-0.4 1.1M465.0 836.7l-0.2 0.6M442.8 837.0l-0.4 0.2M442.4 836.6l-0.6 0.3M444.8 809.6l-1.1 0.4M443.2 811.3l-0.3 0.1M377.9 790.5l-0.5 0.9M376.6 790.2l-0.6 1.0M380.1 815.0l-0.5 0.5M375.8 782.4l0.1 0.3M375.9 784.0l0.3 0.8M384.4 834.4l0.4 0.7M392.7 814.6l-0.8 0.3M390.7 816.2l-0.5 0.2M459.9 814.0l-0.5 0.3M404.7 787.6l-0.9 0.5M392.4 818.1l0.1 0.8M393.4 818.6l0.1 0.8M416.7 794.7l0.7 0.5M395.8 824.3l0.4 0.6M395.8 823.7l0.7 1.1M461.1 830.6l0.1 0.8M462.0 830.8l0.1 0.6M367.0 765.6l0.1 0.4M436.5 819.3l0.9 0.4M392.6 823.3l-0.3 0.5M449.1 792.2l0.6 0.0M450.6 793.5l1.4 0.1M425.6 830.7l0.1 0.9M425.1 832.3l0.0 0.2M414.5 801.2l-1.2 0.5M413.2 801.6l-0.7 0.3M376.3 769.2l-1.0 0.3M383.5 778.3l-1.0 0.8M397.6 813.9l-0.7 0.0M397.2 813.3l-1.2 0.0M456.1 769.6l-1.2 0.1M455.3 769.2l-0.3 0.0M412.8 805.2l-1.0 0.3M411.2 806.3l-0.5 0.1M436.5 792.7l0.2 1.1M435.6 793.1l0.1 0.8M435.4 820.2l-0.0 0.3M435.5 820.1l-0.1 0.9M431.1 819.4l-0.0 0.5M441.7 819.8l-0.7 0.5M381.6 781.3l-0.4 0.6M380.2 781.4l-0.5 0.9M431.2 807.3l0.5 0.7M399.9 816.0l-0.5 0.9M424.2 820.9l0.1 1.1M427.1 770.8l0.2 0.8M462.2 784.4l1.1 0.0M390.7 794.8l0.2 1.1M391.4 795.4l0.2 1.3M458.0 792.1l-0.9 0.1M456.4 791.7l-0.8 0.1M370.9 813.0l0.5 0.4M372.4 814.3l0.9 0.9M444.9 786.7l-0.3 0.4M443.5 787.8l-0.1 0.2M419.6 816.3l0.6 0.4M418.6 816.9l0.8 0.6M392.9 772.6l0.4 0.6M394.4 779.1l0.1 0.3M394.6 779.8l0.3 0.7M449.9 797.7l-0.2 0.1M418.6 786.6l-0.5 0.7M416.3 824.9l-0.5 0.4M416.6 825.0l-0.5 0.3M386.7 821.0l-0.2 0.1M385.8 820.7l-0.7 0.4M435.8 838.8l0.9 1.0M373.8 824.8l0.3 0.1M418.4 769.1l-0.6 0.9M405.2 838.2l1.1 0.1M382.1 782.3l-0.4 0.3M380.8 783.8l-1.1 0.7M387.7 796.8l-0.2 0.6M456.4 772.5l-0.6 0.7M457.1 772.9l-0.3 0.3M419.5 838.3l0.2 0.1M418.8 839.2l0.7 0.2M387.7 806.4l-0.6 0.7M385.2 776.9l0.3 0.1M386.4 776.0l0.8 0.2M444.0 832.7l-0.5 1.0M444.2 832.9l-0.5 0.9M429.9 801.2l-0.9 0.7M428.6 803.4l-1.1 0.8M427.1 793.4l-0.3 0.6M427.1 793.9l-0.3 0.5M430.2 807.1l0.3 1.2M389.9 789.7l-0.6 0.1M464.4 807.0l0.7 0.6M465.9 808.2l0.9 0.8M449.6 836.5l-0.7 1.1M392.9 822.9l-0.2 0.7M391.8 822.6l-0.3 0.8M448.5 796.7l-0.3 0.1M451.6 767.7l-0.5 0.9M446.5 827.9l0.4 0.1" stroke="#34f048" stroke-width="1.15" stroke-linecap="round" stroke-opacity="0.9"/>
</g></g>
<clipPath id="c44"><rect x="470.50" y="765.30" width="101.30" height="75.40"/></clipPath>
<g clip-path="url(#c44)"><g fill="none" filter="url(#blr)">
<rect x="470.50" y="765.30" width="101.30" height="75.40" fill="#000000"/>
<path d="M503.7 769.4h0M472.5 823.9h0M523.6 776.0h0M486.9 825.5h0M558.7 828.4h0M521.8 837.1h0M541.0 785.6h0M522.5 819.3h0M524.8 840.6h0M526.1 774.8h0M558.2 828.6h0M554.9 840.9h0M567.6 767.1h0M481.6 833.8h0M553.7 768.8h0M553.5 775.5h0M509.4 791.3h0M538.3 764.7h0M487.4 767.5h0M561.4 771.9h0M563.0 780.0h0M506.9 807.3h0M508.7 801.1h0M524.9 816.5h0M529.7 836.9h0M566.1 820.0h0M506.8 769.0h0M562.2 772.9h0M572.4 782.6h0M575.0 824.0h0M512.6 820.7h0M515.0 782.1h0M533.5 778.6h0M533.7 837.4h0M512.3 806.7h0M495.4 810.8h0M516.3 806.2h0M503.8 805.6h0M527.4 815.4h0M528.9 820.5h0M501.1 798.4h0M524.6 791.1h0M507.6 806.6h0M484.3 822.9h0M478.8 768.9h0M494.4 788.9h0M490.8 819.2h0M533.8 766.0h0M570.3 799.5h0M566.5 802.9h0M471.7 799.5h0M561.3 795.3h0M546.9 774.3h0M533.1 778.2h0M528.2 824.1h0M554.1 789.9h0M570.8 824.9h0M521.6 792.9h0M540.9 795.0h0M521.5 765.1h0M565.6 836.7h0M550.1 812.7h0M540.5 769.8h0M502.8 785.2h0M512.7 825.2h0M563.9 776.0h0M477.8 806.1h0M507.6 802.5h0M520.8 811.7h0M547.1 833.8h0M516.8 827.7h0M516.1 826.9h0M501.1 773.6h0M482.3 773.1h0M482.5 814.8h0M487.0 778.2h0M516.2 816.3h0M490.4 834.6h0M556.0 815.9h0M523.7 836.1h0M539.1 816.0h0M515.8 814.2h0M509.1 799.5h0M550.9 777.2h0M470.1 774.3h0M506.6 773.3h0M537.5 829.7h0M539.7 824.2h0M491.1 790.0h0M571.6 782.0h0M499.5 834.4h0M518.1 812.2h0M482.5 818.6h0M513.3 835.1h0M471.7 773.5h0M555.0 824.9h0M552.5 791.9h0M570.5 837.8h0M541.3 800.4h0M571.3 820.7h0M546.3 779.7h0M475.0 830.9h0M566.9 804.7h0M479.6 830.2h0M552.4 821.8h0M534.6 820.5h0M480.9 797.7h0M470.8 818.4h0M533.7 810.1h0M565.5 767.6h0M508.7 802.7h0M570.2 821.4h0" stroke="#1414b8" stroke-width="2.40" stroke-linecap="round" stroke-opacity="0.9"/>
<path d="M555.4 796.2h0M503.3 811.8h0M479.2 834.0h0M564.0 785.7h0M573.3 807.1h0M496.6 782.3h0M561.3 821.0h0M511.3 823.8h0M522.5 806.1h0M534.4 823.6h0M545.2 796.0h0M566.3 810.4h0M522.2 820.2h0M543.3 782.2h0M486.0 786.1h0M496.5 768.5h0M501.9 791.1h0M510.6 819.9h0M478.5 824.5h0M557.5 766.4h0M565.3 786.2h0M512.7 796.4h0M556.0 822.9h0M483.9 827.7h0M554.7 779.8h0M504.1 824.7h0M490.3 771.9h0M530.1 768.7h0M553.4 830.8h0M495.2 774.5h0M529.7 803.7h0M523.7 770.2h0M517.3 774.2h0M496.0 792.3h0M567.5 773.6h0M498.0 822.1h0M495.3 840.7h0M526.0 772.5h0M508.9 793.6h0M490.6 826.2h0M511.1 765.1h0M505.2 785.4h0M559.1 829.1h0M537.1 827.5h0M493.6 818.5h0M534.3 803.6h0M554.8 788.8h0M571.0 778.7h0M507.3 820.7h0M516.1 798.8h0M509.0 821.0h0M529.1 797.6h0M494.2 823.3h0M512.6 783.3h0M568.0 771.0h0M499.5 826.6h0M518.9 790.9h0M540.2 825.5h0M477.9 837.9h0M556.1 809.0h0M547.4 823.3h0M486.1 778.2h0M498.5 795.5h0M556.7 773.7h0M539.9 831.9h0M503.1 766.4h0M546.0 773.5h0M473.9 794.8h0M568.2 789.2h0M479.9 777.8h0M531.4 778.2h0M534.3 826.8h0M534.3 772.7h0M474.0 785.5h0M529.5 781.9h0M487.7 780.8h0M543.3 815.5h0M498.0 777.7h0M484.7 798.5h0M545.9 807.2h0M503.5 815.4h0M569.2 786.8h0M509.4 818.9h0M478.2 817.3h0M486.9 807.9h0M490.7 786.0h0M514.6 781.3h0M512.1 765.0h0M532.5 811.1h0M538.1 793.0h0M558.4 795.0h0M549.5 786.9h0M496.0 813.7h0M495.4 807.2h0M545.4 832.4h0M492.6 780.6h0M518.7 822.1h0M496.7 780.9h0M506.2 834.8h0M509.3 794.1h0M523.9 785.7h0M525.9 786.8h0M538.1 835.7h0M517.6 836.8h0M487.9 840.0h0M480.6 805.7h0M497.4 789.5h0M488.0 816.5h0M529.7 800.2h0M474.6 803.5h0M490.9 798.8h0M549.4 787.8h0" stroke="#1c1ce4" stroke-width="2.30" stroke-linecap="round" stroke-opacity="0.95"/>
<path d="M542.5 816.5h0M507.6 777.5h0M539.9 814.9h0M551.9 802.1h0M545.8 775.1h0M551.0 818.8h0M543.4 820.1h0M546.9 819.2h0M478.8 837.6h0M541.7 808.9h0M507.9 811.0h0M507.9 777.7h0M483.1 819.2h0M498.6 837.0h0M536.6 832.8h0M558.7 802.9h0M569.9 829.1h0M476.8 780.8h0M470.7 800.7h0M551.3 796.9h0M532.2 815.3h0M550.2 794.0h0M479.4 783.8h0M511.7 808.2h0M469.9 810.7h0M482.2 810.9h0M544.9 778.1h0M546.7 806.8h0M546.6 834.5h0M490.7 833.1h0M486.9 802.1h0M498.8 803.6h0M510.0 768.9h0M555.0 776.9h0M512.5 778.4h0M497.1 766.8h0M481.9 795.3h0M470.8 838.9h0M470.6 789.9h0M544.7 802.7h0M474.9 781.5h0M517.2 837.5h0M520.6 795.6h0M499.6 839.2h0M533.6 792.5h0M509.1 775.3h0M493.1 827.8h0M516.9 772.4h0M566.5 817.7h0M472.1 767.6h0M558.7 837.9h0M567.2 811.6h0M558.0 785.8h0M526.9 823.1h0M537.7 795.0h0M484.1 794.0h0M479.0 770.0h0M534.0 782.3h0M529.0 837.6h0M576.0 832.7h0M559.6 802.5h0M474.2 808.2h0M499.2 808.9h0M474.9 788.6h0M473.0 823.8h0M552.6 783.4h0M522.6 782.6h0M537.3 815.4h0M532.8 830.0h0M520.1 826.0h0M556.3 803.0h0M526.3 785.2h0M551.0 807.7h0M521.3 778.0h0M525.3 829.1h0M558.3 828.5h0M487.5 810.1h0M530.5 806.1h0M546.0 838.0h0M521.3 787.0h0M478.2 789.7h0M522.2 802.9h0M529.2 793.8h0M542.4 798.5h0M531.3 769.9h0M574.2 795.0h0M508.6 813.6h0M488.4 824.4h0M553.9 836.2h0M559.3 781.6h0M470.4 779.4h0M488.0 798.9h0M506.0 832.5h0M508.4 826.0h0M559.4 807.0h0M487.8 836.4h0M479.4 776.7h0M566.5 839.3h0M527.6 808.9h0M511.8 790.2h0M474.7 813.7h0M514.8 786.1h0M568.6 832.5h0M478.9 765.5h0M547.8 764.7h0M482.2 829.2h0M492.4 823.3h0M548.5 792.0h0M494.9 836.0h0M551.0 769.0h0M493.0 797.6h0M560.2 832.4h0" stroke="#2222fa" stroke-width="2.60" stroke-linecap="round" stroke-opacity="0.95"/>
<path d="M537.7 802.8h0M575.1 768.5h0M479.9 801.1h0M542.4 781.7h0M502.8 796.6h0M501.3 790.9h0M571.4 815.3h0M470.2 806.2h0M534.9 798.4h0M482.9 764.5h0M571.0 799.0h0M555.4 832.6h0M568.6 793.4h0M526.7 798.3h0M495.3 828.7h0M572.0 798.2h0M575.1 823.8h0M545.0 769.3h0M479.4 764.6h0M564.1 789.8h0M564.9 770.3h0M571.6 773.0h0M556.9 820.0h0M527.3 829.1h0M475.7 815.3h0M567.1 795.5h0M490.5 781.1h0M518.4 796.4h0M532.8 839.1h0M494.1 833.0h0M489.7 793.9h0M475.4 832.2h0M529.9 778.7h0M562.7 811.3h0M547.0 814.9h0M570.7 829.8h0M546.8 786.5h0M537.3 784.1h0M542.4 776.9h0M525.0 806.3h0M568.1 800.0h0M560.4 787.9h0M525.0 772.3h0M565.8 818.2h0M558.3 781.1h0M542.2 785.5h0M539.8 841.3h0M504.4 841.3h0M572.0 813.4h0M488.2 793.2h0M559.9 814.9h0M503.9 777.2h0M478.5 775.5h0M563.0 801.5h0M537.7 806.3h0M550.2 802.1h0M573.6 788.9h0M564.0 839.4h0M496.5 770.8h0M564.1 828.3h0M539.2 781.7h0M515.3 769.4h0M533.2 788.5h0M490.1 815.7h0M562.7 768.2h0M477.7 823.3h0M552.3 811.6h0M496.0 769.3h0M478.3 793.9h0M503.4 829.2h0M496.4 798.1h0M516.3 822.7h0M563.9 831.8h0M559.3 810.5h0M533.2 788.6h0M559.0 836.9h0M541.2 841.5h0M516.0 802.5h0M500.5 777.0h0M514.4 832.2h0M472.5 785.0h0M502.6 815.8h0M482.5 782.9h0M524.5 766.7h0M534.8 812.0h0M477.6 822.6h0M572.1 803.7h0M550.3 829.8h0M512.5 841.2h0M486.9 808.0h0M500.4 825.8h0M470.9 811.4h0M508.9 838.5h0M517.1 831.5h0M573.7 774.2h0M564.3 779.8h0M519.3 783.0h0M496.4 795.0h0M500.0 816.7h0M487.4 841.6h0M524.4 809.0h0M513.1 803.2h0M506.7 789.4h0M488.8 806.7h0M527.1 811.2h0M546.3 819.3h0M564.8 815.6h0M511.4 827.7h0M550.4 809.1h0M544.6 827.4h0M542.8 795.1h0M512.9 791.2h0M492.0 783.8h0M499.8 814.0h0" stroke="#1818cc" stroke-width="2.80" stroke-linecap="round" stroke-opacity="0.95"/>
<path d="M565.2 805.2l-0.1 0.3M564.5 805.7l-0.2 1.2M476.5 789.6l-0.1 1.2M477.4 791.5l-0.1 1.3M505.2 768.6l0.2 0.2M504.9 768.7l0.9 0.9M516.9 772.2l-0.3 1.1M517.3 765.8l-1.0 0.7M512.5 765.7l0.7 0.7M514.3 767.7l0.7 0.7M484.6 812.7l0.2 0.1M511.5 826.2l0.7 0.1M511.0 827.1l1.0 0.2M478.6 830.6l-0.3 0.1M479.1 830.0l-0.8 0.4M562.9 828.0l-0.5 0.9M563.4 829.4l-0.2 0.4M487.0 782.8l-0.4 0.1M564.0 785.2l0.4 1.1M565.0 784.9l0.3 0.9M535.6 780.7l0.5 0.2M523.6 779.4l0.1 1.2M524.5 781.8l0.1 1.1M524.1 777.8l-1.0 0.2M523.9 776.7l-1.2 0.3M493.2 839.7l0.1 1.2M507.4 768.2l-0.7 0.3M506.9 767.7l-1.0 0.5M522.0 787.1l0.3 0.2M523.4 786.6l0.4 0.2M542.1 799.9l1.0 0.1M541.6 799.4l0.4 0.0M548.4 779.1l-1.2 0.3M547.2 780.0l-0.5 0.1M525.3 796.7l-0.7 0.1M496.9 807.5l0.4 0.5M496.0 808.0l0.7 0.8M544.0 777.2l-0.4 0.6M542.2 776.6l-0.2 0.3M518.7 797.1l0.3 0.2M522.2 822.0l-1.3 0.2M522.0 821.9l-1.1 0.2M556.7 810.2l0.9 0.2M557.3 810.6l0.3 0.1M544.9 781.1l0.4 0.7M543.8 781.1l0.6 1.0M564.5 782.1l-0.3 0.2M502.6 796.2l-0.9 0.3M529.6 778.7l-1.2 0.5M527.0 778.0l-1.3 0.5M518.2 789.8l-0.7 0.0M519.0 785.8l-0.1 0.2M472.4 813.6l-0.3 0.4M471.4 813.5l-0.2 0.3M517.5 770.6l0.9 1.0M518.1 770.5l0.6 0.7M570.1 814.6l-0.5 0.9M499.7 806.1l-0.3 0.0M500.1 805.5l-1.1 0.1M472.8 808.3l-0.3 0.1M471.9 808.8l-0.9 0.4M500.2 821.3l-0.1 1.0M559.7 790.3l-0.2 0.2M560.7 789.1l-0.4 0.4M525.0 781.2l-0.9 0.0M502.8 786.5l0.1 0.3M569.0 794.3l-0.2 0.9M521.5 833.9l0.7 0.7M523.3 835.3l0.6 0.5M548.6 788.8l-0.2 0.2M570.9 840.5l-0.2 0.2M570.0 839.5l-0.2 0.1M523.9 823.2l-1.0 0.8M522.9 823.5l-1.0 0.8M520.6 832.6l0.3 0.4M507.9 828.4l-0.2 0.1M506.8 830.0l-0.8 0.5M472.2 817.2l-0.4 0.3M472.1 817.3l-0.4 0.2M516.6 801.3l-0.5 0.2M503.5 797.0l0.1 0.8M504.8 797.0l0.2 1.3M520.0 777.9l-0.7 0.3M516.6 785.8l-0.8 0.9M516.2 786.0l-0.6 0.6M520.5 827.1l-0.6 0.1M511.0 797.9l0.2 0.6M512.7 798.1l0.2 0.4M571.6 792.6l-0.3 0.4M570.1 793.0l-0.3 0.5M519.9 794.2l0.9 0.7M564.6 801.9l-0.5 0.1M565.6 834.8l-0.9 0.1M565.5 836.4l-0.6 0.1M537.9 835.1l-0.1 0.8M538.8 834.8l-0.1 0.6M534.2 818.8l0.2 0.4M563.4 792.1l-0.6 0.1M485.0 815.4l-0.8 0.5M498.8 816.1l1.3 0.1M501.1 815.9l0.4 0.0M509.0 824.6l1.0 0.2M509.2 824.5l0.6 0.1M541.9 839.3l0.3 0.1M501.0 834.8l-0.3 0.1M559.1 815.6l-1.3 0.6M558.8 817.6l-1.1 0.5M526.9 824.4l-1.0 0.0M525.8 823.7l-1.3 0.1M533.3 806.7l-0.1 0.4M532.1 807.1l-0.1 0.3M482.1 808.9l-0.6 1.0M482.5 809.5l-0.2 0.4M524.7 803.1l-0.5 0.0M525.3 803.4l-0.3 0.0M532.9 823.5l0.2 0.3M522.5 829.3l-0.6 0.5M561.9 809.6l-0.2 0.7M561.7 809.9l-0.2 0.9M495.1 827.9l0.3 0.0M496.6 828.2l1.2 0.1M500.2 799.6l-0.9 0.6M498.7 800.9l-1.0 0.6M504.0 828.1l0.2 0.3M568.1 838.1l1.0 0.8M569.0 838.0l0.6 0.6M545.7 830.2l-0.7 0.7M546.4 830.7l-0.3 0.3M501.7 805.2l0.3 0.8M571.0 826.0l-1.2 0.2M526.9 829.1l0.7 0.8M493.1 835.0l0.2 0.2M543.8 817.6l1.0 0.6M470.9 814.1l-0.4 0.0M471.8 813.9l-0.3 0.0M569.2 809.8l-0.4 0.9M567.8 811.2l-0.5 1.1M553.2 830.5l-0.0 0.3M493.5 787.1l1.0 0.5M519.1 769.1l1.1 0.0M520.2 768.8l0.9 0.0M510.0 783.3l0.3 0.1M486.7 790.3l-0.3 0.9M495.6 789.0l-0.3 0.1M496.4 789.7l-1.1 0.4M531.2 826.0l-0.1 0.2M530.1 826.2l-0.2 0.6M502.3 817.0l0.4 0.2M484.9 815.0l0.3 1.0M486.5 815.4l0.2 0.7M489.0 795.1l0.7 0.1M490.8 795.7l0.6 0.1M497.8 804.4l0.6 0.2M537.3 797.5l1.0 0.9M539.6 799.3l0.6 0.5M491.5 804.2l0.7 0.6M491.7 804.0l0.3 0.3M515.9 808.5l-0.1 0.6M516.7 808.7l-0.1 0.4M560.8 823.3l-0.0 0.4M560.2 822.4l-0.1 0.9M508.0 793.7l-0.2 1.0M545.6 799.2l-0.6 0.2M518.8 815.9l0.7 0.8M520.1 815.6l0.7 0.7M563.6 779.6l1.0 0.2M564.2 780.2l0.7 0.1M498.4 779.5l-0.2 0.4M505.6 782.3l0.4 0.1M518.6 839.1l-0.4 0.3M503.5 765.7l0.0 0.5M504.6 766.1l0.1 0.6M567.0 814.9l-0.8 0.1M570.1 808.2l-1.4 0.0M569.7 806.9l-1.0 0.0M568.0 799.7l1.2 0.6M570.1 799.6l0.3 0.2M490.5 831.7l-1.1 0.1M483.9 779.6l-0.7 1.2M483.3 780.0l-0.3 0.5M512.1 769.5l1.1 0.1M488.9 780.4l0.4 0.4M550.6 801.4l-0.2 1.2M515.0 774.9l0.7 0.4M483.1 823.3l-0.1 0.6M524.0 781.7l-0.2 0.1M502.4 792.7l1.2 0.4M502.9 794.2l0.3 0.1M560.6 820.4l-0.4 0.1M539.3 801.1l-0.5 0.3M549.1 782.4l-1.1 0.6M547.7 783.6l-0.7 0.4M525.9 802.7l0.2 0.5M510.5 832.1l1.0 0.0M472.9 776.4l-0.8 0.2M562.7 819.3l0.1 0.2M562.7 818.9l0.7 1.0M494.3 805.7l0.3 0.8M552.3 772.5l0.5 0.1M551.4 813.4l0.7 0.5M552.9 814.1l0.2 0.1M567.5 805.7l0.2 0.9M569.0 807.3l0.2 0.9M481.5 839.4l0.9 0.2M481.1 839.1l0.5 0.1M516.0 767.4l-0.8 0.9M536.6 784.5l0.0 0.3M536.4 784.4l0.2 1.1M542.4 816.4l-0.4 0.3M542.3 818.2l-0.4 0.3M491.5 832.0l0.8 0.6M528.4 793.4l-0.2 0.6M567.3 770.3l1.2 0.2M567.1 769.2l0.8 0.1M568.4 839.0l0.2 0.6M561.2 795.6l0.5 0.1M560.8 795.7l0.3 0.1M548.0 824.1l-0.3 0.4M534.8 785.5l-0.6 0.8M531.3 819.0l-0.3 1.0M530.3 821.0l-0.1 0.3M549.2 774.1l-0.6 1.2M537.0 837.7l-0.2 0.8M535.8 839.1l-0.3 1.3M525.8 815.9l0.0 1.4M500.8 813.4l0.3 0.2M473.0 766.6l-0.8 0.6M473.0 767.7l-0.8 0.6M524.8 797.7l-0.6 0.2M524.4 798.0l-0.3 0.1M544.7 800.7l0.6 0.2M500.9 804.2l-0.4 1.2M550.3 809.7l1.0 0.7M550.6 811.4l1.0 0.7M552.5 836.0l-0.3 0.0M481.2 771.8l0.2 1.2M508.0 806.1l0.1 1.2M507.6 806.2l0.1 0.6M524.0 800.8l0.2 0.9M555.8 801.4l0.2 0.0M555.1 800.1l0.8 0.0M488.7 806.0l0.3 0.1M488.9 806.5l0.8 0.2M514.7 787.9l0.8 0.6M514.6 787.4l0.2 0.1M555.3 838.5l-0.3 1.1M553.9 840.9l-0.3 1.2M548.3 772.3l0.5 0.1M547.9 772.6l0.5 0.1M550.0 820.1l-0.5 0.3M550.0 820.9l-0.2 0.1M491.6 774.2l0.5 0.6M528.5 818.6l-0.8 0.6M526.2 818.7l-0.6 0.5M534.6 819.7l0.2 1.3M560.9 809.8l-0.5 0.5M542.4 836.9l0.9 0.4M512.4 802.9l0.5 0.1M512.3 802.6l0.3 0.0M476.4 832.1l1.0 0.2M497.3 783.3l0.7 0.7M498.2 783.8l0.7 0.7M471.9 837.3l-0.6 1.1M469.9 837.4l-0.1 0.2M559.1 771.9l-0.4 0.1M559.8 772.9l-0.6 0.2M489.5 833.9l0.9 0.5" stroke="#34f048" stroke-width="1.15" stroke-linecap="round" stroke-opacity="0.9"/>
</g></g>
<text x="556.00" y="833.20" font-size="7.2" text-anchor="middle" fill="#e8e8e8" style="stroke:#e8e8e8">50 µm</text>
<line x1="549.20" y1="836.60" x2="563.80" y2="836.60" stroke="#b8b8b8" stroke-width="0.9"/>
<text transform="translate(364.50,727.40) rotate(-90)" font-size="10.3" text-anchor="middle" fill="#231f20">PF</text>
<text transform="translate(364.50,805.00) rotate(-90)" font-size="10.3" text-anchor="middle" fill="#231f20">EF</text>
<text x="419.40" y="850.50" font-size="10.3" text-anchor="middle">Flox</text>
<text x="518.00" y="850.50" font-size="10.3" text-anchor="middle">HKO</text>
<rect x="614.60" y="706.10" width="10.70" height="3.80" fill="#f7b9b9" stroke="#f28c8c" stroke-width="0.8"/>
<text x="627.90" y="710.70" font-size="8.8">Flox-PF</text>
<rect x="614.60" y="715.20" width="10.70" height="3.80" fill="#c3e4e1" stroke="#5cb3a8" stroke-width="0.8"/>
<text x="627.90" y="719.80" font-size="8.8">HKO-PF</text>
<rect x="614.60" y="724.30" width="10.70" height="3.80" fill="#cfc0df" stroke="#9c88cc" stroke-width="0.8"/>
<text x="627.90" y="728.90" font-size="8.8">Flox-EF</text>
<rect x="614.60" y="733.40" width="10.70" height="3.80" fill="#f4d0a8" stroke="#e8a25c" stroke-width="0.8"/>
<text x="627.90" y="738.00" font-size="8.8">HKO-EF</text>
<rect x="607.55" y="834.74" width="12.70" height="5.46" fill="#f7b9b9" stroke="#f28c8c" stroke-width="0.7"/>
<rect x="626.65" y="828.76" width="12.70" height="11.44" fill="#c3e4e1" stroke="#5cb3a8" stroke-width="0.7"/>
<rect x="646.35" y="807.70" width="12.70" height="32.50" fill="#cfc0df" stroke="#9c88cc" stroke-width="0.7"/>
<rect x="665.85" y="783.85" width="12.70" height="56.35" fill="#f4d0a8" stroke="#e8a25c" stroke-width="0.7"/>
<line x1="600.60" y1="755.90" x2="600.60" y2="840.20" stroke="#3c3c3c" stroke-width="1.0"/>
<line x1="600.10" y1="840.50" x2="685.00" y2="840.50" stroke="#6e6e6e" stroke-width="1.3"/>
<line x1="597.60" y1="840.20" x2="600.60" y2="840.20" stroke="#3c3c3c" stroke-width="0.9"/>
<text x="595.60" y="843.30" font-size="8.6" text-anchor="end">0</text>
<line x1="597.60" y1="812.27" x2="600.60" y2="812.27" stroke="#3c3c3c" stroke-width="0.9"/>
<text x="595.60" y="815.36" font-size="8.6" text-anchor="end">5</text>
<line x1="597.60" y1="784.33" x2="600.60" y2="784.33" stroke="#3c3c3c" stroke-width="0.9"/>
<text x="595.60" y="787.43" font-size="8.6" text-anchor="end">10</text>
<line x1="597.60" y1="756.40" x2="600.60" y2="756.40" stroke="#3c3c3c" stroke-width="0.9"/>
<text x="595.60" y="759.50" font-size="8.6" text-anchor="end">15</text>
<line x1="613.90" y1="830.48" x2="613.90" y2="838.30" stroke="#f03c48" stroke-width="0.9"/>
<line x1="611.10" y1="830.48" x2="616.70" y2="830.48" stroke="#f03c48" stroke-width="0.9"/>
<line x1="611.10" y1="838.30" x2="616.70" y2="838.30" stroke="#f03c48" stroke-width="0.9"/>
<circle cx="613.90" cy="827.52" r="1.45" fill="#f03c48"/>
<circle cx="613.90" cy="834.39" r="1.45" fill="#f03c48"/>
<circle cx="611.00" cy="835.62" r="1.45" fill="#f03c48"/>
<circle cx="616.80" cy="836.85" r="1.45" fill="#f03c48"/>
<circle cx="613.90" cy="838.08" r="1.45" fill="#f03c48"/>
<line x1="633.00" y1="821.99" x2="633.00" y2="834.84" stroke="#2e9a8a" stroke-width="0.9"/>
<line x1="630.20" y1="821.99" x2="635.80" y2="821.99" stroke="#2e9a8a" stroke-width="0.9"/>
<line x1="630.20" y1="834.84" x2="635.80" y2="834.84" stroke="#2e9a8a" stroke-width="0.9"/>
<circle cx="633.00" cy="820.70" r="1.45" fill="#2e9a8a"/>
<circle cx="630.10" cy="823.22" r="1.45" fill="#2e9a8a"/>
<circle cx="633.00" cy="825.45" r="1.45" fill="#2e9a8a"/>
<circle cx="633.00" cy="834.39" r="1.45" fill="#2e9a8a"/>
<circle cx="630.10" cy="835.62" r="1.45" fill="#2e9a8a"/>
<line x1="652.70" y1="797.57" x2="652.70" y2="817.13" stroke="#6a54c2" stroke-width="0.9"/>
<line x1="649.90" y1="797.57" x2="655.50" y2="797.57" stroke="#6a54c2" stroke-width="0.9"/>
<line x1="649.90" y1="817.13" x2="655.50" y2="817.13" stroke="#6a54c2" stroke-width="0.9"/>
<circle cx="652.70" cy="790.93" r="1.45" fill="#6a54c2"/>
<circle cx="652.70" cy="808.91" r="1.45" fill="#6a54c2"/>
<circle cx="649.80" cy="809.53" r="1.45" fill="#6a54c2"/>
<circle cx="652.70" cy="812.04" r="1.45" fill="#6a54c2"/>
<circle cx="652.70" cy="815.79" r="1.45" fill="#6a54c2"/>
<line x1="672.20" y1="771.76" x2="672.20" y2="795.23" stroke="#c8650c" stroke-width="0.9"/>
<line x1="669.40" y1="771.76" x2="675.00" y2="771.76" stroke="#c8650c" stroke-width="0.9"/>
<line x1="669.40" y1="795.23" x2="675.00" y2="795.23" stroke="#c8650c" stroke-width="0.9"/>
<circle cx="672.20" cy="768.69" r="1.45" fill="#c8650c"/>
<circle cx="672.20" cy="775.39" r="1.45" fill="#c8650c"/>
<circle cx="672.20" cy="782.88" r="1.45" fill="#c8650c"/>
<circle cx="672.20" cy="794.05" r="1.45" fill="#c8650c"/>
<circle cx="669.30" cy="794.67" r="1.45" fill="#c8650c"/>
<path d="M613.20,759.60V757.00H652.00V759.60" fill="none" stroke="#3c3c3c" stroke-width="0.9"/>
<text x="632.60" y="755.70" font-size="7.3" text-anchor="middle">0.0006</text>
<path d="M653.00,759.60V757.00H671.50V759.60" fill="none" stroke="#3c3c3c" stroke-width="0.9"/>
<text x="662.25" y="755.70" font-size="7.3" text-anchor="middle">0.0017</text>
<text transform="translate(584.10,801.60) rotate(-90)" font-size="9.4" text-anchor="middle" fill="#231f20">Relative MFI (fold)</text>
</svg></body></html>
